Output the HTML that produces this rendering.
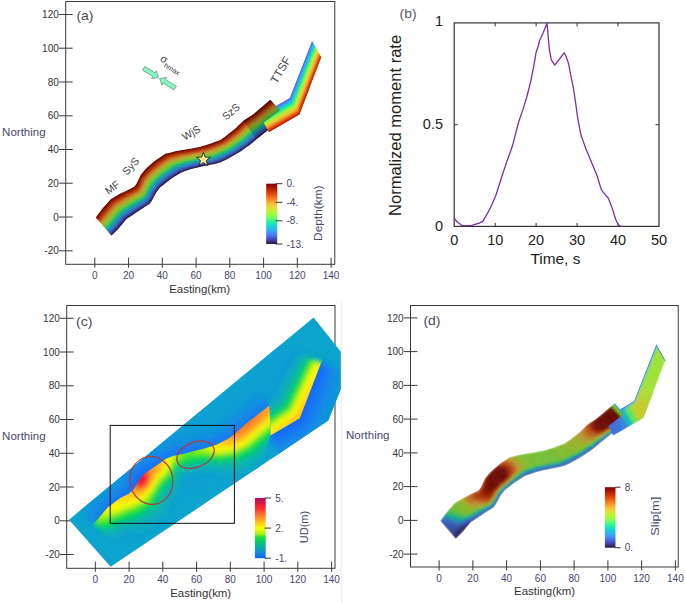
<!DOCTYPE html>
<html><head><meta charset="utf-8"><style>
html,body{margin:0;padding:0;background:#fff;width:685px;height:603px;overflow:hidden;}
svg{display:block;}
text{font-family:"Liberation Sans",sans-serif;}
</style></head><body>
<svg width="685" height="603" viewBox="0 0 685 603">
<defs><linearGradient id="gturbo" x1="0" y1="0" x2="0" y2="1"><stop offset="0.000" stop-color="#7a0403"/><stop offset="0.050" stop-color="#a11201"/><stop offset="0.100" stop-color="#c32503"/><stop offset="0.150" stop-color="#dd3d08"/><stop offset="0.200" stop-color="#f05b12"/><stop offset="0.250" stop-color="#fb7e21"/><stop offset="0.300" stop-color="#fea431"/><stop offset="0.350" stop-color="#f6c33a"/><stop offset="0.400" stop-color="#e1dd37"/><stop offset="0.450" stop-color="#c3f134"/><stop offset="0.500" stop-color="#a4fc3c"/><stop offset="0.550" stop-color="#79fe59"/><stop offset="0.600" stop-color="#46f884"/><stop offset="0.650" stop-color="#20eaac"/><stop offset="0.700" stop-color="#19d5cd"/><stop offset="0.750" stop-color="#28bceb"/><stop offset="0.800" stop-color="#3e9bfe"/><stop offset="0.850" stop-color="#477bf2"/><stop offset="0.900" stop-color="#4559cb"/><stop offset="0.950" stop-color="#3d358b"/><stop offset="1.000" stop-color="#30123b"/></linearGradient>
<linearGradient id="gcc" x1="0" y1="0" x2="0" y2="1"><stop offset="0.000" stop-color="#b0105a"/><stop offset="0.050" stop-color="#cc144d"/><stop offset="0.100" stop-color="#e81840"/><stop offset="0.150" stop-color="#f82530"/><stop offset="0.200" stop-color="#ff3e2b"/><stop offset="0.250" stop-color="#ff5f2e"/><stop offset="0.300" stop-color="#ff8030"/><stop offset="0.350" stop-color="#ffa028"/><stop offset="0.400" stop-color="#ffc020"/><stop offset="0.450" stop-color="#ffdf10"/><stop offset="0.500" stop-color="#ffff00"/><stop offset="0.550" stop-color="#cff810"/><stop offset="0.600" stop-color="#a0f020"/><stop offset="0.650" stop-color="#20e040"/><stop offset="0.700" stop-color="#09d557"/><stop offset="0.750" stop-color="#06c478"/><stop offset="0.800" stop-color="#10b0a0"/><stop offset="0.850" stop-color="#10a0b8"/><stop offset="0.900" stop-color="#1090d0"/><stop offset="0.950" stop-color="#1078e7"/><stop offset="1.000" stop-color="#1060ff"/></linearGradient>
<filter id="b1" x="-50%" y="-50%" width="200%" height="200%"><feGaussianBlur stdDeviation="1"/></filter>
<filter id="b2" x="-50%" y="-50%" width="200%" height="200%"><feGaussianBlur stdDeviation="2"/></filter>
<filter id="b3" x="-50%" y="-50%" width="200%" height="200%"><feGaussianBlur stdDeviation="3"/></filter>
<filter id="b4" x="-50%" y="-50%" width="200%" height="200%"><feGaussianBlur stdDeviation="4"/></filter>
<filter id="b5" x="-50%" y="-50%" width="200%" height="200%"><feGaussianBlur stdDeviation="5"/></filter>
<filter id="b6" x="-50%" y="-50%" width="200%" height="200%"><feGaussianBlur stdDeviation="6"/></filter>
<filter id="b8" x="-50%" y="-50%" width="200%" height="200%"><feGaussianBlur stdDeviation="8"/></filter>
<filter id="b10" x="-50%" y="-50%" width="200%" height="200%"><feGaussianBlur stdDeviation="10"/></filter>
<clipPath id="cse"><polygon points="182.6,183.8 360.8,49.6 400.0,200.0 200.0,300.0"/></clipPath>
<clipPath id="cdom"><polygon points="69.0,519.7 313.6,317.4 340.7,351.6 341.2,352.2 341.2,388.0 328.3,420.5 110.6,566.8"/></clipPath>
<clipPath id="chw"><polygon points="96.0,521.3 107.9,507.2 119.9,498.2 128.8,493.7 134.0,489.3 137.8,481.8 142.2,475.8 149.7,469.9 158.7,463.9 166.1,458.7 173.6,455.7 185.5,453.4 190.0,452.0 204.6,448.4 216.3,444.7 228.0,438.9 236.7,432.3 245.5,424.3 255.7,416.3 269.6,405.3 270.5,435.5 262.0,460.0 200.0,600.0 60.0,600.0 60.0,540.0 85.0,533.0"/></clipPath>
<clipPath id="cthw"><polygon points="270.5,435.5 299.8,418.3 321.7,361.2 332.7,332.7 300.0,300.0 250.0,370.0 269.6,405.3"/></clipPath>
<clipPath id="cribd"><polygon points="440.1,520.8 442.4,517.7 444.8,514.6 446.2,512.7 447.1,511.5 447.2,511.4 449.7,508.6 452.3,505.8 454.4,503.3 454.8,502.9 455.0,502.7 458.1,500.8 459.2,500.2 461.4,498.9 462.9,498.0 464.8,497.0 468.3,495.3 469.3,494.8 470.8,494.1 471.8,493.6 475.2,491.9 478.5,490.2 478.7,490.1 478.7,490.1 481.0,487.0 483.0,482.6 485.0,478.3 487.6,475.2 489.1,473.5 489.7,472.8 490.3,472.2 493.2,469.4 494.3,468.4 496.3,466.7 498.7,464.7 499.4,464.1 500.4,463.3 502.7,461.8 506.0,459.6 508.8,457.7 509.4,457.3 509.6,457.2 513.3,456.3 517.2,455.3 519.3,454.7 519.8,454.6 521.2,454.4 525.2,453.7 529.2,453.1 529.7,453.0 533.1,452.4 535.2,452.1 537.1,451.7 540.0,451.1 541.1,450.9 545.0,450.1 545.4,450.0 548.7,449.0 548.9,448.9 552.8,447.7 555.4,446.9 555.6,446.8 556.6,446.4 560.4,445.0 564.2,443.6 564.3,443.6 567.5,441.3 569.0,440.3 570.6,439.2 570.8,439.0 574.0,436.5 577.2,433.9 579.1,432.3 579.8,431.8 580.3,431.4 583.2,428.5 585.5,426.3 586.1,425.7 587.7,424.2 589.2,423.2 592.3,421.2 592.6,421.0 596.0,418.8 596.9,418.2 599.2,416.3 599.4,416.1 602.3,413.7 604.3,412.0 605.4,411.1 608.4,408.5 611.5,405.8 614.6,403.2 630.3,420.4 627.1,422.8 623.8,425.1 620.6,427.5 619.4,428.3 617.3,429.8 614.3,432.0 614.1,432.2 611.7,434.0 610.9,434.6 607.7,437.1 607.4,437.3 604.6,439.6 603.2,440.7 601.4,442.1 600.8,442.6 598.4,444.7 595.3,447.3 594.9,447.7 594.2,448.3 592.1,449.7 588.8,452.0 585.6,454.3 585.3,454.5 583.7,455.6 582.2,456.5 578.8,458.4 578.7,458.4 575.2,460.4 571.7,462.4 570.7,462.9 570.6,463.0 568.1,464.2 564.5,465.9 564.3,466.0 560.9,466.8 560.6,466.9 556.7,467.8 555.6,468.0 552.7,468.6 550.8,468.9 548.8,469.3 545.4,470.0 544.9,470.1 541.0,471.1 537.1,472.0 535.7,472.4 535.2,472.5 533.2,473.2 529.5,474.5 525.9,475.8 525.7,475.9 525.0,476.1 522.2,477.9 518.8,480.0 516.6,481.5 515.5,482.2 514.7,482.7 512.3,484.6 510.2,486.2 509.1,487.1 505.9,489.6 505.3,490.1 504.5,490.7 503.2,492.4 500.7,495.6 498.4,499.9 496.0,504.3 493.7,507.4 493.7,507.4 493.6,507.5 490.5,509.5 487.3,511.5 486.4,512.1 485.0,513.0 484.1,513.6 480.9,515.7 479.1,516.9 477.7,517.9 475.5,519.3 474.5,520.0 471.5,521.9 471.3,522.1 470.8,522.4 468.7,524.9 466.3,527.8 463.9,530.7 463.8,530.8 462.9,531.9 461.2,533.6 458.5,536.3 455.8,539.0"/></clipPath>
<clipPath id="cttd"><polygon points="603.8,418.8 634.1,401.3 656.4,344.4 665.5,360.8 643.6,417.9 613.3,435.4"/></clipPath>
<clipPath id="csed"><polygon points="526.9,487.2 705.1,353.0 744.3,503.4 544.3,603.4"/></clipPath></defs>
<rect x="65.7" y="1.5" width="269.1" height="262.8" fill="none" stroke="#3a3a3a" stroke-width="1"/>
<line x1="59.0" y1="250.8" x2="72.7" y2="250.8" stroke="#3a3a3a" stroke-width="1"/>
<text x="58.8" y="254.3" font-size="10" fill="#333" text-anchor="end">-20</text>
<line x1="59.0" y1="217.0" x2="72.7" y2="217.0" stroke="#3a3a3a" stroke-width="1"/>
<text x="58.8" y="220.6" font-size="10" fill="#333" text-anchor="end">0</text>
<line x1="59.0" y1="183.2" x2="72.7" y2="183.2" stroke="#3a3a3a" stroke-width="1"/>
<text x="58.8" y="186.8" font-size="10" fill="#333" text-anchor="end">20</text>
<line x1="59.0" y1="149.5" x2="72.7" y2="149.5" stroke="#3a3a3a" stroke-width="1"/>
<text x="58.8" y="153.1" font-size="10" fill="#333" text-anchor="end">40</text>
<line x1="59.0" y1="115.8" x2="72.7" y2="115.8" stroke="#3a3a3a" stroke-width="1"/>
<text x="58.8" y="119.3" font-size="10" fill="#333" text-anchor="end">60</text>
<line x1="59.0" y1="82.0" x2="72.7" y2="82.0" stroke="#3a3a3a" stroke-width="1"/>
<text x="58.8" y="85.6" font-size="10" fill="#333" text-anchor="end">80</text>
<line x1="59.0" y1="48.2" x2="72.7" y2="48.2" stroke="#3a3a3a" stroke-width="1"/>
<text x="58.8" y="51.9" font-size="10" fill="#333" text-anchor="end">100</text>
<line x1="59.0" y1="14.5" x2="72.7" y2="14.5" stroke="#3a3a3a" stroke-width="1"/>
<text x="58.8" y="18.1" font-size="10" fill="#333" text-anchor="end">120</text>
<line x1="94.8" y1="257.6" x2="94.8" y2="267.8" stroke="#3a3a3a" stroke-width="1"/>
<text x="94.8" y="279.3" font-size="10" fill="#464672" text-anchor="middle">0</text>
<line x1="128.6" y1="257.6" x2="128.6" y2="267.8" stroke="#3a3a3a" stroke-width="1"/>
<text x="128.6" y="279.3" font-size="10" fill="#464672" text-anchor="middle">20</text>
<line x1="162.3" y1="257.6" x2="162.3" y2="267.8" stroke="#3a3a3a" stroke-width="1"/>
<text x="162.3" y="279.3" font-size="10" fill="#464672" text-anchor="middle">40</text>
<line x1="196.1" y1="257.6" x2="196.1" y2="267.8" stroke="#3a3a3a" stroke-width="1"/>
<text x="196.1" y="279.3" font-size="10" fill="#464672" text-anchor="middle">60</text>
<line x1="229.8" y1="257.6" x2="229.8" y2="267.8" stroke="#3a3a3a" stroke-width="1"/>
<text x="229.8" y="279.3" font-size="10" fill="#464672" text-anchor="middle">80</text>
<line x1="263.6" y1="257.6" x2="263.6" y2="267.8" stroke="#3a3a3a" stroke-width="1"/>
<text x="263.6" y="279.3" font-size="10" fill="#464672" text-anchor="middle">100</text>
<line x1="297.3" y1="257.6" x2="297.3" y2="267.8" stroke="#3a3a3a" stroke-width="1"/>
<text x="297.3" y="279.3" font-size="10" fill="#464672" text-anchor="middle">120</text>
<line x1="331.1" y1="257.6" x2="331.1" y2="267.8" stroke="#3a3a3a" stroke-width="1"/>
<text x="331.1" y="279.3" font-size="10" fill="#464672" text-anchor="middle">140</text>
<text x="169.2" y="292.6" font-size="10.5" fill="#333" textLength="61" lengthAdjust="spacingAndGlyphs">Easting(km)</text>
<text x="2.1" y="136.0" font-size="10" fill="#464672" textLength="43.5" lengthAdjust="spacingAndGlyphs">Northing</text>
<text x="76.4" y="20.2" font-size="13" fill="#4a4a5a" textLength="17" lengthAdjust="spacingAndGlyphs">(a)</text>
<polygon points="259.5,115.4 289.8,97.9 312.1,41.0 312.9,42.5 290.6,99.4 260.3,116.9" fill="#4466da"/>
<polygon points="260.0,116.3 290.3,98.8 312.6,41.9 313.4,43.4 291.2,100.3 260.9,117.8" fill="#4383f4"/>
<polygon points="260.6,117.2 290.9,99.7 313.1,42.8 313.9,44.3 291.7,101.2 261.4,118.7" fill="#389ef5"/>
<polygon points="261.1,118.2 291.4,100.7 313.6,43.7 314.4,45.2 292.2,102.1 261.9,119.6" fill="#24bae0"/>
<polygon points="261.6,119.1 291.9,101.6 314.1,44.6 314.9,46.1 292.8,103.1 262.5,120.6" fill="#17d3c2"/>
<polygon points="262.1,120.0 292.4,102.5 314.6,45.6 315.4,47.0 293.3,104.0 263.0,121.5" fill="#1fe3a7"/>
<polygon points="262.7,120.9 293.0,103.4 315.1,46.5 315.9,47.9 293.8,104.9 263.5,122.4" fill="#41ef83"/>
<polygon points="263.2,121.9 293.5,104.4 315.6,47.4 316.4,48.8 294.3,105.8 264.0,123.3" fill="#6ef65c"/>
<polygon points="263.7,122.8 294.0,105.3 316.1,48.3 317.0,49.7 294.9,106.8 264.6,124.3" fill="#94f640"/>
<polygon points="264.2,123.7 294.6,106.2 316.6,49.2 317.5,50.7 295.4,107.7 265.1,125.2" fill="#b4ef33"/>
<polygon points="264.8,124.6 295.1,107.1 317.2,50.1 318.0,51.6 295.9,108.6 265.6,126.1" fill="#d0df34"/>
<polygon points="265.3,125.5 295.6,108.0 317.7,51.0 318.5,52.5 296.4,109.5 266.1,127.0" fill="#e5cb38"/>
<polygon points="265.8,126.5 296.1,109.0 318.2,51.9 319.0,53.4 297.0,110.4 266.7,127.9" fill="#f3b236"/>
<polygon points="266.4,127.4 296.7,109.9 318.7,52.8 319.5,54.3 297.5,111.4 267.2,128.9" fill="#f6942b"/>
<polygon points="266.9,128.3 297.2,110.8 319.2,53.8 320.0,55.2 298.0,112.3 267.7,129.8" fill="#f2741d"/>
<polygon points="267.4,129.2 297.7,111.7 319.7,54.7 320.5,56.1 298.6,113.2 268.3,130.7" fill="#e6530f"/>
<polygon points="267.9,130.2 298.2,112.7 320.2,55.6 321.0,57.0 299.1,114.1 268.8,131.6" fill="#d53907"/>
<polygon points="268.5,131.1 298.8,113.6 320.7,56.5 321.2,57.4 299.3,114.5 269.0,132.0" fill="#bf2503"/>
<polygon points="95.8,217.4 98.1,214.3 100.5,211.2 101.9,209.3 102.8,208.1 102.9,208.0 105.4,205.2 108.0,202.4 110.1,199.9 110.5,199.5 110.7,199.3 113.8,197.4 114.9,196.8 117.1,195.5 118.6,194.6 120.5,193.6 124.0,191.9 125.0,191.4 126.5,190.7 127.5,190.2 130.9,188.5 134.2,186.8 134.4,186.7 134.4,186.7 136.7,183.6 138.7,179.2 140.7,174.9 143.3,171.8 144.8,170.1 145.4,169.4 146.0,168.8 148.9,166.0 150.0,165.0 152.0,163.3 154.4,161.3 155.1,160.7 156.1,159.9 158.4,158.4 161.7,156.2 164.5,154.3 165.1,153.9 165.3,153.8 169.0,152.9 172.9,151.9 175.0,151.3 175.5,151.2 176.9,151.0 180.9,150.3 184.9,149.7 185.4,149.6 188.8,149.0 190.9,148.7 192.8,148.3 195.7,147.7 196.8,147.5 200.7,146.7 201.1,146.6 204.4,145.6 204.6,145.5 208.5,144.3 211.1,143.5 211.3,143.4 212.3,143.0 216.1,141.6 219.9,140.2 220.0,140.2 223.2,137.9 224.7,136.9 226.3,135.8 226.5,135.6 229.7,133.1 232.9,130.5 234.8,128.9 235.5,128.4 236.0,128.0 238.9,125.1 241.2,122.9 241.8,122.3 243.4,120.8 244.9,119.8 248.0,117.8 248.3,117.6 251.7,115.4 252.6,114.8 254.9,112.9 255.1,112.7 258.0,110.3 260.0,108.6 261.1,107.7 264.1,105.1 267.2,102.4 270.3,99.8 271.3,100.9 268.2,103.5 265.1,106.1 262.0,108.7 260.9,109.6 258.9,111.3 256.0,113.7 255.8,113.9 253.5,115.8 252.6,116.4 249.2,118.6 248.9,118.8 245.9,120.8 244.4,121.8 242.7,123.3 242.1,123.9 239.8,126.1 236.9,128.9 236.4,129.4 235.7,129.9 233.8,131.5 230.6,134.0 227.5,136.5 227.2,136.7 225.6,137.9 224.1,138.9 220.9,141.1 220.8,141.1 217.0,142.6 213.2,144.0 212.2,144.4 212.1,144.4 209.4,145.3 205.6,146.5 205.4,146.6 202.1,147.6 201.7,147.7 197.7,148.5 196.7,148.8 193.8,149.3 191.9,149.7 189.8,150.1 186.4,150.6 185.8,150.7 181.8,151.4 177.8,152.1 176.5,152.3 175.9,152.4 173.9,153.0 170.0,154.0 166.3,154.9 166.1,155.1 165.5,155.5 162.7,157.3 159.4,159.5 157.1,161.0 156.1,161.9 155.4,162.4 153.0,164.4 151.0,166.1 149.9,167.1 147.0,169.9 146.4,170.5 145.7,171.2 144.3,172.9 141.7,176.0 139.6,180.3 137.6,184.7 135.3,187.8 135.3,187.8 135.2,187.8 131.9,189.5 128.4,191.3 127.5,191.8 126.0,192.5 125.0,193.0 121.5,194.8 119.6,195.8 118.1,196.6 115.9,198.0 114.8,198.6 111.7,200.5 111.5,200.7 111.1,201.1 109.0,203.5 106.4,206.4 103.9,209.2 103.8,209.3 102.9,210.5 101.5,212.4 99.1,215.5 96.8,218.5" fill="#690601"/>
<polygon points="96.4,218.1 98.8,215.0 101.1,212.0 102.6,210.0 103.4,208.9 103.5,208.7 106.0,206.0 108.6,203.1 110.8,200.7 111.2,200.2 111.3,200.0 114.4,198.2 115.5,197.6 117.8,196.2 119.2,195.3 121.2,194.4 124.6,192.6 125.6,192.1 127.1,191.4 128.1,190.9 131.5,189.1 134.8,187.4 135.0,187.4 135.0,187.4 137.3,184.3 139.3,179.9 141.3,175.6 143.9,172.5 145.4,170.8 146.0,170.1 146.6,169.5 149.6,166.7 150.6,165.7 152.6,164.0 155.0,162.0 155.7,161.4 156.7,160.6 159.0,159.1 162.4,156.9 165.1,155.0 165.7,154.6 165.9,154.5 169.6,153.6 173.5,152.5 175.6,152.0 176.1,151.9 177.5,151.7 181.5,151.0 185.5,150.3 186.0,150.2 189.4,149.7 191.5,149.3 193.4,149.0 196.3,148.4 197.4,148.1 201.3,147.3 201.7,147.2 205.0,146.2 205.2,146.2 209.1,144.9 211.7,144.1 211.9,144.0 212.9,143.6 216.7,142.2 220.5,140.8 220.6,140.8 223.8,138.5 225.3,137.5 226.9,136.4 227.1,136.2 230.3,133.7 233.4,131.1 235.4,129.6 236.1,129.0 236.5,128.6 239.5,125.8 241.8,123.5 242.4,123.0 244.0,121.4 245.5,120.4 248.6,118.4 248.9,118.2 252.3,116.0 253.2,115.4 255.5,113.5 255.7,113.3 258.6,110.9 260.6,109.2 261.7,108.3 264.7,105.7 267.8,103.1 270.9,100.5 271.9,101.5 268.8,104.1 265.7,106.7 262.6,109.3 261.5,110.2 259.5,111.9 256.6,114.3 256.4,114.5 254.1,116.4 253.2,117.0 249.8,119.2 249.5,119.4 246.5,121.4 244.9,122.5 243.3,124.0 242.7,124.5 240.4,126.8 237.5,129.5 237.0,130.0 236.3,130.5 234.4,132.1 231.2,134.6 228.0,137.1 227.8,137.3 226.2,138.4 224.7,139.4 221.4,141.7 221.4,141.7 217.6,143.2 213.8,144.6 212.8,145.0 212.7,145.1 210.0,145.9 206.2,147.2 206.0,147.3 202.7,148.3 202.3,148.4 198.3,149.2 197.3,149.4 194.4,150.0 192.5,150.4 190.4,150.7 187.0,151.3 186.4,151.4 182.4,152.1 178.5,152.7 177.1,153.0 176.6,153.1 174.5,153.7 170.6,154.7 166.9,155.7 166.7,155.8 166.1,156.2 163.4,158.0 160.0,160.2 157.7,161.7 156.7,162.6 156.0,163.1 153.6,165.1 151.6,166.8 150.5,167.8 147.6,170.5 147.0,171.1 146.3,171.9 144.9,173.5 142.3,176.6 140.2,181.0 138.2,185.3 135.9,188.4 135.9,188.4 135.7,188.5 132.5,190.2 129.0,192.0 128.1,192.5 126.6,193.2 125.6,193.8 122.2,195.5 120.2,196.5 118.8,197.4 116.5,198.7 115.5,199.4 112.3,201.2 112.2,201.4 111.8,201.8 109.6,204.3 107.0,207.2 104.6,209.9 104.5,210.1 103.6,211.2 102.1,213.1 99.7,216.2 97.4,219.2" fill="#801001"/>
<polygon points="97.0,218.8 99.4,215.7 101.7,212.7 103.2,210.8 104.1,209.6 104.2,209.5 106.6,206.7 109.2,203.8 111.4,201.4 111.8,201.0 112.0,200.8 115.1,198.9 116.1,198.3 118.4,196.9 119.8,196.1 121.8,195.1 125.2,193.3 126.2,192.8 127.7,192.1 128.7,191.6 132.1,189.8 135.4,188.1 135.5,188.0 135.6,188.0 137.9,184.9 139.9,180.6 141.9,176.2 144.5,173.1 145.9,171.5 146.6,170.7 147.2,170.1 150.2,167.4 151.2,166.4 153.2,164.7 155.6,162.7 156.3,162.1 157.3,161.3 159.6,159.8 163.0,157.6 165.8,155.7 166.4,155.4 166.6,155.2 170.2,154.3 174.2,153.2 176.2,152.7 176.7,152.6 178.1,152.3 182.1,151.7 186.1,151.0 186.6,150.9 190.1,150.3 192.1,150.0 194.0,149.6 196.9,149.0 198.0,148.8 201.9,148.0 202.3,147.9 205.6,146.9 205.8,146.8 209.7,145.6 212.3,144.7 212.5,144.6 213.5,144.3 217.3,142.8 221.0,141.4 221.1,141.3 224.4,139.1 225.8,138.1 227.4,137.0 227.7,136.8 230.8,134.3 234.0,131.7 236.0,130.2 236.7,129.6 237.1,129.2 240.1,126.4 242.4,124.2 243.0,123.6 244.6,122.1 246.1,121.1 249.2,119.0 249.5,118.8 252.8,116.6 253.7,116.0 256.0,114.1 256.3,113.9 259.1,111.5 261.2,109.9 262.2,108.9 265.3,106.3 268.4,103.7 271.5,101.1 272.5,102.2 269.4,104.8 266.3,107.4 263.2,110.0 262.1,110.9 260.1,112.5 257.2,114.9 256.9,115.1 254.7,117.0 253.8,117.6 250.4,119.8 250.1,120.0 247.0,122.1 245.5,123.1 243.9,124.6 243.3,125.2 241.0,127.4 238.1,130.2 237.6,130.6 236.9,131.2 234.9,132.7 231.8,135.2 228.6,137.7 228.3,137.9 226.7,139.0 225.3,140.0 222.0,142.2 221.9,142.3 218.2,143.8 214.4,145.2 213.4,145.6 213.2,145.7 210.6,146.6 206.8,147.9 206.6,147.9 203.3,148.9 202.9,149.0 198.9,149.8 197.9,150.0 195.0,150.6 193.1,151.0 191.0,151.4 187.6,151.9 187.0,152.0 183.0,152.7 179.1,153.4 177.7,153.7 177.2,153.8 175.1,154.3 171.2,155.4 167.6,156.4 167.4,156.5 166.8,156.9 164.0,158.7 160.6,160.9 158.3,162.4 157.3,163.3 156.6,163.8 154.2,165.8 152.2,167.5 151.1,168.5 148.2,171.2 147.6,171.8 146.9,172.5 145.5,174.2 142.9,177.3 140.8,181.6 138.8,186.0 136.5,189.1 136.5,189.1 136.3,189.2 133.1,190.9 129.6,192.7 128.7,193.2 127.2,193.9 126.2,194.5 122.8,196.2 120.8,197.2 119.4,198.1 117.1,199.5 116.1,200.1 113.0,202.0 112.8,202.1 112.4,202.6 110.2,205.0 107.7,207.9 105.2,210.7 105.1,210.8 104.2,212.0 102.7,213.8 100.4,216.9 98.0,219.9" fill="#941b02"/>
<polygon points="97.6,219.5 100.0,216.5 102.4,213.4 103.8,211.5 104.7,210.4 104.8,210.2 107.3,207.5 109.9,204.6 112.0,202.1 112.4,201.7 112.6,201.5 115.7,199.7 116.8,199.0 119.0,197.7 120.5,196.8 122.4,195.8 125.8,194.0 126.8,193.5 128.3,192.8 129.3,192.3 132.7,190.5 136.0,188.8 136.1,188.7 136.1,188.7 138.4,185.6 140.5,181.2 142.5,176.9 145.1,173.8 146.5,172.1 147.2,171.4 147.8,170.8 150.8,168.1 151.8,167.1 153.8,165.4 156.2,163.4 156.9,162.8 158.0,162.0 160.2,160.5 163.6,158.3 166.4,156.4 167.0,156.1 167.2,155.9 170.9,155.0 174.8,153.9 176.8,153.4 177.3,153.3 178.7,153.0 182.7,152.3 186.7,151.6 187.2,151.6 190.7,151.0 192.7,150.6 194.6,150.2 197.5,149.7 198.6,149.4 202.5,148.6 202.9,148.5 206.2,147.5 206.4,147.5 210.2,146.2 212.9,145.3 213.0,145.3 214.1,144.9 217.8,143.4 221.6,141.9 221.7,141.9 224.9,139.7 226.4,138.7 228.0,137.6 228.2,137.4 231.4,134.9 234.6,132.4 236.6,130.8 237.2,130.2 237.7,129.8 240.6,127.0 243.0,124.8 243.6,124.2 245.2,122.7 246.7,121.7 249.7,119.7 250.1,119.5 253.4,117.2 254.3,116.6 256.6,114.7 256.8,114.5 259.7,112.2 261.7,110.5 262.8,109.6 265.9,107.0 269.0,104.4 272.1,101.8 273.1,102.8 270.0,105.4 266.9,108.0 263.8,110.6 262.7,111.5 260.6,113.1 257.7,115.5 257.5,115.7 255.2,117.6 254.3,118.2 251.0,120.4 250.7,120.6 247.6,122.7 246.1,123.7 244.5,125.2 243.9,125.8 241.6,128.0 238.6,130.8 238.2,131.2 237.5,131.8 235.5,133.3 232.3,135.8 229.1,138.3 228.9,138.5 227.3,139.6 225.8,140.6 222.6,142.8 222.5,142.9 218.7,144.3 215.0,145.8 214.0,146.3 213.8,146.3 211.2,147.2 207.4,148.5 207.2,148.6 203.8,149.6 203.5,149.6 199.5,150.5 198.5,150.7 195.6,151.3 193.7,151.7 191.6,152.0 188.2,152.6 187.6,152.7 183.7,153.4 179.7,154.1 178.3,154.3 177.8,154.5 175.8,155.0 171.9,156.1 168.2,157.1 168.0,157.2 167.4,157.6 164.6,159.4 161.2,161.6 159.0,163.1 157.9,163.9 157.2,164.5 154.8,166.5 152.8,168.1 151.7,169.1 148.8,171.9 148.2,172.5 147.5,173.2 146.1,174.9 143.5,178.0 141.4,182.3 139.4,186.7 137.1,189.8 137.0,189.8 136.9,189.8 133.6,191.6 130.2,193.4 129.3,193.9 127.8,194.6 126.8,195.2 123.4,196.9 121.5,197.9 120.0,198.8 117.8,200.2 116.7,200.8 113.6,202.7 113.4,202.9 113.0,203.3 110.9,205.7 108.3,208.6 105.9,211.4 105.8,211.5 104.9,212.7 103.4,214.6 101.0,217.6 98.6,220.6" fill="#a52905"/>
<polygon points="98.2,220.2 100.6,217.2 103.0,214.1 104.5,212.3 105.4,211.1 105.5,211.0 107.9,208.2 110.5,205.3 112.7,202.9 113.1,202.4 113.2,202.3 116.3,200.4 117.4,199.8 119.6,198.4 121.1,197.5 123.0,196.5 126.4,194.7 127.4,194.2 128.9,193.5 129.9,193.0 133.3,191.2 136.6,189.4 136.7,189.4 136.7,189.4 139.0,186.3 141.1,181.9 143.1,177.6 145.7,174.5 147.1,172.8 147.8,172.1 148.4,171.5 151.4,168.7 152.5,167.7 154.4,166.1 156.9,164.1 157.6,163.5 158.6,162.7 160.9,161.2 164.2,159.0 167.0,157.1 167.6,156.8 167.8,156.7 171.5,155.7 175.4,154.6 177.4,154.1 178.0,153.9 179.3,153.7 183.3,153.0 187.3,152.3 187.8,152.2 191.3,151.6 193.3,151.3 195.2,150.9 198.1,150.3 199.2,150.1 203.1,149.3 203.5,149.2 206.8,148.2 207.0,148.1 210.8,146.8 213.5,145.9 213.6,145.9 214.6,145.5 218.4,144.0 222.1,142.5 222.2,142.5 225.5,140.3 227.0,139.3 228.6,138.2 228.8,138.0 232.0,135.5 235.2,133.0 237.1,131.4 237.8,130.9 238.3,130.4 241.2,127.6 243.6,125.4 244.2,124.9 245.8,123.3 247.3,122.3 250.3,120.3 250.6,120.1 254.0,117.8 254.9,117.2 257.2,115.3 257.4,115.1 260.3,112.8 262.3,111.1 263.4,110.2 266.5,107.6 269.6,105.0 272.7,102.4 273.7,103.5 270.6,106.1 267.5,108.6 264.3,111.2 263.3,112.1 261.2,113.8 258.3,116.1 258.1,116.3 255.8,118.2 254.9,118.8 251.6,121.1 251.3,121.3 248.2,123.3 246.7,124.4 245.1,125.9 244.5,126.4 242.2,128.6 239.2,131.4 238.7,131.8 238.1,132.4 236.1,133.9 232.9,136.4 229.7,138.9 229.5,139.1 227.9,140.2 226.4,141.2 223.1,143.4 223.0,143.4 219.3,144.9 215.6,146.5 214.6,146.9 214.4,146.9 211.8,147.8 208.0,149.2 207.8,149.2 204.4,150.2 204.1,150.3 200.1,151.1 199.1,151.3 196.2,151.9 194.3,152.3 192.2,152.7 188.8,153.3 188.2,153.4 184.3,154.1 180.3,154.8 178.9,155.0 178.4,155.2 176.4,155.7 172.5,156.8 168.8,157.8 168.6,157.9 168.0,158.3 165.2,160.1 161.9,162.3 159.6,163.8 158.5,164.6 157.8,165.2 155.4,167.2 153.4,168.8 152.4,169.8 149.4,172.5 148.8,173.1 148.1,173.8 146.7,175.5 144.1,178.6 142.0,183.0 139.9,187.3 137.6,190.4 137.6,190.4 137.5,190.5 134.2,192.2 130.8,194.1 129.9,194.6 128.4,195.3 127.4,195.9 124.0,197.7 122.1,198.7 120.6,199.6 118.4,200.9 117.3,201.6 114.3,203.4 114.1,203.6 113.7,204.0 111.5,206.5 108.9,209.4 106.5,212.1 106.4,212.3 105.5,213.4 104.0,215.3 101.6,218.3 99.2,221.3" fill="#b23809"/>
<polygon points="98.8,220.9 101.2,217.9 103.6,214.9 105.1,213.0 106.0,211.8 106.1,211.7 108.6,208.9 111.1,206.0 113.3,203.6 113.7,203.2 113.9,203.0 117.0,201.1 118.0,200.5 120.3,199.1 121.7,198.2 123.6,197.2 127.0,195.4 128.0,194.9 129.5,194.2 130.5,193.7 133.9,191.8 137.1,190.1 137.3,190.0 137.3,190.0 139.6,186.9 141.7,182.6 143.7,178.2 146.3,175.1 147.7,173.4 148.4,172.7 149.0,172.1 152.0,169.4 153.1,168.4 155.1,166.8 157.5,164.8 158.2,164.2 159.2,163.4 161.5,161.9 164.9,159.7 167.6,157.9 168.2,157.5 168.4,157.4 172.1,156.4 176.0,155.3 178.0,154.8 178.6,154.6 179.9,154.4 183.9,153.7 187.9,153.0 188.4,152.9 191.9,152.3 193.9,151.9 195.8,151.5 198.7,151.0 199.8,150.7 203.7,149.9 204.1,149.8 207.4,148.8 207.6,148.8 211.4,147.5 214.1,146.6 214.2,146.5 215.2,146.1 219.0,144.6 222.7,143.1 222.8,143.0 226.1,140.8 227.5,139.9 229.1,138.7 229.4,138.5 232.6,136.1 235.7,133.6 237.7,132.0 238.4,131.5 238.9,131.0 241.8,128.3 244.1,126.0 244.7,125.5 246.4,124.0 247.9,123.0 250.9,120.9 251.2,120.7 254.6,118.4 255.5,117.8 257.7,115.9 258.0,115.8 260.9,113.4 262.9,111.7 264.0,110.8 267.1,108.3 270.2,105.7 273.3,103.1 274.3,104.2 271.2,106.7 268.0,109.3 264.9,111.8 263.8,112.7 261.8,114.4 258.9,116.7 258.7,116.9 256.4,118.8 255.5,119.4 252.1,121.7 251.8,121.9 248.8,124.0 247.3,125.0 245.7,126.5 245.1,127.0 242.7,129.2 239.8,132.0 239.3,132.4 238.6,133.0 236.7,134.5 233.5,137.0 230.3,139.5 230.0,139.7 228.4,140.8 227.0,141.8 223.7,144.0 223.6,144.0 219.9,145.5 216.1,147.1 215.1,147.5 215.0,147.5 212.4,148.5 208.6,149.8 208.4,149.9 205.0,150.9 204.7,150.9 200.7,151.8 199.7,152.0 196.8,152.6 194.9,153.0 192.8,153.3 189.4,153.9 188.8,154.0 184.9,154.7 180.9,155.5 179.5,155.7 179.0,155.8 177.0,156.4 173.1,157.5 169.4,158.5 169.2,158.6 168.6,159.0 165.8,160.8 162.5,163.0 160.2,164.5 159.2,165.3 158.5,165.9 156.0,167.9 154.0,169.5 153.0,170.5 150.0,173.2 149.4,173.8 148.7,174.5 147.3,176.2 144.7,179.3 142.6,183.6 140.5,188.0 138.2,191.1 138.2,191.1 138.1,191.2 134.8,192.9 131.4,194.8 130.5,195.3 129.0,196.0 128.0,196.6 124.6,198.4 122.7,199.4 121.3,200.3 119.0,201.7 118.0,202.3 114.9,204.2 114.7,204.4 114.3,204.8 112.1,207.2 109.6,210.1 107.1,212.9 107.0,213.0 106.1,214.2 104.6,216.0 102.2,219.0 99.8,222.0" fill="#bb4c10"/>
<polygon points="99.4,221.6 101.8,218.6 104.3,215.6 105.8,213.7 106.7,212.6 106.8,212.4 109.2,209.7 111.8,206.8 113.9,204.3 114.3,203.9 114.5,203.7 117.6,201.9 118.6,201.2 120.9,199.8 122.3,199.0 124.2,198.0 127.7,196.1 128.6,195.6 130.1,194.9 131.1,194.3 134.5,192.5 137.7,190.8 137.9,190.7 137.9,190.7 140.2,187.6 142.2,183.2 144.3,178.9 146.9,175.8 148.3,174.1 149.0,173.4 149.6,172.8 152.6,170.1 153.7,169.1 155.7,167.5 158.1,165.5 158.8,164.9 159.8,164.1 162.1,162.6 165.5,160.4 168.3,158.6 168.9,158.2 169.1,158.1 172.7,157.1 176.6,156.0 178.6,155.4 179.2,155.3 180.5,155.1 184.5,154.3 188.5,153.6 189.0,153.5 192.5,152.9 194.5,152.6 196.4,152.2 199.3,151.6 200.4,151.4 204.3,150.5 204.7,150.5 208.0,149.5 208.2,149.4 212.0,148.1 214.6,147.2 214.8,147.1 215.8,146.7 219.5,145.2 223.3,143.6 223.3,143.6 226.6,141.4 228.1,140.4 229.7,139.3 229.9,139.1 233.1,136.7 236.3,134.2 238.3,132.6 239.0,132.1 239.4,131.6 242.4,128.9 244.7,126.7 245.3,126.1 247.0,124.6 248.5,123.6 251.5,121.5 251.8,121.3 255.1,119.0 256.0,118.4 258.3,116.6 258.5,116.4 261.4,114.0 263.5,112.4 264.6,111.5 267.7,108.9 270.8,106.3 273.9,103.8 274.9,104.8 271.8,107.4 268.6,109.9 265.5,112.5 264.4,113.4 262.4,115.0 259.5,117.3 259.2,117.5 256.9,119.4 256.1,120.0 252.7,122.3 252.4,122.5 249.4,124.6 247.9,125.6 246.3,127.1 245.7,127.7 243.3,129.9 240.4,132.6 239.9,133.1 239.2,133.6 237.2,135.1 234.0,137.6 230.8,140.1 230.6,140.3 229.0,141.4 227.5,142.4 224.2,144.5 224.1,144.6 220.4,146.1 216.7,147.7 215.7,148.1 215.6,148.2 213.0,149.1 209.2,150.5 209.0,150.5 205.6,151.5 205.3,151.6 201.3,152.4 200.3,152.6 197.4,153.2 195.5,153.6 193.4,154.0 190.0,154.6 189.4,154.7 185.5,155.4 181.5,156.1 180.2,156.4 179.6,156.5 177.6,157.1 173.7,158.2 170.1,159.2 169.9,159.3 169.2,159.7 166.5,161.5 163.1,163.7 160.8,165.2 159.8,166.0 159.1,166.6 156.6,168.6 154.7,170.2 153.6,171.2 150.6,173.9 150.0,174.5 149.3,175.2 147.9,176.9 145.3,180.0 143.2,184.3 141.1,188.7 138.8,191.7 138.8,191.7 138.6,191.8 135.4,193.6 132.0,195.4 131.1,196.0 129.6,196.7 128.6,197.3 125.2,199.1 123.3,200.1 121.9,201.0 119.6,202.4 118.6,203.0 115.5,204.9 115.3,205.1 114.9,205.5 112.8,208.0 110.2,210.9 107.8,213.6 107.7,213.8 106.8,214.9 105.3,216.8 102.8,219.7 100.4,222.7" fill="#c16119"/>
<polygon points="100.0,222.3 102.5,219.3 104.9,216.3 106.4,214.5 107.3,213.3 107.4,213.2 109.8,210.4 112.4,207.5 114.5,205.1 115.0,204.6 115.1,204.5 118.2,202.6 119.3,202.0 121.5,200.6 123.0,199.7 124.9,198.7 128.3,196.8 129.2,196.3 130.7,195.6 131.7,195.0 135.1,193.2 138.3,191.4 138.4,191.4 138.4,191.3 140.7,188.3 142.8,183.9 144.9,179.6 147.5,176.5 148.9,174.8 149.6,174.1 150.2,173.5 153.2,170.8 154.3,169.8 156.3,168.2 158.7,166.2 159.4,165.6 160.5,164.8 162.7,163.3 166.1,161.1 168.9,159.3 169.5,158.9 169.7,158.8 173.3,157.8 177.2,156.7 179.2,156.1 179.8,156.0 181.1,155.7 185.1,155.0 189.1,154.3 189.6,154.2 193.1,153.6 195.1,153.2 197.0,152.8 199.9,152.3 201.0,152.0 204.9,151.2 205.3,151.1 208.6,150.1 208.8,150.1 212.6,148.7 215.2,147.8 215.4,147.7 216.4,147.3 220.1,145.8 223.8,144.2 223.9,144.2 227.2,142.0 228.7,141.0 230.3,139.9 230.5,139.7 233.7,137.3 236.9,134.8 238.9,133.2 239.6,132.7 240.0,132.3 243.0,129.5 245.3,127.3 245.9,126.7 247.6,125.2 249.1,124.2 252.1,122.1 252.4,121.9 255.7,119.7 256.6,119.0 258.9,117.2 259.1,117.0 262.0,114.6 264.1,113.0 265.2,112.1 268.3,109.5 271.4,107.0 274.5,104.4 275.5,105.5 272.4,108.0 269.2,110.6 266.1,113.1 265.0,114.0 262.9,115.6 260.0,118.0 259.8,118.1 257.5,120.0 256.6,120.6 253.3,122.9 253.0,123.1 250.0,125.2 248.5,126.3 246.9,127.8 246.3,128.3 243.9,130.5 241.0,133.2 240.5,133.7 239.8,134.2 237.8,135.8 234.6,138.2 231.4,140.7 231.2,140.9 229.6,142.0 228.1,142.9 224.8,145.1 224.7,145.1 221.0,146.7 217.3,148.3 216.3,148.7 216.2,148.8 213.5,149.7 209.8,151.1 209.6,151.2 206.2,152.1 205.9,152.2 201.9,153.1 200.9,153.3 198.0,153.9 196.1,154.3 194.0,154.6 190.6,155.2 190.1,155.3 186.1,156.1 182.1,156.8 180.8,157.1 180.2,157.2 178.2,157.8 174.3,158.9 170.7,159.9 170.5,160.1 169.9,160.4 167.1,162.2 163.7,164.4 161.4,165.9 160.4,166.7 159.7,167.3 157.3,169.3 155.3,170.9 154.2,171.9 151.2,174.6 150.5,175.1 149.9,175.8 148.5,177.5 145.9,180.6 143.8,185.0 141.7,189.3 139.4,192.4 139.4,192.4 139.2,192.5 136.0,194.3 132.6,196.1 131.6,196.7 130.2,197.4 129.2,198.0 125.9,199.8 124.0,200.9 122.5,201.7 120.3,203.1 119.2,203.8 116.2,205.7 116.0,205.8 115.6,206.2 113.4,208.7 110.9,211.6 108.4,214.4 108.3,214.5 107.4,215.7 105.9,217.5 103.5,220.5 101.0,223.4" fill="#c47823"/>
<polygon points="100.6,223.0 103.1,220.0 105.5,217.1 107.0,215.2 107.9,214.1 108.0,213.9 110.5,211.2 113.0,208.2 115.2,205.8 115.6,205.4 115.8,205.2 118.9,203.3 119.9,202.7 122.1,201.3 123.6,200.4 125.5,199.4 128.9,197.6 129.9,197.0 131.3,196.2 132.3,195.7 135.6,193.9 138.9,192.1 139.0,192.0 139.0,192.0 141.3,188.9 143.4,184.6 145.5,180.2 148.1,177.1 149.5,175.4 150.2,174.7 150.8,174.2 153.8,171.5 154.9,170.5 156.9,168.8 159.3,166.9 160.0,166.3 161.1,165.5 163.3,164.0 166.7,161.8 169.5,160.0 170.1,159.6 170.3,159.5 174.0,158.5 177.8,157.4 179.9,156.8 180.4,156.7 181.8,156.4 185.7,155.7 189.7,154.9 190.2,154.8 193.7,154.2 195.7,153.9 197.6,153.5 200.5,152.9 201.6,152.7 205.5,151.8 205.9,151.8 209.2,150.8 209.4,150.7 213.2,149.4 215.8,148.4 216.0,148.4 217.0,147.9 220.7,146.4 224.4,144.8 224.4,144.8 227.7,142.6 229.2,141.6 230.8,140.5 231.1,140.3 234.3,137.9 237.5,135.4 239.5,133.9 240.1,133.3 240.6,132.9 243.6,130.1 245.9,127.9 246.5,127.4 248.2,125.9 249.6,124.8 252.6,122.8 253.0,122.5 256.3,120.3 257.2,119.7 259.5,117.8 259.7,117.6 262.6,115.3 264.7,113.6 265.7,112.7 268.9,110.2 272.0,107.6 275.1,105.1 276.1,106.2 273.0,108.7 269.8,111.2 266.7,113.7 265.6,114.6 263.5,116.2 260.6,118.6 260.4,118.8 258.1,120.6 257.2,121.2 253.9,123.5 253.6,123.7 250.6,125.9 249.1,126.9 247.5,128.4 246.9,128.9 244.5,131.1 241.5,133.8 241.1,134.3 240.4,134.8 238.4,136.4 235.2,138.8 232.0,141.3 231.7,141.4 230.1,142.6 228.6,143.5 225.3,145.7 225.3,145.7 221.6,147.3 217.9,148.9 216.9,149.4 216.7,149.4 214.1,150.4 210.4,151.8 210.2,151.8 206.8,152.8 206.5,152.9 202.5,153.7 201.5,153.9 198.6,154.5 196.7,154.9 194.6,155.3 191.2,155.9 190.7,156.0 186.7,156.7 182.7,157.5 181.4,157.8 180.8,157.9 178.8,158.5 175.0,159.6 171.3,160.7 171.1,160.8 170.5,161.1 167.7,162.9 164.3,165.1 162.1,166.6 161.0,167.4 160.3,168.0 157.9,169.9 155.9,171.6 154.8,172.5 151.8,175.2 151.1,175.8 150.5,176.5 149.1,178.2 146.5,181.3 144.4,185.6 142.2,190.0 139.9,193.1 139.9,193.1 139.8,193.2 136.6,195.0 133.2,196.8 132.2,197.4 130.8,198.1 129.8,198.7 126.5,200.5 124.6,201.6 123.1,202.5 120.9,203.9 119.9,204.5 116.8,206.4 116.6,206.6 116.2,207.0 114.0,209.4 111.5,212.3 109.1,215.1 109.0,215.2 108.1,216.4 106.5,218.2 104.1,221.2 101.6,224.1" fill="#c28c2b"/>
<polygon points="101.2,223.7 103.7,220.7 106.2,217.8 107.7,216.0 108.6,214.8 108.7,214.7 111.1,211.9 113.7,209.0 115.8,206.5 116.2,206.1 116.4,206.0 119.5,204.1 120.5,203.4 122.8,202.0 124.2,201.2 126.1,200.1 129.5,198.3 130.5,197.7 131.9,196.9 132.9,196.4 136.2,194.6 139.5,192.8 139.6,192.7 139.6,192.7 141.9,189.6 144.0,185.2 146.1,180.9 148.7,177.8 150.1,176.1 150.8,175.4 151.4,174.8 154.4,172.1 155.5,171.2 157.5,169.5 159.9,167.6 160.6,167.0 161.7,166.2 164.0,164.7 167.3,162.5 170.1,160.7 170.7,160.3 170.9,160.2 174.6,159.2 178.5,158.1 180.5,157.5 181.0,157.4 182.4,157.1 186.3,156.3 190.3,155.6 190.8,155.5 194.3,154.9 196.3,154.5 198.2,154.1 201.1,153.6 202.2,153.3 206.1,152.5 206.5,152.4 209.8,151.5 210.0,151.4 213.8,150.0 216.4,149.0 216.5,149.0 217.5,148.5 221.2,147.0 224.9,145.4 225.0,145.3 228.3,143.2 229.8,142.2 231.4,141.1 231.6,140.9 234.8,138.5 238.0,136.0 240.0,134.5 240.7,133.9 241.2,133.5 244.1,130.7 246.5,128.5 247.1,128.0 248.7,126.5 250.2,125.5 253.2,123.4 253.5,123.2 256.9,120.9 257.7,120.3 260.0,118.4 260.3,118.2 263.2,115.9 265.2,114.2 266.3,113.4 269.5,110.8 272.6,108.3 275.7,105.8 276.7,106.8 273.6,109.3 270.4,111.8 267.3,114.4 266.2,115.2 264.1,116.9 261.2,119.2 260.9,119.4 258.6,121.2 257.8,121.8 254.5,124.2 254.2,124.4 251.2,126.5 249.7,127.5 248.0,129.0 247.4,129.6 245.1,131.7 242.1,134.5 241.6,134.9 241.0,135.5 239.0,137.0 235.8,139.4 232.5,141.8 232.3,142.0 230.7,143.1 229.2,144.1 225.9,146.2 225.8,146.3 222.1,147.9 218.5,149.5 217.5,150.0 217.3,150.0 214.7,151.0 211.0,152.4 210.8,152.5 207.4,153.4 207.1,153.5 203.1,154.4 202.1,154.6 199.2,155.2 197.3,155.6 195.2,155.9 191.8,156.5 191.3,156.6 187.3,157.4 183.4,158.2 182.0,158.4 181.5,158.6 179.5,159.2 175.6,160.3 171.9,161.4 171.7,161.5 171.1,161.8 168.3,163.6 165.0,165.8 162.7,167.3 161.6,168.1 160.9,168.7 158.5,170.6 156.5,172.3 155.4,173.2 152.4,175.9 151.7,176.5 151.1,177.1 149.7,178.8 147.1,182.0 145.0,186.3 142.8,190.7 140.5,193.7 140.5,193.7 140.4,193.8 137.2,195.6 133.8,197.5 132.8,198.0 131.4,198.8 130.4,199.4 127.1,201.3 125.2,202.3 123.8,203.2 121.5,204.6 120.5,205.2 117.4,207.1 117.2,207.3 116.8,207.7 114.7,210.2 112.1,213.1 109.7,215.8 109.6,216.0 108.7,217.1 107.2,219.0 104.7,221.9 102.2,224.8" fill="#ba9c2d"/>
<polygon points="101.8,224.4 104.3,221.5 106.8,218.5 108.3,216.7 109.2,215.5 109.3,215.4 111.8,212.6 114.3,209.7 116.4,207.3 116.9,206.9 117.0,206.7 120.1,204.8 121.1,204.2 123.4,202.8 124.8,201.9 126.7,200.8 130.1,199.0 131.1,198.4 132.5,197.6 133.4,197.1 136.8,195.2 140.0,193.4 140.2,193.3 140.2,193.3 142.5,190.3 144.6,185.9 146.7,181.6 149.3,178.4 150.7,176.7 151.4,176.1 152.0,175.5 155.0,172.8 156.1,171.8 158.1,170.2 160.5,168.2 161.3,167.7 162.3,166.9 164.6,165.4 168.0,163.2 170.7,161.4 171.4,161.1 171.6,160.9 175.2,159.9 179.1,158.8 181.1,158.2 181.6,158.0 183.0,157.8 186.9,157.0 190.9,156.2 191.4,156.1 194.9,155.5 196.9,155.2 198.8,154.8 201.7,154.2 202.8,154.0 206.7,153.1 207.1,153.1 210.4,152.1 210.6,152.0 214.4,150.6 217.0,149.7 217.1,149.6 218.1,149.2 221.8,147.5 225.5,145.9 225.6,145.9 228.9,143.8 230.4,142.8 232.0,141.7 232.2,141.5 235.4,139.0 238.6,136.6 240.6,135.1 241.3,134.5 241.8,134.1 244.7,131.4 247.1,129.2 247.7,128.6 249.3,127.2 250.8,126.1 253.8,124.0 254.1,123.8 257.4,121.5 258.3,120.9 260.6,119.0 260.8,118.8 263.8,116.5 265.8,114.9 266.9,114.0 270.1,111.5 273.2,108.9 276.3,106.4 277.3,107.5 274.2,110.0 271.0,112.5 267.8,115.0 266.7,115.9 264.7,117.5 261.8,119.8 261.5,120.0 259.2,121.8 258.3,122.5 255.0,124.8 254.7,125.0 251.8,127.1 250.3,128.2 248.6,129.6 248.0,130.2 245.7,132.4 242.7,135.1 242.2,135.5 241.5,136.1 239.5,137.6 236.3,140.0 233.1,142.4 232.9,142.6 231.3,143.7 229.8,144.7 226.4,146.8 226.4,146.8 222.7,148.5 219.0,150.1 218.1,150.6 217.9,150.7 215.3,151.6 211.6,153.1 211.4,153.2 208.0,154.1 207.7,154.2 203.7,155.0 202.7,155.2 199.8,155.8 197.9,156.2 195.8,156.6 192.4,157.2 191.9,157.3 187.9,158.1 184.0,158.9 182.6,159.1 182.1,159.3 180.1,159.9 176.2,161.0 172.6,162.1 172.4,162.2 171.7,162.5 169.0,164.3 165.6,166.5 163.3,168.0 162.3,168.8 161.5,169.3 159.1,171.3 157.1,172.9 156.0,173.9 153.0,176.6 152.3,177.1 151.6,177.8 150.3,179.5 147.7,182.6 145.5,187.0 143.4,191.3 141.1,194.4 141.1,194.4 141.0,194.5 137.8,196.3 134.4,198.2 133.4,198.7 132.0,199.5 131.0,200.1 127.7,202.0 125.8,203.0 124.4,203.9 122.2,205.3 121.1,206.0 118.1,207.9 117.9,208.0 117.4,208.4 115.3,210.9 112.8,213.8 110.4,216.6 110.3,216.7 109.4,217.9 107.8,219.7 105.3,222.6 102.8,225.5" fill="#acab2a"/>
<polygon points="102.4,225.1 104.9,222.2 107.4,219.2 109.0,217.4 109.9,216.3 110.0,216.1 112.4,213.4 114.9,210.5 117.1,208.0 117.5,207.6 117.7,207.4 120.7,205.5 121.8,204.9 124.0,203.5 125.4,202.6 127.3,201.5 130.7,199.7 131.7,199.1 133.1,198.3 134.0,197.8 137.4,195.9 140.6,194.1 140.7,194.0 140.7,194.0 143.0,190.9 145.2,186.6 147.3,182.2 149.9,179.1 151.3,177.4 152.0,176.7 152.6,176.2 155.6,173.5 156.7,172.5 158.7,170.9 161.2,168.9 161.9,168.4 162.9,167.6 165.2,166.1 168.6,163.9 171.4,162.1 172.0,161.8 172.2,161.7 175.8,160.6 179.7,159.4 181.7,158.9 182.2,158.7 183.6,158.5 187.5,157.7 191.5,156.9 192.0,156.8 195.5,156.2 197.5,155.8 199.4,155.4 202.3,154.9 203.4,154.6 207.3,153.8 207.7,153.7 211.0,152.8 211.2,152.7 215.0,151.3 217.6,150.3 217.7,150.2 218.7,149.8 222.4,148.1 226.0,146.5 226.1,146.5 229.4,144.3 230.9,143.4 232.5,142.3 232.8,142.1 236.0,139.6 239.2,137.2 241.2,135.7 241.9,135.1 242.3,134.7 245.3,132.0 247.7,129.8 248.3,129.3 249.9,127.8 251.4,126.7 254.4,124.6 254.7,124.4 258.0,122.1 258.9,121.5 261.2,119.6 261.4,119.4 264.3,117.1 266.4,115.5 267.5,114.6 270.6,112.1 273.8,109.6 276.9,107.1 277.9,108.1 274.7,110.6 271.6,113.1 268.4,115.6 267.3,116.5 265.3,118.1 262.3,120.4 262.1,120.6 259.8,122.4 258.9,123.1 255.6,125.4 255.3,125.6 252.4,127.7 250.9,128.8 249.2,130.3 248.6,130.8 246.2,133.0 243.3,135.7 242.8,136.1 242.1,136.7 240.1,138.2 236.9,140.6 233.7,143.0 233.4,143.2 231.8,144.3 230.3,145.3 227.0,147.4 226.9,147.4 223.3,149.1 219.6,150.8 218.6,151.2 218.5,151.3 215.9,152.3 212.2,153.7 212.0,153.8 208.6,154.7 208.3,154.8 204.3,155.7 203.3,155.9 200.4,156.5 198.5,156.9 196.4,157.2 193.0,157.8 192.5,157.9 188.5,158.7 184.6,159.5 183.2,159.8 182.7,159.9 180.7,160.5 176.8,161.7 173.2,162.8 173.0,162.9 172.4,163.2 169.6,165.0 166.2,167.2 163.9,168.7 162.9,169.5 162.1,170.0 159.7,172.0 157.7,173.6 156.6,174.6 153.6,177.2 152.9,177.8 152.2,178.5 150.9,180.2 148.3,183.3 146.1,187.6 144.0,192.0 141.7,195.1 141.7,195.1 141.5,195.2 138.3,197.0 135.0,198.9 134.0,199.4 132.6,200.2 131.7,200.8 128.3,202.7 126.4,203.8 125.0,204.7 122.8,206.1 121.8,206.7 118.7,208.6 118.5,208.8 118.1,209.2 115.9,211.6 113.4,214.5 111.0,217.3 110.9,217.5 110.0,218.6 108.4,220.4 105.9,223.3 103.4,226.2" fill="#9ab828"/>
<polygon points="103.0,225.8 105.6,222.9 108.1,220.0 109.6,218.2 110.5,217.0 110.6,216.9 113.0,214.1 115.6,211.2 117.7,208.7 118.1,208.3 118.3,208.2 121.4,206.3 122.4,205.6 124.6,204.2 126.1,203.3 127.9,202.3 131.3,200.4 132.3,199.8 133.7,199.0 134.6,198.5 138.0,196.6 141.2,194.8 141.3,194.7 141.3,194.7 143.6,191.6 145.8,187.2 147.9,182.9 150.5,179.8 151.9,178.1 152.6,177.4 153.2,176.8 156.3,174.2 157.4,173.2 159.4,171.6 161.8,169.6 162.5,169.1 163.6,168.3 165.8,166.8 169.2,164.6 172.0,162.8 172.6,162.5 172.8,162.4 176.5,161.3 180.3,160.1 182.3,159.5 182.9,159.4 184.2,159.1 188.2,158.3 192.1,157.6 192.6,157.4 196.1,156.8 198.1,156.5 200.0,156.1 202.9,155.5 204.0,155.3 207.9,154.4 208.3,154.3 211.6,153.4 211.8,153.4 215.6,151.9 218.1,150.9 218.3,150.8 219.3,150.4 222.9,148.7 226.6,147.1 226.7,147.0 230.0,144.9 231.5,144.0 233.1,142.9 233.3,142.7 236.6,140.2 239.8,137.8 241.8,136.3 242.4,135.8 242.9,135.3 245.9,132.6 248.3,130.4 248.9,129.9 250.5,128.4 252.0,127.4 255.0,125.2 255.3,125.0 258.6,122.7 259.4,122.1 261.7,120.2 262.0,120.0 264.9,117.7 267.0,116.1 268.1,115.2 271.2,112.7 274.4,110.2 277.5,107.7 278.5,108.8 275.3,111.3 272.2,113.8 269.0,116.3 267.9,117.1 265.8,118.7 262.9,121.0 262.7,121.2 260.4,123.1 259.5,123.7 256.2,126.0 255.9,126.2 252.9,128.4 251.5,129.4 249.8,130.9 249.2,131.4 246.8,133.6 243.9,136.3 243.4,136.7 242.7,137.3 240.7,138.8 237.5,141.2 234.2,143.6 234.0,143.8 232.4,144.9 230.9,145.8 227.6,147.9 227.5,148.0 223.8,149.7 220.2,151.4 219.2,151.8 219.1,151.9 216.5,152.9 212.8,154.4 212.6,154.5 209.2,155.4 208.9,155.5 204.9,156.3 203.9,156.5 201.0,157.1 199.1,157.5 197.0,157.9 193.6,158.5 193.1,158.6 189.1,159.4 185.2,160.2 183.8,160.5 183.3,160.6 181.3,161.2 177.4,162.4 173.8,163.5 173.6,163.6 173.0,163.9 170.2,165.7 166.8,167.9 164.6,169.4 163.5,170.2 162.8,170.7 160.3,172.7 158.3,174.3 157.2,175.3 154.2,177.9 153.5,178.4 152.8,179.1 151.5,180.8 148.9,183.9 146.7,188.3 144.5,192.6 142.3,195.7 142.2,195.7 142.1,195.8 138.9,197.7 135.6,199.6 134.6,200.1 133.2,200.9 132.3,201.5 128.9,203.4 127.1,204.5 125.6,205.4 123.4,206.8 122.4,207.4 119.3,209.4 119.1,209.5 118.7,209.9 116.6,212.4 114.1,215.3 111.7,218.1 111.5,218.2 110.6,219.3 109.1,221.1 106.5,224.0 104.0,226.9" fill="#86c02a"/>
<polygon points="103.7,226.5 106.2,223.6 108.7,220.7 110.3,218.9 111.2,217.8 111.3,217.6 113.7,214.8 116.2,211.9 118.3,209.5 118.8,209.1 118.9,208.9 122.0,207.0 123.0,206.4 125.3,205.0 126.7,204.1 128.6,203.0 131.9,201.1 132.9,200.5 134.3,199.7 135.2,199.2 138.6,197.3 141.8,195.4 141.9,195.3 141.9,195.3 144.2,192.2 146.4,187.9 148.6,183.6 151.1,180.4 152.5,178.7 153.2,178.0 153.8,177.5 156.9,174.9 158.0,173.9 160.0,172.3 162.4,170.3 163.1,169.8 164.2,169.0 166.5,167.5 169.8,165.3 172.6,163.5 173.2,163.2 173.4,163.1 177.1,162.0 180.9,160.8 182.9,160.2 183.5,160.1 184.8,159.8 188.8,159.0 192.7,158.2 193.2,158.1 196.7,157.5 198.7,157.1 200.6,156.7 203.5,156.2 204.6,155.9 208.5,155.1 208.9,155.0 212.2,154.1 212.4,154.0 216.1,152.5 218.7,151.5 218.9,151.5 219.9,151.0 223.5,149.3 227.1,147.6 227.2,147.6 230.6,145.5 232.0,144.6 233.6,143.4 233.9,143.3 237.1,140.8 240.3,138.4 242.4,136.9 243.0,136.4 243.5,135.9 246.5,133.2 248.9,131.1 249.5,130.5 251.1,129.1 252.6,128.0 255.5,125.9 255.9,125.6 259.1,123.3 260.0,122.7 262.3,120.8 262.6,120.6 265.5,118.4 267.6,116.7 268.7,115.9 271.8,113.4 275.0,110.9 278.1,108.4 279.1,109.5 275.9,111.9 272.8,114.4 269.6,116.9 268.5,117.7 266.4,119.3 263.5,121.6 263.2,121.8 260.9,123.7 260.1,124.3 256.8,126.6 256.5,126.8 253.5,129.0 252.1,130.1 250.4,131.5 249.8,132.1 247.4,134.2 244.4,136.9 244.0,137.3 243.3,137.9 241.3,139.4 238.0,141.8 234.8,144.2 234.6,144.4 233.0,145.5 231.5,146.4 228.1,148.5 228.0,148.5 224.4,150.3 220.8,152.0 219.8,152.5 219.7,152.5 217.1,153.6 213.4,155.1 213.2,155.1 209.8,156.0 209.5,156.1 205.5,157.0 204.5,157.2 201.6,157.8 199.7,158.2 197.6,158.5 194.2,159.1 193.7,159.3 189.7,160.1 185.8,160.9 184.5,161.2 183.9,161.3 181.9,161.9 178.1,163.1 174.4,164.2 174.2,164.3 173.6,164.6 170.8,166.4 167.4,168.6 165.2,170.1 164.1,170.9 163.4,171.4 160.9,173.4 158.9,175.0 157.8,175.9 154.8,178.6 154.1,179.1 153.4,179.8 152.0,181.5 149.5,184.6 147.3,189.0 145.1,193.3 142.8,196.4 142.8,196.4 142.7,196.5 139.5,198.3 136.2,200.3 135.2,200.8 133.8,201.6 132.9,202.2 129.5,204.1 127.7,205.2 126.3,206.1 124.0,207.5 123.0,208.2 120.0,210.1 119.8,210.3 119.3,210.6 117.2,213.1 114.7,216.0 112.3,218.8 112.2,218.9 111.3,220.1 109.7,221.9 107.2,224.7 104.6,227.6" fill="#73c435"/>
<polygon points="104.3,227.2 106.8,224.3 109.3,221.4 110.9,219.6 111.8,218.5 111.9,218.4 114.3,215.6 116.8,212.7 118.9,210.2 119.4,209.8 119.6,209.7 122.6,207.7 123.7,207.1 125.9,205.7 127.3,204.8 129.2,203.7 132.5,201.8 133.5,201.2 134.9,200.4 135.8,199.9 139.2,197.9 142.3,196.1 142.5,196.0 142.5,196.0 144.8,192.9 147.0,188.6 149.2,184.2 151.7,181.1 153.1,179.4 153.8,178.7 154.4,178.2 157.5,175.5 158.6,174.6 160.6,173.0 163.0,171.0 163.7,170.5 164.8,169.7 167.1,168.2 170.5,166.0 173.2,164.2 173.9,163.9 174.1,163.8 177.7,162.7 181.5,161.5 183.5,160.9 184.1,160.8 185.4,160.5 189.4,159.7 193.3,158.9 193.9,158.8 197.3,158.1 199.3,157.8 201.2,157.4 204.1,156.8 205.2,156.6 209.1,155.7 209.5,155.6 212.8,154.7 213.0,154.7 216.7,153.2 219.3,152.1 219.5,152.1 220.4,151.6 224.1,149.9 227.7,148.2 227.8,148.2 231.1,146.1 232.6,145.1 234.2,144.0 234.5,143.8 237.7,141.4 240.9,139.0 242.9,137.5 243.6,137.0 244.1,136.5 247.1,133.8 249.4,131.7 250.1,131.1 251.7,129.7 253.2,128.6 256.1,126.5 256.4,126.3 259.7,123.9 260.6,123.3 262.9,121.4 263.1,121.3 266.1,119.0 268.1,117.4 269.2,116.5 272.4,114.0 275.6,111.5 278.8,109.1 279.7,110.1 276.5,112.6 273.4,115.0 270.2,117.5 269.1,118.4 267.0,120.0 264.0,122.2 263.8,122.4 261.5,124.3 260.6,124.9 257.4,127.2 257.1,127.5 254.1,129.6 252.7,130.7 251.0,132.2 250.4,132.7 248.0,134.8 245.0,137.5 244.5,138.0 243.9,138.5 241.8,140.0 238.6,142.4 235.4,144.8 235.1,145.0 233.5,146.1 232.0,147.0 228.7,149.1 228.6,149.1 225.0,150.9 221.4,152.6 220.4,153.1 220.2,153.1 217.7,154.2 214.0,155.7 213.8,155.8 210.4,156.7 210.1,156.7 206.1,157.6 205.1,157.8 202.2,158.4 200.3,158.8 198.2,159.2 194.8,159.8 194.3,159.9 190.3,160.7 186.4,161.6 185.1,161.9 184.5,162.0 182.5,162.6 178.7,163.8 175.1,165.0 174.9,165.0 174.2,165.3 171.4,167.2 168.1,169.3 165.8,170.8 164.7,171.6 164.0,172.1 161.6,174.1 159.6,175.7 158.5,176.6 155.4,179.2 154.7,179.8 154.0,180.4 152.6,182.1 150.1,185.3 147.9,189.6 145.7,194.0 143.4,197.1 143.4,197.1 143.3,197.2 140.1,199.0 136.8,201.0 135.8,201.5 134.4,202.3 133.5,202.9 130.2,204.9 128.3,206.0 126.9,206.9 124.7,208.3 123.6,208.9 120.6,210.8 120.4,211.0 120.0,211.4 117.8,213.8 115.3,216.8 112.9,219.6 112.8,219.7 111.9,220.8 110.3,222.6 107.8,225.5 105.2,228.3" fill="#57c349"/>
<polygon points="104.9,227.9 107.4,225.0 110.0,222.2 111.5,220.4 112.5,219.2 112.6,219.1 115.0,216.3 117.5,213.4 119.6,210.9 120.0,210.6 120.2,210.4 123.3,208.5 124.3,207.8 126.5,206.4 127.9,205.5 129.8,204.4 133.1,202.5 134.1,201.9 135.5,201.1 136.4,200.5 139.8,198.6 142.9,196.8 143.1,196.7 143.1,196.7 145.4,193.6 147.6,189.2 149.8,184.9 152.3,181.8 153.7,180.0 154.4,179.4 155.0,178.8 158.1,176.2 159.2,175.3 161.2,173.7 163.6,171.7 164.4,171.2 165.4,170.4 167.7,168.9 171.1,166.7 173.9,164.9 174.5,164.6 174.7,164.5 178.3,163.4 182.2,162.2 184.2,161.6 184.7,161.5 186.0,161.2 190.0,160.3 193.9,159.5 194.5,159.4 197.9,158.8 199.9,158.4 201.8,158.0 204.7,157.5 205.8,157.2 209.7,156.4 210.1,156.3 213.4,155.4 213.6,155.3 217.3,153.8 219.9,152.8 220.0,152.7 221.0,152.2 224.6,150.5 228.3,148.8 228.3,148.7 231.7,146.7 233.2,145.7 234.8,144.6 235.0,144.4 238.3,142.0 241.5,139.6 243.5,138.2 244.2,137.6 244.7,137.2 247.6,134.5 250.0,132.3 250.6,131.8 252.3,130.3 253.8,129.3 256.7,127.1 257.0,126.9 260.3,124.5 261.2,123.9 263.5,122.1 263.7,121.9 266.6,119.6 268.7,118.0 269.8,117.1 273.0,114.7 276.2,112.2 279.4,109.7 280.3,110.8 277.1,113.2 274.0,115.7 270.8,118.1 269.7,119.0 267.6,120.6 264.6,122.8 264.4,123.0 262.1,124.9 261.2,125.5 257.9,127.9 257.6,128.1 254.7,130.3 253.3,131.3 251.6,132.8 251.0,133.3 248.6,135.5 245.6,138.1 245.1,138.6 244.4,139.1 242.4,140.6 239.2,143.0 235.9,145.4 235.7,145.6 234.1,146.7 232.6,147.6 229.2,149.6 229.1,149.7 225.5,151.5 221.9,153.2 221.0,153.7 220.8,153.8 218.3,154.8 214.6,156.4 214.4,156.4 211.0,157.3 210.7,157.4 206.7,158.3 205.7,158.5 202.8,159.1 200.9,159.4 198.8,159.8 195.4,160.5 194.9,160.6 191.0,161.4 187.0,162.3 185.7,162.5 185.1,162.7 183.1,163.3 179.3,164.5 175.7,165.7 175.5,165.8 174.8,166.1 172.1,167.9 168.7,170.0 166.4,171.5 165.3,172.3 164.6,172.8 162.2,174.8 160.2,176.4 159.1,177.3 156.0,179.9 155.3,180.4 154.6,181.1 153.2,182.8 150.7,185.9 148.5,190.3 146.3,194.6 144.0,197.7 144.0,197.7 143.9,197.8 140.7,199.7 137.4,201.7 136.4,202.2 135.0,203.0 134.1,203.6 130.8,205.6 128.9,206.7 127.5,207.6 125.3,209.0 124.3,209.7 121.2,211.6 121.0,211.7 120.6,212.1 118.5,214.6 116.0,217.5 113.6,220.3 113.5,220.4 112.6,221.6 111.0,223.3 108.4,226.2 105.8,229.0" fill="#39bf63"/>
<polygon points="105.5,228.6 108.0,225.7 110.6,222.9 112.2,221.1 113.1,220.0 113.2,219.8 115.6,217.1 118.1,214.1 120.2,211.7 120.7,211.3 120.8,211.1 123.9,209.2 124.9,208.6 127.1,207.1 128.6,206.2 130.4,205.1 133.7,203.2 134.7,202.6 136.1,201.8 137.0,201.2 140.3,199.3 143.5,197.4 143.6,197.3 143.6,197.3 145.9,194.2 148.1,189.9 150.4,185.5 152.9,182.4 154.3,180.7 155.0,180.0 155.6,179.5 158.7,176.9 159.8,176.0 161.8,174.3 164.2,172.4 165.0,171.9 166.0,171.1 168.3,169.6 171.7,167.4 174.5,165.6 175.1,165.3 175.3,165.2 178.9,164.1 182.8,162.9 184.8,162.3 185.3,162.1 186.7,161.8 190.6,161.0 194.5,160.2 195.1,160.1 198.5,159.4 200.5,159.1 202.4,158.7 205.3,158.1 206.4,157.9 210.3,157.0 210.7,156.9 214.0,156.0 214.2,156.0 217.9,154.4 220.5,153.4 220.6,153.3 221.6,152.8 225.2,151.1 228.8,149.3 228.9,149.3 232.2,147.2 233.7,146.3 235.3,145.2 235.6,145.0 238.8,142.6 242.1,140.3 244.1,138.8 244.8,138.2 245.2,137.8 248.2,135.1 250.6,132.9 251.2,132.4 252.9,131.0 254.4,129.9 257.3,127.7 257.6,127.5 260.9,125.1 261.7,124.5 264.0,122.7 264.3,122.5 267.2,120.2 269.3,118.6 270.4,117.8 273.6,115.3 276.8,112.8 280.0,110.4 280.9,111.4 277.7,113.9 274.5,116.3 271.3,118.8 270.2,119.6 268.2,121.2 265.2,123.5 265.0,123.6 262.6,125.5 261.8,126.1 258.5,128.5 258.2,128.7 255.3,130.9 253.9,132.0 252.2,133.4 251.6,133.9 249.2,136.1 246.2,138.8 245.7,139.2 245.0,139.7 243.0,141.2 239.7,143.6 236.5,146.0 236.2,146.2 234.6,147.3 233.1,148.2 229.8,150.2 229.7,150.3 226.1,152.0 222.5,153.8 221.6,154.3 221.4,154.4 218.9,155.5 215.2,157.0 215.0,157.1 211.6,158.0 211.3,158.0 207.3,158.9 206.3,159.1 203.4,159.7 201.5,160.1 199.4,160.5 196.0,161.1 195.5,161.2 191.6,162.1 187.6,162.9 186.3,163.2 185.7,163.4 183.8,164.0 179.9,165.2 176.3,166.4 176.1,166.5 175.5,166.8 172.7,168.6 169.3,170.8 167.0,172.2 166.0,173.0 165.2,173.5 162.8,175.4 160.8,177.0 159.7,178.0 156.6,180.6 155.9,181.1 155.2,181.8 153.8,183.5 151.3,186.6 149.1,191.0 146.9,195.3 144.6,198.4 144.6,198.4 144.4,198.5 141.3,200.4 138.0,202.3 137.0,202.9 135.6,203.7 134.7,204.3 131.4,206.3 129.6,207.4 128.1,208.3 125.9,209.7 124.9,210.4 121.9,212.3 121.7,212.5 121.2,212.8 119.1,215.3 116.6,218.2 114.2,221.0 114.1,221.2 113.2,222.3 111.6,224.1 109.0,226.9 106.4,229.7" fill="#20b87c"/>
<polygon points="106.1,229.3 108.6,226.5 111.2,223.6 112.8,221.9 113.7,220.7 113.8,220.6 116.2,217.8 118.7,214.9 120.8,212.4 121.3,212.0 121.5,211.9 124.5,209.9 125.5,209.3 127.8,207.9 129.2,207.0 131.0,205.9 134.3,203.9 135.3,203.3 136.7,202.5 137.6,201.9 140.9,200.0 144.1,198.1 144.2,198.0 144.2,198.0 146.5,194.9 148.7,190.6 151.0,186.2 153.5,183.1 154.9,181.4 155.6,180.7 156.2,180.2 159.3,177.6 160.4,176.6 162.4,175.0 164.9,173.1 165.6,172.6 166.7,171.8 168.9,170.3 172.3,168.1 175.1,166.3 175.7,166.0 175.9,166.0 179.6,164.8 183.4,163.6 185.4,163.0 185.9,162.8 187.3,162.5 191.2,161.7 195.1,160.8 195.7,160.7 199.1,160.1 201.1,159.7 203.0,159.3 205.9,158.8 207.0,158.5 210.9,157.6 211.3,157.6 214.6,156.7 214.8,156.6 218.5,155.1 221.1,154.0 221.2,153.9 222.2,153.5 225.8,151.7 229.4,149.9 229.4,149.9 232.8,147.8 234.3,146.9 235.9,145.8 236.2,145.6 239.4,143.2 242.7,140.9 244.7,139.4 245.3,138.8 245.8,138.4 248.8,135.7 251.2,133.6 251.8,133.0 253.5,131.6 255.0,130.5 257.9,128.3 258.2,128.1 261.4,125.7 262.3,125.1 264.6,123.3 264.8,123.1 267.8,120.8 269.9,119.2 271.0,118.4 274.2,115.9 277.4,113.5 280.6,111.0 281.5,112.1 278.3,114.5 275.1,117.0 271.9,119.4 270.8,120.3 268.7,121.8 265.8,124.1 265.5,124.3 263.2,126.1 262.3,126.7 259.1,129.1 258.8,129.3 255.9,131.5 254.5,132.6 252.8,134.0 252.1,134.6 249.8,136.7 246.7,139.4 246.3,139.8 245.6,140.4 243.6,141.8 240.3,144.2 237.1,146.6 236.8,146.7 235.2,147.9 233.7,148.8 230.3,150.8 230.3,150.8 226.7,152.6 223.1,154.4 222.1,154.9 222.0,155.0 219.4,156.1 215.8,157.7 215.6,157.7 212.2,158.6 211.9,158.7 207.9,159.6 206.9,159.8 204.0,160.4 202.1,160.7 200.0,161.1 196.6,161.8 196.1,161.9 192.2,162.7 188.2,163.6 186.9,163.9 186.4,164.0 184.4,164.7 180.6,165.9 176.9,167.1 176.7,167.2 176.1,167.5 173.3,169.3 169.9,171.5 167.7,172.9 166.6,173.7 165.8,174.2 163.4,176.1 161.4,177.7 160.3,178.7 157.2,181.2 156.5,181.8 155.8,182.4 154.4,184.1 151.9,187.3 149.7,191.6 147.4,196.0 145.1,199.0 145.1,199.1 145.0,199.2 141.9,201.1 138.6,203.0 137.6,203.6 136.2,204.4 135.3,205.0 132.0,207.0 130.2,208.1 128.8,209.0 126.6,210.5 125.5,211.1 122.5,213.1 122.3,213.2 121.8,213.6 119.7,216.0 117.3,219.0 114.9,221.8 114.8,221.9 113.9,223.0 112.2,224.8 109.6,227.6 107.0,230.4" fill="#13ae90"/>
<polygon points="106.7,230.0 109.3,227.2 111.9,224.3 113.5,222.6 114.4,221.5 114.5,221.3 116.9,218.5 119.4,215.6 121.5,213.1 121.9,212.8 122.1,212.6 125.2,210.7 126.2,210.0 128.4,208.6 129.8,207.7 131.6,206.6 134.9,204.6 135.9,204.0 137.3,203.2 138.2,202.6 141.5,200.7 144.7,198.8 144.8,198.7 144.8,198.6 147.1,195.6 149.3,191.2 151.6,186.9 154.1,183.7 155.4,182.0 156.2,181.4 156.8,180.8 159.9,178.3 161.0,177.3 163.0,175.7 165.5,173.8 166.2,173.3 167.3,172.5 169.6,171.0 172.9,168.8 175.7,167.0 176.4,166.8 176.6,166.7 180.2,165.5 184.0,164.3 186.0,163.6 186.5,163.5 187.9,163.2 191.8,162.3 195.7,161.5 196.3,161.4 199.7,160.7 201.7,160.4 203.6,160.0 206.5,159.4 207.6,159.2 211.5,158.3 211.9,158.2 215.2,157.4 215.4,157.3 219.1,155.7 221.6,154.6 221.8,154.6 222.8,154.1 226.3,152.3 229.9,150.5 230.0,150.4 233.4,148.4 234.9,147.5 236.5,146.4 236.7,146.2 240.0,143.8 243.2,141.5 245.3,140.0 245.9,139.4 246.4,139.0 249.4,136.3 251.8,134.2 252.4,133.7 254.1,132.2 255.5,131.1 258.5,128.9 258.8,128.7 262.0,126.4 262.9,125.7 265.2,123.9 265.4,123.7 268.4,121.5 270.5,119.9 271.6,119.0 274.8,116.6 278.0,114.1 281.2,111.7 282.1,112.8 278.9,115.2 275.7,117.6 272.5,120.0 271.4,120.9 269.3,122.5 266.3,124.7 266.1,124.9 263.8,126.7 262.9,127.3 259.7,129.7 259.4,129.9 256.5,132.1 255.0,133.2 253.4,134.7 252.7,135.2 250.3,137.3 247.3,140.0 246.8,140.4 246.2,141.0 244.2,142.4 240.9,144.8 237.6,147.1 237.4,147.3 235.8,148.4 234.3,149.3 230.9,151.4 230.8,151.4 227.2,153.2 223.7,155.1 222.7,155.6 222.6,155.6 220.0,156.7 216.3,158.3 216.2,158.4 212.8,159.2 212.5,159.3 208.5,160.2 207.5,160.4 204.6,161.0 202.7,161.4 200.6,161.8 197.2,162.4 196.7,162.5 192.8,163.4 188.9,164.3 187.5,164.6 187.0,164.7 185.0,165.4 181.2,166.6 177.6,167.8 177.4,167.9 176.7,168.2 173.9,170.0 170.6,172.2 168.3,173.6 167.2,174.4 166.5,174.9 164.0,176.8 162.0,178.4 160.9,179.3 157.8,181.9 157.1,182.4 156.4,183.1 155.0,184.8 152.5,187.9 150.3,192.3 148.0,196.6 145.7,199.7 145.7,199.7 145.6,199.8 142.5,201.7 139.2,203.7 138.2,204.3 136.8,205.1 135.9,205.7 132.6,207.7 130.8,208.9 129.4,209.8 127.2,211.2 126.2,211.9 123.1,213.8 122.9,214.0 122.5,214.3 120.4,216.8 117.9,219.7 115.5,222.5 115.4,222.6 114.5,223.8 112.9,225.5 110.3,228.3 107.6,231.1" fill="#15a0a4"/>
<polygon points="107.3,230.7 109.9,227.9 112.5,225.1 114.1,223.3 115.0,222.2 115.1,222.1 117.5,219.3 120.0,216.3 122.1,213.9 122.6,213.5 122.8,213.4 125.8,211.4 126.8,210.8 129.0,209.3 130.4,208.4 132.3,207.3 135.5,205.3 136.5,204.7 137.9,203.9 138.8,203.3 142.1,201.3 145.2,199.4 145.4,199.3 145.4,199.3 147.7,196.2 149.9,191.9 152.2,187.5 154.7,184.4 156.0,182.7 156.8,182.0 157.4,181.5 160.5,178.9 161.6,178.0 163.7,176.4 166.1,174.5 166.8,174.0 167.9,173.2 170.2,171.7 173.6,169.6 176.3,167.8 177.0,167.5 177.2,167.4 180.8,166.2 184.6,165.0 186.6,164.3 187.1,164.2 188.5,163.9 192.4,163.0 196.3,162.1 196.9,162.0 200.3,161.4 202.3,161.0 204.2,160.6 207.1,160.1 208.2,159.8 212.1,158.9 212.4,158.9 215.8,158.0 216.0,157.9 219.7,156.3 222.2,155.3 222.4,155.2 223.3,154.7 226.9,152.9 230.5,151.1 230.6,151.0 233.9,149.0 235.4,148.1 237.0,147.0 237.3,146.8 240.5,144.4 243.8,142.1 245.8,140.6 246.5,140.0 247.0,139.6 250.0,136.9 252.4,134.8 253.0,134.3 254.7,132.9 256.1,131.8 259.0,129.6 259.3,129.3 262.6,127.0 263.4,126.3 265.8,124.5 266.0,124.3 269.0,122.1 271.0,120.5 272.2,119.7 275.4,117.2 278.6,114.8 281.8,112.4 282.7,113.4 279.5,115.8 276.3,118.3 273.1,120.7 272.0,121.5 269.9,123.1 266.9,125.3 266.7,125.5 264.3,127.3 263.5,127.9 260.3,130.3 260.0,130.6 257.1,132.8 255.6,133.9 253.9,135.3 253.3,135.8 250.9,137.9 247.9,140.6 247.4,141.0 246.8,141.6 244.7,143.1 241.5,145.4 238.2,147.7 237.9,147.9 236.3,149.0 234.8,149.9 231.5,151.9 231.4,152.0 227.8,153.8 224.3,155.7 223.3,156.2 223.2,156.2 220.6,157.4 216.9,159.0 216.8,159.1 213.4,159.9 213.1,160.0 209.1,160.9 208.1,161.1 205.2,161.7 203.3,162.0 201.3,162.4 197.8,163.1 197.3,163.2 193.4,164.1 189.5,165.0 188.1,165.3 187.6,165.4 185.6,166.1 181.8,167.3 178.2,168.5 178.0,168.6 177.3,168.9 174.6,170.7 171.2,172.9 168.9,174.3 167.8,175.1 167.1,175.6 164.6,177.5 162.6,179.1 161.5,180.0 158.4,182.6 157.7,183.1 157.0,183.7 155.6,185.5 153.1,188.6 150.9,193.0 148.6,197.3 146.3,200.4 146.3,200.4 146.2,200.5 143.0,202.4 139.8,204.4 138.8,205.0 137.4,205.8 136.5,206.4 133.2,208.5 131.4,209.6 130.0,210.5 127.8,211.9 126.8,212.6 123.8,214.5 123.6,214.7 123.1,215.0 121.0,217.5 118.5,220.5 116.2,223.3 116.1,223.4 115.1,224.5 113.5,226.2 110.9,229.0 108.2,231.8" fill="#1f90b5"/>
<polygon points="107.9,231.4 110.5,228.6 113.1,225.8 114.7,224.1 115.7,222.9 115.8,222.8 118.1,220.0 120.6,217.1 122.7,214.6 123.2,214.2 123.4,214.1 126.4,212.2 127.4,211.5 129.6,210.1 131.0,209.2 132.9,208.0 136.1,206.0 137.1,205.4 138.5,204.6 139.4,204.0 142.7,202.0 145.8,200.1 145.9,200.0 145.9,200.0 148.2,196.9 150.5,192.6 152.8,188.2 155.3,185.1 156.6,183.3 157.4,182.7 158.0,182.2 161.1,179.6 162.3,178.7 164.3,177.1 166.7,175.2 167.4,174.6 168.5,173.9 170.8,172.4 174.2,170.3 177.0,168.5 177.6,168.2 177.8,168.1 181.4,166.9 185.2,165.7 187.2,165.0 187.8,164.9 189.1,164.6 193.0,163.7 196.9,162.8 197.5,162.7 200.9,162.0 202.9,161.7 204.8,161.3 207.7,160.7 208.8,160.5 212.7,159.6 213.0,159.5 216.4,158.7 216.6,158.6 220.3,157.0 222.8,155.9 223.0,155.8 223.9,155.3 227.5,153.5 231.0,151.6 231.1,151.6 234.5,149.6 236.0,148.7 237.6,147.6 237.9,147.4 241.1,145.0 244.4,142.7 246.4,141.2 247.1,140.7 247.6,140.2 250.6,137.6 253.0,135.4 253.6,134.9 255.3,133.5 256.7,132.4 259.6,130.2 259.9,130.0 263.1,127.6 264.0,126.9 266.3,125.1 266.6,124.9 269.5,122.7 271.6,121.1 272.7,120.3 276.0,117.9 279.2,115.4 282.4,113.0 283.3,114.1 280.1,116.5 276.9,118.9 273.7,121.3 272.6,122.1 270.5,123.7 267.5,125.9 267.2,126.1 264.9,127.9 264.1,128.5 260.8,131.0 260.5,131.2 257.7,133.4 256.2,134.5 254.5,135.9 253.9,136.4 251.5,138.6 248.5,141.2 248.0,141.6 247.3,142.2 245.3,143.7 242.0,146.0 238.8,148.3 238.5,148.5 236.9,149.6 235.4,150.5 232.0,152.5 231.9,152.5 228.4,154.4 224.8,156.3 223.9,156.8 223.7,156.9 221.2,158.0 217.5,159.6 217.4,159.7 214.0,160.5 213.7,160.6 209.7,161.5 208.7,161.7 205.8,162.3 203.9,162.7 201.9,163.1 198.4,163.7 197.9,163.8 194.0,164.7 190.1,165.7 188.7,166.0 188.2,166.1 186.2,166.8 182.4,168.0 178.8,169.2 178.6,169.3 178.0,169.6 175.2,171.4 171.8,173.6 169.5,175.0 168.4,175.8 167.7,176.3 165.2,178.2 163.2,179.8 162.1,180.7 159.0,183.2 158.3,183.8 157.6,184.4 156.2,186.1 153.7,189.3 151.5,193.6 149.2,198.0 146.9,201.0 146.9,201.0 146.8,201.2 143.6,203.1 140.4,205.1 139.4,205.7 138.0,206.5 137.1,207.1 133.9,209.2 132.0,210.3 130.6,211.2 128.4,212.7 127.4,213.3 124.4,215.3 124.2,215.4 123.7,215.8 121.6,218.3 119.2,221.2 116.8,224.0 116.7,224.1 115.8,225.3 114.1,227.0 111.5,229.7 108.8,232.5" fill="#2d7dc2"/>
<polygon points="108.5,232.1 111.1,229.3 113.8,226.5 115.4,224.8 116.3,223.7 116.4,223.6 118.8,220.7 121.3,217.8 123.4,215.3 123.8,215.0 124.0,214.8 127.0,212.9 128.1,212.2 130.3,210.8 131.7,209.9 133.5,208.7 136.7,206.7 137.7,206.1 139.1,205.3 140.0,204.7 143.3,202.7 146.4,200.8 146.5,200.6 146.5,200.6 148.8,197.6 151.1,193.2 153.4,188.9 155.9,185.7 157.2,184.0 158.0,183.4 158.6,182.8 161.7,180.3 162.9,179.4 164.9,177.8 167.3,175.8 168.1,175.3 169.2,174.6 171.4,173.1 174.8,171.0 177.6,169.2 178.2,168.9 178.4,168.8 182.0,167.6 185.9,166.3 187.8,165.7 188.4,165.6 189.7,165.2 193.6,164.3 197.5,163.5 198.1,163.3 201.5,162.7 203.5,162.3 205.4,161.9 208.3,161.4 209.4,161.1 213.3,160.2 213.6,160.1 217.0,159.3 217.2,159.2 220.9,157.6 223.4,156.5 223.5,156.4 224.5,155.9 228.0,154.1 231.6,152.2 231.7,152.1 235.1,150.2 236.6,149.3 238.2,148.2 238.4,148.0 241.7,145.6 245.0,143.3 247.0,141.8 247.7,141.3 248.1,140.8 251.2,138.2 253.6,136.1 254.2,135.5 255.9,134.1 257.3,133.0 260.2,130.8 260.5,130.6 263.7,128.2 264.6,127.5 266.9,125.7 267.1,125.5 270.1,123.3 272.2,121.8 273.3,120.9 276.5,118.5 279.8,116.1 283.0,113.7 283.9,114.8 280.7,117.1 277.5,119.5 274.3,121.9 273.1,122.8 271.0,124.3 268.1,126.5 267.8,126.7 265.5,128.5 264.6,129.2 261.4,131.6 261.1,131.8 258.3,134.0 256.8,135.2 255.1,136.6 254.5,137.1 252.1,139.2 249.1,141.8 248.6,142.3 247.9,142.8 245.9,144.3 242.6,146.6 239.3,148.9 239.1,149.1 237.5,150.2 236.0,151.1 232.6,153.1 232.5,153.1 228.9,155.0 225.4,156.9 224.5,157.4 224.3,157.5 221.8,158.6 218.1,160.3 218.0,160.4 214.6,161.2 214.3,161.3 210.3,162.1 209.3,162.4 206.4,163.0 204.5,163.3 202.5,163.7 199.0,164.4 198.5,164.5 194.6,165.4 190.7,166.3 189.4,166.6 188.8,166.8 186.8,167.4 183.0,168.7 179.4,170.0 179.2,170.0 178.6,170.3 175.8,172.1 172.4,174.3 170.2,175.7 169.1,176.5 168.3,177.0 165.9,178.9 163.9,180.5 162.7,181.4 159.6,183.9 158.9,184.4 158.2,185.1 156.8,186.8 154.3,189.9 152.0,194.3 149.7,198.6 147.4,201.7 147.4,201.7 147.3,201.8 144.2,203.8 141.0,205.8 140.0,206.4 138.7,207.2 137.7,207.8 134.5,209.9 132.7,211.0 131.3,212.0 129.1,213.4 128.0,214.1 125.0,216.0 124.8,216.2 124.4,216.5 122.3,219.0 119.8,221.9 117.4,224.7 117.3,224.9 116.4,226.0 114.8,227.7 112.1,230.5 109.4,233.2" fill="#356ac2"/>
<polygon points="109.1,232.8 111.7,230.0 114.4,227.3 116.0,225.5 117.0,224.4 117.1,224.3 119.4,221.5 121.9,218.5 124.0,216.1 124.5,215.7 124.7,215.6 127.7,213.6 128.7,213.0 130.9,211.5 132.3,210.6 134.1,209.5 137.3,207.4 138.3,206.8 139.7,206.0 140.6,205.4 143.9,203.4 147.0,201.4 147.1,201.3 147.1,201.3 149.4,198.2 151.7,193.9 154.0,189.5 156.5,186.4 157.8,184.7 158.6,184.0 159.2,183.5 162.4,181.0 163.5,180.1 165.5,178.5 167.9,176.5 168.7,176.0 169.8,175.3 172.1,173.8 175.4,171.7 178.2,169.9 178.9,169.6 179.1,169.5 182.7,168.3 186.5,167.0 188.4,166.4 189.0,166.2 190.3,165.9 194.2,165.0 198.2,164.1 198.7,164.0 202.1,163.3 204.1,162.9 206.0,162.6 208.9,162.0 210.0,161.8 213.9,160.9 214.2,160.8 217.6,160.0 217.8,159.9 221.4,158.3 224.0,157.1 224.1,157.0 225.1,156.5 228.6,154.6 232.1,152.8 232.2,152.7 235.6,150.7 237.1,149.8 238.7,148.7 239.0,148.6 242.3,146.2 245.5,143.9 247.6,142.4 248.2,141.9 248.7,141.5 251.7,138.8 254.1,136.7 254.8,136.2 256.5,134.8 257.9,133.7 260.8,131.4 261.1,131.2 264.3,128.8 265.1,128.2 267.5,126.3 267.7,126.2 270.7,123.9 272.8,122.4 273.9,121.5 277.1,119.1 280.4,116.8 283.6,114.4 284.6,115.4 281.3,117.8 278.1,120.2 274.9,122.6 273.7,123.4 271.6,124.9 268.6,127.1 268.4,127.3 266.1,129.1 265.2,129.8 262.0,132.2 261.7,132.4 258.8,134.7 257.4,135.8 255.7,137.2 255.1,137.7 252.7,139.8 249.6,142.4 249.2,142.9 248.5,143.4 246.5,144.9 243.2,147.2 239.9,149.5 239.6,149.7 238.0,150.8 236.5,151.7 233.1,153.6 233.0,153.7 229.5,155.6 226.0,157.5 225.0,158.0 224.9,158.1 222.4,159.3 218.7,160.9 218.6,161.0 215.2,161.8 214.8,161.9 210.9,162.8 209.9,163.0 207.0,163.6 205.1,164.0 203.1,164.4 199.7,165.0 199.1,165.2 195.2,166.1 191.3,167.0 190.0,167.3 189.4,167.5 187.5,168.1 183.7,169.4 180.1,170.7 179.9,170.8 179.2,171.0 176.4,172.8 173.0,175.0 170.8,176.4 169.7,177.1 168.9,177.6 166.5,179.6 164.5,181.2 163.3,182.1 160.2,184.6 159.5,185.1 158.8,185.7 157.4,187.4 155.0,190.6 152.6,195.0 150.3,199.3 148.0,202.4 148.0,202.4 147.9,202.5 144.8,204.4 141.6,206.5 140.6,207.1 139.3,207.9 138.3,208.5 135.1,210.6 133.3,211.8 131.9,212.7 129.7,214.1 128.7,214.8 125.7,216.8 125.5,216.9 125.0,217.2 122.9,219.7 120.4,222.7 118.1,225.5 118.0,225.6 117.1,226.7 115.4,228.4 112.7,231.2 110.1,233.9" fill="#3657b3"/>
<polygon points="109.7,233.5 112.4,230.7 115.0,228.0 116.7,226.3 117.6,225.2 117.7,225.0 120.1,222.2 122.5,219.3 124.6,216.8 125.1,216.5 125.3,216.3 128.3,214.4 129.3,213.7 131.5,212.3 132.9,211.3 134.7,210.2 138.0,208.1 138.9,207.5 140.3,206.6 141.2,206.1 144.5,204.0 147.6,202.1 147.7,202.0 147.7,202.0 150.0,198.9 152.3,194.6 154.6,190.2 157.1,187.0 158.4,185.3 159.2,184.7 159.8,184.2 163.0,181.7 164.1,180.7 166.1,179.2 168.6,177.2 169.3,176.7 170.4,176.0 172.7,174.5 176.1,172.4 178.8,170.6 179.5,170.3 179.7,170.2 183.3,169.0 187.1,167.7 189.1,167.1 189.6,166.9 190.9,166.6 194.8,165.7 198.8,164.8 199.3,164.6 202.7,164.0 204.7,163.6 206.6,163.2 209.5,162.7 210.6,162.4 214.5,161.5 214.8,161.4 218.2,160.6 218.4,160.6 222.0,158.9 224.6,157.7 224.7,157.7 225.6,157.1 229.2,155.2 232.7,153.3 232.8,153.3 236.2,151.3 237.7,150.4 239.3,149.3 239.6,149.1 242.8,146.8 246.1,144.5 248.2,143.1 248.8,142.5 249.3,142.1 252.3,139.4 254.7,137.3 255.4,136.8 257.1,135.4 258.5,134.3 261.4,132.0 261.7,131.8 264.9,129.4 265.7,128.8 268.0,127.0 268.3,126.8 271.3,124.6 273.4,123.0 274.5,122.2 277.7,119.8 281.0,117.4 284.2,115.0 285.2,116.1 281.9,118.4 278.7,120.8 275.4,123.2 274.3,124.0 272.2,125.6 269.2,127.7 269.0,127.9 266.6,129.7 265.8,130.4 262.6,132.8 262.3,133.0 259.4,135.3 258.0,136.4 256.3,137.8 255.7,138.3 253.3,140.4 250.2,143.1 249.7,143.5 249.1,144.0 247.0,145.5 243.7,147.8 240.5,150.1 240.2,150.3 238.6,151.4 237.1,152.3 233.7,154.2 233.6,154.2 230.1,156.2 226.6,158.1 225.6,158.6 225.5,158.7 223.0,159.9 219.3,161.6 219.2,161.7 215.8,162.5 215.4,162.6 211.5,163.4 210.5,163.7 207.6,164.3 205.7,164.6 203.7,165.0 200.3,165.7 199.7,165.8 195.8,166.8 191.9,167.7 190.6,168.0 190.0,168.1 188.1,168.8 184.3,170.1 180.7,171.4 180.5,171.5 179.8,171.7 177.0,173.5 173.7,175.7 171.4,177.1 170.3,177.8 169.5,178.3 167.1,180.3 165.1,181.8 163.9,182.7 160.8,185.2 160.1,185.8 159.4,186.4 158.0,188.1 155.6,191.3 153.2,195.6 150.9,200.0 148.6,203.0 148.6,203.0 148.5,203.2 145.4,205.1 142.2,207.2 141.2,207.8 139.9,208.6 138.9,209.2 135.7,211.3 133.9,212.5 132.5,213.4 130.3,214.9 129.3,215.5 126.3,217.5 126.1,217.6 125.6,218.0 123.5,220.5 121.1,223.4 118.7,226.2 118.6,226.3 117.7,227.5 116.0,229.2 113.3,231.9 110.7,234.6" fill="#354299"/>
<polygon points="110.3,234.2 113.0,231.5 115.7,228.7 117.3,227.0 118.2,225.9 118.3,225.8 120.7,223.0 123.2,220.0 125.2,217.5 125.7,217.2 125.9,217.1 128.9,215.1 129.9,214.4 132.1,213.0 133.5,212.1 135.3,210.9 138.6,208.8 139.5,208.2 140.9,207.3 141.8,206.8 145.0,204.7 148.1,202.8 148.2,202.6 148.3,202.6 150.5,199.6 152.9,195.2 155.2,190.9 157.7,187.7 159.0,186.0 159.8,185.4 160.4,184.8 163.6,182.3 164.7,181.4 166.7,179.8 169.2,177.9 169.9,177.4 171.0,176.7 173.3,175.2 176.7,173.1 179.5,171.3 180.1,171.0 180.3,171.0 183.9,169.7 187.7,168.4 189.7,167.7 190.2,167.6 191.6,167.3 195.5,166.4 199.4,165.4 199.9,165.3 203.3,164.6 205.3,164.2 207.2,163.9 210.1,163.3 211.2,163.1 215.1,162.2 215.4,162.1 218.8,161.3 219.0,161.2 222.6,159.5 225.1,158.4 225.3,158.3 226.2,157.8 229.7,155.8 233.3,153.9 233.3,153.9 236.7,151.9 238.3,151.0 239.9,149.9 240.1,149.7 243.4,147.4 246.7,145.1 248.7,143.7 249.4,143.1 249.9,142.7 252.9,140.1 255.3,137.9 256.0,137.4 257.7,136.0 259.1,134.9 261.9,132.7 262.2,132.4 265.4,130.0 266.3,129.4 268.6,127.6 268.9,127.4 271.8,125.2 274.0,123.6 275.1,122.8 278.3,120.4 281.6,118.1 284.8,115.7 285.8,116.7 282.5,119.1 279.3,121.5 276.0,123.8 274.9,124.6 272.8,126.2 269.8,128.4 269.5,128.5 267.2,130.3 266.3,131.0 263.2,133.4 262.9,133.7 260.0,135.9 258.6,137.1 256.9,138.4 256.3,138.9 253.8,141.0 250.8,143.7 250.3,144.1 249.7,144.7 247.6,146.1 244.3,148.4 241.0,150.7 240.8,150.9 239.2,152.0 237.6,152.8 234.2,154.8 234.2,154.8 230.7,156.8 227.2,158.7 226.2,159.3 226.1,159.4 223.6,160.5 219.9,162.3 219.8,162.3 216.4,163.1 216.0,163.2 212.1,164.1 211.1,164.3 208.2,164.9 206.3,165.3 204.3,165.7 200.9,166.3 200.3,166.5 196.4,167.4 192.5,168.4 191.2,168.7 190.7,168.8 188.7,169.5 184.9,170.8 181.3,172.1 181.1,172.2 180.5,172.4 177.7,174.2 174.3,176.4 172.0,177.8 170.9,178.5 170.2,179.0 167.7,180.9 165.7,182.5 164.6,183.4 161.4,185.9 160.7,186.4 160.0,187.0 158.6,188.8 156.2,191.9 153.8,196.3 151.5,200.6 149.2,203.7 149.2,203.7 149.1,203.8 146.0,205.8 142.7,207.9 141.8,208.4 140.5,209.3 139.5,209.9 136.3,212.0 134.5,213.2 133.1,214.2 130.9,215.6 129.9,216.3 126.9,218.2 126.7,218.4 126.2,218.7 124.2,221.2 121.7,224.1 119.4,227.0 119.3,227.1 118.3,228.2 116.7,229.9 114.0,232.6 111.3,235.3" fill="#302d74"/>
<polygon points="110.9,234.9 113.6,232.2 116.3,229.5 118.0,227.8 118.9,226.6 119.0,226.5 121.3,223.7 123.8,220.8 125.9,218.3 126.4,217.9 126.6,217.8 129.6,215.8 130.6,215.2 132.8,213.7 134.2,212.8 136.0,211.6 139.2,209.5 140.1,208.9 141.5,208.0 142.4,207.4 145.6,205.4 148.7,203.4 148.8,203.3 148.8,203.3 151.1,200.2 153.5,195.9 155.8,191.5 158.3,188.4 159.6,186.6 160.4,186.0 161.0,185.5 164.2,183.0 165.3,182.1 167.3,180.5 169.8,178.6 170.5,178.1 171.6,177.4 173.9,175.9 177.3,173.8 180.1,172.0 180.7,171.8 181.0,171.7 184.5,170.4 188.3,169.1 190.3,168.4 190.8,168.3 192.2,168.0 196.1,167.0 200.0,166.1 200.5,165.9 203.9,165.3 205.9,164.9 207.8,164.5 210.7,164.0 211.8,163.7 215.7,162.8 216.0,162.7 219.4,161.9 219.6,161.9 223.2,160.2 225.7,159.0 225.9,158.9 226.8,158.4 230.3,156.4 233.8,154.5 233.9,154.4 237.3,152.5 238.8,151.6 240.4,150.5 240.7,150.3 244.0,148.0 247.3,145.7 249.3,144.3 250.0,143.7 250.5,143.3 253.5,140.7 255.9,138.6 256.5,138.1 258.3,136.7 259.7,135.6 262.5,133.3 262.8,133.1 266.0,130.6 266.9,130.0 269.2,128.2 269.4,128.0 272.4,125.8 274.5,124.3 275.7,123.4 278.9,121.1 282.2,118.7 285.4,116.3 286.0,117.0 282.8,119.4 279.5,121.7 276.3,124.1 275.1,124.9 273.0,126.4 270.0,128.6 269.8,128.8 267.4,130.6 266.6,131.2 263.4,133.7 263.1,133.9 260.3,136.2 258.9,137.3 257.1,138.7 256.5,139.2 254.1,141.3 251.0,143.9 250.6,144.3 249.9,144.9 247.8,146.3 244.5,148.6 241.3,150.9 241.0,151.1 239.4,152.2 237.9,153.1 234.5,155.0 234.4,155.0 230.9,157.0 227.4,159.0 226.4,159.5 226.3,159.6 223.8,160.8 220.2,162.5 220.0,162.6 216.6,163.4 216.3,163.5 212.4,164.4 211.3,164.6 208.4,165.2 206.5,165.5 204.5,165.9 201.1,166.6 200.6,166.7 196.7,167.7 192.8,168.6 191.4,169.0 190.9,169.1 188.9,169.8 185.2,171.1 181.6,172.4 181.4,172.5 180.7,172.7 177.9,174.5 174.5,176.6 172.3,178.1 171.2,178.8 170.4,179.3 168.0,181.2 165.9,182.8 164.8,183.7 161.6,186.2 161.0,186.7 160.2,187.3 158.9,189.0 156.4,192.2 154.0,196.6 151.7,200.9 149.4,204.0 149.4,204.0 149.3,204.1 146.2,206.1 143.0,208.1 142.1,208.7 140.7,209.6 139.8,210.2 136.6,212.3 134.8,213.5 133.4,214.5 131.2,215.9 130.2,216.6 127.2,218.5 127.0,218.7 126.5,219.0 124.4,221.5 122.0,224.4 119.6,227.3 119.5,227.4 118.6,228.5 116.9,230.2 114.2,232.9 111.5,235.6" fill="#291744"/>
<polygon points="243.4,120.8 252.6,114.8 260.0,108.6 270.3,99.8 286.0,117.0 270.0,128.6 263.1,133.9 256.5,139.2" fill="#000" opacity="0.2"/>
<g clip-path="url(#cse)"><polygon points="259.5,115.4 289.8,97.9 312.1,41.0 312.9,42.5 290.6,99.4 260.3,116.9" fill="#4466da"/>
<polygon points="260.0,116.3 290.3,98.8 312.6,41.9 313.4,43.4 291.2,100.3 260.9,117.8" fill="#4383f4"/>
<polygon points="260.6,117.2 290.9,99.7 313.1,42.8 313.9,44.3 291.7,101.2 261.4,118.7" fill="#389ef5"/>
<polygon points="261.1,118.2 291.4,100.7 313.6,43.7 314.4,45.2 292.2,102.1 261.9,119.6" fill="#24bae0"/>
<polygon points="261.6,119.1 291.9,101.6 314.1,44.6 314.9,46.1 292.8,103.1 262.5,120.6" fill="#17d3c2"/>
<polygon points="262.1,120.0 292.4,102.5 314.6,45.6 315.4,47.0 293.3,104.0 263.0,121.5" fill="#1fe3a7"/>
<polygon points="262.7,120.9 293.0,103.4 315.1,46.5 315.9,47.9 293.8,104.9 263.5,122.4" fill="#41ef83"/>
<polygon points="263.2,121.9 293.5,104.4 315.6,47.4 316.4,48.8 294.3,105.8 264.0,123.3" fill="#6ef65c"/>
<polygon points="263.7,122.8 294.0,105.3 316.1,48.3 317.0,49.7 294.9,106.8 264.6,124.3" fill="#94f640"/>
<polygon points="264.2,123.7 294.6,106.2 316.6,49.2 317.5,50.7 295.4,107.7 265.1,125.2" fill="#b4ef33"/>
<polygon points="264.8,124.6 295.1,107.1 317.2,50.1 318.0,51.6 295.9,108.6 265.6,126.1" fill="#d0df34"/>
<polygon points="265.3,125.5 295.6,108.0 317.7,51.0 318.5,52.5 296.4,109.5 266.1,127.0" fill="#e5cb38"/>
<polygon points="265.8,126.5 296.1,109.0 318.2,51.9 319.0,53.4 297.0,110.4 266.7,127.9" fill="#f3b236"/>
<polygon points="266.4,127.4 296.7,109.9 318.7,52.8 319.5,54.3 297.5,111.4 267.2,128.9" fill="#f6942b"/>
<polygon points="266.9,128.3 297.2,110.8 319.2,53.8 320.0,55.2 298.0,112.3 267.7,129.8" fill="#f2741d"/>
<polygon points="267.4,129.2 297.7,111.7 319.7,54.7 320.5,56.1 298.6,113.2 268.3,130.7" fill="#e6530f"/>
<polygon points="267.9,130.2 298.2,112.7 320.2,55.6 321.0,57.0 299.1,114.1 268.8,131.6" fill="#d53907"/>
<polygon points="268.5,131.1 298.8,113.6 320.7,56.5 321.2,57.4 299.3,114.5 269.0,132.0" fill="#bf2503"/></g>
<polygon points="203.4,152.2 205.2,157.1 210.4,157.3 206.3,160.6 207.7,165.6 203.4,162.7 199.1,165.6 200.5,160.6 196.4,157.3 201.6,157.1" fill="#fce592" stroke="#222" stroke-width="0.9"/>
<text x="0" y="0" font-size="10.5" fill="#444" text-anchor="middle" transform="translate(114.5,190.5) rotate(-37.0)">MF</text>
<text x="0" y="0" font-size="10.5" fill="#444" text-anchor="middle" transform="translate(133.5,168.5) rotate(-48.0)">SyS</text>
<text x="0" y="0" font-size="10.5" fill="#444" text-anchor="middle" transform="translate(193.0,136.0) rotate(-30.0)">WjS</text>
<text x="0" y="0" font-size="10.5" fill="#444" text-anchor="middle" transform="translate(233.3,114.5) rotate(-40.0)">SzS</text>
<text x="0" y="0" font-size="11.5" fill="#444" text-anchor="middle" transform="translate(284.0,72.0) rotate(-60.0)">TTSF</text>
<polygon points="142.4,70.2 152.8,76.6 151.5,78.6 158.6,77.6 156.3,70.8 155.1,72.8 144.8,66.4" fill="#82f7c3" stroke="#555" stroke-width="0.5"/>
<polygon points="176.4,86.1 165.4,79.4 166.7,77.4 159.6,78.4 161.9,85.2 163.1,83.2 174.0,89.9" fill="#82f7c3" stroke="#555" stroke-width="0.5"/>
<text x="0" y="0" font-size="10.5" fill="#333" transform="translate(159.6,60.6) rotate(31)">&#963;<tspan font-size="7" dy="3.3">hmax</tspan></text>
<rect x="266.2" y="183.7" width="11" height="60.3" fill="url(#gturbo)"/>
<line x1="275.5" y1="183.7" x2="282.5" y2="183.7" stroke="#333" stroke-width="1"/>
<text x="286.5" y="187.3" font-size="10" fill="#464672">0.</text>
<line x1="275.5" y1="202.3" x2="282.5" y2="202.3" stroke="#333" stroke-width="1"/>
<text x="286.5" y="205.9" font-size="10" fill="#464672">-4.</text>
<line x1="275.5" y1="220.8" x2="282.5" y2="220.8" stroke="#333" stroke-width="1"/>
<text x="286.5" y="224.4" font-size="10" fill="#464672">-8.</text>
<line x1="275.5" y1="244.0" x2="282.5" y2="244.0" stroke="#333" stroke-width="1"/>
<text x="286.5" y="247.6" font-size="10" fill="#464672">-13.</text>
<text x="0" y="0" font-size="10.5" fill="#464672" text-anchor="middle" textLength="55.5" lengthAdjust="spacingAndGlyphs" transform="translate(322.3,213.2) rotate(-90)">Depth(km)</text>
<rect x="454.2" y="22.9" width="204.8" height="203.5" fill="none" stroke="#333" stroke-width="1.2"/>
<line x1="495.2" y1="226.4" x2="495.2" y2="222.9" stroke="#333" stroke-width="1"/>
<line x1="495.2" y1="22.9" x2="495.2" y2="26.4" stroke="#333" stroke-width="1"/>
<line x1="536.1" y1="226.4" x2="536.1" y2="222.9" stroke="#333" stroke-width="1"/>
<line x1="536.1" y1="22.9" x2="536.1" y2="26.4" stroke="#333" stroke-width="1"/>
<line x1="577.1" y1="226.4" x2="577.1" y2="222.9" stroke="#333" stroke-width="1"/>
<line x1="577.1" y1="22.9" x2="577.1" y2="26.4" stroke="#333" stroke-width="1"/>
<line x1="618.0" y1="226.4" x2="618.0" y2="222.9" stroke="#333" stroke-width="1"/>
<line x1="618.0" y1="22.9" x2="618.0" y2="26.4" stroke="#333" stroke-width="1"/>
<line x1="454.2" y1="124.7" x2="457.7" y2="124.7" stroke="#333" stroke-width="1"/>
<line x1="659.0" y1="124.7" x2="655.5" y2="124.7" stroke="#333" stroke-width="1"/>
<text x="454.2" y="245" font-size="14.5" fill="#222" text-anchor="middle">0</text>
<text x="495.2" y="245" font-size="14.5" fill="#222" text-anchor="middle">10</text>
<text x="536.1" y="245" font-size="14.5" fill="#222" text-anchor="middle">20</text>
<text x="577.1" y="245" font-size="14.5" fill="#222" text-anchor="middle">30</text>
<text x="618.0" y="245" font-size="14.5" fill="#222" text-anchor="middle">40</text>
<text x="659.0" y="245" font-size="14.5" fill="#222" text-anchor="middle">50</text>
<text x="443" y="230.5" font-size="14.5" fill="#222" text-anchor="end">0</text>
<text x="443" y="129.2" font-size="14.5" fill="#222" text-anchor="end">0.5</text>
<text x="443" y="26.3" font-size="14.5" fill="#222" text-anchor="end">1</text>
<text x="530.4" y="264.3" font-size="15.5" fill="#222" textLength="50" lengthAdjust="spacingAndGlyphs">Time, s</text>
<text x="0" y="0" font-size="16" fill="#222" text-anchor="middle" textLength="181" lengthAdjust="spacingAndGlyphs" transform="translate(400.5,125.4) rotate(-90)">Normalized moment rate</text>
<text x="399.6" y="17.6" font-size="12.5" fill="#5a5a6a" textLength="17" lengthAdjust="spacingAndGlyphs">(b)</text>
<polyline points="454.0,218.0 457.3,222.0 461.7,225.3 471.9,225.7 474.1,224.6 479.2,223.1 482.8,221.3 485.0,217.6 488.7,211.1 492.3,203.8 496.0,195.0 501.5,177.5 506.9,161.4 512.3,146.3 518.8,121.5 522.9,109.6 526.8,97.0 530.8,81.2 533.9,65.4 536.0,52.8 538.6,45.0 539.4,41.0 543.4,32.3 547.0,23.2 548.1,35.5 549.4,49.7 551.3,59.9 554.7,65.1 557.6,61.5 560.7,57.3 564.2,52.8 566.2,56.8 568.6,63.9 571.0,76.5 573.3,87.5 575.7,103.3 577.6,117.3 580.8,134.5 586.2,149.6 591.6,162.6 597.0,175.5 601.3,189.6 604.5,193.9 608.4,198.2 612.1,207.9 615.8,219.8 618.6,225.2 620.7,226.3" fill="none" stroke="#7a2db4" stroke-width="1.3" stroke-linejoin="round"/>
<rect x="66.7" y="305.5" width="268.3" height="262.8" fill="none" stroke="#3a3a3a" stroke-width="1"/>
<line x1="60.0" y1="554.5" x2="73.7" y2="554.5" stroke="#3a3a3a" stroke-width="1"/>
<text x="59.8" y="558.1" font-size="10" fill="#333" text-anchor="end">-20</text>
<line x1="60.0" y1="520.8" x2="73.7" y2="520.8" stroke="#3a3a3a" stroke-width="1"/>
<text x="59.8" y="524.4" font-size="10" fill="#333" text-anchor="end">0</text>
<line x1="60.0" y1="487.0" x2="73.7" y2="487.0" stroke="#3a3a3a" stroke-width="1"/>
<text x="59.8" y="490.6" font-size="10" fill="#333" text-anchor="end">20</text>
<line x1="60.0" y1="453.3" x2="73.7" y2="453.3" stroke="#3a3a3a" stroke-width="1"/>
<text x="59.8" y="456.9" font-size="10" fill="#333" text-anchor="end">40</text>
<line x1="60.0" y1="419.5" x2="73.7" y2="419.5" stroke="#3a3a3a" stroke-width="1"/>
<text x="59.8" y="423.1" font-size="10" fill="#333" text-anchor="end">60</text>
<line x1="60.0" y1="385.8" x2="73.7" y2="385.8" stroke="#3a3a3a" stroke-width="1"/>
<text x="59.8" y="389.4" font-size="10" fill="#333" text-anchor="end">80</text>
<line x1="60.0" y1="352.0" x2="73.7" y2="352.0" stroke="#3a3a3a" stroke-width="1"/>
<text x="59.8" y="355.6" font-size="10" fill="#333" text-anchor="end">100</text>
<line x1="60.0" y1="318.3" x2="73.7" y2="318.3" stroke="#3a3a3a" stroke-width="1"/>
<text x="59.8" y="321.9" font-size="10" fill="#333" text-anchor="end">120</text>
<line x1="95.3" y1="561.6" x2="95.3" y2="571.8" stroke="#3a3a3a" stroke-width="1"/>
<text x="95.3" y="583.3" font-size="10" fill="#464672" text-anchor="middle">0</text>
<line x1="129.1" y1="561.6" x2="129.1" y2="571.8" stroke="#3a3a3a" stroke-width="1"/>
<text x="129.1" y="583.3" font-size="10" fill="#464672" text-anchor="middle">20</text>
<line x1="162.8" y1="561.6" x2="162.8" y2="571.8" stroke="#3a3a3a" stroke-width="1"/>
<text x="162.8" y="583.3" font-size="10" fill="#464672" text-anchor="middle">40</text>
<line x1="196.6" y1="561.6" x2="196.6" y2="571.8" stroke="#3a3a3a" stroke-width="1"/>
<text x="196.6" y="583.3" font-size="10" fill="#464672" text-anchor="middle">60</text>
<line x1="230.3" y1="561.6" x2="230.3" y2="571.8" stroke="#3a3a3a" stroke-width="1"/>
<text x="230.3" y="583.3" font-size="10" fill="#464672" text-anchor="middle">80</text>
<line x1="264.1" y1="561.6" x2="264.1" y2="571.8" stroke="#3a3a3a" stroke-width="1"/>
<text x="264.1" y="583.3" font-size="10" fill="#464672" text-anchor="middle">100</text>
<line x1="297.8" y1="561.6" x2="297.8" y2="571.8" stroke="#3a3a3a" stroke-width="1"/>
<text x="297.8" y="583.3" font-size="10" fill="#464672" text-anchor="middle">120</text>
<line x1="331.6" y1="561.6" x2="331.6" y2="571.8" stroke="#3a3a3a" stroke-width="1"/>
<text x="331.6" y="583.3" font-size="10" fill="#464672" text-anchor="middle">140</text>
<text x="170.2" y="596.6" font-size="10.5" fill="#333" textLength="61" lengthAdjust="spacingAndGlyphs">Easting(km)</text>
<text x="2.1" y="439.8" font-size="10" fill="#464672" textLength="43.5" lengthAdjust="spacingAndGlyphs">Northing</text>
<text x="76" y="325.5" font-size="13" fill="#4a4a5a" textLength="16.5" lengthAdjust="spacingAndGlyphs">(c)</text>
<g clip-path="url(#cdom)">
<rect x="60" y="300" width="290" height="280" fill="#0ca4cc"/>
<g filter="url(#b3)"><rect x="261" y="344" width="25.3" height="5.3" fill="#0da0d0"/><rect x="261" y="349" width="40.3" height="5.3" fill="#0da0d0"/><rect x="261" y="354" width="20.3" height="5.3" fill="#0da0d0"/><rect x="281" y="354" width="10.3" height="5.3" fill="#0e9cd4"/><rect x="291" y="354" width="20.3" height="5.3" fill="#0f97d8"/><rect x="311" y="354" width="5.3" height="5.3" fill="#0da0d0"/><rect x="256" y="359" width="25.3" height="5.3" fill="#0da0d0"/><rect x="281" y="359" width="10.3" height="5.3" fill="#0e9cd4"/><rect x="291" y="359" width="5.3" height="5.3" fill="#0f97d8"/><rect x="296" y="359" width="5.3" height="5.3" fill="#1193dc"/><rect x="301" y="359" width="5.3" height="5.3" fill="#138be4"/><rect x="306" y="359" width="15.3" height="5.3" fill="#1582ec"/><rect x="321" y="359" width="5.3" height="5.3" fill="#1193dc"/><rect x="256" y="364" width="25.3" height="5.3" fill="#0da0d0"/><rect x="281" y="364" width="5.3" height="5.3" fill="#0e9cd4"/><rect x="286" y="364" width="5.3" height="5.3" fill="#0f97d8"/><rect x="291" y="364" width="5.3" height="5.3" fill="#1193dc"/><rect x="296" y="364" width="5.3" height="5.3" fill="#128fe0"/><rect x="301" y="364" width="5.3" height="5.3" fill="#1486e8"/><rect x="306" y="364" width="5.3" height="5.3" fill="#167eef"/><rect x="311" y="364" width="5.3" height="5.3" fill="#1372f5"/><rect x="316" y="364" width="5.3" height="5.3" fill="#1163fd"/><rect x="321" y="364" width="5.3" height="5.3" fill="#1372f5"/><rect x="326" y="364" width="5.3" height="5.3" fill="#1486e8"/><rect x="331" y="364" width="5.3" height="5.3" fill="#0f97d8"/><rect x="336" y="364" width="5.3" height="5.3" fill="#0da0d0"/><rect x="251" y="369" width="25.3" height="5.3" fill="#0da0d0"/><rect x="276" y="369" width="10.3" height="5.3" fill="#0e9cd4"/><rect x="286" y="369" width="5.3" height="5.3" fill="#0f97d8"/><rect x="291" y="369" width="5.3" height="5.3" fill="#1193dc"/><rect x="296" y="369" width="5.3" height="5.3" fill="#128fe0"/><rect x="301" y="369" width="5.3" height="5.3" fill="#1486e8"/><rect x="306" y="369" width="5.3" height="5.3" fill="#157bf0"/><rect x="311" y="369" width="5.3" height="5.3" fill="#136ff7"/><rect x="316" y="369" width="5.3" height="5.3" fill="#1163fd"/><rect x="321" y="369" width="5.3" height="5.3" fill="#1372f5"/><rect x="326" y="369" width="5.3" height="5.3" fill="#167eef"/><rect x="331" y="369" width="5.3" height="5.3" fill="#1486e8"/><rect x="336" y="369" width="5.3" height="5.3" fill="#1193dc"/><rect x="341" y="369" width="5.3" height="5.3" fill="#0e9cd4"/><rect x="241" y="374" width="5.3" height="5.3" fill="#0da0d0"/><rect x="251" y="374" width="25.3" height="5.3" fill="#0da0d0"/><rect x="276" y="374" width="10.3" height="5.3" fill="#0e9cd4"/><rect x="286" y="374" width="5.3" height="5.3" fill="#0f97d8"/><rect x="291" y="374" width="5.3" height="5.3" fill="#1193dc"/><rect x="296" y="374" width="5.3" height="5.3" fill="#138be4"/><rect x="301" y="374" width="5.3" height="5.3" fill="#1582ec"/><rect x="306" y="374" width="5.3" height="5.3" fill="#1475f4"/><rect x="311" y="374" width="10.3" height="5.3" fill="#1269fa"/><rect x="321" y="374" width="5.3" height="5.3" fill="#1578f2"/><rect x="326" y="374" width="5.3" height="5.3" fill="#1582ec"/><rect x="331" y="374" width="5.3" height="5.3" fill="#138be4"/><rect x="336" y="374" width="5.3" height="5.3" fill="#1193dc"/><rect x="341" y="374" width="5.3" height="5.3" fill="#0f97d8"/><rect x="236" y="379" width="35.3" height="5.3" fill="#0da0d0"/><rect x="271" y="379" width="10.3" height="5.3" fill="#0e9cd4"/><rect x="281" y="379" width="5.3" height="5.3" fill="#0f97d8"/><rect x="286" y="379" width="5.3" height="5.3" fill="#1193dc"/><rect x="291" y="379" width="5.3" height="5.3" fill="#128fe0"/><rect x="296" y="379" width="5.3" height="5.3" fill="#1486e8"/><rect x="301" y="379" width="5.3" height="5.3" fill="#157bf0"/><rect x="306" y="379" width="5.3" height="5.3" fill="#1372f5"/><rect x="311" y="379" width="5.3" height="5.3" fill="#1163fd"/><rect x="316" y="379" width="5.3" height="5.3" fill="#136ff7"/><rect x="321" y="379" width="5.3" height="5.3" fill="#157bf0"/><rect x="326" y="379" width="5.3" height="5.3" fill="#1486e8"/><rect x="331" y="379" width="5.3" height="5.3" fill="#128fe0"/><rect x="336" y="379" width="5.3" height="5.3" fill="#1193dc"/><rect x="341" y="379" width="5.3" height="5.3" fill="#0f97d8"/><rect x="231" y="384" width="40.3" height="5.3" fill="#0da0d0"/><rect x="271" y="384" width="10.3" height="5.3" fill="#0e9cd4"/><rect x="281" y="384" width="5.3" height="5.3" fill="#0f97d8"/><rect x="286" y="384" width="5.3" height="5.3" fill="#1193dc"/><rect x="291" y="384" width="5.3" height="5.3" fill="#138be4"/><rect x="296" y="384" width="5.3" height="5.3" fill="#1582ec"/><rect x="301" y="384" width="5.3" height="5.3" fill="#1578f2"/><rect x="306" y="384" width="5.3" height="5.3" fill="#126cf9"/><rect x="311" y="384" width="5.3" height="5.3" fill="#1166fc"/><rect x="316" y="384" width="5.3" height="5.3" fill="#1475f4"/><rect x="321" y="384" width="5.3" height="5.3" fill="#167eef"/><rect x="326" y="384" width="5.3" height="5.3" fill="#138be4"/><rect x="331" y="384" width="5.3" height="5.3" fill="#128fe0"/><rect x="336" y="384" width="10.3" height="5.3" fill="#0f97d8"/><rect x="226" y="389" width="25.3" height="5.3" fill="#0da0d0"/><rect x="251" y="389" width="10.3" height="5.3" fill="#0e9cd4"/><rect x="261" y="389" width="10.3" height="5.3" fill="#0da0d0"/><rect x="271" y="389" width="5.3" height="5.3" fill="#0e9cd4"/><rect x="276" y="389" width="10.3" height="5.3" fill="#0f97d8"/><rect x="286" y="389" width="5.3" height="5.3" fill="#128fe0"/><rect x="291" y="389" width="5.3" height="5.3" fill="#138be4"/><rect x="296" y="389" width="5.3" height="5.3" fill="#167eef"/><rect x="301" y="389" width="5.3" height="5.3" fill="#1475f4"/><rect x="306" y="389" width="5.3" height="5.3" fill="#1166fc"/><rect x="311" y="389" width="5.3" height="5.3" fill="#126cf9"/><rect x="316" y="389" width="5.3" height="5.3" fill="#1578f2"/><rect x="321" y="389" width="5.3" height="5.3" fill="#1582ec"/><rect x="326" y="389" width="5.3" height="5.3" fill="#138be4"/><rect x="331" y="389" width="5.3" height="5.3" fill="#1193dc"/><rect x="336" y="389" width="5.3" height="5.3" fill="#0f97d8"/><rect x="341" y="389" width="5.3" height="5.3" fill="#0e9cd4"/><rect x="216" y="394" width="30.3" height="5.3" fill="#0da0d0"/><rect x="246" y="394" width="5.3" height="5.3" fill="#0e9cd4"/><rect x="251" y="394" width="10.3" height="5.3" fill="#0f97d8"/><rect x="261" y="394" width="5.3" height="5.3" fill="#1193dc"/><rect x="266" y="394" width="10.3" height="5.3" fill="#0e9cd4"/><rect x="276" y="394" width="5.3" height="5.3" fill="#0f97d8"/><rect x="281" y="394" width="5.3" height="5.3" fill="#1193dc"/><rect x="286" y="394" width="5.3" height="5.3" fill="#128fe0"/><rect x="291" y="394" width="5.3" height="5.3" fill="#1486e8"/><rect x="296" y="394" width="5.3" height="5.3" fill="#157bf0"/><rect x="301" y="394" width="5.3" height="5.3" fill="#136ff7"/><rect x="306" y="394" width="5.3" height="5.3" fill="#1060ff"/><rect x="311" y="394" width="5.3" height="5.3" fill="#1372f5"/><rect x="316" y="394" width="5.3" height="5.3" fill="#157bf0"/><rect x="321" y="394" width="5.3" height="5.3" fill="#1486e8"/><rect x="326" y="394" width="5.3" height="5.3" fill="#128fe0"/><rect x="331" y="394" width="5.3" height="5.3" fill="#1193dc"/><rect x="336" y="394" width="5.3" height="5.3" fill="#0f97d8"/><rect x="341" y="394" width="5.3" height="5.3" fill="#0e9cd4"/><rect x="211" y="399" width="25.3" height="5.3" fill="#0da0d0"/><rect x="236" y="399" width="10.3" height="5.3" fill="#0e9cd4"/><rect x="246" y="399" width="5.3" height="5.3" fill="#0f97d8"/><rect x="251" y="399" width="5.3" height="5.3" fill="#1193dc"/><rect x="256" y="399" width="5.3" height="5.3" fill="#128fe0"/><rect x="261" y="399" width="5.3" height="5.3" fill="#1486e8"/><rect x="266" y="399" width="5.3" height="5.3" fill="#1193dc"/><rect x="271" y="399" width="10.3" height="5.3" fill="#0f97d8"/><rect x="281" y="399" width="5.3" height="5.3" fill="#1193dc"/><rect x="286" y="399" width="5.3" height="5.3" fill="#138be4"/><rect x="291" y="399" width="5.3" height="5.3" fill="#1582ec"/><rect x="296" y="399" width="5.3" height="5.3" fill="#1578f2"/><rect x="301" y="399" width="10.3" height="5.3" fill="#1269fa"/><rect x="311" y="399" width="5.3" height="5.3" fill="#1475f4"/><rect x="316" y="399" width="5.3" height="5.3" fill="#167eef"/><rect x="321" y="399" width="5.3" height="5.3" fill="#138be4"/><rect x="326" y="399" width="5.3" height="5.3" fill="#1193dc"/><rect x="331" y="399" width="5.3" height="5.3" fill="#0f97d8"/><rect x="336" y="399" width="10.3" height="5.3" fill="#0e9cd4"/><rect x="206" y="404" width="25.3" height="5.3" fill="#0da0d0"/><rect x="231" y="404" width="10.3" height="5.3" fill="#0e9cd4"/><rect x="241" y="404" width="5.3" height="5.3" fill="#0f97d8"/><rect x="246" y="404" width="5.3" height="5.3" fill="#1193dc"/><rect x="251" y="404" width="5.3" height="5.3" fill="#128fe0"/><rect x="256" y="404" width="5.3" height="5.3" fill="#1486e8"/><rect x="261" y="404" width="5.3" height="5.3" fill="#157bf0"/><rect x="266" y="404" width="5.3" height="5.3" fill="#1475f4"/><rect x="271" y="404" width="10.3" height="5.3" fill="#1193dc"/><rect x="281" y="404" width="5.3" height="5.3" fill="#128fe0"/><rect x="286" y="404" width="5.3" height="5.3" fill="#1486e8"/><rect x="291" y="404" width="5.3" height="5.3" fill="#167eef"/><rect x="296" y="404" width="5.3" height="5.3" fill="#1372f5"/><rect x="301" y="404" width="5.3" height="5.3" fill="#1163fd"/><rect x="306" y="404" width="5.3" height="5.3" fill="#136ff7"/><rect x="311" y="404" width="5.3" height="5.3" fill="#157bf0"/><rect x="316" y="404" width="5.3" height="5.3" fill="#1582ec"/><rect x="321" y="404" width="5.3" height="5.3" fill="#128fe0"/><rect x="326" y="404" width="5.3" height="5.3" fill="#1193dc"/><rect x="331" y="404" width="5.3" height="5.3" fill="#0f97d8"/><rect x="336" y="404" width="10.3" height="5.3" fill="#0e9cd4"/><rect x="186" y="409" width="40.3" height="5.3" fill="#0da0d0"/><rect x="226" y="409" width="10.3" height="5.3" fill="#0e9cd4"/><rect x="236" y="409" width="5.3" height="5.3" fill="#0f97d8"/><rect x="241" y="409" width="5.3" height="5.3" fill="#1193dc"/><rect x="246" y="409" width="5.3" height="5.3" fill="#138be4"/><rect x="251" y="409" width="5.3" height="5.3" fill="#1582ec"/><rect x="256" y="409" width="5.3" height="5.3" fill="#157bf0"/><rect x="261" y="409" width="5.3" height="5.3" fill="#1578f2"/><rect x="266" y="409" width="5.3" height="5.3" fill="#1582ec"/><rect x="271" y="409" width="10.3" height="5.3" fill="#138be4"/><rect x="281" y="409" width="5.3" height="5.3" fill="#1486e8"/><rect x="286" y="409" width="5.3" height="5.3" fill="#1582ec"/><rect x="291" y="409" width="5.3" height="5.3" fill="#1578f2"/><rect x="296" y="409" width="5.3" height="5.3" fill="#126cf9"/><rect x="301" y="409" width="5.3" height="5.3" fill="#1163fd"/><rect x="306" y="409" width="5.3" height="5.3" fill="#1372f5"/><rect x="311" y="409" width="5.3" height="5.3" fill="#167eef"/><rect x="316" y="409" width="5.3" height="5.3" fill="#1486e8"/><rect x="321" y="409" width="5.3" height="5.3" fill="#128fe0"/><rect x="326" y="409" width="5.3" height="5.3" fill="#1193dc"/><rect x="331" y="409" width="5.3" height="5.3" fill="#0f97d8"/><rect x="336" y="409" width="5.3" height="5.3" fill="#0e9cd4"/><rect x="341" y="409" width="5.3" height="5.3" fill="#0da0d0"/><rect x="166" y="414" width="55.3" height="5.3" fill="#0da0d0"/><rect x="221" y="414" width="10.3" height="5.3" fill="#0e9cd4"/><rect x="231" y="414" width="5.3" height="5.3" fill="#0f97d8"/><rect x="236" y="414" width="5.3" height="5.3" fill="#128fe0"/><rect x="241" y="414" width="5.3" height="5.3" fill="#138be4"/><rect x="246" y="414" width="5.3" height="5.3" fill="#1582ec"/><rect x="251" y="414" width="10.3" height="5.3" fill="#1578f2"/><rect x="261" y="414" width="5.3" height="5.3" fill="#1582ec"/><rect x="266" y="414" width="5.3" height="5.3" fill="#138be4"/><rect x="271" y="414" width="5.3" height="5.3" fill="#1486e8"/><rect x="276" y="414" width="5.3" height="5.3" fill="#1582ec"/><rect x="281" y="414" width="5.3" height="5.3" fill="#157bf0"/><rect x="286" y="414" width="5.3" height="5.3" fill="#1578f2"/><rect x="291" y="414" width="5.3" height="5.3" fill="#136ff7"/><rect x="296" y="414" width="5.3" height="5.3" fill="#1166fc"/><rect x="301" y="414" width="5.3" height="5.3" fill="#1269fa"/><rect x="306" y="414" width="5.3" height="5.3" fill="#1578f2"/><rect x="311" y="414" width="5.3" height="5.3" fill="#1582ec"/><rect x="316" y="414" width="5.3" height="5.3" fill="#138be4"/><rect x="321" y="414" width="5.3" height="5.3" fill="#1193dc"/><rect x="326" y="414" width="5.3" height="5.3" fill="#0f97d8"/><rect x="331" y="414" width="10.3" height="5.3" fill="#0e9cd4"/><rect x="341" y="414" width="5.3" height="5.3" fill="#0da0d0"/><rect x="151" y="419" width="60.3" height="5.3" fill="#0da0d0"/><rect x="211" y="419" width="10.3" height="5.3" fill="#0e9cd4"/><rect x="221" y="419" width="10.3" height="5.3" fill="#0f97d8"/><rect x="231" y="419" width="5.3" height="5.3" fill="#128fe0"/><rect x="236" y="419" width="5.3" height="5.3" fill="#1486e8"/><rect x="241" y="419" width="5.3" height="5.3" fill="#167eef"/><rect x="246" y="419" width="5.3" height="5.3" fill="#1475f4"/><rect x="251" y="419" width="5.3" height="5.3" fill="#157bf0"/><rect x="256" y="419" width="5.3" height="5.3" fill="#1486e8"/><rect x="261" y="419" width="5.3" height="5.3" fill="#138be4"/><rect x="266" y="419" width="5.3" height="5.3" fill="#1582ec"/><rect x="271" y="419" width="5.3" height="5.3" fill="#167eef"/><rect x="276" y="419" width="5.3" height="5.3" fill="#1578f2"/><rect x="281" y="419" width="5.3" height="5.3" fill="#1372f5"/><rect x="286" y="419" width="5.3" height="5.3" fill="#126cf9"/><rect x="291" y="419" width="5.3" height="5.3" fill="#1163fd"/><rect x="296" y="419" width="5.3" height="5.3" fill="#1269fa"/><rect x="301" y="419" width="5.3" height="5.3" fill="#1372f5"/><rect x="306" y="419" width="5.3" height="5.3" fill="#157bf0"/><rect x="311" y="419" width="5.3" height="5.3" fill="#1486e8"/><rect x="316" y="419" width="5.3" height="5.3" fill="#128fe0"/><rect x="321" y="419" width="5.3" height="5.3" fill="#1193dc"/><rect x="326" y="419" width="5.3" height="5.3" fill="#0f97d8"/><rect x="331" y="419" width="10.3" height="5.3" fill="#0e9cd4"/><rect x="341" y="419" width="5.3" height="5.3" fill="#0da0d0"/><rect x="141" y="424" width="50.3" height="5.3" fill="#0da0d0"/><rect x="191" y="424" width="25.3" height="5.3" fill="#0e9cd4"/><rect x="216" y="424" width="5.3" height="5.3" fill="#0f97d8"/><rect x="221" y="424" width="5.3" height="5.3" fill="#1193dc"/><rect x="226" y="424" width="5.3" height="5.3" fill="#128fe0"/><rect x="231" y="424" width="5.3" height="5.3" fill="#1486e8"/><rect x="236" y="424" width="5.3" height="5.3" fill="#167eef"/><rect x="241" y="424" width="5.3" height="5.3" fill="#1475f4"/><rect x="246" y="424" width="5.3" height="5.3" fill="#167eef"/><rect x="251" y="424" width="5.3" height="5.3" fill="#1486e8"/><rect x="256" y="424" width="10.3" height="5.3" fill="#128fe0"/><rect x="266" y="424" width="5.3" height="5.3" fill="#157bf0"/><rect x="271" y="424" width="5.3" height="5.3" fill="#1475f4"/><rect x="276" y="424" width="5.3" height="5.3" fill="#126cf9"/><rect x="281" y="424" width="10.3" height="5.3" fill="#1166fc"/><rect x="291" y="424" width="5.3" height="5.3" fill="#136ff7"/><rect x="296" y="424" width="5.3" height="5.3" fill="#1475f4"/><rect x="301" y="424" width="5.3" height="5.3" fill="#157bf0"/><rect x="306" y="424" width="5.3" height="5.3" fill="#1582ec"/><rect x="311" y="424" width="5.3" height="5.3" fill="#138be4"/><rect x="316" y="424" width="5.3" height="5.3" fill="#128fe0"/><rect x="321" y="424" width="5.3" height="5.3" fill="#0f97d8"/><rect x="326" y="424" width="10.3" height="5.3" fill="#0e9cd4"/><rect x="336" y="424" width="10.3" height="5.3" fill="#0da0d0"/><rect x="131" y="429" width="40.3" height="5.3" fill="#0da0d0"/><rect x="171" y="429" width="25.3" height="5.3" fill="#0e9cd4"/><rect x="196" y="429" width="15.3" height="5.3" fill="#0f97d8"/><rect x="211" y="429" width="10.3" height="5.3" fill="#1193dc"/><rect x="221" y="429" width="5.3" height="5.3" fill="#138be4"/><rect x="226" y="429" width="5.3" height="5.3" fill="#1486e8"/><rect x="231" y="429" width="5.3" height="5.3" fill="#157bf0"/><rect x="236" y="429" width="5.3" height="5.3" fill="#1475f4"/><rect x="241" y="429" width="5.3" height="5.3" fill="#167eef"/><rect x="246" y="429" width="5.3" height="5.3" fill="#138be4"/><rect x="251" y="429" width="5.3" height="5.3" fill="#128fe0"/><rect x="256" y="429" width="10.3" height="5.3" fill="#0f97d8"/><rect x="266" y="429" width="5.3" height="5.3" fill="#136ff7"/><rect x="271" y="429" width="5.3" height="5.3" fill="#1166fc"/><rect x="276" y="429" width="5.3" height="5.3" fill="#1163fd"/><rect x="281" y="429" width="5.3" height="5.3" fill="#126cf9"/><rect x="286" y="429" width="5.3" height="5.3" fill="#1372f5"/><rect x="291" y="429" width="5.3" height="5.3" fill="#1578f2"/><rect x="296" y="429" width="5.3" height="5.3" fill="#167eef"/><rect x="301" y="429" width="5.3" height="5.3" fill="#1582ec"/><rect x="306" y="429" width="5.3" height="5.3" fill="#138be4"/><rect x="311" y="429" width="5.3" height="5.3" fill="#128fe0"/><rect x="316" y="429" width="5.3" height="5.3" fill="#1193dc"/><rect x="321" y="429" width="5.3" height="5.3" fill="#0f97d8"/><rect x="326" y="429" width="10.3" height="5.3" fill="#0e9cd4"/><rect x="336" y="429" width="10.3" height="5.3" fill="#0da0d0"/><rect x="121" y="434" width="35.3" height="5.3" fill="#0da0d0"/><rect x="156" y="434" width="20.3" height="5.3" fill="#0e9cd4"/><rect x="176" y="434" width="15.3" height="5.3" fill="#0f97d8"/><rect x="191" y="434" width="15.3" height="5.3" fill="#1193dc"/><rect x="206" y="434" width="5.3" height="5.3" fill="#128fe0"/><rect x="211" y="434" width="5.3" height="5.3" fill="#138be4"/><rect x="216" y="434" width="5.3" height="5.3" fill="#1486e8"/><rect x="221" y="434" width="5.3" height="5.3" fill="#167eef"/><rect x="226" y="434" width="10.3" height="5.3" fill="#1578f2"/><rect x="236" y="434" width="5.3" height="5.3" fill="#1582ec"/><rect x="241" y="434" width="5.3" height="5.3" fill="#138be4"/><rect x="246" y="434" width="5.3" height="5.3" fill="#1193dc"/><rect x="251" y="434" width="5.3" height="5.3" fill="#0f97d8"/><rect x="256" y="434" width="10.3" height="5.3" fill="#0e9cd4"/><rect x="266" y="434" width="5.3" height="5.3" fill="#1486e8"/><rect x="271" y="434" width="5.3" height="5.3" fill="#1269fa"/><rect x="276" y="434" width="5.3" height="5.3" fill="#1372f5"/><rect x="281" y="434" width="5.3" height="5.3" fill="#1578f2"/><rect x="286" y="434" width="5.3" height="5.3" fill="#167eef"/><rect x="291" y="434" width="5.3" height="5.3" fill="#1582ec"/><rect x="296" y="434" width="5.3" height="5.3" fill="#1486e8"/><rect x="301" y="434" width="5.3" height="5.3" fill="#138be4"/><rect x="306" y="434" width="5.3" height="5.3" fill="#128fe0"/><rect x="311" y="434" width="5.3" height="5.3" fill="#1193dc"/><rect x="316" y="434" width="5.3" height="5.3" fill="#0f97d8"/><rect x="321" y="434" width="10.3" height="5.3" fill="#0e9cd4"/><rect x="331" y="434" width="15.3" height="5.3" fill="#0da0d0"/><rect x="116" y="439" width="30.3" height="5.3" fill="#0da0d0"/><rect x="146" y="439" width="15.3" height="5.3" fill="#0e9cd4"/><rect x="161" y="439" width="10.3" height="5.3" fill="#0f97d8"/><rect x="171" y="439" width="10.3" height="5.3" fill="#1193dc"/><rect x="181" y="439" width="10.3" height="5.3" fill="#128fe0"/><rect x="191" y="439" width="10.3" height="5.3" fill="#138be4"/><rect x="201" y="439" width="5.3" height="5.3" fill="#1486e8"/><rect x="206" y="439" width="5.3" height="5.3" fill="#1582ec"/><rect x="211" y="439" width="5.3" height="5.3" fill="#167eef"/><rect x="216" y="439" width="5.3" height="5.3" fill="#1578f2"/><rect x="221" y="439" width="5.3" height="5.3" fill="#1475f4"/><rect x="226" y="439" width="5.3" height="5.3" fill="#157bf0"/><rect x="231" y="439" width="5.3" height="5.3" fill="#1582ec"/><rect x="236" y="439" width="5.3" height="5.3" fill="#138be4"/><rect x="241" y="439" width="5.3" height="5.3" fill="#1193dc"/><rect x="246" y="439" width="5.3" height="5.3" fill="#0f97d8"/><rect x="251" y="439" width="10.3" height="5.3" fill="#0e9cd4"/><rect x="261" y="439" width="10.3" height="5.3" fill="#0da0d0"/><rect x="271" y="439" width="5.3" height="5.3" fill="#1578f2"/><rect x="276" y="439" width="5.3" height="5.3" fill="#157bf0"/><rect x="281" y="439" width="5.3" height="5.3" fill="#1582ec"/><rect x="286" y="439" width="5.3" height="5.3" fill="#1486e8"/><rect x="291" y="439" width="5.3" height="5.3" fill="#138be4"/><rect x="296" y="439" width="5.3" height="5.3" fill="#128fe0"/><rect x="301" y="439" width="10.3" height="5.3" fill="#1193dc"/><rect x="311" y="439" width="5.3" height="5.3" fill="#0f97d8"/><rect x="316" y="439" width="15.3" height="5.3" fill="#0e9cd4"/><rect x="331" y="439" width="15.3" height="5.3" fill="#0da0d0"/><rect x="111" y="444" width="25.3" height="5.3" fill="#0da0d0"/><rect x="136" y="444" width="15.3" height="5.3" fill="#0e9cd4"/><rect x="151" y="444" width="5.3" height="5.3" fill="#0f97d8"/><rect x="156" y="444" width="10.3" height="5.3" fill="#1193dc"/><rect x="166" y="444" width="5.3" height="5.3" fill="#128fe0"/><rect x="171" y="444" width="5.3" height="5.3" fill="#138be4"/><rect x="176" y="444" width="5.3" height="5.3" fill="#1486e8"/><rect x="181" y="444" width="5.3" height="5.3" fill="#1582ec"/><rect x="186" y="444" width="5.3" height="5.3" fill="#167eef"/><rect x="191" y="444" width="10.3" height="5.3" fill="#157bf0"/><rect x="201" y="444" width="5.3" height="5.3" fill="#1578f2"/><rect x="206" y="444" width="5.3" height="5.3" fill="#1372f5"/><rect x="211" y="444" width="5.3" height="5.3" fill="#1475f4"/><rect x="216" y="444" width="5.3" height="5.3" fill="#157bf0"/><rect x="221" y="444" width="5.3" height="5.3" fill="#1582ec"/><rect x="226" y="444" width="5.3" height="5.3" fill="#138be4"/><rect x="231" y="444" width="5.3" height="5.3" fill="#128fe0"/><rect x="236" y="444" width="5.3" height="5.3" fill="#1193dc"/><rect x="241" y="444" width="5.3" height="5.3" fill="#0f97d8"/><rect x="246" y="444" width="10.3" height="5.3" fill="#0e9cd4"/><rect x="256" y="444" width="15.3" height="5.3" fill="#0da0d0"/><rect x="271" y="444" width="5.3" height="5.3" fill="#0e9cd4"/><rect x="276" y="444" width="5.3" height="5.3" fill="#1486e8"/><rect x="281" y="444" width="5.3" height="5.3" fill="#138be4"/><rect x="286" y="444" width="5.3" height="5.3" fill="#128fe0"/><rect x="291" y="444" width="10.3" height="5.3" fill="#1193dc"/><rect x="301" y="444" width="10.3" height="5.3" fill="#0f97d8"/><rect x="311" y="444" width="15.3" height="5.3" fill="#0e9cd4"/><rect x="326" y="444" width="20.3" height="5.3" fill="#0da0d0"/><rect x="106" y="449" width="25.3" height="5.3" fill="#0da0d0"/><rect x="131" y="449" width="10.3" height="5.3" fill="#0e9cd4"/><rect x="141" y="449" width="10.3" height="5.3" fill="#0f97d8"/><rect x="151" y="449" width="5.3" height="5.3" fill="#1193dc"/><rect x="156" y="449" width="5.3" height="5.3" fill="#128fe0"/><rect x="161" y="449" width="5.3" height="5.3" fill="#1486e8"/><rect x="166" y="449" width="5.3" height="5.3" fill="#1582ec"/><rect x="171" y="449" width="5.3" height="5.3" fill="#167eef"/><rect x="176" y="449" width="5.3" height="5.3" fill="#1578f2"/><rect x="181" y="449" width="5.3" height="5.3" fill="#1475f4"/><rect x="186" y="449" width="10.3" height="5.3" fill="#136ff7"/><rect x="196" y="449" width="5.3" height="5.3" fill="#1372f5"/><rect x="201" y="449" width="5.3" height="5.3" fill="#1578f2"/><rect x="206" y="449" width="5.3" height="5.3" fill="#167eef"/><rect x="211" y="449" width="5.3" height="5.3" fill="#1582ec"/><rect x="216" y="449" width="5.3" height="5.3" fill="#138be4"/><rect x="221" y="449" width="5.3" height="5.3" fill="#128fe0"/><rect x="226" y="449" width="5.3" height="5.3" fill="#1193dc"/><rect x="231" y="449" width="10.3" height="5.3" fill="#0f97d8"/><rect x="241" y="449" width="10.3" height="5.3" fill="#0e9cd4"/><rect x="251" y="449" width="25.3" height="5.3" fill="#0da0d0"/><rect x="276" y="449" width="5.3" height="5.3" fill="#1193dc"/><rect x="281" y="449" width="5.3" height="5.3" fill="#128fe0"/><rect x="286" y="449" width="5.3" height="5.3" fill="#1193dc"/><rect x="291" y="449" width="10.3" height="5.3" fill="#0f97d8"/><rect x="301" y="449" width="15.3" height="5.3" fill="#0e9cd4"/><rect x="316" y="449" width="30.3" height="5.3" fill="#0da0d0"/><rect x="101" y="454" width="25.3" height="5.3" fill="#0da0d0"/><rect x="126" y="454" width="5.3" height="5.3" fill="#0e9cd4"/><rect x="131" y="454" width="10.3" height="5.3" fill="#0f97d8"/><rect x="141" y="454" width="5.3" height="5.3" fill="#1193dc"/><rect x="146" y="454" width="5.3" height="5.3" fill="#128fe0"/><rect x="151" y="454" width="5.3" height="5.3" fill="#138be4"/><rect x="156" y="454" width="5.3" height="5.3" fill="#1582ec"/><rect x="161" y="454" width="5.3" height="5.3" fill="#157bf0"/><rect x="166" y="454" width="10.3" height="5.3" fill="#1372f5"/><rect x="176" y="454" width="10.3" height="5.3" fill="#1475f4"/><rect x="186" y="454" width="5.3" height="5.3" fill="#157bf0"/><rect x="191" y="454" width="5.3" height="5.3" fill="#167eef"/><rect x="196" y="454" width="5.3" height="5.3" fill="#1582ec"/><rect x="201" y="454" width="5.3" height="5.3" fill="#1486e8"/><rect x="206" y="454" width="5.3" height="5.3" fill="#138be4"/><rect x="211" y="454" width="5.3" height="5.3" fill="#128fe0"/><rect x="216" y="454" width="5.3" height="5.3" fill="#1193dc"/><rect x="221" y="454" width="10.3" height="5.3" fill="#0f97d8"/><rect x="231" y="454" width="10.3" height="5.3" fill="#0e9cd4"/><rect x="241" y="454" width="25.3" height="5.3" fill="#0da0d0"/><rect x="276" y="454" width="5.3" height="5.3" fill="#0da0d0"/><rect x="281" y="454" width="10.3" height="5.3" fill="#0f97d8"/><rect x="291" y="454" width="20.3" height="5.3" fill="#0e9cd4"/><rect x="311" y="454" width="35.3" height="5.3" fill="#0da0d0"/><rect x="101" y="459" width="20.3" height="5.3" fill="#0da0d0"/><rect x="121" y="459" width="5.3" height="5.3" fill="#0e9cd4"/><rect x="126" y="459" width="5.3" height="5.3" fill="#0f97d8"/><rect x="131" y="459" width="5.3" height="5.3" fill="#1193dc"/><rect x="136" y="459" width="5.3" height="5.3" fill="#128fe0"/><rect x="141" y="459" width="5.3" height="5.3" fill="#138be4"/><rect x="146" y="459" width="5.3" height="5.3" fill="#1582ec"/><rect x="151" y="459" width="5.3" height="5.3" fill="#157bf0"/><rect x="156" y="459" width="5.3" height="5.3" fill="#1475f4"/><rect x="161" y="459" width="5.3" height="5.3" fill="#1372f5"/><rect x="166" y="459" width="5.3" height="5.3" fill="#157bf0"/><rect x="171" y="459" width="10.3" height="5.3" fill="#1582ec"/><rect x="181" y="459" width="10.3" height="5.3" fill="#1486e8"/><rect x="191" y="459" width="5.3" height="5.3" fill="#138be4"/><rect x="196" y="459" width="5.3" height="5.3" fill="#128fe0"/><rect x="201" y="459" width="10.3" height="5.3" fill="#1193dc"/><rect x="211" y="459" width="10.3" height="5.3" fill="#0f97d8"/><rect x="221" y="459" width="15.3" height="5.3" fill="#0e9cd4"/><rect x="236" y="459" width="25.3" height="5.3" fill="#0da0d0"/><rect x="281" y="459" width="5.3" height="5.3" fill="#0da0d0"/><rect x="286" y="459" width="15.3" height="5.3" fill="#0e9cd4"/><rect x="301" y="459" width="40.3" height="5.3" fill="#0da0d0"/><rect x="96" y="464" width="20.3" height="5.3" fill="#0da0d0"/><rect x="116" y="464" width="5.3" height="5.3" fill="#0e9cd4"/><rect x="121" y="464" width="5.3" height="5.3" fill="#0f97d8"/><rect x="126" y="464" width="5.3" height="5.3" fill="#1193dc"/><rect x="131" y="464" width="5.3" height="5.3" fill="#128fe0"/><rect x="136" y="464" width="5.3" height="5.3" fill="#1486e8"/><rect x="141" y="464" width="5.3" height="5.3" fill="#157bf0"/><rect x="146" y="464" width="5.3" height="5.3" fill="#1475f4"/><rect x="151" y="464" width="5.3" height="5.3" fill="#126cf9"/><rect x="156" y="464" width="5.3" height="5.3" fill="#1372f5"/><rect x="161" y="464" width="5.3" height="5.3" fill="#167eef"/><rect x="166" y="464" width="5.3" height="5.3" fill="#1486e8"/><rect x="171" y="464" width="10.3" height="5.3" fill="#128fe0"/><rect x="181" y="464" width="15.3" height="5.3" fill="#1193dc"/><rect x="196" y="464" width="10.3" height="5.3" fill="#0f97d8"/><rect x="206" y="464" width="20.3" height="5.3" fill="#0e9cd4"/><rect x="226" y="464" width="30.3" height="5.3" fill="#0da0d0"/><rect x="286" y="464" width="5.3" height="5.3" fill="#0e9cd4"/><rect x="291" y="464" width="45.3" height="5.3" fill="#0da0d0"/><rect x="91" y="469" width="20.3" height="5.3" fill="#0da0d0"/><rect x="111" y="469" width="10.3" height="5.3" fill="#0e9cd4"/><rect x="121" y="469" width="5.3" height="5.3" fill="#0f97d8"/><rect x="126" y="469" width="5.3" height="5.3" fill="#128fe0"/><rect x="131" y="469" width="5.3" height="5.3" fill="#1486e8"/><rect x="136" y="469" width="5.3" height="5.3" fill="#1578f2"/><rect x="141" y="469" width="5.3" height="5.3" fill="#136ff7"/><rect x="146" y="469" width="5.3" height="5.3" fill="#1166fc"/><rect x="151" y="469" width="5.3" height="5.3" fill="#1475f4"/><rect x="156" y="469" width="5.3" height="5.3" fill="#167eef"/><rect x="161" y="469" width="5.3" height="5.3" fill="#138be4"/><rect x="166" y="469" width="5.3" height="5.3" fill="#128fe0"/><rect x="171" y="469" width="20.3" height="5.3" fill="#0f97d8"/><rect x="191" y="469" width="20.3" height="5.3" fill="#0e9cd4"/><rect x="211" y="469" width="40.3" height="5.3" fill="#0da0d0"/><rect x="286" y="469" width="45.3" height="5.3" fill="#0da0d0"/><rect x="81" y="474" width="30.3" height="5.3" fill="#0da0d0"/><rect x="111" y="474" width="5.3" height="5.3" fill="#0e9cd4"/><rect x="116" y="474" width="5.3" height="5.3" fill="#0f97d8"/><rect x="121" y="474" width="5.3" height="5.3" fill="#1193dc"/><rect x="126" y="474" width="5.3" height="5.3" fill="#1486e8"/><rect x="131" y="474" width="5.3" height="5.3" fill="#157bf0"/><rect x="136" y="474" width="5.3" height="5.3" fill="#126cf9"/><rect x="141" y="474" width="5.3" height="5.3" fill="#1166fc"/><rect x="146" y="474" width="5.3" height="5.3" fill="#1475f4"/><rect x="151" y="474" width="5.3" height="5.3" fill="#167eef"/><rect x="156" y="474" width="5.3" height="5.3" fill="#138be4"/><rect x="161" y="474" width="5.3" height="5.3" fill="#1193dc"/><rect x="166" y="474" width="5.3" height="5.3" fill="#0f97d8"/><rect x="171" y="474" width="25.3" height="5.3" fill="#0e9cd4"/><rect x="196" y="474" width="45.3" height="5.3" fill="#0da0d0"/><rect x="291" y="474" width="30.3" height="5.3" fill="#0da0d0"/><rect x="76" y="479" width="25.3" height="5.3" fill="#0da0d0"/><rect x="101" y="479" width="10.3" height="5.3" fill="#0e9cd4"/><rect x="111" y="479" width="10.3" height="5.3" fill="#0f97d8"/><rect x="121" y="479" width="5.3" height="5.3" fill="#128fe0"/><rect x="126" y="479" width="5.3" height="5.3" fill="#1582ec"/><rect x="131" y="479" width="5.3" height="5.3" fill="#1372f5"/><rect x="136" y="479" width="5.3" height="5.3" fill="#1163fd"/><rect x="141" y="479" width="5.3" height="5.3" fill="#1475f4"/><rect x="146" y="479" width="5.3" height="5.3" fill="#1582ec"/><rect x="151" y="479" width="5.3" height="5.3" fill="#138be4"/><rect x="156" y="479" width="5.3" height="5.3" fill="#1193dc"/><rect x="161" y="479" width="5.3" height="5.3" fill="#0f97d8"/><rect x="166" y="479" width="10.3" height="5.3" fill="#0e9cd4"/><rect x="176" y="479" width="55.3" height="5.3" fill="#0da0d0"/><rect x="296" y="479" width="15.3" height="5.3" fill="#0da0d0"/><rect x="76" y="484" width="20.3" height="5.3" fill="#0da0d0"/><rect x="96" y="484" width="10.3" height="5.3" fill="#0e9cd4"/><rect x="106" y="484" width="5.3" height="5.3" fill="#0f97d8"/><rect x="111" y="484" width="5.3" height="5.3" fill="#1193dc"/><rect x="116" y="484" width="5.3" height="5.3" fill="#128fe0"/><rect x="121" y="484" width="5.3" height="5.3" fill="#138be4"/><rect x="126" y="484" width="5.3" height="5.3" fill="#157bf0"/><rect x="131" y="484" width="5.3" height="5.3" fill="#126cf9"/><rect x="136" y="484" width="5.3" height="5.3" fill="#136ff7"/><rect x="141" y="484" width="5.3" height="5.3" fill="#167eef"/><rect x="146" y="484" width="5.3" height="5.3" fill="#138be4"/><rect x="151" y="484" width="5.3" height="5.3" fill="#1193dc"/><rect x="156" y="484" width="5.3" height="5.3" fill="#0f97d8"/><rect x="161" y="484" width="10.3" height="5.3" fill="#0e9cd4"/><rect x="171" y="484" width="45.3" height="5.3" fill="#0da0d0"/><rect x="71" y="489" width="20.3" height="5.3" fill="#0da0d0"/><rect x="91" y="489" width="10.3" height="5.3" fill="#0e9cd4"/><rect x="101" y="489" width="5.3" height="5.3" fill="#0f97d8"/><rect x="106" y="489" width="5.3" height="5.3" fill="#1193dc"/><rect x="111" y="489" width="5.3" height="5.3" fill="#138be4"/><rect x="116" y="489" width="5.3" height="5.3" fill="#1486e8"/><rect x="121" y="489" width="5.3" height="5.3" fill="#157bf0"/><rect x="126" y="489" width="5.3" height="5.3" fill="#1372f5"/><rect x="131" y="489" width="5.3" height="5.3" fill="#126cf9"/><rect x="136" y="489" width="5.3" height="5.3" fill="#1578f2"/><rect x="141" y="489" width="5.3" height="5.3" fill="#1486e8"/><rect x="146" y="489" width="5.3" height="5.3" fill="#128fe0"/><rect x="151" y="489" width="5.3" height="5.3" fill="#0f97d8"/><rect x="156" y="489" width="10.3" height="5.3" fill="#0e9cd4"/><rect x="166" y="489" width="35.3" height="5.3" fill="#0da0d0"/><rect x="66" y="494" width="20.3" height="5.3" fill="#0da0d0"/><rect x="86" y="494" width="10.3" height="5.3" fill="#0e9cd4"/><rect x="96" y="494" width="5.3" height="5.3" fill="#0f97d8"/><rect x="101" y="494" width="5.3" height="5.3" fill="#1193dc"/><rect x="106" y="494" width="5.3" height="5.3" fill="#138be4"/><rect x="111" y="494" width="5.3" height="5.3" fill="#1582ec"/><rect x="116" y="494" width="5.3" height="5.3" fill="#1578f2"/><rect x="121" y="494" width="5.3" height="5.3" fill="#136ff7"/><rect x="126" y="494" width="5.3" height="5.3" fill="#1475f4"/><rect x="131" y="494" width="5.3" height="5.3" fill="#157bf0"/><rect x="136" y="494" width="5.3" height="5.3" fill="#1582ec"/><rect x="141" y="494" width="5.3" height="5.3" fill="#138be4"/><rect x="146" y="494" width="5.3" height="5.3" fill="#1193dc"/><rect x="151" y="494" width="5.3" height="5.3" fill="#0f97d8"/><rect x="156" y="494" width="5.3" height="5.3" fill="#0e9cd4"/><rect x="161" y="494" width="20.3" height="5.3" fill="#0da0d0"/><rect x="71" y="499" width="15.3" height="5.3" fill="#0da0d0"/><rect x="86" y="499" width="5.3" height="5.3" fill="#0e9cd4"/><rect x="91" y="499" width="5.3" height="5.3" fill="#0f97d8"/><rect x="96" y="499" width="5.3" height="5.3" fill="#1193dc"/><rect x="101" y="499" width="5.3" height="5.3" fill="#138be4"/><rect x="106" y="499" width="5.3" height="5.3" fill="#167eef"/><rect x="111" y="499" width="10.3" height="5.3" fill="#1475f4"/><rect x="121" y="499" width="5.3" height="5.3" fill="#167eef"/><rect x="126" y="499" width="5.3" height="5.3" fill="#1582ec"/><rect x="131" y="499" width="5.3" height="5.3" fill="#138be4"/><rect x="136" y="499" width="5.3" height="5.3" fill="#128fe0"/><rect x="141" y="499" width="5.3" height="5.3" fill="#1193dc"/><rect x="146" y="499" width="5.3" height="5.3" fill="#0f97d8"/><rect x="151" y="499" width="5.3" height="5.3" fill="#0e9cd4"/><rect x="156" y="499" width="20.3" height="5.3" fill="#0da0d0"/><rect x="71" y="504" width="10.3" height="5.3" fill="#0da0d0"/><rect x="81" y="504" width="5.3" height="5.3" fill="#0e9cd4"/><rect x="86" y="504" width="5.3" height="5.3" fill="#0f97d8"/><rect x="91" y="504" width="5.3" height="5.3" fill="#1193dc"/><rect x="96" y="504" width="5.3" height="5.3" fill="#138be4"/><rect x="101" y="504" width="5.3" height="5.3" fill="#167eef"/><rect x="106" y="504" width="5.3" height="5.3" fill="#1372f5"/><rect x="111" y="504" width="5.3" height="5.3" fill="#157bf0"/><rect x="116" y="504" width="5.3" height="5.3" fill="#1582ec"/><rect x="121" y="504" width="5.3" height="5.3" fill="#138be4"/><rect x="126" y="504" width="5.3" height="5.3" fill="#128fe0"/><rect x="131" y="504" width="5.3" height="5.3" fill="#1193dc"/><rect x="136" y="504" width="10.3" height="5.3" fill="#0f97d8"/><rect x="146" y="504" width="10.3" height="5.3" fill="#0e9cd4"/><rect x="156" y="504" width="15.3" height="5.3" fill="#0da0d0"/><rect x="76" y="509" width="5.3" height="5.3" fill="#0da0d0"/><rect x="81" y="509" width="5.3" height="5.3" fill="#0e9cd4"/><rect x="86" y="509" width="5.3" height="5.3" fill="#0f97d8"/><rect x="91" y="509" width="5.3" height="5.3" fill="#128fe0"/><rect x="96" y="509" width="5.3" height="5.3" fill="#1486e8"/><rect x="101" y="509" width="5.3" height="5.3" fill="#1578f2"/><rect x="106" y="509" width="5.3" height="5.3" fill="#167eef"/><rect x="111" y="509" width="5.3" height="5.3" fill="#1486e8"/><rect x="116" y="509" width="5.3" height="5.3" fill="#128fe0"/><rect x="121" y="509" width="5.3" height="5.3" fill="#1193dc"/><rect x="126" y="509" width="10.3" height="5.3" fill="#0f97d8"/><rect x="136" y="509" width="10.3" height="5.3" fill="#0e9cd4"/><rect x="146" y="509" width="25.3" height="5.3" fill="#0da0d0"/><rect x="81" y="514" width="5.3" height="5.3" fill="#0da0d0"/><rect x="86" y="514" width="5.3" height="5.3" fill="#1193dc"/><rect x="91" y="514" width="5.3" height="5.3" fill="#138be4"/><rect x="96" y="514" width="5.3" height="5.3" fill="#157bf0"/><rect x="101" y="514" width="5.3" height="5.3" fill="#167eef"/><rect x="106" y="514" width="5.3" height="5.3" fill="#138be4"/><rect x="111" y="514" width="5.3" height="5.3" fill="#128fe0"/><rect x="116" y="514" width="10.3" height="5.3" fill="#0f97d8"/><rect x="126" y="514" width="10.3" height="5.3" fill="#0e9cd4"/><rect x="136" y="514" width="30.3" height="5.3" fill="#0da0d0"/><rect x="86" y="519" width="5.3" height="5.3" fill="#0da0d0"/><rect x="91" y="519" width="5.3" height="5.3" fill="#138be4"/><rect x="96" y="519" width="5.3" height="5.3" fill="#167eef"/><rect x="101" y="519" width="5.3" height="5.3" fill="#138be4"/><rect x="106" y="519" width="5.3" height="5.3" fill="#1193dc"/><rect x="111" y="519" width="5.3" height="5.3" fill="#0f97d8"/><rect x="116" y="519" width="10.3" height="5.3" fill="#0e9cd4"/><rect x="126" y="519" width="35.3" height="5.3" fill="#0da0d0"/><rect x="91" y="524" width="5.3" height="5.3" fill="#0da0d0"/><rect x="96" y="524" width="10.3" height="5.3" fill="#1193dc"/><rect x="106" y="524" width="5.3" height="5.3" fill="#0f97d8"/><rect x="111" y="524" width="10.3" height="5.3" fill="#0e9cd4"/><rect x="121" y="524" width="35.3" height="5.3" fill="#0da0d0"/><rect x="101" y="529" width="15.3" height="5.3" fill="#0e9cd4"/><rect x="116" y="529" width="30.3" height="5.3" fill="#0da0d0"/><rect x="106" y="534" width="30.3" height="5.3" fill="#0da0d0"/><rect x="116" y="539" width="10.3" height="5.3" fill="#0da0d0"/></g>
<g clip-path="url(#chw)"><g filter="url(#b2)"><rect x="264" y="398" width="3.3" height="3.3" fill="#ffe90c"/><rect x="267" y="398" width="3.3" height="3.3" fill="#0ab0b4"/><rect x="261" y="401" width="3.3" height="3.3" fill="#ffbc20"/><rect x="264" y="401" width="3.3" height="3.3" fill="#ffb022"/><rect x="267" y="401" width="3.3" height="3.3" fill="#ffff00"/><rect x="255" y="404" width="3.3" height="3.3" fill="#ffc01f"/><rect x="258" y="404" width="3.3" height="3.3" fill="#ffb022"/><rect x="261" y="404" width="3.3" height="3.3" fill="#ffa424"/><rect x="264" y="404" width="6.3" height="3.3" fill="#ffa025"/><rect x="270" y="404" width="3.3" height="3.3" fill="#aaf014"/><rect x="252" y="407" width="3.3" height="3.3" fill="#ffb421"/><rect x="255" y="407" width="3.3" height="3.3" fill="#ffa424"/><rect x="258" y="407" width="3.3" height="3.3" fill="#ff9c25"/><rect x="261" y="407" width="6.3" height="3.3" fill="#ff9826"/><rect x="267" y="407" width="3.3" height="3.3" fill="#ff9c25"/><rect x="270" y="407" width="3.3" height="3.3" fill="#ffac23"/><rect x="273" y="407" width="3.3" height="3.3" fill="#13dc47"/><rect x="249" y="410" width="3.3" height="3.3" fill="#ffac23"/><rect x="252" y="410" width="3.3" height="3.3" fill="#ff9c25"/><rect x="255" y="410" width="3.3" height="3.3" fill="#ff9027"/><rect x="258" y="410" width="3.3" height="3.3" fill="#ff8c28"/><rect x="261" y="410" width="3.3" height="3.3" fill="#ff9027"/><rect x="264" y="410" width="3.3" height="3.3" fill="#ff9826"/><rect x="267" y="410" width="3.3" height="3.3" fill="#ffa823"/><rect x="270" y="410" width="3.3" height="3.3" fill="#ffb821"/><rect x="273" y="410" width="3.3" height="3.3" fill="#ffcf1a"/><rect x="276" y="410" width="3.3" height="3.3" fill="#07be94"/><rect x="246" y="413" width="3.3" height="3.3" fill="#ffa025"/><rect x="249" y="413" width="3.3" height="3.3" fill="#ff9427"/><rect x="252" y="413" width="3.3" height="3.3" fill="#ff8728"/><rect x="255" y="413" width="3.3" height="3.3" fill="#ff8228"/><rect x="258" y="413" width="3.3" height="3.3" fill="#ff8728"/><rect x="261" y="413" width="3.3" height="3.3" fill="#ff9427"/><rect x="264" y="413" width="3.3" height="3.3" fill="#ffa424"/><rect x="267" y="413" width="3.3" height="3.3" fill="#ffb821"/><rect x="270" y="413" width="3.3" height="3.3" fill="#ffcf1a"/><rect x="273" y="413" width="3.3" height="3.3" fill="#ffe50e"/><rect x="276" y="413" width="3.3" height="3.3" fill="#bff40f"/><rect x="279" y="413" width="3.3" height="3.3" fill="#0ba8c4"/><rect x="240" y="416" width="3.3" height="3.3" fill="#ffac23"/><rect x="243" y="416" width="3.3" height="3.3" fill="#ff9826"/><rect x="246" y="416" width="3.3" height="3.3" fill="#ff8c28"/><rect x="249" y="416" width="3.3" height="3.3" fill="#ff8228"/><rect x="252" y="416" width="3.3" height="3.3" fill="#ff7d28"/><rect x="255" y="416" width="3.3" height="3.3" fill="#ff8228"/><rect x="258" y="416" width="3.3" height="3.3" fill="#ff9027"/><rect x="261" y="416" width="3.3" height="3.3" fill="#ffa025"/><rect x="264" y="416" width="3.3" height="3.3" fill="#ffb421"/><rect x="267" y="416" width="3.3" height="3.3" fill="#ffcf1a"/><rect x="270" y="416" width="3.3" height="3.3" fill="#ffe50e"/><rect x="273" y="416" width="3.3" height="3.3" fill="#f8fe02"/><rect x="276" y="416" width="3.3" height="3.3" fill="#c6f50d"/><rect x="279" y="416" width="3.3" height="3.3" fill="#13dc47"/><rect x="237" y="419" width="3.3" height="3.3" fill="#ffac23"/><rect x="240" y="419" width="3.3" height="3.3" fill="#ff9427"/><rect x="243" y="419" width="3.3" height="3.3" fill="#ff8228"/><rect x="246" y="419" width="6.3" height="3.3" fill="#ff7728"/><rect x="252" y="419" width="3.3" height="3.3" fill="#ff8228"/><rect x="255" y="419" width="3.3" height="3.3" fill="#ff8c28"/><rect x="258" y="419" width="3.3" height="3.3" fill="#ff9c25"/><rect x="261" y="419" width="3.3" height="3.3" fill="#ffb421"/><rect x="264" y="419" width="3.3" height="3.3" fill="#ffcf1a"/><rect x="267" y="419" width="3.3" height="3.3" fill="#ffe90c"/><rect x="270" y="419" width="3.3" height="3.3" fill="#f8fe02"/><rect x="273" y="419" width="3.3" height="3.3" fill="#c6f50d"/><rect x="276" y="419" width="3.3" height="3.3" fill="#78eb1f"/><rect x="279" y="419" width="3.3" height="3.3" fill="#2ee531"/><rect x="282" y="419" width="3.3" height="3.3" fill="#06c08e"/><rect x="234" y="422" width="3.3" height="3.3" fill="#ffac23"/><rect x="237" y="422" width="3.3" height="3.3" fill="#ff9427"/><rect x="240" y="422" width="3.3" height="3.3" fill="#ff8228"/><rect x="243" y="422" width="6.3" height="3.3" fill="#ff7228"/><rect x="249" y="422" width="3.3" height="3.3" fill="#ff7d28"/><rect x="252" y="422" width="3.3" height="3.3" fill="#ff8c28"/><rect x="255" y="422" width="3.3" height="3.3" fill="#ffa025"/><rect x="258" y="422" width="3.3" height="3.3" fill="#ffb421"/><rect x="261" y="422" width="3.3" height="3.3" fill="#ffcf1a"/><rect x="264" y="422" width="3.3" height="3.3" fill="#ffe90c"/><rect x="267" y="422" width="3.3" height="3.3" fill="#f1fc03"/><rect x="270" y="422" width="3.3" height="3.3" fill="#bff40f"/><rect x="273" y="422" width="3.3" height="3.3" fill="#78eb1f"/><rect x="276" y="422" width="3.3" height="3.3" fill="#26e334"/><rect x="279" y="422" width="3.3" height="3.3" fill="#0fda4b"/><rect x="282" y="422" width="3.3" height="3.3" fill="#01d260"/><rect x="285" y="422" width="3.3" height="3.3" fill="#0ab0b4"/><rect x="231" y="425" width="3.3" height="3.3" fill="#ffac23"/><rect x="234" y="425" width="3.3" height="3.3" fill="#ff9427"/><rect x="237" y="425" width="3.3" height="3.3" fill="#ff8728"/><rect x="240" y="425" width="6.3" height="3.3" fill="#ff7728"/><rect x="246" y="425" width="3.3" height="3.3" fill="#ff7d28"/><rect x="249" y="425" width="3.3" height="3.3" fill="#ff9027"/><rect x="252" y="425" width="3.3" height="3.3" fill="#ffa025"/><rect x="255" y="425" width="3.3" height="3.3" fill="#ffb821"/><rect x="258" y="425" width="3.3" height="3.3" fill="#ffd318"/><rect x="261" y="425" width="3.3" height="3.3" fill="#ffed0a"/><rect x="264" y="425" width="3.3" height="3.3" fill="#eafb05"/><rect x="267" y="425" width="3.3" height="3.3" fill="#b8f211"/><rect x="270" y="425" width="3.3" height="3.3" fill="#6cea22"/><rect x="273" y="425" width="3.3" height="3.3" fill="#22e238"/><rect x="276" y="425" width="3.3" height="3.3" fill="#0bd94f"/><rect x="279" y="425" width="3.3" height="3.3" fill="#01d066"/><rect x="282" y="425" width="3.3" height="3.3" fill="#05c583"/><rect x="285" y="425" width="3.3" height="3.3" fill="#07bc9a"/><rect x="288" y="425" width="3.3" height="3.3" fill="#0ba8c4"/><rect x="228" y="428" width="3.3" height="3.3" fill="#ffb421"/><rect x="231" y="428" width="3.3" height="3.3" fill="#ff9c25"/><rect x="234" y="428" width="3.3" height="3.3" fill="#ff8728"/><rect x="237" y="428" width="6.3" height="3.3" fill="#ff7d28"/><rect x="243" y="428" width="3.3" height="3.3" fill="#ff8228"/><rect x="246" y="428" width="3.3" height="3.3" fill="#ff9027"/><rect x="249" y="428" width="3.3" height="3.3" fill="#ffa424"/><rect x="252" y="428" width="3.3" height="3.3" fill="#ffbc20"/><rect x="255" y="428" width="3.3" height="3.3" fill="#ffd716"/><rect x="258" y="428" width="3.3" height="3.3" fill="#fff008"/><rect x="261" y="428" width="3.3" height="3.3" fill="#e3fa07"/><rect x="264" y="428" width="3.3" height="3.3" fill="#b1f112"/><rect x="267" y="428" width="3.3" height="3.3" fill="#60e925"/><rect x="270" y="428" width="3.3" height="3.3" fill="#1ee03c"/><rect x="273" y="428" width="3.3" height="3.3" fill="#08d752"/><rect x="276" y="428" width="3.3" height="3.3" fill="#02ce6c"/><rect x="279" y="428" width="3.3" height="3.3" fill="#05c583"/><rect x="282" y="428" width="3.3" height="3.3" fill="#07bc9a"/><rect x="285" y="428" width="3.3" height="3.3" fill="#09b6a8"/><rect x="288" y="428" width="3.3" height="3.3" fill="#0aaeb8"/><rect x="222" y="431" width="3.3" height="3.3" fill="#ffde12"/><rect x="225" y="431" width="3.3" height="3.3" fill="#ffc01f"/><rect x="228" y="431" width="3.3" height="3.3" fill="#ffa823"/><rect x="231" y="431" width="3.3" height="3.3" fill="#ff9427"/><rect x="234" y="431" width="3.3" height="3.3" fill="#ff8728"/><rect x="237" y="431" width="3.3" height="3.3" fill="#ff8228"/><rect x="240" y="431" width="3.3" height="3.3" fill="#ff8728"/><rect x="243" y="431" width="3.3" height="3.3" fill="#ff9826"/><rect x="246" y="431" width="3.3" height="3.3" fill="#ffa823"/><rect x="249" y="431" width="3.3" height="3.3" fill="#ffc01f"/><rect x="252" y="431" width="3.3" height="3.3" fill="#ffda14"/><rect x="255" y="431" width="3.3" height="3.3" fill="#fff804"/><rect x="258" y="431" width="3.3" height="3.3" fill="#dcf908"/><rect x="261" y="431" width="3.3" height="3.3" fill="#9eef17"/><rect x="264" y="431" width="3.3" height="3.3" fill="#53e828"/><rect x="267" y="431" width="3.3" height="3.3" fill="#1bdf3f"/><rect x="270" y="431" width="3.3" height="3.3" fill="#04d656"/><rect x="273" y="431" width="3.3" height="3.3" fill="#03cb71"/><rect x="276" y="431" width="3.3" height="3.3" fill="#05c389"/><rect x="279" y="431" width="3.3" height="3.3" fill="#07bc9a"/><rect x="282" y="431" width="3.3" height="3.3" fill="#09b6a8"/><rect x="285" y="431" width="3.3" height="3.3" fill="#0ab0b4"/><rect x="288" y="431" width="3.3" height="3.3" fill="#0aaeb8"/><rect x="291" y="431" width="3.3" height="3.3" fill="#0ba8c4"/><rect x="216" y="434" width="3.3" height="3.3" fill="#fffb02"/><rect x="219" y="434" width="3.3" height="3.3" fill="#ffe210"/><rect x="222" y="434" width="3.3" height="3.3" fill="#ffcc1c"/><rect x="225" y="434" width="3.3" height="3.3" fill="#ffb421"/><rect x="228" y="434" width="3.3" height="3.3" fill="#ffa025"/><rect x="231" y="434" width="3.3" height="3.3" fill="#ff9427"/><rect x="234" y="434" width="6.3" height="3.3" fill="#ff9027"/><rect x="240" y="434" width="3.3" height="3.3" fill="#ff9c25"/><rect x="243" y="434" width="3.3" height="3.3" fill="#ffb022"/><rect x="246" y="434" width="3.3" height="3.3" fill="#ffc81e"/><rect x="249" y="434" width="3.3" height="3.3" fill="#ffe210"/><rect x="252" y="434" width="3.3" height="3.3" fill="#fffb02"/><rect x="255" y="434" width="3.3" height="3.3" fill="#cdf60c"/><rect x="258" y="434" width="3.3" height="3.3" fill="#91ee1a"/><rect x="261" y="434" width="3.3" height="3.3" fill="#3be62e"/><rect x="264" y="434" width="3.3" height="3.3" fill="#17dd43"/><rect x="267" y="434" width="3.3" height="3.3" fill="#00d45a"/><rect x="270" y="434" width="3.3" height="3.3" fill="#03cb71"/><rect x="273" y="434" width="3.3" height="3.3" fill="#06c08e"/><rect x="276" y="434" width="3.3" height="3.3" fill="#08baa0"/><rect x="279" y="434" width="3.3" height="3.3" fill="#09b4ac"/><rect x="282" y="434" width="3.3" height="3.3" fill="#0ab0b4"/><rect x="285" y="434" width="3.3" height="3.3" fill="#0aacbc"/><rect x="288" y="434" width="3.3" height="3.3" fill="#0baac0"/><rect x="291" y="434" width="3.3" height="3.3" fill="#0ba8c4"/><rect x="210" y="437" width="3.3" height="3.3" fill="#bff40f"/><rect x="213" y="437" width="3.3" height="3.3" fill="#ffff00"/><rect x="216" y="437" width="3.3" height="3.3" fill="#ffe90c"/><rect x="219" y="437" width="3.3" height="3.3" fill="#ffd318"/><rect x="222" y="437" width="3.3" height="3.3" fill="#ffc01f"/><rect x="225" y="437" width="3.3" height="3.3" fill="#ffb022"/><rect x="228" y="437" width="3.3" height="3.3" fill="#ffa424"/><rect x="231" y="437" width="3.3" height="3.3" fill="#ffa025"/><rect x="234" y="437" width="3.3" height="3.3" fill="#ffa424"/><rect x="237" y="437" width="3.3" height="3.3" fill="#ffa823"/><rect x="240" y="437" width="3.3" height="3.3" fill="#ffb421"/><rect x="243" y="437" width="3.3" height="3.3" fill="#ffcc1c"/><rect x="246" y="437" width="3.3" height="3.3" fill="#ffe50e"/><rect x="249" y="437" width="3.3" height="3.3" fill="#f8fe02"/><rect x="252" y="437" width="3.3" height="3.3" fill="#c6f50d"/><rect x="255" y="437" width="3.3" height="3.3" fill="#85ed1d"/><rect x="258" y="437" width="3.3" height="3.3" fill="#2ee531"/><rect x="261" y="437" width="3.3" height="3.3" fill="#13dc47"/><rect x="264" y="437" width="3.3" height="3.3" fill="#01d260"/><rect x="267" y="437" width="3.3" height="3.3" fill="#03c977"/><rect x="270" y="437" width="3.3" height="3.3" fill="#06c08e"/><rect x="273" y="437" width="3.3" height="3.3" fill="#08b8a4"/><rect x="276" y="437" width="3.3" height="3.3" fill="#09b4ac"/><rect x="279" y="437" width="3.3" height="3.3" fill="#0ab0b4"/><rect x="282" y="437" width="3.3" height="3.3" fill="#0aacbc"/><rect x="285" y="437" width="3.3" height="3.3" fill="#0baac0"/><rect x="288" y="437" width="3.3" height="3.3" fill="#0ba8c4"/><rect x="291" y="437" width="3.3" height="3.3" fill="#0ca6c8"/><rect x="198" y="440" width="3.3" height="3.3" fill="#1bdf3f"/><rect x="201" y="440" width="3.3" height="3.3" fill="#2ee531"/><rect x="204" y="440" width="3.3" height="3.3" fill="#85ed1d"/><rect x="207" y="440" width="3.3" height="3.3" fill="#bff40f"/><rect x="210" y="440" width="3.3" height="3.3" fill="#eafb05"/><rect x="213" y="440" width="3.3" height="3.3" fill="#fff406"/><rect x="216" y="440" width="3.3" height="3.3" fill="#ffde12"/><rect x="219" y="440" width="3.3" height="3.3" fill="#ffcf1a"/><rect x="222" y="440" width="3.3" height="3.3" fill="#ffc01f"/><rect x="225" y="440" width="3.3" height="3.3" fill="#ffb821"/><rect x="228" y="440" width="3.3" height="3.3" fill="#ffb022"/><rect x="231" y="440" width="3.3" height="3.3" fill="#ffb821"/><rect x="234" y="440" width="3.3" height="3.3" fill="#ffc01f"/><rect x="237" y="440" width="3.3" height="3.3" fill="#ffcc1c"/><rect x="240" y="440" width="3.3" height="3.3" fill="#ffd716"/><rect x="243" y="440" width="3.3" height="3.3" fill="#ffe90c"/><rect x="246" y="440" width="3.3" height="3.3" fill="#f1fc03"/><rect x="249" y="440" width="3.3" height="3.3" fill="#bff40f"/><rect x="252" y="440" width="3.3" height="3.3" fill="#6cea22"/><rect x="255" y="440" width="3.3" height="3.3" fill="#26e334"/><rect x="258" y="440" width="3.3" height="3.3" fill="#0bd94f"/><rect x="261" y="440" width="3.3" height="3.3" fill="#01d066"/><rect x="264" y="440" width="3.3" height="3.3" fill="#04c77d"/><rect x="267" y="440" width="3.3" height="3.3" fill="#07be94"/><rect x="270" y="440" width="3.3" height="3.3" fill="#08b8a4"/><rect x="273" y="440" width="3.3" height="3.3" fill="#09b2b0"/><rect x="276" y="440" width="3.3" height="3.3" fill="#0aaeb8"/><rect x="279" y="440" width="3.3" height="3.3" fill="#0aacbc"/><rect x="282" y="440" width="3.3" height="3.3" fill="#0baac0"/><rect x="285" y="440" width="3.3" height="3.3" fill="#0ba8c4"/><rect x="288" y="440" width="3.3" height="3.3" fill="#0ca6c8"/><rect x="186" y="443" width="3.3" height="3.3" fill="#08d752"/><rect x="189" y="443" width="3.3" height="3.3" fill="#13dc47"/><rect x="192" y="443" width="3.3" height="3.3" fill="#1ee03c"/><rect x="195" y="443" width="3.3" height="3.3" fill="#2ee531"/><rect x="198" y="443" width="3.3" height="3.3" fill="#60e925"/><rect x="201" y="443" width="3.3" height="3.3" fill="#85ed1d"/><rect x="204" y="443" width="3.3" height="3.3" fill="#b8f211"/><rect x="207" y="443" width="3.3" height="3.3" fill="#dcf908"/><rect x="210" y="443" width="3.3" height="3.3" fill="#ffff00"/><rect x="213" y="443" width="3.3" height="3.3" fill="#ffed0a"/><rect x="216" y="443" width="3.3" height="3.3" fill="#ffde12"/><rect x="219" y="443" width="3.3" height="3.3" fill="#ffd716"/><rect x="222" y="443" width="3.3" height="3.3" fill="#ffcf1a"/><rect x="225" y="443" width="6.3" height="3.3" fill="#ffcc1c"/><rect x="231" y="443" width="3.3" height="3.3" fill="#ffd318"/><rect x="234" y="443" width="3.3" height="3.3" fill="#ffde12"/><rect x="237" y="443" width="3.3" height="3.3" fill="#ffed0a"/><rect x="240" y="443" width="3.3" height="3.3" fill="#ffff00"/><rect x="243" y="443" width="3.3" height="3.3" fill="#e3fa07"/><rect x="246" y="443" width="3.3" height="3.3" fill="#b8f211"/><rect x="249" y="443" width="3.3" height="3.3" fill="#60e925"/><rect x="252" y="443" width="3.3" height="3.3" fill="#22e238"/><rect x="255" y="443" width="3.3" height="3.3" fill="#0bd94f"/><rect x="258" y="443" width="3.3" height="3.3" fill="#02ce6c"/><rect x="261" y="443" width="3.3" height="3.3" fill="#05c583"/><rect x="264" y="443" width="3.3" height="3.3" fill="#07bc9a"/><rect x="267" y="443" width="3.3" height="3.3" fill="#09b6a8"/><rect x="270" y="443" width="3.3" height="3.3" fill="#09b2b0"/><rect x="273" y="443" width="3.3" height="3.3" fill="#0aaeb8"/><rect x="276" y="443" width="3.3" height="3.3" fill="#0baac0"/><rect x="279" y="443" width="6.3" height="3.3" fill="#0ba8c4"/><rect x="285" y="443" width="3.3" height="3.3" fill="#0ca6c8"/><rect x="174" y="446" width="12.3" height="3.3" fill="#1bdf3f"/><rect x="186" y="446" width="3.3" height="3.3" fill="#22e238"/><rect x="189" y="446" width="3.3" height="3.3" fill="#3be62e"/><rect x="192" y="446" width="3.3" height="3.3" fill="#53e828"/><rect x="195" y="446" width="3.3" height="3.3" fill="#78eb1f"/><rect x="198" y="446" width="3.3" height="3.3" fill="#91ee1a"/><rect x="201" y="446" width="3.3" height="3.3" fill="#b1f112"/><rect x="204" y="446" width="3.3" height="3.3" fill="#c6f50d"/><rect x="207" y="446" width="3.3" height="3.3" fill="#e3fa07"/><rect x="210" y="446" width="3.3" height="3.3" fill="#f8fe02"/><rect x="213" y="446" width="3.3" height="3.3" fill="#fff406"/><rect x="216" y="446" width="15.3" height="3.3" fill="#ffe90c"/><rect x="231" y="446" width="3.3" height="3.3" fill="#ffed0a"/><rect x="234" y="446" width="3.3" height="3.3" fill="#f8fe02"/><rect x="237" y="446" width="3.3" height="3.3" fill="#dcf908"/><rect x="240" y="446" width="3.3" height="3.3" fill="#b8f211"/><rect x="243" y="446" width="3.3" height="3.3" fill="#85ed1d"/><rect x="246" y="446" width="3.3" height="3.3" fill="#53e828"/><rect x="249" y="446" width="3.3" height="3.3" fill="#1ee03c"/><rect x="252" y="446" width="3.3" height="3.3" fill="#08d752"/><rect x="255" y="446" width="3.3" height="3.3" fill="#02ce6c"/><rect x="258" y="446" width="3.3" height="3.3" fill="#05c389"/><rect x="261" y="446" width="3.3" height="3.3" fill="#08baa0"/><rect x="264" y="446" width="3.3" height="3.3" fill="#09b6a8"/><rect x="267" y="446" width="3.3" height="3.3" fill="#0ab0b4"/><rect x="270" y="446" width="3.3" height="3.3" fill="#0aaeb8"/><rect x="273" y="446" width="3.3" height="3.3" fill="#0baac0"/><rect x="276" y="446" width="3.3" height="3.3" fill="#0ba8c4"/><rect x="279" y="446" width="6.3" height="3.3" fill="#0ca6c8"/><rect x="165" y="449" width="3.3" height="3.3" fill="#91ee1a"/><rect x="168" y="449" width="3.3" height="3.3" fill="#78eb1f"/><rect x="171" y="449" width="9.3" height="3.3" fill="#60e925"/><rect x="180" y="449" width="3.3" height="3.3" fill="#53e828"/><rect x="183" y="449" width="3.3" height="3.3" fill="#47e72b"/><rect x="186" y="449" width="3.3" height="3.3" fill="#53e828"/><rect x="189" y="449" width="3.3" height="3.3" fill="#60e925"/><rect x="192" y="449" width="3.3" height="3.3" fill="#78eb1f"/><rect x="195" y="449" width="3.3" height="3.3" fill="#91ee1a"/><rect x="198" y="449" width="3.3" height="3.3" fill="#9eef17"/><rect x="201" y="449" width="3.3" height="3.3" fill="#aaf014"/><rect x="204" y="449" width="3.3" height="3.3" fill="#b1f112"/><rect x="207" y="449" width="3.3" height="3.3" fill="#c6f50d"/><rect x="210" y="449" width="3.3" height="3.3" fill="#d4f80a"/><rect x="213" y="449" width="3.3" height="3.3" fill="#eafb05"/><rect x="216" y="449" width="3.3" height="3.3" fill="#f8fe02"/><rect x="219" y="449" width="3.3" height="3.3" fill="#f1fc03"/><rect x="222" y="449" width="3.3" height="3.3" fill="#eafb05"/><rect x="225" y="449" width="3.3" height="3.3" fill="#e3fa07"/><rect x="228" y="449" width="3.3" height="3.3" fill="#dcf908"/><rect x="231" y="449" width="3.3" height="3.3" fill="#d4f80a"/><rect x="234" y="449" width="3.3" height="3.3" fill="#bff40f"/><rect x="237" y="449" width="3.3" height="3.3" fill="#85ed1d"/><rect x="240" y="449" width="3.3" height="3.3" fill="#47e72b"/><rect x="243" y="449" width="3.3" height="3.3" fill="#22e238"/><rect x="246" y="449" width="3.3" height="3.3" fill="#13dc47"/><rect x="249" y="449" width="3.3" height="3.3" fill="#04d656"/><rect x="252" y="449" width="3.3" height="3.3" fill="#03cb71"/><rect x="255" y="449" width="3.3" height="3.3" fill="#05c389"/><rect x="258" y="449" width="3.3" height="3.3" fill="#08baa0"/><rect x="261" y="449" width="3.3" height="3.3" fill="#09b4ac"/><rect x="264" y="449" width="3.3" height="3.3" fill="#0ab0b4"/><rect x="267" y="449" width="3.3" height="3.3" fill="#0aacbc"/><rect x="270" y="449" width="3.3" height="3.3" fill="#0baac0"/><rect x="273" y="449" width="3.3" height="3.3" fill="#0ba8c4"/><rect x="276" y="449" width="6.3" height="3.3" fill="#0ca6c8"/><rect x="159" y="452" width="3.3" height="3.3" fill="#e3fa07"/><rect x="162" y="452" width="6.3" height="3.3" fill="#eafb05"/><rect x="168" y="452" width="3.3" height="3.3" fill="#cdf60c"/><rect x="171" y="452" width="3.3" height="3.3" fill="#b1f112"/><rect x="174" y="452" width="3.3" height="3.3" fill="#aaf014"/><rect x="177" y="452" width="3.3" height="3.3" fill="#91ee1a"/><rect x="180" y="452" width="3.3" height="3.3" fill="#85ed1d"/><rect x="183" y="452" width="3.3" height="3.3" fill="#6cea22"/><rect x="186" y="452" width="6.3" height="3.3" fill="#60e925"/><rect x="192" y="452" width="15.3" height="3.3" fill="#6cea22"/><rect x="207" y="452" width="3.3" height="3.3" fill="#78eb1f"/><rect x="210" y="452" width="3.3" height="3.3" fill="#91ee1a"/><rect x="213" y="452" width="3.3" height="3.3" fill="#9eef17"/><rect x="216" y="452" width="6.3" height="3.3" fill="#b1f112"/><rect x="222" y="452" width="3.3" height="3.3" fill="#91ee1a"/><rect x="225" y="452" width="3.3" height="3.3" fill="#85ed1d"/><rect x="228" y="452" width="3.3" height="3.3" fill="#78eb1f"/><rect x="231" y="452" width="3.3" height="3.3" fill="#6cea22"/><rect x="234" y="452" width="3.3" height="3.3" fill="#53e828"/><rect x="237" y="452" width="3.3" height="3.3" fill="#2ee531"/><rect x="240" y="452" width="3.3" height="3.3" fill="#13dc47"/><rect x="243" y="452" width="3.3" height="3.3" fill="#04d656"/><rect x="246" y="452" width="3.3" height="3.3" fill="#02ce6c"/><rect x="249" y="452" width="3.3" height="3.3" fill="#04c77d"/><rect x="252" y="452" width="3.3" height="3.3" fill="#06c08e"/><rect x="255" y="452" width="3.3" height="3.3" fill="#08baa0"/><rect x="258" y="452" width="3.3" height="3.3" fill="#09b4ac"/><rect x="261" y="452" width="3.3" height="3.3" fill="#0ab0b4"/><rect x="264" y="452" width="3.3" height="3.3" fill="#0aacbc"/><rect x="267" y="452" width="3.3" height="3.3" fill="#0baac0"/><rect x="270" y="452" width="3.3" height="3.3" fill="#0ba8c4"/><rect x="273" y="452" width="3.3" height="3.3" fill="#0ca6c8"/><rect x="156" y="455" width="3.3" height="3.3" fill="#fff008"/><rect x="159" y="455" width="3.3" height="3.3" fill="#ffed0a"/><rect x="162" y="455" width="3.3" height="3.3" fill="#ffe90c"/><rect x="165" y="455" width="3.3" height="3.3" fill="#fff008"/><rect x="168" y="455" width="3.3" height="3.3" fill="#f8fe02"/><rect x="171" y="455" width="3.3" height="3.3" fill="#cdf60c"/><rect x="174" y="455" width="3.3" height="3.3" fill="#b1f112"/><rect x="177" y="455" width="3.3" height="3.3" fill="#91ee1a"/><rect x="180" y="455" width="3.3" height="3.3" fill="#78eb1f"/><rect x="183" y="455" width="3.3" height="3.3" fill="#53e828"/><rect x="186" y="455" width="3.3" height="3.3" fill="#3be62e"/><rect x="189" y="455" width="3.3" height="3.3" fill="#2ee531"/><rect x="192" y="455" width="6.3" height="3.3" fill="#26e334"/><rect x="198" y="455" width="3.3" height="3.3" fill="#22e238"/><rect x="201" y="455" width="6.3" height="3.3" fill="#1ee03c"/><rect x="207" y="455" width="3.3" height="3.3" fill="#1bdf3f"/><rect x="210" y="455" width="3.3" height="3.3" fill="#22e238"/><rect x="213" y="455" width="3.3" height="3.3" fill="#26e334"/><rect x="216" y="455" width="3.3" height="3.3" fill="#2ee531"/><rect x="219" y="455" width="3.3" height="3.3" fill="#3be62e"/><rect x="222" y="455" width="3.3" height="3.3" fill="#22e238"/><rect x="225" y="455" width="3.3" height="3.3" fill="#1bdf3f"/><rect x="228" y="455" width="3.3" height="3.3" fill="#17dd43"/><rect x="231" y="455" width="3.3" height="3.3" fill="#13dc47"/><rect x="234" y="455" width="3.3" height="3.3" fill="#0fda4b"/><rect x="237" y="455" width="3.3" height="3.3" fill="#08d752"/><rect x="240" y="455" width="3.3" height="3.3" fill="#02ce6c"/><rect x="243" y="455" width="3.3" height="3.3" fill="#04c77d"/><rect x="246" y="455" width="3.3" height="3.3" fill="#06c08e"/><rect x="249" y="455" width="3.3" height="3.3" fill="#07bc9a"/><rect x="252" y="455" width="3.3" height="3.3" fill="#08b8a4"/><rect x="255" y="455" width="3.3" height="3.3" fill="#09b2b0"/><rect x="258" y="455" width="3.3" height="3.3" fill="#0aaeb8"/><rect x="261" y="455" width="3.3" height="3.3" fill="#0aacbc"/><rect x="264" y="455" width="3.3" height="3.3" fill="#0baac0"/><rect x="267" y="455" width="3.3" height="3.3" fill="#0ba8c4"/><rect x="270" y="455" width="3.3" height="3.3" fill="#0ca6c8"/><rect x="150" y="458" width="3.3" height="3.3" fill="#ffde12"/><rect x="153" y="458" width="3.3" height="3.3" fill="#ffd318"/><rect x="156" y="458" width="6.3" height="3.3" fill="#ffcf1a"/><rect x="162" y="458" width="3.3" height="3.3" fill="#ffd716"/><rect x="165" y="458" width="3.3" height="3.3" fill="#ffe50e"/><rect x="168" y="458" width="3.3" height="3.3" fill="#ffff00"/><rect x="171" y="458" width="3.3" height="3.3" fill="#cdf60c"/><rect x="174" y="458" width="3.3" height="3.3" fill="#85ed1d"/><rect x="177" y="458" width="3.3" height="3.3" fill="#60e925"/><rect x="180" y="458" width="3.3" height="3.3" fill="#3be62e"/><rect x="183" y="458" width="3.3" height="3.3" fill="#22e238"/><rect x="186" y="458" width="3.3" height="3.3" fill="#17dd43"/><rect x="189" y="458" width="3.3" height="3.3" fill="#0bd94f"/><rect x="192" y="458" width="3.3" height="3.3" fill="#08d752"/><rect x="195" y="458" width="3.3" height="3.3" fill="#04d656"/><rect x="198" y="458" width="6.3" height="3.3" fill="#00d45a"/><rect x="204" y="458" width="3.3" height="3.3" fill="#01d260"/><rect x="207" y="458" width="3.3" height="3.3" fill="#01d066"/><rect x="210" y="458" width="3.3" height="3.3" fill="#01d260"/><rect x="213" y="458" width="3.3" height="3.3" fill="#00d45a"/><rect x="216" y="458" width="9.3" height="3.3" fill="#04d656"/><rect x="225" y="458" width="3.3" height="3.3" fill="#01d066"/><rect x="228" y="458" width="3.3" height="3.3" fill="#02ce6c"/><rect x="231" y="458" width="6.3" height="3.3" fill="#03cb71"/><rect x="237" y="458" width="3.3" height="3.3" fill="#03c977"/><rect x="240" y="458" width="3.3" height="3.3" fill="#05c583"/><rect x="243" y="458" width="3.3" height="3.3" fill="#08baa0"/><rect x="246" y="458" width="3.3" height="3.3" fill="#09b6a8"/><rect x="249" y="458" width="3.3" height="3.3" fill="#09b4ac"/><rect x="252" y="458" width="3.3" height="3.3" fill="#0ab0b4"/><rect x="255" y="458" width="3.3" height="3.3" fill="#0aaeb8"/><rect x="258" y="458" width="3.3" height="3.3" fill="#0aacbc"/><rect x="261" y="458" width="6.3" height="3.3" fill="#0ba8c4"/><rect x="267" y="458" width="3.3" height="3.3" fill="#0ca6c8"/><rect x="147" y="461" width="3.3" height="3.3" fill="#ffc41f"/><rect x="150" y="461" width="3.3" height="3.3" fill="#ffbc20"/><rect x="153" y="461" width="6.3" height="3.3" fill="#ffb821"/><rect x="159" y="461" width="3.3" height="3.3" fill="#ffc01f"/><rect x="162" y="461" width="3.3" height="3.3" fill="#ffcf1a"/><rect x="165" y="461" width="3.3" height="3.3" fill="#ffe50e"/><rect x="168" y="461" width="3.3" height="3.3" fill="#f1fc03"/><rect x="171" y="461" width="3.3" height="3.3" fill="#b1f112"/><rect x="174" y="461" width="3.3" height="3.3" fill="#47e72b"/><rect x="177" y="461" width="3.3" height="3.3" fill="#1ee03c"/><rect x="180" y="461" width="3.3" height="3.3" fill="#0fda4b"/><rect x="183" y="461" width="3.3" height="3.3" fill="#04d656"/><rect x="186" y="461" width="3.3" height="3.3" fill="#01d066"/><rect x="189" y="461" width="3.3" height="3.3" fill="#03cb71"/><rect x="192" y="461" width="3.3" height="3.3" fill="#04c77d"/><rect x="195" y="461" width="3.3" height="3.3" fill="#05c583"/><rect x="198" y="461" width="3.3" height="3.3" fill="#05c389"/><rect x="201" y="461" width="6.3" height="3.3" fill="#06c08e"/><rect x="207" y="461" width="6.3" height="3.3" fill="#07be94"/><rect x="213" y="461" width="3.3" height="3.3" fill="#06c08e"/><rect x="216" y="461" width="3.3" height="3.3" fill="#05c389"/><rect x="219" y="461" width="6.3" height="3.3" fill="#05c583"/><rect x="225" y="461" width="6.3" height="3.3" fill="#07be94"/><rect x="231" y="461" width="6.3" height="3.3" fill="#07bc9a"/><rect x="237" y="461" width="3.3" height="3.3" fill="#08baa0"/><rect x="240" y="461" width="3.3" height="3.3" fill="#08b8a4"/><rect x="243" y="461" width="3.3" height="3.3" fill="#09b6a8"/><rect x="246" y="461" width="3.3" height="3.3" fill="#0ab0b4"/><rect x="249" y="461" width="3.3" height="3.3" fill="#0aaeb8"/><rect x="252" y="461" width="3.3" height="3.3" fill="#0aacbc"/><rect x="255" y="461" width="3.3" height="3.3" fill="#0baac0"/><rect x="258" y="461" width="3.3" height="3.3" fill="#0ba8c4"/><rect x="261" y="461" width="6.3" height="3.3" fill="#0ca6c8"/><rect x="141" y="464" width="3.3" height="3.3" fill="#ffb821"/><rect x="144" y="464" width="3.3" height="3.3" fill="#ffac23"/><rect x="147" y="464" width="3.3" height="3.3" fill="#ffa424"/><rect x="150" y="464" width="3.3" height="3.3" fill="#ffa025"/><rect x="153" y="464" width="3.3" height="3.3" fill="#ffa424"/><rect x="156" y="464" width="3.3" height="3.3" fill="#ffac23"/><rect x="159" y="464" width="3.3" height="3.3" fill="#ffbc20"/><rect x="162" y="464" width="3.3" height="3.3" fill="#ffd318"/><rect x="165" y="464" width="3.3" height="3.3" fill="#fff008"/><rect x="168" y="464" width="3.3" height="3.3" fill="#dcf908"/><rect x="171" y="464" width="3.3" height="3.3" fill="#60e925"/><rect x="174" y="464" width="3.3" height="3.3" fill="#17dd43"/><rect x="177" y="464" width="3.3" height="3.3" fill="#01d260"/><rect x="180" y="464" width="3.3" height="3.3" fill="#03cb71"/><rect x="183" y="464" width="3.3" height="3.3" fill="#05c583"/><rect x="186" y="464" width="3.3" height="3.3" fill="#06c08e"/><rect x="189" y="464" width="3.3" height="3.3" fill="#07bc9a"/><rect x="192" y="464" width="3.3" height="3.3" fill="#08b8a4"/><rect x="195" y="464" width="6.3" height="3.3" fill="#09b6a8"/><rect x="201" y="464" width="6.3" height="3.3" fill="#09b4ac"/><rect x="207" y="464" width="6.3" height="3.3" fill="#09b2b0"/><rect x="213" y="464" width="6.3" height="3.3" fill="#09b4ac"/><rect x="219" y="464" width="3.3" height="3.3" fill="#09b6a8"/><rect x="222" y="464" width="6.3" height="3.3" fill="#08b8a4"/><rect x="228" y="464" width="15.3" height="3.3" fill="#09b2b0"/><rect x="243" y="464" width="3.3" height="3.3" fill="#0ab0b4"/><rect x="246" y="464" width="3.3" height="3.3" fill="#0aaeb8"/><rect x="249" y="464" width="3.3" height="3.3" fill="#0baac0"/><rect x="252" y="464" width="6.3" height="3.3" fill="#0ba8c4"/><rect x="258" y="464" width="6.3" height="3.3" fill="#0ca6c8"/><rect x="138" y="467" width="3.3" height="3.3" fill="#ff9826"/><rect x="141" y="467" width="3.3" height="3.3" fill="#ff8728"/><rect x="144" y="467" width="3.3" height="3.3" fill="#ff8228"/><rect x="147" y="467" width="3.3" height="3.3" fill="#ff8728"/><rect x="150" y="467" width="3.3" height="3.3" fill="#ff9027"/><rect x="153" y="467" width="3.3" height="3.3" fill="#ffa025"/><rect x="156" y="467" width="3.3" height="3.3" fill="#ffb022"/><rect x="159" y="467" width="3.3" height="3.3" fill="#ffc81e"/><rect x="162" y="467" width="3.3" height="3.3" fill="#ffe210"/><rect x="165" y="467" width="3.3" height="3.3" fill="#f8fe02"/><rect x="168" y="467" width="3.3" height="3.3" fill="#b1f112"/><rect x="171" y="467" width="3.3" height="3.3" fill="#1ee03c"/><rect x="174" y="467" width="3.3" height="3.3" fill="#00d45a"/><rect x="177" y="467" width="3.3" height="3.3" fill="#06c08e"/><rect x="180" y="467" width="3.3" height="3.3" fill="#07bc9a"/><rect x="183" y="467" width="3.3" height="3.3" fill="#08b8a4"/><rect x="186" y="467" width="3.3" height="3.3" fill="#09b4ac"/><rect x="189" y="467" width="3.3" height="3.3" fill="#0ab0b4"/><rect x="192" y="467" width="6.3" height="3.3" fill="#0aaeb8"/><rect x="198" y="467" width="12.3" height="3.3" fill="#0aacbc"/><rect x="210" y="467" width="3.3" height="3.3" fill="#0baac0"/><rect x="213" y="467" width="6.3" height="3.3" fill="#0aacbc"/><rect x="219" y="467" width="6.3" height="3.3" fill="#0aaeb8"/><rect x="225" y="467" width="3.3" height="3.3" fill="#0ab0b4"/><rect x="228" y="467" width="15.3" height="3.3" fill="#0aacbc"/><rect x="243" y="467" width="6.3" height="3.3" fill="#0baac0"/><rect x="249" y="467" width="9.3" height="3.3" fill="#0ca6c8"/><rect x="135" y="470" width="3.3" height="3.3" fill="#ff8228"/><rect x="138" y="470" width="3.3" height="3.3" fill="#ff5928"/><rect x="141" y="470" width="3.3" height="3.3" fill="#ff4e28"/><rect x="144" y="470" width="3.3" height="3.3" fill="#ff5428"/><rect x="147" y="470" width="3.3" height="3.3" fill="#ff6d28"/><rect x="150" y="470" width="3.3" height="3.3" fill="#ff8c28"/><rect x="153" y="470" width="3.3" height="3.3" fill="#ffa424"/><rect x="156" y="470" width="3.3" height="3.3" fill="#ffc01f"/><rect x="159" y="470" width="3.3" height="3.3" fill="#ffda14"/><rect x="162" y="470" width="3.3" height="3.3" fill="#fff804"/><rect x="165" y="470" width="3.3" height="3.3" fill="#c6f50d"/><rect x="168" y="470" width="3.3" height="3.3" fill="#60e925"/><rect x="171" y="470" width="3.3" height="3.3" fill="#17dd43"/><rect x="174" y="470" width="3.3" height="3.3" fill="#05c583"/><rect x="177" y="470" width="3.3" height="3.3" fill="#09b6a8"/><rect x="180" y="470" width="3.3" height="3.3" fill="#09b2b0"/><rect x="183" y="470" width="3.3" height="3.3" fill="#0aaeb8"/><rect x="186" y="470" width="3.3" height="3.3" fill="#0aacbc"/><rect x="189" y="470" width="3.3" height="3.3" fill="#0baac0"/><rect x="192" y="470" width="15.3" height="3.3" fill="#0ba8c4"/><rect x="207" y="470" width="3.3" height="3.3" fill="#0ca6c8"/><rect x="210" y="470" width="3.3" height="3.3" fill="#0ba8c4"/><rect x="213" y="470" width="3.3" height="3.3" fill="#0ca6c8"/><rect x="216" y="470" width="9.3" height="3.3" fill="#0ba8c4"/><rect x="225" y="470" width="6.3" height="3.3" fill="#0baac0"/><rect x="231" y="470" width="15.3" height="3.3" fill="#0ba8c4"/><rect x="246" y="470" width="6.3" height="3.3" fill="#0ca6c8"/><rect x="132" y="473" width="3.3" height="3.3" fill="#ff8728"/><rect x="135" y="473" width="3.3" height="3.3" fill="#ff4e28"/><rect x="138" y="473" width="3.3" height="3.3" fill="#fb262b"/><rect x="141" y="473" width="3.3" height="3.3" fill="#f42132"/><rect x="144" y="473" width="3.3" height="3.3" fill="#ff3028"/><rect x="147" y="473" width="3.3" height="3.3" fill="#ff5e28"/><rect x="150" y="473" width="3.3" height="3.3" fill="#ff9027"/><rect x="153" y="473" width="3.3" height="3.3" fill="#ffb821"/><rect x="156" y="473" width="3.3" height="3.3" fill="#ffd716"/><rect x="159" y="473" width="3.3" height="3.3" fill="#fff804"/><rect x="162" y="473" width="3.3" height="3.3" fill="#d4f80a"/><rect x="165" y="473" width="3.3" height="3.3" fill="#85ed1d"/><rect x="168" y="473" width="3.3" height="3.3" fill="#22e238"/><rect x="171" y="473" width="3.3" height="3.3" fill="#00d45a"/><rect x="174" y="473" width="3.3" height="3.3" fill="#08baa0"/><rect x="177" y="473" width="3.3" height="3.3" fill="#09b2b0"/><rect x="180" y="473" width="3.3" height="3.3" fill="#0baac0"/><rect x="183" y="473" width="6.3" height="3.3" fill="#0ba8c4"/><rect x="189" y="473" width="6.3" height="3.3" fill="#0ca6c8"/><rect x="219" y="473" width="12.3" height="3.3" fill="#0ca6c8"/><rect x="132" y="476" width="3.3" height="3.3" fill="#ff5e28"/><rect x="135" y="476" width="3.3" height="3.3" fill="#fe2729"/><rect x="138" y="476" width="3.3" height="3.3" fill="#e81a3e"/><rect x="141" y="476" width="3.3" height="3.3" fill="#e21742"/><rect x="144" y="476" width="3.3" height="3.3" fill="#f72330"/><rect x="147" y="476" width="3.3" height="3.3" fill="#ff5928"/><rect x="150" y="476" width="3.3" height="3.3" fill="#ff9c25"/><rect x="153" y="476" width="3.3" height="3.3" fill="#ffcc1c"/><rect x="156" y="476" width="3.3" height="3.3" fill="#fff406"/><rect x="159" y="476" width="3.3" height="3.3" fill="#d4f80a"/><rect x="162" y="476" width="3.3" height="3.3" fill="#85ed1d"/><rect x="165" y="476" width="3.3" height="3.3" fill="#26e334"/><rect x="168" y="476" width="3.3" height="3.3" fill="#08d752"/><rect x="171" y="476" width="3.3" height="3.3" fill="#03c977"/><rect x="174" y="476" width="3.3" height="3.3" fill="#07bc9a"/><rect x="177" y="476" width="3.3" height="3.3" fill="#0aacbc"/><rect x="180" y="476" width="6.3" height="3.3" fill="#0ca6c8"/><rect x="129" y="479" width="3.3" height="3.3" fill="#ff9427"/><rect x="132" y="479" width="3.3" height="3.3" fill="#ff4e28"/><rect x="135" y="479" width="3.3" height="3.3" fill="#f22035"/><rect x="138" y="479" width="6.3" height="3.3" fill="#db1645"/><rect x="144" y="479" width="3.3" height="3.3" fill="#f72330"/><rect x="147" y="479" width="3.3" height="3.3" fill="#ff6828"/><rect x="150" y="479" width="3.3" height="3.3" fill="#ffb022"/><rect x="153" y="479" width="3.3" height="3.3" fill="#ffe50e"/><rect x="156" y="479" width="3.3" height="3.3" fill="#d4f80a"/><rect x="159" y="479" width="3.3" height="3.3" fill="#85ed1d"/><rect x="162" y="479" width="3.3" height="3.3" fill="#26e334"/><rect x="165" y="479" width="3.3" height="3.3" fill="#0bd94f"/><rect x="168" y="479" width="3.3" height="3.3" fill="#03cb71"/><rect x="171" y="479" width="3.3" height="3.3" fill="#06c08e"/><rect x="174" y="479" width="3.3" height="3.3" fill="#09b4ac"/><rect x="177" y="479" width="3.3" height="3.3" fill="#0ba8c4"/><rect x="129" y="482" width="3.3" height="3.3" fill="#ff9c25"/><rect x="132" y="482" width="3.3" height="3.3" fill="#ff6328"/><rect x="135" y="482" width="3.3" height="3.3" fill="#fe2729"/><rect x="138" y="482" width="6.3" height="3.3" fill="#eb1b3b"/><rect x="144" y="482" width="3.3" height="3.3" fill="#ff3528"/><rect x="147" y="482" width="3.3" height="3.3" fill="#ff8728"/><rect x="150" y="482" width="3.3" height="3.3" fill="#ffd318"/><rect x="153" y="482" width="3.3" height="3.3" fill="#f8fe02"/><rect x="156" y="482" width="3.3" height="3.3" fill="#9eef17"/><rect x="159" y="482" width="3.3" height="3.3" fill="#26e334"/><rect x="162" y="482" width="3.3" height="3.3" fill="#0bd94f"/><rect x="165" y="482" width="3.3" height="3.3" fill="#03cb71"/><rect x="168" y="482" width="3.3" height="3.3" fill="#06c08e"/><rect x="171" y="482" width="3.3" height="3.3" fill="#08b8a4"/><rect x="174" y="482" width="3.3" height="3.3" fill="#0ab0b4"/><rect x="177" y="482" width="3.3" height="3.3" fill="#0baac0"/><rect x="126" y="485" width="3.3" height="3.3" fill="#ffd318"/><rect x="129" y="485" width="3.3" height="3.3" fill="#ffa823"/><rect x="132" y="485" width="3.3" height="3.3" fill="#ff8228"/><rect x="135" y="485" width="3.3" height="3.3" fill="#ff5428"/><rect x="138" y="485" width="3.3" height="3.3" fill="#ff3a28"/><rect x="141" y="485" width="3.3" height="3.3" fill="#ff4428"/><rect x="144" y="485" width="3.3" height="3.3" fill="#ff6d28"/><rect x="147" y="485" width="3.3" height="3.3" fill="#ffb022"/><rect x="150" y="485" width="3.3" height="3.3" fill="#ffe90c"/><rect x="153" y="485" width="3.3" height="3.3" fill="#b8f211"/><rect x="156" y="485" width="3.3" height="3.3" fill="#47e72b"/><rect x="159" y="485" width="3.3" height="3.3" fill="#0fda4b"/><rect x="162" y="485" width="3.3" height="3.3" fill="#03cb71"/><rect x="165" y="485" width="3.3" height="3.3" fill="#06c08e"/><rect x="168" y="485" width="3.3" height="3.3" fill="#08b8a4"/><rect x="171" y="485" width="3.3" height="3.3" fill="#09b2b0"/><rect x="174" y="485" width="3.3" height="3.3" fill="#0aacbc"/><rect x="177" y="485" width="3.3" height="3.3" fill="#0ba8c4"/><rect x="120" y="488" width="3.3" height="3.3" fill="#ffed0a"/><rect x="123" y="488" width="3.3" height="3.3" fill="#ffde12"/><rect x="126" y="488" width="3.3" height="3.3" fill="#ffcc1c"/><rect x="129" y="488" width="3.3" height="3.3" fill="#ffb421"/><rect x="132" y="488" width="3.3" height="3.3" fill="#ffa025"/><rect x="135" y="488" width="3.3" height="3.3" fill="#ff8c28"/><rect x="138" y="488" width="3.3" height="3.3" fill="#ff8228"/><rect x="141" y="488" width="3.3" height="3.3" fill="#ff9027"/><rect x="144" y="488" width="3.3" height="3.3" fill="#ffb421"/><rect x="147" y="488" width="3.3" height="3.3" fill="#ffde12"/><rect x="150" y="488" width="3.3" height="3.3" fill="#f1fc03"/><rect x="153" y="488" width="3.3" height="3.3" fill="#91ee1a"/><rect x="156" y="488" width="3.3" height="3.3" fill="#13dc47"/><rect x="159" y="488" width="3.3" height="3.3" fill="#01d066"/><rect x="162" y="488" width="3.3" height="3.3" fill="#05c389"/><rect x="165" y="488" width="3.3" height="3.3" fill="#08b8a4"/><rect x="168" y="488" width="3.3" height="3.3" fill="#09b2b0"/><rect x="171" y="488" width="3.3" height="3.3" fill="#0aacbc"/><rect x="174" y="488" width="3.3" height="3.3" fill="#0baac0"/><rect x="177" y="488" width="3.3" height="3.3" fill="#0ca6c8"/><rect x="114" y="491" width="3.3" height="3.3" fill="#fff804"/><rect x="117" y="491" width="3.3" height="3.3" fill="#ffed0a"/><rect x="120" y="491" width="3.3" height="3.3" fill="#ffde12"/><rect x="123" y="491" width="3.3" height="3.3" fill="#ffd318"/><rect x="126" y="491" width="3.3" height="3.3" fill="#ffcc1c"/><rect x="129" y="491" width="3.3" height="3.3" fill="#ffbc20"/><rect x="132" y="491" width="3.3" height="3.3" fill="#ffb022"/><rect x="135" y="491" width="3.3" height="3.3" fill="#ffac23"/><rect x="138" y="491" width="3.3" height="3.3" fill="#ffa823"/><rect x="141" y="491" width="3.3" height="3.3" fill="#ffc81e"/><rect x="144" y="491" width="3.3" height="3.3" fill="#ffe50e"/><rect x="147" y="491" width="3.3" height="3.3" fill="#f1fc03"/><rect x="150" y="491" width="3.3" height="3.3" fill="#aaf014"/><rect x="153" y="491" width="3.3" height="3.3" fill="#3be62e"/><rect x="156" y="491" width="3.3" height="3.3" fill="#0bd94f"/><rect x="159" y="491" width="3.3" height="3.3" fill="#05c583"/><rect x="162" y="491" width="3.3" height="3.3" fill="#08baa0"/><rect x="165" y="491" width="3.3" height="3.3" fill="#09b2b0"/><rect x="168" y="491" width="3.3" height="3.3" fill="#0aaeb8"/><rect x="171" y="491" width="3.3" height="3.3" fill="#0baac0"/><rect x="174" y="491" width="3.3" height="3.3" fill="#0ba8c4"/><rect x="177" y="491" width="3.3" height="3.3" fill="#0ca6c8"/><rect x="111" y="494" width="3.3" height="3.3" fill="#fffb02"/><rect x="114" y="494" width="3.3" height="3.3" fill="#ffed0a"/><rect x="117" y="494" width="3.3" height="3.3" fill="#ffde12"/><rect x="120" y="494" width="3.3" height="3.3" fill="#ffd716"/><rect x="123" y="494" width="3.3" height="3.3" fill="#ffcf1a"/><rect x="126" y="494" width="6.3" height="3.3" fill="#ffcc1c"/><rect x="132" y="494" width="3.3" height="3.3" fill="#ffc81e"/><rect x="135" y="494" width="3.3" height="3.3" fill="#ffcc1c"/><rect x="138" y="494" width="3.3" height="3.3" fill="#ffd318"/><rect x="141" y="494" width="3.3" height="3.3" fill="#ffde12"/><rect x="144" y="494" width="3.3" height="3.3" fill="#fff406"/><rect x="147" y="494" width="3.3" height="3.3" fill="#aaf014"/><rect x="150" y="494" width="3.3" height="3.3" fill="#47e72b"/><rect x="153" y="494" width="3.3" height="3.3" fill="#13dc47"/><rect x="156" y="494" width="3.3" height="3.3" fill="#01d260"/><rect x="159" y="494" width="3.3" height="3.3" fill="#05c583"/><rect x="162" y="494" width="3.3" height="3.3" fill="#09b4ac"/><rect x="165" y="494" width="3.3" height="3.3" fill="#0aaeb8"/><rect x="168" y="494" width="3.3" height="3.3" fill="#0baac0"/><rect x="171" y="494" width="3.3" height="3.3" fill="#0ba8c4"/><rect x="174" y="494" width="3.3" height="3.3" fill="#0ca6c8"/><rect x="105" y="497" width="3.3" height="3.3" fill="#dcf908"/><rect x="108" y="497" width="3.3" height="3.3" fill="#ffff00"/><rect x="111" y="497" width="3.3" height="3.3" fill="#fff008"/><rect x="114" y="497" width="3.3" height="3.3" fill="#ffe50e"/><rect x="117" y="497" width="3.3" height="3.3" fill="#ffde12"/><rect x="120" y="497" width="3.3" height="3.3" fill="#ffda14"/><rect x="123" y="497" width="6.3" height="3.3" fill="#ffd716"/><rect x="129" y="497" width="3.3" height="3.3" fill="#ffda14"/><rect x="132" y="497" width="3.3" height="3.3" fill="#ffe210"/><rect x="135" y="497" width="3.3" height="3.3" fill="#ffe90c"/><rect x="138" y="497" width="3.3" height="3.3" fill="#fff804"/><rect x="141" y="497" width="3.3" height="3.3" fill="#f1fc03"/><rect x="144" y="497" width="3.3" height="3.3" fill="#cdf60c"/><rect x="147" y="497" width="3.3" height="3.3" fill="#9eef17"/><rect x="150" y="497" width="3.3" height="3.3" fill="#3be62e"/><rect x="153" y="497" width="3.3" height="3.3" fill="#00d45a"/><rect x="156" y="497" width="3.3" height="3.3" fill="#04c77d"/><rect x="159" y="497" width="3.3" height="3.3" fill="#07bc9a"/><rect x="162" y="497" width="3.3" height="3.3" fill="#09b6a8"/><rect x="165" y="497" width="3.3" height="3.3" fill="#0aacbc"/><rect x="168" y="497" width="3.3" height="3.3" fill="#0ba8c4"/><rect x="171" y="497" width="3.3" height="3.3" fill="#0ca6c8"/><rect x="102" y="500" width="3.3" height="3.3" fill="#dcf908"/><rect x="105" y="500" width="3.3" height="3.3" fill="#f8fe02"/><rect x="108" y="500" width="3.3" height="3.3" fill="#fff406"/><rect x="111" y="500" width="3.3" height="3.3" fill="#ffed0a"/><rect x="114" y="500" width="3.3" height="3.3" fill="#ffe50e"/><rect x="117" y="500" width="6.3" height="3.3" fill="#ffe210"/><rect x="123" y="500" width="3.3" height="3.3" fill="#ffe50e"/><rect x="126" y="500" width="3.3" height="3.3" fill="#ffe90c"/><rect x="129" y="500" width="3.3" height="3.3" fill="#fff008"/><rect x="132" y="500" width="3.3" height="3.3" fill="#fff804"/><rect x="135" y="500" width="3.3" height="3.3" fill="#eafb05"/><rect x="138" y="500" width="3.3" height="3.3" fill="#cdf60c"/><rect x="141" y="500" width="3.3" height="3.3" fill="#b1f112"/><rect x="144" y="500" width="3.3" height="3.3" fill="#78eb1f"/><rect x="147" y="500" width="3.3" height="3.3" fill="#3be62e"/><rect x="150" y="500" width="3.3" height="3.3" fill="#17dd43"/><rect x="153" y="500" width="3.3" height="3.3" fill="#00d45a"/><rect x="156" y="500" width="3.3" height="3.3" fill="#05c583"/><rect x="159" y="500" width="3.3" height="3.3" fill="#09b6a8"/><rect x="162" y="500" width="3.3" height="3.3" fill="#0ab0b4"/><rect x="165" y="500" width="3.3" height="3.3" fill="#0aacbc"/><rect x="168" y="500" width="3.3" height="3.3" fill="#0ca6c8"/><rect x="99" y="503" width="3.3" height="3.3" fill="#b8f211"/><rect x="102" y="503" width="3.3" height="3.3" fill="#eafb05"/><rect x="105" y="503" width="3.3" height="3.3" fill="#fffb02"/><rect x="108" y="503" width="3.3" height="3.3" fill="#fff008"/><rect x="111" y="503" width="9.3" height="3.3" fill="#ffed0a"/><rect x="120" y="503" width="3.3" height="3.3" fill="#fff406"/><rect x="123" y="503" width="3.3" height="3.3" fill="#fffb02"/><rect x="126" y="503" width="3.3" height="3.3" fill="#f8fe02"/><rect x="129" y="503" width="3.3" height="3.3" fill="#eafb05"/><rect x="132" y="503" width="3.3" height="3.3" fill="#d4f80a"/><rect x="135" y="503" width="3.3" height="3.3" fill="#bff40f"/><rect x="138" y="503" width="3.3" height="3.3" fill="#85ed1d"/><rect x="141" y="503" width="3.3" height="3.3" fill="#47e72b"/><rect x="144" y="503" width="3.3" height="3.3" fill="#1ee03c"/><rect x="147" y="503" width="3.3" height="3.3" fill="#0fda4b"/><rect x="150" y="503" width="3.3" height="3.3" fill="#01d260"/><rect x="153" y="503" width="3.3" height="3.3" fill="#03c977"/><rect x="156" y="503" width="3.3" height="3.3" fill="#07be94"/><rect x="159" y="503" width="3.3" height="3.3" fill="#09b6a8"/><rect x="162" y="503" width="3.3" height="3.3" fill="#0aaeb8"/><rect x="165" y="503" width="3.3" height="3.3" fill="#0baac0"/><rect x="168" y="503" width="3.3" height="3.3" fill="#0ba8c4"/><rect x="171" y="503" width="3.3" height="3.3" fill="#0ca6c8"/><rect x="96" y="506" width="3.3" height="3.3" fill="#78eb1f"/><rect x="99" y="506" width="3.3" height="3.3" fill="#bff40f"/><rect x="102" y="506" width="3.3" height="3.3" fill="#eafb05"/><rect x="105" y="506" width="3.3" height="3.3" fill="#fffb02"/><rect x="108" y="506" width="6.3" height="3.3" fill="#fff406"/><rect x="114" y="506" width="3.3" height="3.3" fill="#fff804"/><rect x="117" y="506" width="3.3" height="3.3" fill="#ffff00"/><rect x="120" y="506" width="3.3" height="3.3" fill="#eafb05"/><rect x="123" y="506" width="3.3" height="3.3" fill="#d4f80a"/><rect x="126" y="506" width="3.3" height="3.3" fill="#c6f50d"/><rect x="129" y="506" width="3.3" height="3.3" fill="#b1f112"/><rect x="132" y="506" width="3.3" height="3.3" fill="#85ed1d"/><rect x="135" y="506" width="3.3" height="3.3" fill="#60e925"/><rect x="138" y="506" width="3.3" height="3.3" fill="#3be62e"/><rect x="141" y="506" width="3.3" height="3.3" fill="#13dc47"/><rect x="144" y="506" width="3.3" height="3.3" fill="#04d656"/><rect x="147" y="506" width="3.3" height="3.3" fill="#02ce6c"/><rect x="150" y="506" width="3.3" height="3.3" fill="#05c583"/><rect x="153" y="506" width="3.3" height="3.3" fill="#07be94"/><rect x="156" y="506" width="3.3" height="3.3" fill="#08b8a4"/><rect x="159" y="506" width="3.3" height="3.3" fill="#09b2b0"/><rect x="162" y="506" width="3.3" height="3.3" fill="#0aacbc"/><rect x="165" y="506" width="3.3" height="3.3" fill="#0ba8c4"/><rect x="168" y="506" width="3.3" height="3.3" fill="#0ca6c8"/><rect x="96" y="509" width="3.3" height="3.3" fill="#85ed1d"/><rect x="99" y="509" width="3.3" height="3.3" fill="#bff40f"/><rect x="102" y="509" width="3.3" height="3.3" fill="#e3fa07"/><rect x="105" y="509" width="3.3" height="3.3" fill="#f1fc03"/><rect x="108" y="509" width="3.3" height="3.3" fill="#f8fe02"/><rect x="111" y="509" width="3.3" height="3.3" fill="#f1fc03"/><rect x="114" y="509" width="3.3" height="3.3" fill="#e3fa07"/><rect x="117" y="509" width="3.3" height="3.3" fill="#cdf60c"/><rect x="120" y="509" width="3.3" height="3.3" fill="#b8f211"/><rect x="123" y="509" width="3.3" height="3.3" fill="#91ee1a"/><rect x="126" y="509" width="3.3" height="3.3" fill="#60e925"/><rect x="129" y="509" width="3.3" height="3.3" fill="#47e72b"/><rect x="132" y="509" width="3.3" height="3.3" fill="#26e334"/><rect x="135" y="509" width="3.3" height="3.3" fill="#1bdf3f"/><rect x="138" y="509" width="3.3" height="3.3" fill="#0fda4b"/><rect x="141" y="509" width="3.3" height="3.3" fill="#00d45a"/><rect x="144" y="509" width="3.3" height="3.3" fill="#03c977"/><rect x="147" y="509" width="3.3" height="3.3" fill="#05c389"/><rect x="150" y="509" width="3.3" height="3.3" fill="#07bc9a"/><rect x="153" y="509" width="3.3" height="3.3" fill="#09b6a8"/><rect x="156" y="509" width="3.3" height="3.3" fill="#09b2b0"/><rect x="159" y="509" width="3.3" height="3.3" fill="#0aaeb8"/><rect x="162" y="509" width="3.3" height="3.3" fill="#0baac0"/><rect x="165" y="509" width="3.3" height="3.3" fill="#0ba8c4"/><rect x="93" y="512" width="3.3" height="3.3" fill="#47e72b"/><rect x="96" y="512" width="3.3" height="3.3" fill="#91ee1a"/><rect x="99" y="512" width="3.3" height="3.3" fill="#b8f211"/><rect x="102" y="512" width="3.3" height="3.3" fill="#cdf60c"/><rect x="105" y="512" width="3.3" height="3.3" fill="#d4f80a"/><rect x="108" y="512" width="3.3" height="3.3" fill="#cdf60c"/><rect x="111" y="512" width="3.3" height="3.3" fill="#bff40f"/><rect x="114" y="512" width="3.3" height="3.3" fill="#b1f112"/><rect x="117" y="512" width="3.3" height="3.3" fill="#91ee1a"/><rect x="120" y="512" width="3.3" height="3.3" fill="#60e925"/><rect x="123" y="512" width="3.3" height="3.3" fill="#2ee531"/><rect x="126" y="512" width="3.3" height="3.3" fill="#1ee03c"/><rect x="129" y="512" width="3.3" height="3.3" fill="#17dd43"/><rect x="132" y="512" width="3.3" height="3.3" fill="#0bd94f"/><rect x="135" y="512" width="3.3" height="3.3" fill="#00d45a"/><rect x="138" y="512" width="3.3" height="3.3" fill="#02ce6c"/><rect x="141" y="512" width="3.3" height="3.3" fill="#04c77d"/><rect x="144" y="512" width="3.3" height="3.3" fill="#06c08e"/><rect x="147" y="512" width="3.3" height="3.3" fill="#08b8a4"/><rect x="150" y="512" width="3.3" height="3.3" fill="#09b4ac"/><rect x="153" y="512" width="3.3" height="3.3" fill="#0ab0b4"/><rect x="156" y="512" width="3.3" height="3.3" fill="#0aaeb8"/><rect x="159" y="512" width="3.3" height="3.3" fill="#0baac0"/><rect x="162" y="512" width="3.3" height="3.3" fill="#0ba8c4"/><rect x="165" y="512" width="3.3" height="3.3" fill="#0ca6c8"/><rect x="90" y="515" width="3.3" height="3.3" fill="#1bdf3f"/><rect x="93" y="515" width="3.3" height="3.3" fill="#47e72b"/><rect x="96" y="515" width="3.3" height="3.3" fill="#85ed1d"/><rect x="99" y="515" width="3.3" height="3.3" fill="#aaf014"/><rect x="102" y="515" width="3.3" height="3.3" fill="#b1f112"/><rect x="105" y="515" width="3.3" height="3.3" fill="#aaf014"/><rect x="108" y="515" width="3.3" height="3.3" fill="#91ee1a"/><rect x="111" y="515" width="3.3" height="3.3" fill="#6cea22"/><rect x="114" y="515" width="3.3" height="3.3" fill="#3be62e"/><rect x="117" y="515" width="3.3" height="3.3" fill="#2ee531"/><rect x="120" y="515" width="3.3" height="3.3" fill="#1bdf3f"/><rect x="123" y="515" width="3.3" height="3.3" fill="#0fda4b"/><rect x="126" y="515" width="3.3" height="3.3" fill="#04d656"/><rect x="129" y="515" width="3.3" height="3.3" fill="#01d066"/><rect x="132" y="515" width="3.3" height="3.3" fill="#03cb71"/><rect x="135" y="515" width="3.3" height="3.3" fill="#04c77d"/><rect x="138" y="515" width="3.3" height="3.3" fill="#06c08e"/><rect x="141" y="515" width="3.3" height="3.3" fill="#07bc9a"/><rect x="144" y="515" width="3.3" height="3.3" fill="#08b8a4"/><rect x="147" y="515" width="3.3" height="3.3" fill="#09b2b0"/><rect x="150" y="515" width="3.3" height="3.3" fill="#0aaeb8"/><rect x="153" y="515" width="3.3" height="3.3" fill="#0aacbc"/><rect x="156" y="515" width="3.3" height="3.3" fill="#0baac0"/><rect x="159" y="515" width="3.3" height="3.3" fill="#0ba8c4"/><rect x="162" y="515" width="6.3" height="3.3" fill="#0ca6c8"/><rect x="87" y="518" width="3.3" height="3.3" fill="#08baa0"/><rect x="90" y="518" width="3.3" height="3.3" fill="#04d656"/><rect x="93" y="518" width="3.3" height="3.3" fill="#47e72b"/><rect x="96" y="518" width="3.3" height="3.3" fill="#6cea22"/><rect x="99" y="518" width="6.3" height="3.3" fill="#78eb1f"/><rect x="105" y="518" width="3.3" height="3.3" fill="#60e925"/><rect x="108" y="518" width="3.3" height="3.3" fill="#3be62e"/><rect x="111" y="518" width="3.3" height="3.3" fill="#1ee03c"/><rect x="114" y="518" width="3.3" height="3.3" fill="#13dc47"/><rect x="117" y="518" width="3.3" height="3.3" fill="#04d656"/><rect x="120" y="518" width="3.3" height="3.3" fill="#00d45a"/><rect x="123" y="518" width="3.3" height="3.3" fill="#02ce6c"/><rect x="126" y="518" width="3.3" height="3.3" fill="#04c77d"/><rect x="129" y="518" width="3.3" height="3.3" fill="#05c389"/><rect x="132" y="518" width="3.3" height="3.3" fill="#06c08e"/><rect x="135" y="518" width="3.3" height="3.3" fill="#07bc9a"/><rect x="138" y="518" width="3.3" height="3.3" fill="#08b8a4"/><rect x="141" y="518" width="3.3" height="3.3" fill="#09b4ac"/><rect x="144" y="518" width="3.3" height="3.3" fill="#09b2b0"/><rect x="147" y="518" width="3.3" height="3.3" fill="#0aaeb8"/><rect x="150" y="518" width="3.3" height="3.3" fill="#0aacbc"/><rect x="153" y="518" width="3.3" height="3.3" fill="#0baac0"/><rect x="156" y="518" width="3.3" height="3.3" fill="#0ba8c4"/><rect x="159" y="518" width="3.3" height="3.3" fill="#0ca6c8"/><rect x="87" y="521" width="3.3" height="3.3" fill="#0ca6c8"/><rect x="90" y="521" width="3.3" height="3.3" fill="#07bc9a"/><rect x="93" y="521" width="3.3" height="3.3" fill="#04d656"/><rect x="96" y="521" width="6.3" height="3.3" fill="#3be62e"/><rect x="102" y="521" width="3.3" height="3.3" fill="#2ee531"/><rect x="105" y="521" width="3.3" height="3.3" fill="#1ee03c"/><rect x="108" y="521" width="3.3" height="3.3" fill="#13dc47"/><rect x="111" y="521" width="3.3" height="3.3" fill="#04d656"/><rect x="114" y="521" width="3.3" height="3.3" fill="#02ce6c"/><rect x="117" y="521" width="3.3" height="3.3" fill="#04c77d"/><rect x="120" y="521" width="6.3" height="3.3" fill="#06c08e"/><rect x="126" y="521" width="3.3" height="3.3" fill="#07bc9a"/><rect x="129" y="521" width="3.3" height="3.3" fill="#08b8a4"/><rect x="132" y="521" width="6.3" height="3.3" fill="#09b4ac"/><rect x="138" y="521" width="3.3" height="3.3" fill="#09b2b0"/><rect x="141" y="521" width="3.3" height="3.3" fill="#0aaeb8"/><rect x="144" y="521" width="3.3" height="3.3" fill="#0aacbc"/><rect x="147" y="521" width="6.3" height="3.3" fill="#0baac0"/><rect x="153" y="521" width="6.3" height="3.3" fill="#0ca6c8"/><rect x="93" y="524" width="3.3" height="3.3" fill="#08b8a4"/><rect x="96" y="524" width="3.3" height="3.3" fill="#02ce6c"/><rect x="99" y="524" width="3.3" height="3.3" fill="#13dc47"/><rect x="102" y="524" width="3.3" height="3.3" fill="#0fda4b"/><rect x="105" y="524" width="3.3" height="3.3" fill="#04d656"/><rect x="108" y="524" width="3.3" height="3.3" fill="#02ce6c"/><rect x="111" y="524" width="3.3" height="3.3" fill="#04c77d"/><rect x="114" y="524" width="3.3" height="3.3" fill="#06c08e"/><rect x="117" y="524" width="3.3" height="3.3" fill="#08baa0"/><rect x="120" y="524" width="3.3" height="3.3" fill="#09b6a8"/><rect x="123" y="524" width="3.3" height="3.3" fill="#09b2b0"/><rect x="126" y="524" width="3.3" height="3.3" fill="#09b4ac"/><rect x="129" y="524" width="3.3" height="3.3" fill="#09b2b0"/><rect x="132" y="524" width="3.3" height="3.3" fill="#0aaeb8"/><rect x="135" y="524" width="6.3" height="3.3" fill="#0aacbc"/><rect x="141" y="524" width="6.3" height="3.3" fill="#0baac0"/><rect x="147" y="524" width="3.3" height="3.3" fill="#0ba8c4"/><rect x="150" y="524" width="6.3" height="3.3" fill="#0ca6c8"/><rect x="96" y="527" width="3.3" height="3.3" fill="#0ab0b4"/><rect x="99" y="527" width="3.3" height="3.3" fill="#06c08e"/><rect x="102" y="527" width="3.3" height="3.3" fill="#03c977"/><rect x="105" y="527" width="3.3" height="3.3" fill="#04c77d"/><rect x="108" y="527" width="3.3" height="3.3" fill="#06c08e"/><rect x="111" y="527" width="3.3" height="3.3" fill="#08baa0"/><rect x="114" y="527" width="3.3" height="3.3" fill="#09b6a8"/><rect x="117" y="527" width="3.3" height="3.3" fill="#09b2b0"/><rect x="120" y="527" width="3.3" height="3.3" fill="#0aaeb8"/><rect x="123" y="527" width="3.3" height="3.3" fill="#0aacbc"/><rect x="126" y="527" width="3.3" height="3.3" fill="#0baac0"/><rect x="129" y="527" width="3.3" height="3.3" fill="#0aacbc"/><rect x="132" y="527" width="6.3" height="3.3" fill="#0baac0"/><rect x="138" y="527" width="6.3" height="3.3" fill="#0ba8c4"/><rect x="144" y="527" width="9.3" height="3.3" fill="#0ca6c8"/><rect x="99" y="530" width="3.3" height="3.3" fill="#0baac0"/><rect x="102" y="530" width="3.3" height="3.3" fill="#09b4ac"/><rect x="105" y="530" width="3.3" height="3.3" fill="#08b8a4"/><rect x="108" y="530" width="3.3" height="3.3" fill="#09b6a8"/><rect x="111" y="530" width="3.3" height="3.3" fill="#09b2b0"/><rect x="114" y="530" width="3.3" height="3.3" fill="#0aaeb8"/><rect x="117" y="530" width="3.3" height="3.3" fill="#0aacbc"/><rect x="120" y="530" width="3.3" height="3.3" fill="#0baac0"/><rect x="123" y="530" width="6.3" height="3.3" fill="#0ba8c4"/><rect x="129" y="530" width="3.3" height="3.3" fill="#0ca6c8"/><rect x="132" y="530" width="3.3" height="3.3" fill="#0ba8c4"/><rect x="135" y="530" width="9.3" height="3.3" fill="#0ca6c8"/><rect x="102" y="533" width="3.3" height="3.3" fill="#0ca6c8"/><rect x="105" y="533" width="9.3" height="3.3" fill="#0aacbc"/><rect x="114" y="533" width="3.3" height="3.3" fill="#0baac0"/><rect x="117" y="533" width="3.3" height="3.3" fill="#0ba8c4"/><rect x="120" y="533" width="6.3" height="3.3" fill="#0ca6c8"/><rect x="108" y="536" width="12.3" height="3.3" fill="#0ca6c8"/></g></g>
<g clip-path="url(#cthw)"><g filter="url(#b2)"><rect x="297" y="353" width="3.3" height="3.3" fill="#0ca6c8"/><rect x="300" y="353" width="6.3" height="3.3" fill="#0ba8c4"/><rect x="306" y="353" width="3.3" height="3.3" fill="#0ca6c8"/><rect x="294" y="356" width="3.3" height="3.3" fill="#0ca6c8"/><rect x="297" y="356" width="3.3" height="3.3" fill="#0baac0"/><rect x="300" y="356" width="3.3" height="3.3" fill="#0aacbc"/><rect x="303" y="356" width="3.3" height="3.3" fill="#09b2b0"/><rect x="306" y="356" width="6.3" height="3.3" fill="#09b6a8"/><rect x="312" y="356" width="3.3" height="3.3" fill="#09b2b0"/><rect x="315" y="356" width="3.3" height="3.3" fill="#0ba8c4"/><rect x="294" y="359" width="3.3" height="3.3" fill="#0ba8c4"/><rect x="297" y="359" width="3.3" height="3.3" fill="#0aacbc"/><rect x="300" y="359" width="3.3" height="3.3" fill="#09b2b0"/><rect x="303" y="359" width="3.3" height="3.3" fill="#07be94"/><rect x="306" y="359" width="3.3" height="3.3" fill="#03cb71"/><rect x="309" y="359" width="3.3" height="3.3" fill="#00d45a"/><rect x="312" y="359" width="3.3" height="3.3" fill="#08d752"/><rect x="315" y="359" width="3.3" height="3.3" fill="#00d45a"/><rect x="318" y="359" width="3.3" height="3.3" fill="#04c77d"/><rect x="321" y="359" width="3.3" height="3.3" fill="#09b6a8"/><rect x="291" y="362" width="3.3" height="3.3" fill="#0ca6c8"/><rect x="294" y="362" width="3.3" height="3.3" fill="#0baac0"/><rect x="297" y="362" width="3.3" height="3.3" fill="#0aaeb8"/><rect x="300" y="362" width="3.3" height="3.3" fill="#08b8a4"/><rect x="303" y="362" width="3.3" height="3.3" fill="#05c583"/><rect x="306" y="362" width="3.3" height="3.3" fill="#08d752"/><rect x="309" y="362" width="3.3" height="3.3" fill="#3be62e"/><rect x="312" y="362" width="6.3" height="3.3" fill="#b8f211"/><rect x="318" y="362" width="3.3" height="3.3" fill="#85ed1d"/><rect x="321" y="362" width="3.3" height="3.3" fill="#22e238"/><rect x="324" y="362" width="3.3" height="3.3" fill="#01d066"/><rect x="327" y="362" width="3.3" height="3.3" fill="#08b8a4"/><rect x="291" y="365" width="3.3" height="3.3" fill="#0ba8c4"/><rect x="294" y="365" width="3.3" height="3.3" fill="#0aacbc"/><rect x="297" y="365" width="3.3" height="3.3" fill="#09b2b0"/><rect x="300" y="365" width="3.3" height="3.3" fill="#07be94"/><rect x="303" y="365" width="3.3" height="3.3" fill="#02ce6c"/><rect x="306" y="365" width="3.3" height="3.3" fill="#1bdf3f"/><rect x="309" y="365" width="3.3" height="3.3" fill="#78eb1f"/><rect x="312" y="365" width="3.3" height="3.3" fill="#d4f80a"/><rect x="315" y="365" width="3.3" height="3.3" fill="#fffb02"/><rect x="318" y="365" width="3.3" height="3.3" fill="#fff008"/><rect x="321" y="365" width="3.3" height="3.3" fill="#f8fe02"/><rect x="324" y="365" width="3.3" height="3.3" fill="#78eb1f"/><rect x="288" y="368" width="3.3" height="3.3" fill="#0ca6c8"/><rect x="291" y="368" width="3.3" height="3.3" fill="#0baac0"/><rect x="294" y="368" width="3.3" height="3.3" fill="#0aaeb8"/><rect x="297" y="368" width="3.3" height="3.3" fill="#08b8a4"/><rect x="300" y="368" width="3.3" height="3.3" fill="#05c583"/><rect x="303" y="368" width="3.3" height="3.3" fill="#08d752"/><rect x="306" y="368" width="3.3" height="3.3" fill="#3be62e"/><rect x="309" y="368" width="3.3" height="3.3" fill="#b1f112"/><rect x="312" y="368" width="3.3" height="3.3" fill="#f1fc03"/><rect x="315" y="368" width="6.3" height="3.3" fill="#fff008"/><rect x="321" y="368" width="3.3" height="3.3" fill="#ffff00"/><rect x="324" y="368" width="3.3" height="3.3" fill="#bff40f"/><rect x="285" y="371" width="3.3" height="3.3" fill="#0ca6c8"/><rect x="288" y="371" width="3.3" height="3.3" fill="#0ba8c4"/><rect x="291" y="371" width="3.3" height="3.3" fill="#0aacbc"/><rect x="294" y="371" width="3.3" height="3.3" fill="#09b2b0"/><rect x="297" y="371" width="3.3" height="3.3" fill="#07be94"/><rect x="300" y="371" width="3.3" height="3.3" fill="#02ce6c"/><rect x="303" y="371" width="3.3" height="3.3" fill="#17dd43"/><rect x="306" y="371" width="3.3" height="3.3" fill="#78eb1f"/><rect x="309" y="371" width="3.3" height="3.3" fill="#d4f80a"/><rect x="312" y="371" width="3.3" height="3.3" fill="#fff804"/><rect x="315" y="371" width="3.3" height="3.3" fill="#ffed0a"/><rect x="318" y="371" width="3.3" height="3.3" fill="#fff008"/><rect x="321" y="371" width="3.3" height="3.3" fill="#f1fc03"/><rect x="324" y="371" width="3.3" height="3.3" fill="#aaf014"/><rect x="285" y="374" width="3.3" height="3.3" fill="#0ca6c8"/><rect x="288" y="374" width="3.3" height="3.3" fill="#0baac0"/><rect x="291" y="374" width="3.3" height="3.3" fill="#0aaeb8"/><rect x="294" y="374" width="3.3" height="3.3" fill="#08b8a4"/><rect x="297" y="374" width="3.3" height="3.3" fill="#05c583"/><rect x="300" y="374" width="3.3" height="3.3" fill="#04d656"/><rect x="303" y="374" width="3.3" height="3.3" fill="#2ee531"/><rect x="306" y="374" width="3.3" height="3.3" fill="#b1f112"/><rect x="309" y="374" width="3.3" height="3.3" fill="#f1fc03"/><rect x="312" y="374" width="3.3" height="3.3" fill="#fff008"/><rect x="315" y="374" width="3.3" height="3.3" fill="#ffe90c"/><rect x="318" y="374" width="3.3" height="3.3" fill="#fff406"/><rect x="321" y="374" width="3.3" height="3.3" fill="#dcf908"/><rect x="282" y="377" width="3.3" height="3.3" fill="#0ca6c8"/><rect x="285" y="377" width="3.3" height="3.3" fill="#0ba8c4"/><rect x="288" y="377" width="3.3" height="3.3" fill="#0aacbc"/><rect x="291" y="377" width="3.3" height="3.3" fill="#09b2b0"/><rect x="294" y="377" width="3.3" height="3.3" fill="#07bc9a"/><rect x="297" y="377" width="3.3" height="3.3" fill="#02ce6c"/><rect x="300" y="377" width="3.3" height="3.3" fill="#17dd43"/><rect x="303" y="377" width="3.3" height="3.3" fill="#6cea22"/><rect x="306" y="377" width="3.3" height="3.3" fill="#cdf60c"/><rect x="309" y="377" width="3.3" height="3.3" fill="#fff804"/><rect x="312" y="377" width="6.3" height="3.3" fill="#ffe90c"/><rect x="318" y="377" width="3.3" height="3.3" fill="#fffb02"/><rect x="321" y="377" width="3.3" height="3.3" fill="#c6f50d"/><rect x="282" y="380" width="3.3" height="3.3" fill="#0ca6c8"/><rect x="285" y="380" width="3.3" height="3.3" fill="#0baac0"/><rect x="288" y="380" width="3.3" height="3.3" fill="#0aaeb8"/><rect x="291" y="380" width="3.3" height="3.3" fill="#09b6a8"/><rect x="294" y="380" width="3.3" height="3.3" fill="#05c583"/><rect x="297" y="380" width="3.3" height="3.3" fill="#04d656"/><rect x="300" y="380" width="3.3" height="3.3" fill="#26e334"/><rect x="303" y="380" width="3.3" height="3.3" fill="#aaf014"/><rect x="306" y="380" width="3.3" height="3.3" fill="#f1fc03"/><rect x="309" y="380" width="3.3" height="3.3" fill="#ffed0a"/><rect x="312" y="380" width="3.3" height="3.3" fill="#ffe210"/><rect x="315" y="380" width="3.3" height="3.3" fill="#ffe90c"/><rect x="318" y="380" width="3.3" height="3.3" fill="#f8fe02"/><rect x="279" y="383" width="3.3" height="3.3" fill="#0ca6c8"/><rect x="282" y="383" width="3.3" height="3.3" fill="#0ba8c4"/><rect x="285" y="383" width="3.3" height="3.3" fill="#0aacbc"/><rect x="288" y="383" width="3.3" height="3.3" fill="#09b2b0"/><rect x="291" y="383" width="3.3" height="3.3" fill="#07bc9a"/><rect x="294" y="383" width="3.3" height="3.3" fill="#03cb71"/><rect x="297" y="383" width="3.3" height="3.3" fill="#13dc47"/><rect x="300" y="383" width="3.3" height="3.3" fill="#60e925"/><rect x="303" y="383" width="3.3" height="3.3" fill="#cdf60c"/><rect x="306" y="383" width="3.3" height="3.3" fill="#fff804"/><rect x="309" y="383" width="3.3" height="3.3" fill="#ffe50e"/><rect x="312" y="383" width="3.3" height="3.3" fill="#ffe210"/><rect x="315" y="383" width="3.3" height="3.3" fill="#fff008"/><rect x="318" y="383" width="3.3" height="3.3" fill="#e3fa07"/><rect x="279" y="386" width="3.3" height="3.3" fill="#0ca6c8"/><rect x="282" y="386" width="3.3" height="3.3" fill="#0baac0"/><rect x="285" y="386" width="3.3" height="3.3" fill="#0aaeb8"/><rect x="288" y="386" width="3.3" height="3.3" fill="#09b6a8"/><rect x="291" y="386" width="3.3" height="3.3" fill="#05c389"/><rect x="294" y="386" width="3.3" height="3.3" fill="#00d45a"/><rect x="297" y="386" width="3.3" height="3.3" fill="#26e334"/><rect x="300" y="386" width="3.3" height="3.3" fill="#9eef17"/><rect x="303" y="386" width="3.3" height="3.3" fill="#f1fc03"/><rect x="306" y="386" width="3.3" height="3.3" fill="#ffed0a"/><rect x="309" y="386" width="3.3" height="3.3" fill="#ffde12"/><rect x="312" y="386" width="3.3" height="3.3" fill="#ffe210"/><rect x="315" y="386" width="3.3" height="3.3" fill="#fff406"/><rect x="318" y="386" width="3.3" height="3.3" fill="#cdf60c"/><rect x="276" y="389" width="3.3" height="3.3" fill="#0ca6c8"/><rect x="279" y="389" width="3.3" height="3.3" fill="#0ba8c4"/><rect x="282" y="389" width="3.3" height="3.3" fill="#0aacbc"/><rect x="285" y="389" width="3.3" height="3.3" fill="#09b2b0"/><rect x="288" y="389" width="3.3" height="3.3" fill="#07bc9a"/><rect x="291" y="389" width="3.3" height="3.3" fill="#03cb71"/><rect x="294" y="389" width="3.3" height="3.3" fill="#13dc47"/><rect x="297" y="389" width="3.3" height="3.3" fill="#60e925"/><rect x="300" y="389" width="3.3" height="3.3" fill="#c6f50d"/><rect x="303" y="389" width="3.3" height="3.3" fill="#fff804"/><rect x="306" y="389" width="3.3" height="3.3" fill="#ffe210"/><rect x="309" y="389" width="3.3" height="3.3" fill="#ffda14"/><rect x="312" y="389" width="3.3" height="3.3" fill="#ffe50e"/><rect x="315" y="389" width="3.3" height="3.3" fill="#ffff00"/><rect x="276" y="392" width="3.3" height="3.3" fill="#0ca6c8"/><rect x="279" y="392" width="3.3" height="3.3" fill="#0baac0"/><rect x="282" y="392" width="3.3" height="3.3" fill="#0aaeb8"/><rect x="285" y="392" width="3.3" height="3.3" fill="#09b6a8"/><rect x="288" y="392" width="3.3" height="3.3" fill="#05c389"/><rect x="291" y="392" width="3.3" height="3.3" fill="#00d45a"/><rect x="294" y="392" width="3.3" height="3.3" fill="#22e238"/><rect x="297" y="392" width="3.3" height="3.3" fill="#9eef17"/><rect x="300" y="392" width="3.3" height="3.3" fill="#eafb05"/><rect x="303" y="392" width="3.3" height="3.3" fill="#ffed0a"/><rect x="306" y="392" width="6.3" height="3.3" fill="#ffda14"/><rect x="312" y="392" width="3.3" height="3.3" fill="#ffe90c"/><rect x="315" y="392" width="3.3" height="3.3" fill="#f1fc03"/><rect x="273" y="395" width="3.3" height="3.3" fill="#0ca6c8"/><rect x="276" y="395" width="3.3" height="3.3" fill="#0ba8c4"/><rect x="279" y="395" width="3.3" height="3.3" fill="#0aacbc"/><rect x="282" y="395" width="3.3" height="3.3" fill="#09b2b0"/><rect x="285" y="395" width="3.3" height="3.3" fill="#07bc9a"/><rect x="288" y="395" width="3.3" height="3.3" fill="#03c977"/><rect x="291" y="395" width="3.3" height="3.3" fill="#0fda4b"/><rect x="294" y="395" width="3.3" height="3.3" fill="#53e828"/><rect x="297" y="395" width="3.3" height="3.3" fill="#c6f50d"/><rect x="300" y="395" width="3.3" height="3.3" fill="#fffb02"/><rect x="303" y="395" width="3.3" height="3.3" fill="#ffde12"/><rect x="306" y="395" width="3.3" height="3.3" fill="#ffd318"/><rect x="309" y="395" width="3.3" height="3.3" fill="#ffda14"/><rect x="312" y="395" width="3.3" height="3.3" fill="#fff008"/><rect x="315" y="395" width="3.3" height="3.3" fill="#dcf908"/><rect x="270" y="398" width="3.3" height="3.3" fill="#0ca6c8"/><rect x="273" y="398" width="3.3" height="3.3" fill="#0ba8c4"/><rect x="276" y="398" width="3.3" height="3.3" fill="#0baac0"/><rect x="279" y="398" width="3.3" height="3.3" fill="#0aaeb8"/><rect x="282" y="398" width="3.3" height="3.3" fill="#09b6a8"/><rect x="285" y="398" width="3.3" height="3.3" fill="#05c389"/><rect x="288" y="398" width="3.3" height="3.3" fill="#01d260"/><rect x="291" y="398" width="3.3" height="3.3" fill="#22e238"/><rect x="294" y="398" width="3.3" height="3.3" fill="#91ee1a"/><rect x="297" y="398" width="3.3" height="3.3" fill="#eafb05"/><rect x="300" y="398" width="3.3" height="3.3" fill="#ffed0a"/><rect x="303" y="398" width="3.3" height="3.3" fill="#ffd716"/><rect x="306" y="398" width="3.3" height="3.3" fill="#ffd318"/><rect x="309" y="398" width="3.3" height="3.3" fill="#ffde12"/><rect x="312" y="398" width="3.3" height="3.3" fill="#fff804"/><rect x="264" y="401" width="3.3" height="3.3" fill="#0ca6c8"/><rect x="267" y="401" width="6.3" height="3.3" fill="#0ba8c4"/><rect x="273" y="401" width="3.3" height="3.3" fill="#0aacbc"/><rect x="276" y="401" width="3.3" height="3.3" fill="#0aaeb8"/><rect x="279" y="401" width="3.3" height="3.3" fill="#09b4ac"/><rect x="282" y="401" width="3.3" height="3.3" fill="#07bc9a"/><rect x="285" y="401" width="3.3" height="3.3" fill="#03c977"/><rect x="288" y="401" width="3.3" height="3.3" fill="#0fda4b"/><rect x="291" y="401" width="3.3" height="3.3" fill="#47e72b"/><rect x="294" y="401" width="3.3" height="3.3" fill="#bff40f"/><rect x="297" y="401" width="3.3" height="3.3" fill="#fffb02"/><rect x="300" y="401" width="3.3" height="3.3" fill="#ffde12"/><rect x="303" y="401" width="3.3" height="3.3" fill="#ffcf1a"/><rect x="306" y="401" width="3.3" height="3.3" fill="#ffd318"/><rect x="309" y="401" width="3.3" height="3.3" fill="#ffe50e"/><rect x="312" y="401" width="3.3" height="3.3" fill="#f8fe02"/><rect x="261" y="404" width="3.3" height="3.3" fill="#0ca6c8"/><rect x="264" y="404" width="3.3" height="3.3" fill="#0ba8c4"/><rect x="267" y="404" width="3.3" height="3.3" fill="#0baac0"/><rect x="270" y="404" width="3.3" height="3.3" fill="#0aacbc"/><rect x="273" y="404" width="3.3" height="3.3" fill="#0ab0b4"/><rect x="276" y="404" width="3.3" height="3.3" fill="#09b6a8"/><rect x="279" y="404" width="3.3" height="3.3" fill="#07bc9a"/><rect x="282" y="404" width="3.3" height="3.3" fill="#05c583"/><rect x="285" y="404" width="3.3" height="3.3" fill="#01d260"/><rect x="288" y="404" width="3.3" height="3.3" fill="#1ee03c"/><rect x="291" y="404" width="3.3" height="3.3" fill="#85ed1d"/><rect x="294" y="404" width="3.3" height="3.3" fill="#e3fa07"/><rect x="297" y="404" width="3.3" height="3.3" fill="#ffed0a"/><rect x="300" y="404" width="3.3" height="3.3" fill="#ffd318"/><rect x="303" y="404" width="3.3" height="3.3" fill="#ffcc1c"/><rect x="306" y="404" width="3.3" height="3.3" fill="#ffd318"/><rect x="309" y="404" width="3.3" height="3.3" fill="#ffed0a"/><rect x="255" y="407" width="6.3" height="3.3" fill="#0ca6c8"/><rect x="261" y="407" width="3.3" height="3.3" fill="#0ba8c4"/><rect x="264" y="407" width="3.3" height="3.3" fill="#0aacbc"/><rect x="267" y="407" width="3.3" height="3.3" fill="#0aaeb8"/><rect x="270" y="407" width="3.3" height="3.3" fill="#09b2b0"/><rect x="273" y="407" width="3.3" height="3.3" fill="#08b8a4"/><rect x="276" y="407" width="3.3" height="3.3" fill="#06c08e"/><rect x="279" y="407" width="3.3" height="3.3" fill="#03c977"/><rect x="282" y="407" width="3.3" height="3.3" fill="#00d45a"/><rect x="285" y="407" width="3.3" height="3.3" fill="#13dc47"/><rect x="288" y="407" width="3.3" height="3.3" fill="#47e72b"/><rect x="291" y="407" width="3.3" height="3.3" fill="#bff40f"/><rect x="294" y="407" width="3.3" height="3.3" fill="#fffb02"/><rect x="297" y="407" width="3.3" height="3.3" fill="#ffde12"/><rect x="300" y="407" width="3.3" height="3.3" fill="#ffcc1c"/><rect x="303" y="407" width="3.3" height="3.3" fill="#ffc81e"/><rect x="306" y="407" width="3.3" height="3.3" fill="#ffd716"/><rect x="309" y="407" width="3.3" height="3.3" fill="#fff406"/><rect x="255" y="410" width="3.3" height="3.3" fill="#0ba8c4"/><rect x="258" y="410" width="3.3" height="3.3" fill="#0baac0"/><rect x="261" y="410" width="3.3" height="3.3" fill="#0aacbc"/><rect x="264" y="410" width="3.3" height="3.3" fill="#0ab0b4"/><rect x="267" y="410" width="3.3" height="3.3" fill="#09b6a8"/><rect x="270" y="410" width="3.3" height="3.3" fill="#07bc9a"/><rect x="273" y="410" width="3.3" height="3.3" fill="#05c583"/><rect x="276" y="410" width="3.3" height="3.3" fill="#02ce6c"/><rect x="279" y="410" width="3.3" height="3.3" fill="#08d752"/><rect x="282" y="410" width="3.3" height="3.3" fill="#1ee03c"/><rect x="285" y="410" width="3.3" height="3.3" fill="#53e828"/><rect x="288" y="410" width="3.3" height="3.3" fill="#aaf014"/><rect x="291" y="410" width="3.3" height="3.3" fill="#dcf908"/><rect x="294" y="410" width="3.3" height="3.3" fill="#ffed0a"/><rect x="297" y="410" width="3.3" height="3.3" fill="#ffd318"/><rect x="300" y="410" width="3.3" height="3.3" fill="#ffc41f"/><rect x="303" y="410" width="3.3" height="3.3" fill="#ffcc1c"/><rect x="306" y="410" width="3.3" height="3.3" fill="#ffde12"/><rect x="309" y="410" width="3.3" height="3.3" fill="#ffff00"/><rect x="255" y="413" width="3.3" height="3.3" fill="#0ba8c4"/><rect x="258" y="413" width="3.3" height="3.3" fill="#0aaeb8"/><rect x="261" y="413" width="3.3" height="3.3" fill="#09b2b0"/><rect x="264" y="413" width="3.3" height="3.3" fill="#08b8a4"/><rect x="267" y="413" width="3.3" height="3.3" fill="#06c08e"/><rect x="270" y="413" width="3.3" height="3.3" fill="#03c977"/><rect x="273" y="413" width="3.3" height="3.3" fill="#00d45a"/><rect x="276" y="413" width="3.3" height="3.3" fill="#13dc47"/><rect x="279" y="413" width="3.3" height="3.3" fill="#2ee531"/><rect x="282" y="413" width="3.3" height="3.3" fill="#85ed1d"/><rect x="285" y="413" width="3.3" height="3.3" fill="#bff40f"/><rect x="288" y="413" width="3.3" height="3.3" fill="#eafb05"/><rect x="291" y="413" width="3.3" height="3.3" fill="#fff406"/><rect x="294" y="413" width="3.3" height="3.3" fill="#ffde12"/><rect x="297" y="413" width="3.3" height="3.3" fill="#ffc81e"/><rect x="300" y="413" width="3.3" height="3.3" fill="#ffc41f"/><rect x="303" y="413" width="3.3" height="3.3" fill="#ffcc1c"/><rect x="306" y="413" width="3.3" height="3.3" fill="#ffe50e"/><rect x="255" y="416" width="3.3" height="3.3" fill="#0ca6c8"/><rect x="258" y="416" width="3.3" height="3.3" fill="#09b4ac"/><rect x="261" y="416" width="3.3" height="3.3" fill="#07bc9a"/><rect x="264" y="416" width="3.3" height="3.3" fill="#05c389"/><rect x="267" y="416" width="3.3" height="3.3" fill="#02ce6c"/><rect x="270" y="416" width="3.3" height="3.3" fill="#08d752"/><rect x="273" y="416" width="3.3" height="3.3" fill="#1ee03c"/><rect x="276" y="416" width="3.3" height="3.3" fill="#53e828"/><rect x="279" y="416" width="3.3" height="3.3" fill="#aaf014"/><rect x="282" y="416" width="3.3" height="3.3" fill="#d4f80a"/><rect x="285" y="416" width="3.3" height="3.3" fill="#ffff00"/><rect x="288" y="416" width="3.3" height="3.3" fill="#ffe90c"/><rect x="291" y="416" width="3.3" height="3.3" fill="#ffda14"/><rect x="294" y="416" width="3.3" height="3.3" fill="#ffcc1c"/><rect x="297" y="416" width="6.3" height="3.3" fill="#ffc01f"/><rect x="303" y="416" width="3.3" height="3.3" fill="#ffd318"/><rect x="306" y="416" width="3.3" height="3.3" fill="#fff008"/><rect x="258" y="419" width="3.3" height="3.3" fill="#09b2b0"/><rect x="261" y="419" width="3.3" height="3.3" fill="#03c977"/><rect x="264" y="419" width="3.3" height="3.3" fill="#01d260"/><rect x="267" y="419" width="3.3" height="3.3" fill="#13dc47"/><rect x="270" y="419" width="3.3" height="3.3" fill="#2ee531"/><rect x="273" y="419" width="3.3" height="3.3" fill="#78eb1f"/><rect x="276" y="419" width="3.3" height="3.3" fill="#b8f211"/><rect x="279" y="419" width="3.3" height="3.3" fill="#eafb05"/><rect x="282" y="419" width="3.3" height="3.3" fill="#fff804"/><rect x="285" y="419" width="3.3" height="3.3" fill="#ffe50e"/><rect x="288" y="419" width="3.3" height="3.3" fill="#ffd716"/><rect x="291" y="419" width="3.3" height="3.3" fill="#ffcc1c"/><rect x="294" y="419" width="6.3" height="3.3" fill="#ffc41f"/><rect x="300" y="419" width="3.3" height="3.3" fill="#ffc81e"/><rect x="303" y="419" width="3.3" height="3.3" fill="#ffde12"/><rect x="306" y="419" width="3.3" height="3.3" fill="#fffb02"/><rect x="258" y="422" width="3.3" height="3.3" fill="#0baac0"/><rect x="261" y="422" width="3.3" height="3.3" fill="#02ce6c"/><rect x="264" y="422" width="3.3" height="3.3" fill="#1ee03c"/><rect x="267" y="422" width="3.3" height="3.3" fill="#53e828"/><rect x="270" y="422" width="3.3" height="3.3" fill="#9eef17"/><rect x="273" y="422" width="3.3" height="3.3" fill="#cdf60c"/><rect x="276" y="422" width="3.3" height="3.3" fill="#f8fe02"/><rect x="279" y="422" width="3.3" height="3.3" fill="#fff008"/><rect x="282" y="422" width="3.3" height="3.3" fill="#ffde12"/><rect x="285" y="422" width="3.3" height="3.3" fill="#ffd318"/><rect x="288" y="422" width="3.3" height="3.3" fill="#ffcc1c"/><rect x="291" y="422" width="3.3" height="3.3" fill="#ffc81e"/><rect x="294" y="422" width="3.3" height="3.3" fill="#ffcc1c"/><rect x="297" y="422" width="3.3" height="3.3" fill="#ffd318"/><rect x="300" y="422" width="3.3" height="3.3" fill="#ffde12"/><rect x="303" y="422" width="3.3" height="3.3" fill="#fff008"/><rect x="261" y="425" width="3.3" height="3.3" fill="#06c08e"/><rect x="264" y="425" width="3.3" height="3.3" fill="#78eb1f"/><rect x="267" y="425" width="3.3" height="3.3" fill="#b8f211"/><rect x="270" y="425" width="3.3" height="3.3" fill="#e3fa07"/><rect x="273" y="425" width="3.3" height="3.3" fill="#fffb02"/><rect x="276" y="425" width="3.3" height="3.3" fill="#ffe90c"/><rect x="279" y="425" width="3.3" height="3.3" fill="#ffde12"/><rect x="282" y="425" width="3.3" height="3.3" fill="#ffd318"/><rect x="285" y="425" width="6.3" height="3.3" fill="#ffcf1a"/><rect x="291" y="425" width="3.3" height="3.3" fill="#ffd716"/><rect x="294" y="425" width="3.3" height="3.3" fill="#ffde12"/><rect x="297" y="425" width="3.3" height="3.3" fill="#ffed0a"/><rect x="300" y="425" width="3.3" height="3.3" fill="#fffb02"/><rect x="261" y="428" width="3.3" height="3.3" fill="#0ca6c8"/><rect x="264" y="428" width="3.3" height="3.3" fill="#26e334"/><rect x="267" y="428" width="3.3" height="3.3" fill="#f1fc03"/><rect x="270" y="428" width="3.3" height="3.3" fill="#fff406"/><rect x="273" y="428" width="3.3" height="3.3" fill="#ffe50e"/><rect x="276" y="428" width="3.3" height="3.3" fill="#ffde12"/><rect x="279" y="428" width="6.3" height="3.3" fill="#ffd716"/><rect x="285" y="428" width="3.3" height="3.3" fill="#ffda14"/><rect x="288" y="428" width="3.3" height="3.3" fill="#ffe210"/><rect x="291" y="428" width="3.3" height="3.3" fill="#fff008"/><rect x="294" y="428" width="3.3" height="3.3" fill="#ffff00"/><rect x="264" y="431" width="3.3" height="3.3" fill="#05c583"/><rect x="267" y="431" width="3.3" height="3.3" fill="#fffb02"/><rect x="270" y="431" width="3.3" height="3.3" fill="#ffe50e"/><rect x="273" y="431" width="9.3" height="3.3" fill="#ffde12"/><rect x="282" y="431" width="3.3" height="3.3" fill="#ffe50e"/><rect x="285" y="431" width="3.3" height="3.3" fill="#fff008"/><rect x="288" y="431" width="3.3" height="3.3" fill="#ffff00"/><rect x="267" y="434" width="3.3" height="3.3" fill="#3be62e"/><rect x="270" y="434" width="3.3" height="3.3" fill="#ffe210"/><rect x="273" y="434" width="3.3" height="3.3" fill="#ffe50e"/><rect x="276" y="434" width="3.3" height="3.3" fill="#ffe90c"/><rect x="279" y="434" width="3.3" height="3.3" fill="#fff406"/><rect x="282" y="434" width="3.3" height="3.3" fill="#ffff00"/><rect x="267" y="437" width="3.3" height="3.3" fill="#08baa0"/><rect x="270" y="437" width="3.3" height="3.3" fill="#dcf908"/><rect x="273" y="437" width="3.3" height="3.3" fill="#fff804"/><rect x="276" y="437" width="3.3" height="3.3" fill="#f8fe02"/><rect x="279" y="437" width="3.3" height="3.3" fill="#dcf908"/><rect x="270" y="440" width="3.3" height="3.3" fill="#04d656"/><rect x="273" y="440" width="3.3" height="3.3" fill="#d4f80a"/></g></g>
</g>
<rect x="110.2" y="425.4" width="124.2" height="97.9" fill="none" stroke="#111" stroke-width="1"/>
<ellipse cx="151.4" cy="480.4" rx="21.4" ry="24" fill="none" stroke="#b03a3a" stroke-width="1.2" transform="rotate(-10 151.4 480.4)"/>
<ellipse cx="195.5" cy="454.7" rx="19.5" ry="12.5" fill="none" stroke="#b03a3a" stroke-width="1.2" transform="rotate(-22 195.5 454.7)"/>
<rect x="254.9" y="498" width="10.8" height="60.2" fill="url(#gcc)"/>
<line x1="264.5" y1="498.0" x2="271" y2="498.0" stroke="#333" stroke-width="1"/>
<text x="275.3" y="501.6" font-size="10" fill="#464672">5.</text>
<line x1="264.5" y1="528.1" x2="271" y2="528.1" stroke="#333" stroke-width="1"/>
<text x="275.3" y="531.7" font-size="10" fill="#464672">2.</text>
<line x1="264.5" y1="558.2" x2="271" y2="558.2" stroke="#333" stroke-width="1"/>
<text x="275.3" y="561.8" font-size="10" fill="#464672">-1.</text>
<text x="0" y="0" font-size="10.5" fill="#464672" text-anchor="middle" textLength="32.5" lengthAdjust="spacingAndGlyphs" transform="translate(307.8,527) rotate(-90)">UD(m)</text>
<line x1="341.3" y1="301.6" x2="341.3" y2="603" stroke="#efebea" stroke-width="1"/>
<rect x="410.5" y="305.5" width="267.7" height="261.5" fill="none" stroke="#3a3a3a" stroke-width="1"/>
<line x1="403.8" y1="554.1" x2="417.5" y2="554.1" stroke="#3a3a3a" stroke-width="1"/>
<text x="403.6" y="557.8" font-size="10" fill="#333" text-anchor="end">-20</text>
<line x1="403.8" y1="520.4" x2="417.5" y2="520.4" stroke="#3a3a3a" stroke-width="1"/>
<text x="403.6" y="524.0" font-size="10" fill="#333" text-anchor="end">0</text>
<line x1="403.8" y1="486.6" x2="417.5" y2="486.6" stroke="#3a3a3a" stroke-width="1"/>
<text x="403.6" y="490.2" font-size="10" fill="#333" text-anchor="end">20</text>
<line x1="403.8" y1="452.9" x2="417.5" y2="452.9" stroke="#3a3a3a" stroke-width="1"/>
<text x="403.6" y="456.5" font-size="10" fill="#333" text-anchor="end">40</text>
<line x1="403.8" y1="419.1" x2="417.5" y2="419.1" stroke="#3a3a3a" stroke-width="1"/>
<text x="403.6" y="422.8" font-size="10" fill="#333" text-anchor="end">60</text>
<line x1="403.8" y1="385.4" x2="417.5" y2="385.4" stroke="#3a3a3a" stroke-width="1"/>
<text x="403.6" y="389.0" font-size="10" fill="#333" text-anchor="end">80</text>
<line x1="403.8" y1="351.6" x2="417.5" y2="351.6" stroke="#3a3a3a" stroke-width="1"/>
<text x="403.6" y="355.2" font-size="10" fill="#333" text-anchor="end">100</text>
<line x1="403.8" y1="317.9" x2="417.5" y2="317.9" stroke="#3a3a3a" stroke-width="1"/>
<text x="403.6" y="321.5" font-size="10" fill="#333" text-anchor="end">120</text>
<line x1="439.1" y1="560.3" x2="439.1" y2="570.5" stroke="#3a3a3a" stroke-width="1"/>
<text x="439.1" y="582.0" font-size="10" fill="#464672" text-anchor="middle">0</text>
<line x1="472.9" y1="560.3" x2="472.9" y2="570.5" stroke="#3a3a3a" stroke-width="1"/>
<text x="472.9" y="582.0" font-size="10" fill="#464672" text-anchor="middle">20</text>
<line x1="506.6" y1="560.3" x2="506.6" y2="570.5" stroke="#3a3a3a" stroke-width="1"/>
<text x="506.6" y="582.0" font-size="10" fill="#464672" text-anchor="middle">40</text>
<line x1="540.4" y1="560.3" x2="540.4" y2="570.5" stroke="#3a3a3a" stroke-width="1"/>
<text x="540.4" y="582.0" font-size="10" fill="#464672" text-anchor="middle">60</text>
<line x1="574.1" y1="560.3" x2="574.1" y2="570.5" stroke="#3a3a3a" stroke-width="1"/>
<text x="574.1" y="582.0" font-size="10" fill="#464672" text-anchor="middle">80</text>
<line x1="607.9" y1="560.3" x2="607.9" y2="570.5" stroke="#3a3a3a" stroke-width="1"/>
<text x="607.9" y="582.0" font-size="10" fill="#464672" text-anchor="middle">100</text>
<line x1="641.6" y1="560.3" x2="641.6" y2="570.5" stroke="#3a3a3a" stroke-width="1"/>
<text x="641.6" y="582.0" font-size="10" fill="#464672" text-anchor="middle">120</text>
<line x1="675.4" y1="560.3" x2="675.4" y2="570.5" stroke="#3a3a3a" stroke-width="1"/>
<text x="675.4" y="582.0" font-size="10" fill="#464672" text-anchor="middle">140</text>
<text x="514.0" y="595.3" font-size="10.5" fill="#333" textLength="61" lengthAdjust="spacingAndGlyphs">Easting(km)</text>
<text x="346.0" y="439.4" font-size="10" fill="#464672" textLength="43.5" lengthAdjust="spacingAndGlyphs">Northing</text>
<text x="423.4" y="324.5" font-size="13" fill="#4a4a5a" textLength="17" lengthAdjust="spacingAndGlyphs">(d)</text>
<g id="ttsfd" clip-path="url(#cttd)"><g filter="url(#b1)"><polygon points="603.4,418.9 609.2,415.5 610.2,417.4 604.4,420.8" fill="#3c46a7"/><polygon points="604.3,420.6 610.1,417.2 611.2,419.1 605.4,422.5" fill="#406cd8"/><polygon points="605.2,422.2 611.1,418.9 612.2,420.8 606.3,424.1" fill="#3f71dc"/><polygon points="606.2,423.9 612.0,420.5 613.1,422.4 607.3,425.8" fill="#3f71dc"/><polygon points="607.2,425.5 613.0,422.2 614.0,424.1 608.2,427.4" fill="#3f71dc"/><polygon points="608.1,427.2 613.9,423.8 615.0,425.7 609.2,429.1" fill="#3f71dc"/><polygon points="609.0,428.9 614.9,425.5 616.0,427.4 610.1,430.8" fill="#3f71dc"/><polygon points="610.0,430.5 615.8,427.2 616.9,429.1 611.1,432.4" fill="#3f71dc"/><polygon points="611.0,432.2 616.8,428.8 617.9,430.7 612.0,434.1" fill="#3f71dc"/><polygon points="611.9,433.8 617.7,430.5 618.8,432.4 613.0,435.7" fill="#3f71dc"/><polygon points="608.4,416.0 614.2,412.6 615.3,414.5 609.5,417.9" fill="#3c46a7"/><polygon points="609.4,417.6 615.2,414.3 616.2,416.2 610.4,419.5" fill="#406cd8"/><polygon points="610.3,419.3 616.1,415.9 617.2,417.9 611.4,421.2" fill="#3f71dc"/><polygon points="611.2,421.0 617.1,417.6 618.2,419.5 612.3,422.9" fill="#3f71dc"/><polygon points="612.2,422.6 618.0,419.3 619.1,421.2 613.3,424.5" fill="#3f71dc"/><polygon points="613.2,424.3 619.0,420.9 620.0,422.8 614.2,426.2" fill="#3f71dc"/><polygon points="614.1,425.9 619.9,422.6 621.0,424.5 615.2,427.8" fill="#3f71dc"/><polygon points="615.0,427.6 620.9,424.2 622.0,426.2 616.1,429.5" fill="#3f71dc"/><polygon points="616.0,429.3 621.8,425.9 622.9,427.8 617.1,431.2" fill="#3f71dc"/><polygon points="617.0,430.9 622.8,427.6 623.9,429.5 618.0,432.8" fill="#3f71dc"/><polygon points="613.5,413.1 619.3,409.7 620.3,411.6 614.5,415.0" fill="#3e50b7"/><polygon points="614.4,414.7 620.2,411.4 621.3,413.3 615.5,416.6" fill="#3e7ce3"/><polygon points="615.4,416.4 621.2,413.0 622.2,414.9 616.4,418.3" fill="#3d80e5"/><polygon points="616.3,418.0 622.1,414.7 623.2,416.6 617.4,419.9" fill="#3d80e5"/><polygon points="617.2,419.7 623.1,416.3 624.1,418.3 618.3,421.6" fill="#3d80e5"/><polygon points="618.2,421.4 624.0,418.0 625.1,419.9 619.3,423.3" fill="#3d80e5"/><polygon points="619.2,423.0 625.0,419.7 626.0,421.6 620.2,424.9" fill="#3d80e5"/><polygon points="620.1,424.7 625.9,421.3 627.0,423.2 621.2,426.6" fill="#3d80e5"/><polygon points="621.1,426.3 626.9,423.0 628.0,424.9 622.1,428.2" fill="#3d80e5"/><polygon points="622.0,428.0 627.8,424.6 628.9,426.6 623.1,429.9" fill="#3d80e5"/><polygon points="618.5,410.1 624.3,406.8 625.4,408.7 619.6,412.1" fill="#3f75df"/><polygon points="619.5,411.8 625.3,408.5 626.3,410.4 620.5,413.7" fill="#1bb7c4"/><polygon points="620.4,413.5 626.2,410.1 627.3,412.0 621.5,415.4" fill="#18bdbd"/><polygon points="621.4,415.1 627.2,411.8 628.2,413.7 622.4,417.0" fill="#18bdbd"/><polygon points="622.3,416.8 628.1,413.4 629.2,415.3 623.4,418.7" fill="#18bdbd"/><polygon points="623.2,418.4 629.1,415.1 630.1,417.0 624.3,420.4" fill="#18bdbd"/><polygon points="624.2,420.1 630.0,416.8 631.1,418.7 625.3,422.0" fill="#18bdbd"/><polygon points="625.1,421.8 631.0,418.4 632.0,420.3 626.2,423.7" fill="#18bdbd"/><polygon points="626.1,423.4 631.9,420.1 633.0,422.0 627.2,425.3" fill="#18bdbd"/><polygon points="627.0,425.1 632.9,421.7 634.0,423.6 628.1,427.0" fill="#18bdbd"/><polygon points="623.5,407.2 629.4,403.9 630.5,405.8 624.6,409.1" fill="#28a5d8"/><polygon points="624.5,408.9 630.3,405.5 631.4,407.4 625.6,410.8" fill="#54e364"/><polygon points="625.5,410.5 631.3,407.2 632.4,409.1 626.5,412.5" fill="#66e456"/><polygon points="626.4,412.2 632.2,408.9 633.3,410.8 627.5,414.1" fill="#66e456"/><polygon points="627.4,413.9 633.2,410.5 634.2,412.4 628.4,415.8" fill="#66e456"/><polygon points="628.3,415.5 634.1,412.2 635.2,414.1 629.4,417.4" fill="#66e456"/><polygon points="629.2,417.2 635.1,413.8 636.1,415.7 630.3,419.1" fill="#66e456"/><polygon points="630.2,418.8 636.0,415.5 637.1,417.4 631.3,420.8" fill="#66e456"/><polygon points="631.2,420.5 637.0,417.2 638.0,419.1 632.2,422.4" fill="#66e456"/><polygon points="632.1,422.2 637.9,418.8 639.0,420.7 633.2,424.1" fill="#66e456"/><polygon points="628.6,404.3 634.4,401.0 635.5,402.9 629.7,406.2" fill="#15c8ad"/><polygon points="629.5,406.0 635.4,402.6 636.5,404.5 630.6,407.9" fill="#b2d82f"/><polygon points="630.5,407.6 636.3,404.3 637.4,406.2 631.6,409.5" fill="#bfd030"/><polygon points="631.5,409.3 637.3,405.9 638.4,407.8 632.5,411.2" fill="#bfd030"/><polygon points="632.4,411.0 638.2,407.6 639.3,409.5 633.5,412.9" fill="#bfd030"/><polygon points="633.4,412.6 639.2,409.3 640.2,411.2 634.4,414.5" fill="#bfd030"/><polygon points="634.3,414.3 640.1,410.9 641.2,412.8 635.4,416.2" fill="#bfd030"/><polygon points="635.2,415.9 641.1,412.6 642.2,414.5 636.3,417.8" fill="#bfd030"/><polygon points="636.2,417.6 642.0,414.2 643.1,416.1 637.3,419.5" fill="#bfd030"/><polygon points="637.2,419.3 643.0,415.9 644.0,417.8 638.2,421.2" fill="#bfd030"/><polygon points="633.8,401.9 638.0,391.0 639.1,392.9 634.8,403.8" fill="#17cca6"/><polygon points="634.7,403.5 639.0,392.6 640.1,394.5 635.8,405.5" fill="#bbd32f"/><polygon points="635.7,405.2 639.9,394.3 641.0,396.2 636.7,407.1" fill="#c7ca31"/><polygon points="636.6,406.9 640.9,396.0 641.9,397.9 637.7,408.8" fill="#c7ca31"/><polygon points="637.6,408.5 641.8,397.6 642.9,399.5 638.6,410.4" fill="#c7ca31"/><polygon points="638.5,410.2 642.7,399.3 643.8,401.2 639.6,412.1" fill="#c7ca31"/><polygon points="639.5,411.8 643.7,400.9 644.8,402.8 640.5,413.8" fill="#c7ca31"/><polygon points="640.4,413.5 644.6,402.6 645.7,404.5 641.5,415.4" fill="#c7ca31"/><polygon points="641.4,415.2 645.6,404.2 646.7,406.1 642.4,417.1" fill="#c7ca31"/><polygon points="642.3,416.8 646.5,405.9 647.6,407.8 643.4,418.7" fill="#c7ca31"/><polygon points="637.5,392.4 641.7,381.5 642.8,383.4 638.6,394.3" fill="#16c3b4"/><polygon points="638.4,394.1 642.7,383.2 643.8,385.1 639.5,396.0" fill="#a7dd2f"/><polygon points="639.4,395.7 643.6,384.8 644.7,386.7 640.4,397.6" fill="#b4d72f"/><polygon points="640.3,397.4 644.6,386.5 645.6,388.4 641.4,399.3" fill="#b4d72f"/><polygon points="641.2,399.0 645.5,388.1 646.6,390.0 642.3,400.9" fill="#b4d72f"/><polygon points="642.2,400.7 646.4,389.8 647.5,391.7 643.3,402.6" fill="#b4d72f"/><polygon points="643.1,402.3 647.4,391.4 648.4,393.3 644.2,404.3" fill="#b4d72f"/><polygon points="644.1,404.0 648.3,393.1 649.4,395.0 645.2,405.9" fill="#b4d72f"/><polygon points="645.0,405.7 649.2,394.7 650.3,396.6 646.1,407.6" fill="#b4d72f"/><polygon points="646.0,407.3 650.2,396.4 651.2,398.3 647.0,409.2" fill="#b4d72f"/><polygon points="641.2,382.9 645.5,372.0 646.5,373.9 642.3,384.8" fill="#18bdbd"/><polygon points="642.1,384.6 646.4,373.7 647.5,375.6 643.2,386.5" fill="#94e336"/><polygon points="643.1,386.2 647.3,375.3 648.4,377.2 644.1,388.1" fill="#a2df30"/><polygon points="644.0,387.9 648.2,377.0 649.3,378.9 645.1,389.8" fill="#a2df30"/><polygon points="644.9,389.5 649.2,378.6 650.2,380.5 646.0,391.4" fill="#a2df30"/><polygon points="645.9,391.2 650.1,380.3 651.2,382.2 646.9,393.1" fill="#a2df30"/><polygon points="646.8,392.8 651.0,381.9 652.1,383.8 647.9,394.7" fill="#a2df30"/><polygon points="647.7,394.5 652.0,383.6 653.0,385.5 648.8,396.4" fill="#a2df30"/><polygon points="648.7,396.1 652.9,385.2 654.0,387.1 649.8,398.1" fill="#a2df30"/><polygon points="649.6,397.8 653.8,386.9 654.9,388.8 650.7,399.7" fill="#a2df30"/><polygon points="644.9,373.4 649.2,362.5 650.2,364.4 646.0,375.3" fill="#1ab9c2"/><polygon points="645.8,375.1 650.1,364.2 651.2,366.1 646.9,377.0" fill="#8fe438"/><polygon points="646.8,376.7 651.0,365.8 652.1,367.7 647.8,378.6" fill="#9be132"/><polygon points="647.7,378.4 651.9,367.5 653.0,369.4 648.8,380.3" fill="#9be132"/><polygon points="648.6,380.0 652.9,369.1 653.9,371.0 649.7,381.9" fill="#9be132"/><polygon points="649.6,381.7 653.8,370.8 654.9,372.7 650.6,383.6" fill="#9be132"/><polygon points="650.5,383.3 654.7,372.4 655.8,374.3 651.6,385.2" fill="#9be132"/><polygon points="651.4,385.0 655.6,374.1 656.7,376.0 652.5,386.9" fill="#9be132"/><polygon points="652.3,386.6 656.6,375.7 657.6,377.6 653.4,388.5" fill="#9be132"/><polygon points="653.3,388.3 657.5,377.3 658.5,379.2 654.3,390.2" fill="#9be132"/><polygon points="648.6,364.0 652.9,353.0 653.9,354.9 649.7,365.8" fill="#1ab9c2"/><polygon points="649.5,365.6 653.8,354.7 654.9,356.6 650.6,367.5" fill="#8ce43a"/><polygon points="650.5,367.2 654.7,356.3 655.8,358.2 651.5,369.1" fill="#9be132"/><polygon points="651.4,368.9 655.6,358.0 656.7,359.9 652.5,370.8" fill="#9be132"/><polygon points="652.3,370.5 656.6,359.6 657.6,361.5 653.4,372.4" fill="#9be132"/><polygon points="653.2,372.2 657.5,361.3 658.5,363.2 654.3,374.1" fill="#9be132"/><polygon points="654.2,373.8 658.4,362.9 659.4,364.8 655.2,375.7" fill="#9be132"/><polygon points="655.1,375.5 659.3,364.6 660.4,366.4 656.1,377.4" fill="#9be132"/><polygon points="656.0,377.1 660.2,366.2 661.3,368.1 657.1,379.0" fill="#9be132"/><polygon points="656.9,378.8 661.1,367.8 662.2,369.7 658.0,380.7" fill="#9be132"/><polygon points="652.3,354.5 656.6,343.6 657.7,345.5 653.4,356.4" fill="#1ab9c2"/><polygon points="653.3,356.1 657.5,345.2 658.6,347.1 654.3,358.0" fill="#8ce43a"/><polygon points="654.2,357.8 658.4,346.8 659.5,348.7 655.2,359.6" fill="#9be132"/><polygon points="655.1,359.4 659.3,348.5 660.4,350.4 656.1,361.3" fill="#9be132"/><polygon points="656.0,361.0 660.2,350.1 661.3,352.0 657.1,362.9" fill="#9be132"/><polygon points="656.9,362.7 661.2,351.8 662.2,353.7 658.0,364.6" fill="#9be132"/><polygon points="657.8,364.3 662.1,353.4 663.1,355.3 658.9,366.2" fill="#9be132"/><polygon points="658.8,366.0 663.0,355.0 664.0,356.9 659.8,367.9" fill="#9be132"/><polygon points="659.7,367.6 663.9,356.7 664.9,358.6 660.7,369.5" fill="#9be132"/><polygon points="660.6,369.3 664.8,358.3 665.8,360.2 661.6,371.2" fill="#9be132"/></g><polyline points="603.8,418.8 634.1,401.3 656.4,344.4" fill="none" stroke="#3a6ae8" stroke-width="1.6" opacity="0.85"/><polyline points="656.4,344.4 665.5,360.8" fill="none" stroke="#3a6ae8" stroke-width="1.6" opacity="0.85"/></g>
<g clip-path="url(#cribd)"><g filter="url(#b1)"><polygon points="439.8,520.9 442.5,517.4 444.0,519.1 441.3,522.7" fill="#326abc"/><polygon points="441.1,522.4 443.9,518.9 445.4,520.7 442.6,524.2" fill="#345fb6"/><polygon points="442.4,523.9 445.2,520.5 446.7,522.2 443.9,525.7" fill="#3455ae"/><polygon points="443.7,525.5 446.5,522.0 448.1,523.8 445.2,527.2" fill="#344fa8"/><polygon points="445.0,527.0 447.9,523.6 449.4,525.3 446.6,528.7" fill="#344ea6"/><polygon points="446.4,528.5 449.2,525.1 450.8,526.9 447.9,530.2" fill="#344ea6"/><polygon points="447.7,530.0 450.6,526.7 452.1,528.4 449.2,531.7" fill="#344ea6"/><polygon points="449.0,531.5 451.9,528.2 453.4,530.0 450.5,533.3" fill="#344ea6"/><polygon points="450.3,533.0 453.2,529.8 454.8,531.6 451.8,534.8" fill="#34489f"/><polygon points="451.6,534.5 454.6,531.3 456.1,533.1 453.1,536.3" fill="#323a8a"/><polygon points="452.9,536.1 455.9,532.9 457.5,534.7 454.4,537.8" fill="#2e296b"/><polygon points="454.2,537.6 457.3,534.4 458.8,536.2 455.7,539.3" fill="#2a1f55"/><polygon points="442.2,517.8 444.8,514.3 446.4,516.1 443.7,519.6" fill="#1a90a9"/><polygon points="443.5,519.4 446.2,515.9 447.8,517.7 445.0,521.2" fill="#2482b6"/><polygon points="444.8,520.9 447.6,517.4 449.2,519.3 446.4,522.7" fill="#2e73bc"/><polygon points="446.2,522.5 449.0,519.0 450.5,520.8 447.7,524.2" fill="#3366bb"/><polygon points="447.5,524.0 450.3,520.6 451.9,522.4 449.0,525.8" fill="#345bb3"/><polygon points="448.8,525.6 451.7,522.2 453.3,524.0 450.4,527.3" fill="#3453ac"/><polygon points="450.2,527.1 453.1,523.8 454.7,525.6 451.7,528.9" fill="#344ea6"/><polygon points="451.5,528.6 454.5,525.4 456.0,527.2 453.1,530.4" fill="#344ea6"/><polygon points="452.9,530.2 455.8,526.9 457.4,528.7 454.4,532.0" fill="#34489f"/><polygon points="454.2,531.7 457.2,528.5 458.8,530.3 455.7,533.5" fill="#323a8a"/><polygon points="455.5,533.3 458.6,530.1 460.1,531.9 457.1,535.1" fill="#2e296b"/><polygon points="456.9,534.8 459.9,531.7 461.5,533.5 458.4,536.6" fill="#2a1f55"/><polygon points="444.6,514.6 446.2,512.4 447.8,514.3 446.1,516.5" fill="#15ab83"/><polygon points="445.9,516.2 447.6,514.0 449.2,515.9 447.5,518.0" fill="#12a194"/><polygon points="447.3,517.8 449.0,515.6 450.6,517.5 448.9,519.6" fill="#1893a5"/><polygon points="448.7,519.4 450.4,517.2 452.0,519.1 450.2,521.2" fill="#2285b3"/><polygon points="450.0,521.0 451.8,518.8 453.4,520.7 451.6,522.8" fill="#2c77bb"/><polygon points="451.4,522.5 453.2,520.4 454.8,522.3 453.0,524.4" fill="#326abc"/><polygon points="452.8,524.1 454.6,522.0 456.2,523.9 454.3,525.9" fill="#345fb6"/><polygon points="454.1,525.7 456.0,523.6 457.6,525.5 455.7,527.5" fill="#3455ae"/><polygon points="455.5,527.3 457.4,525.3 459.0,527.1 457.1,529.1" fill="#344aa1"/><polygon points="456.9,528.9 458.7,526.9 460.3,528.7 458.5,530.7" fill="#323a8a"/><polygon points="458.2,530.4 460.1,528.5 461.7,530.3 459.8,532.2" fill="#2e296b"/><polygon points="459.6,532.0 461.5,530.1 463.1,531.9 461.2,533.8" fill="#2a1f55"/><polygon points="446.0,512.7 447.1,511.3 448.7,513.2 447.6,514.5" fill="#2ab56b"/><polygon points="447.4,514.3 448.5,512.9 450.1,514.8 449.0,516.1" fill="#1aae7e"/><polygon points="448.8,515.9 449.8,514.5 451.5,516.4 450.4,517.7" fill="#12a68c"/><polygon points="450.2,517.5 451.2,516.1 452.8,518.0 451.8,519.3" fill="#149a9e"/><polygon points="451.6,519.1 452.6,517.7 454.2,519.6 453.2,520.9" fill="#1e8bae"/><polygon points="453.0,520.7 454.0,519.3 455.6,521.2 454.6,522.5" fill="#287cb9"/><polygon points="454.4,522.3 455.4,521.0 457.0,522.8 456.0,524.1" fill="#316dbc"/><polygon points="455.8,523.9 456.8,522.6 458.4,524.4 457.4,525.7" fill="#3462b9"/><polygon points="457.2,525.5 458.2,524.2 459.8,526.0 458.8,527.3" fill="#3451aa"/><polygon points="458.6,527.1 459.6,525.8 461.2,527.6 460.2,528.9" fill="#323c8d"/><polygon points="459.9,528.7 461.0,527.4 462.6,529.2 461.5,530.5" fill="#2e296b"/><polygon points="461.3,530.3 462.4,529.0 464.0,530.8 462.9,532.1" fill="#2a1f55"/><polygon points="447.0,511.4 447.1,511.3 448.7,513.1 448.6,513.3" fill="#37b85f"/><polygon points="448.4,513.0 448.5,512.9 450.1,514.7 450.0,514.9" fill="#23b273"/><polygon points="449.8,514.6 449.9,514.5 451.5,516.3 451.4,516.5" fill="#15ab83"/><polygon points="451.2,516.2 451.3,516.1 452.9,517.9 452.8,518.1" fill="#12a194"/><polygon points="452.6,517.8 452.7,517.7 454.3,519.5 454.2,519.7" fill="#1893a5"/><polygon points="454.0,519.4 454.1,519.3 455.7,521.1 455.6,521.3" fill="#2285b3"/><polygon points="455.4,521.0 455.5,520.9 457.1,522.7 457.0,522.9" fill="#2c77bb"/><polygon points="456.7,522.7 456.9,522.5 458.5,524.3 458.3,524.5" fill="#326abc"/><polygon points="458.1,524.3 458.3,524.1 459.9,526.0 459.7,526.1" fill="#3455ae"/><polygon points="459.5,525.9 459.7,525.7 461.3,527.6 461.1,527.7" fill="#334093"/><polygon points="460.9,527.5 461.0,527.3 462.7,529.2 462.5,529.3" fill="#2e2b70"/><polygon points="462.3,529.1 462.4,528.9 464.0,530.8 463.9,530.9" fill="#2a1f55"/><polygon points="446.9,511.5 449.8,508.3 451.3,510.2 448.5,513.3" fill="#54bc46"/><polygon points="448.3,513.1 451.1,509.9 452.7,511.8 449.9,514.9" fill="#42ba55"/><polygon points="449.7,514.7 452.5,511.5 454.1,513.4 451.3,516.5" fill="#2cb569"/><polygon points="451.1,516.3 453.9,513.1 455.5,515.0 452.7,518.1" fill="#1baf7c"/><polygon points="452.5,517.9 455.3,514.7 456.9,516.6 454.1,519.8" fill="#12a78a"/><polygon points="453.9,519.5 456.7,516.3 458.3,518.2 455.5,521.4" fill="#149b9c"/><polygon points="455.3,521.1 458.1,517.9 459.6,519.8 456.9,523.0" fill="#1d8dad"/><polygon points="456.7,522.7 459.4,519.5 461.0,521.4 458.3,524.6" fill="#277eb8"/><polygon points="458.1,524.3 460.8,521.1 462.4,522.9 459.7,526.2" fill="#3366bb"/><polygon points="459.5,525.9 462.2,522.7 463.8,524.5 461.1,527.8" fill="#344aa1"/><polygon points="460.9,527.5 463.6,524.3 465.2,526.1 462.5,529.4" fill="#2f3078"/><polygon points="462.3,529.1 465.0,525.9 466.6,527.7 463.9,531.0" fill="#2b215a"/><polygon points="449.4,508.7 452.3,505.4 453.9,507.3 451.0,510.6" fill="#73bc30"/><polygon points="450.8,510.3 453.7,507.0 455.3,508.9 452.3,512.2" fill="#6fbc33"/><polygon points="452.1,511.9 455.1,508.6 456.7,510.4 453.7,513.8" fill="#64bd3a"/><polygon points="453.5,513.5 456.5,510.2 458.0,512.0 455.1,515.4" fill="#57bc44"/><polygon points="454.9,515.1 457.8,511.8 459.4,513.6 456.5,517.0" fill="#42ba55"/><polygon points="456.3,516.7 459.2,513.4 460.8,515.2 457.9,518.6" fill="#2fb666"/><polygon points="457.7,518.3 460.6,515.0 462.2,516.8 459.3,520.2" fill="#1baf7c"/><polygon points="459.1,519.9 461.9,516.6 463.5,518.4 460.7,521.8" fill="#12a78a"/><polygon points="460.5,521.5 463.3,518.2 464.9,520.0 462.0,523.4" fill="#1b8eab"/><polygon points="461.8,523.1 464.7,519.8 466.3,521.6 463.4,525.0" fill="#3366bb"/><polygon points="463.2,524.7 466.1,521.4 467.6,523.2 464.8,526.6" fill="#334296"/><polygon points="464.6,526.3 467.4,523.0 469.0,524.8 466.2,528.2" fill="#2e296b"/><polygon points="452.0,505.8 454.5,503.0 456.1,504.9 453.6,507.7" fill="#75bc2e"/><polygon points="453.4,507.4 455.9,504.6 457.4,506.4 454.9,509.3" fill="#75bc2e"/><polygon points="454.7,509.0 457.2,506.2 458.8,508.0 456.3,510.8" fill="#75bc2e"/><polygon points="456.1,510.6 458.6,507.8 460.2,509.6 457.7,512.4" fill="#75bc2e"/><polygon points="457.5,512.2 460.0,509.4 461.5,511.2 459.1,514.0" fill="#6fbc33"/><polygon points="458.9,513.8 461.3,511.0 462.9,512.8 460.4,515.6" fill="#64bd3a"/><polygon points="460.2,515.4 462.7,512.6 464.2,514.4 461.8,517.2" fill="#54bc46"/><polygon points="461.6,517.0 464.0,514.1 465.6,516.0 463.2,518.8" fill="#3fb957"/><polygon points="463.0,518.6 465.4,515.7 467.0,517.6 464.6,520.4" fill="#17ac82"/><polygon points="464.3,520.2 466.8,517.3 468.3,519.2 465.9,522.0" fill="#2285b3"/><polygon points="465.7,521.8 468.1,518.9 469.7,520.7 467.3,523.6" fill="#3455ae"/><polygon points="467.1,523.4 469.5,520.5 471.1,522.3 468.7,525.2" fill="#313886"/><polygon points="454.3,503.2 454.8,502.7 456.3,504.6 455.9,505.1" fill="#77bb2d"/><polygon points="455.7,504.8 456.1,504.3 457.7,506.2 457.2,506.7" fill="#77bb2d"/><polygon points="457.0,506.4 457.5,505.9 459.1,507.8 458.6,508.2" fill="#77bb2d"/><polygon points="458.4,508.0 458.9,507.5 460.5,509.4 460.0,509.8" fill="#77bb2d"/><polygon points="459.8,509.6 460.3,509.1 461.8,511.0 461.3,511.4" fill="#77bb2d"/><polygon points="461.1,511.2 461.6,510.7 463.2,512.6 462.7,513.0" fill="#73bc30"/><polygon points="462.5,512.8 463.0,512.3 464.6,514.2 464.1,514.6" fill="#6cbc34"/><polygon points="463.8,514.4 464.4,513.9 465.9,515.8 465.4,516.2" fill="#5cbc40"/><polygon points="465.2,515.9 465.7,515.5 467.3,517.4 466.8,517.8" fill="#2cb569"/><polygon points="466.6,517.5 467.1,517.1 468.7,519.0 468.1,519.4" fill="#1795a3"/><polygon points="467.9,519.1 468.5,518.7 470.1,520.6 469.5,521.0" fill="#3460b8"/><polygon points="469.3,520.7 469.9,520.3 471.4,522.2 470.9,522.5" fill="#323e90"/><polygon points="454.7,502.8 454.9,502.6 456.5,504.4 456.3,504.6" fill="#77bb2d"/><polygon points="456.1,504.4 456.3,504.2 457.9,506.0 457.7,506.2" fill="#79bb2c"/><polygon points="457.5,506.0 457.7,505.8 459.2,507.6 459.0,507.8" fill="#79bb2c"/><polygon points="458.8,507.6 459.0,507.4 460.6,509.2 460.4,509.4" fill="#77bb2d"/><polygon points="460.2,509.2 460.4,509.0 462.0,510.8 461.8,511.0" fill="#77bb2d"/><polygon points="461.6,510.8 461.8,510.6 463.4,512.4 463.2,512.6" fill="#75bc2e"/><polygon points="462.9,512.4 463.2,512.2 464.7,514.0 464.5,514.2" fill="#6fbc33"/><polygon points="464.3,514.0 464.5,513.8 466.1,515.6 465.9,515.8" fill="#62bd3c"/><polygon points="465.7,515.6 465.9,515.4 467.5,517.2 467.3,517.4" fill="#31b764"/><polygon points="467.1,517.2 467.3,517.0 468.9,518.8 468.6,519.0" fill="#1696a1"/><polygon points="468.4,518.8 468.7,518.6 470.2,520.4 470.0,520.6" fill="#3364ba"/><polygon points="469.8,520.4 470.0,520.2 471.6,522.1 471.4,522.2" fill="#334093"/><polygon points="454.7,502.7 458.2,500.6 459.8,502.4 456.2,504.6" fill="#7dba2a"/><polygon points="456.0,504.3 459.6,502.2 461.2,504.0 457.6,506.2" fill="#7dba2a"/><polygon points="457.4,505.9 461.0,503.8 462.5,505.6 459.0,507.8" fill="#7dba2a"/><polygon points="458.8,507.5 462.3,505.4 463.9,507.2 460.4,509.4" fill="#7dba2a"/><polygon points="460.2,509.1 463.7,507.0 465.3,508.8 461.7,511.0" fill="#7bba2b"/><polygon points="461.5,510.7 465.1,508.5 466.6,510.4 463.1,512.6" fill="#79bb2c"/><polygon points="462.9,512.3 466.4,510.1 468.0,512.0 464.5,514.2" fill="#77bb2d"/><polygon points="464.3,513.9 467.8,511.7 469.4,513.6 465.9,515.8" fill="#75bc2e"/><polygon points="465.7,515.6 469.2,513.3 470.7,515.2 467.2,517.4" fill="#4bbb4e"/><polygon points="467.0,517.2 470.5,514.9 472.1,516.8 468.6,519.0" fill="#11a390"/><polygon points="468.4,518.8 471.9,516.5 473.5,518.3 470.0,520.6" fill="#306fbd"/><polygon points="469.8,520.4 473.2,518.1 474.8,519.9 471.4,522.2" fill="#34489f"/><polygon points="457.9,500.8 459.1,500.1 460.7,501.9 459.5,502.6" fill="#87b727"/><polygon points="459.3,502.4 460.5,501.6 462.1,503.5 460.9,504.2" fill="#89b627"/><polygon points="460.7,504.0 461.9,503.2 463.4,505.1 462.2,505.8" fill="#89b627"/><polygon points="462.0,505.6 463.2,504.8 464.8,506.7 463.6,507.4" fill="#87b727"/><polygon points="463.4,507.1 464.6,506.4 466.2,508.2 465.0,509.0" fill="#85b828"/><polygon points="464.8,508.7 465.9,508.0 467.5,509.8 466.3,510.6" fill="#81b929"/><polygon points="466.1,510.3 467.3,509.6 468.9,511.4 467.7,512.2" fill="#7dba2a"/><polygon points="467.5,511.9 468.7,511.2 470.2,513.0 469.1,513.8" fill="#7bba2b"/><polygon points="468.9,513.5 470.0,512.8 471.6,514.6 470.4,515.4" fill="#57bc44"/><polygon points="470.2,515.1 471.4,514.4 473.0,516.2 471.8,516.9" fill="#14aa85"/><polygon points="471.6,516.7 472.8,516.0 474.3,517.8 473.2,518.5" fill="#2b79bb"/><polygon points="472.9,518.3 474.1,517.5 475.7,519.4 474.5,520.1" fill="#3451aa"/><polygon points="458.9,500.2 461.5,498.6 463.1,500.5 460.5,502.0" fill="#94b126"/><polygon points="460.3,501.8 462.9,500.2 464.4,502.0 461.8,503.6" fill="#96b026"/><polygon points="461.6,503.4 464.2,501.8 465.8,503.6 463.2,505.2" fill="#96b026"/><polygon points="463.0,505.0 465.6,503.4 467.1,505.2 464.5,506.8" fill="#94b126"/><polygon points="464.3,506.6 466.9,505.0 468.5,506.8 465.9,508.4" fill="#8fb326"/><polygon points="465.7,508.2 468.3,506.6 469.8,508.4 467.3,510.0" fill="#8bb527"/><polygon points="467.1,509.7 469.6,508.1 471.2,510.0 468.6,511.6" fill="#85b828"/><polygon points="468.4,511.3 471.0,509.7 472.5,511.5 470.0,513.2" fill="#7fb929"/><polygon points="469.8,512.9 472.3,511.3 473.9,513.1 471.4,514.8" fill="#5cbc40"/><polygon points="471.1,514.5 473.7,512.9 475.2,514.7 472.7,516.3" fill="#15ab83"/><polygon points="472.5,516.1 475.0,514.5 476.6,516.3 474.1,517.9" fill="#287cb9"/><polygon points="473.9,517.7 476.4,516.0 478.0,517.9 475.4,519.5" fill="#3453ac"/><polygon points="461.2,498.8 462.9,497.8 464.5,499.6 462.8,500.6" fill="#a4a628"/><polygon points="462.6,500.4 464.3,499.4 465.8,501.2 464.1,502.2" fill="#a7a329"/><polygon points="463.9,502.0 465.6,501.0 467.2,502.8 465.5,503.8" fill="#a7a329"/><polygon points="465.3,503.6 467.0,502.5 468.5,504.4 466.9,505.4" fill="#a4a628"/><polygon points="466.6,505.1 468.3,504.1 469.9,505.9 468.2,507.0" fill="#9faa27"/><polygon points="468.0,506.7 469.6,505.7 471.2,507.5 469.6,508.5" fill="#96b026"/><polygon points="469.4,508.3 471.0,507.3 472.5,509.1 470.9,510.1" fill="#8fb326"/><polygon points="470.7,509.9 472.3,508.9 473.9,510.7 472.3,511.7" fill="#87b727"/><polygon points="472.1,511.5 473.7,510.4 475.2,512.2 473.6,513.3" fill="#64bd3a"/><polygon points="473.4,513.1 475.0,512.0 476.6,513.8 475.0,514.9" fill="#18ad80"/><polygon points="474.8,514.6 476.4,513.6 477.9,515.4 476.3,516.5" fill="#287cb9"/><polygon points="476.1,516.2 477.7,515.2 479.3,517.0 477.7,518.0" fill="#3453ac"/><polygon points="462.7,498.0 464.9,496.8 466.4,498.6 464.2,499.8" fill="#b1982b"/><polygon points="464.0,499.5 466.2,498.4 467.8,500.2 465.6,501.3" fill="#b4932b"/><polygon points="465.4,501.1 467.6,500.0 469.1,501.8 466.9,502.9" fill="#b4932b"/><polygon points="466.7,502.7 468.9,501.5 470.4,503.3 468.3,504.5" fill="#b2962b"/><polygon points="468.1,504.3 470.2,503.1 471.8,504.9 469.6,506.1" fill="#ac9e2a"/><polygon points="469.4,505.8 471.6,504.6 473.1,506.4 471.0,507.7" fill="#a4a628"/><polygon points="470.8,507.4 472.9,506.2 474.4,508.0 472.3,509.2" fill="#98ae27"/><polygon points="472.1,509.0 474.2,507.7 475.8,509.5 473.7,510.8" fill="#8fb326"/><polygon points="473.4,510.6 475.6,509.3 477.1,511.1 475.0,512.4" fill="#6cbc34"/><polygon points="474.8,512.2 476.9,510.9 478.4,512.6 476.4,514.0" fill="#1baf7c"/><polygon points="476.1,513.7 478.2,512.4 479.8,514.2 477.7,515.6" fill="#277eb8"/><polygon points="477.5,515.3 479.6,514.0 481.1,515.8 479.0,517.1" fill="#3455ae"/><polygon points="464.5,497.1 468.5,495.1 470.0,496.8 466.0,498.8" fill="#bc7d26"/><polygon points="465.8,498.6 469.8,496.6 471.3,498.4 467.4,500.4" fill="#bc7322"/><polygon points="467.2,500.2 471.1,498.1 472.6,499.9 468.7,502.0" fill="#bc7322"/><polygon points="468.5,501.7 472.4,499.6 473.9,501.4 470.0,503.5" fill="#bc7924"/><polygon points="469.8,503.3 473.7,501.2 475.2,502.9 471.4,505.1" fill="#ba8629"/><polygon points="471.2,504.9 475.0,502.7 476.5,504.4 472.7,506.6" fill="#b3952b"/><polygon points="472.5,506.4 476.3,504.2 477.9,506.0 474.1,508.2" fill="#aaa12a"/><polygon points="473.9,508.0 477.7,505.7 479.2,507.5 475.4,509.8" fill="#9dab27"/><polygon points="475.2,509.5 479.0,507.3 480.5,509.0 476.7,511.3" fill="#77bb2d"/><polygon points="476.5,511.1 480.3,508.8 481.8,510.5 478.1,512.9" fill="#23b273"/><polygon points="477.9,512.7 481.6,510.3 483.1,512.1 479.4,514.4" fill="#2482b6"/><polygon points="479.2,514.2 482.9,511.8 484.4,513.6 480.7,516.0" fill="#3455ae"/><polygon points="468.1,495.2 469.3,494.7 470.8,496.4 469.7,497.0" fill="#bb661c"/><polygon points="469.5,496.8 470.6,496.2 472.1,497.9 471.0,498.5" fill="#b95916"/><polygon points="470.8,498.3 471.9,497.7 473.4,499.4 472.3,500.1" fill="#b85615"/><polygon points="472.1,499.8 473.2,499.2 474.7,501.0 473.6,501.6" fill="#ba5f19"/><polygon points="473.4,501.3 474.5,500.7 476.0,502.5 474.9,503.1" fill="#bc7121"/><polygon points="474.7,502.9 475.8,502.2 477.3,504.0 476.2,504.6" fill="#bb8328"/><polygon points="476.0,504.4 477.1,503.8 478.6,505.5 477.5,506.2" fill="#b3952b"/><polygon points="477.3,505.9 478.4,505.3 479.9,507.0 478.8,507.7" fill="#a8a229"/><polygon points="478.7,507.4 479.8,506.8 481.3,508.5 480.2,509.2" fill="#83b828"/><polygon points="480.0,509.0 481.1,508.3 482.6,510.0 481.5,510.7" fill="#2cb569"/><polygon points="481.3,510.5 482.4,509.8 483.9,511.6 482.8,512.3" fill="#2285b3"/><polygon points="482.6,512.0 483.7,511.3 485.2,513.1 484.1,513.8" fill="#3457b0"/><polygon points="469.1,494.8 470.8,493.9 472.3,495.7 470.6,496.5" fill="#ba5f19"/><polygon points="470.4,496.3 472.1,495.4 473.6,497.2 471.9,498.0" fill="#b65012"/><polygon points="471.7,497.8 473.4,496.9 474.9,498.7 473.2,499.5" fill="#b54b11"/><polygon points="473.0,499.3 474.7,498.4 476.2,500.2 474.5,501.1" fill="#b75414"/><polygon points="474.3,500.8 476.0,499.9 477.5,501.7 475.9,502.6" fill="#bb641b"/><polygon points="475.7,502.3 477.3,501.4 478.8,503.2 477.2,504.1" fill="#bc7924"/><polygon points="477.0,503.9 478.6,502.9 480.1,504.7 478.5,505.6" fill="#b88d2b"/><polygon points="478.3,505.4 479.9,504.4 481.4,506.2 479.8,507.1" fill="#ae9c2a"/><polygon points="479.6,506.9 481.2,505.9 482.7,507.7 481.1,508.6" fill="#8bb527"/><polygon points="480.9,508.4 482.5,507.4 484.0,509.2 482.4,510.1" fill="#31b764"/><polygon points="482.2,509.9 483.8,508.9 485.3,510.7 483.7,511.7" fill="#2087b1"/><polygon points="483.5,511.4 485.1,510.4 486.6,512.2 485.0,513.2" fill="#3457b0"/><polygon points="470.6,494.0 471.8,493.5 473.2,495.2 472.1,495.8" fill="#b95916"/><polygon points="471.9,495.5 473.1,494.9 474.5,496.7 473.4,497.3" fill="#b44910"/><polygon points="473.2,497.0 474.3,496.4 475.8,498.2 474.7,498.8" fill="#b2450e"/><polygon points="474.5,498.5 475.6,497.9 477.1,499.7 476.0,500.3" fill="#b54b11"/><polygon points="475.8,500.0 476.9,499.4 478.4,501.1 477.3,501.8" fill="#b95b17"/><polygon points="477.1,501.5 478.2,500.9 479.7,502.6 478.6,503.3" fill="#bc7121"/><polygon points="478.4,503.0 479.5,502.4 481.0,504.1 479.9,504.8" fill="#ba8629"/><polygon points="479.7,504.5 480.8,503.9 482.3,505.6 481.2,506.3" fill="#b2962b"/><polygon points="481.0,506.0 482.1,505.4 483.6,507.1 482.5,507.8" fill="#91b326"/><polygon points="482.3,507.5 483.4,506.9 484.9,508.6 483.8,509.3" fill="#3ab85c"/><polygon points="483.6,509.1 484.7,508.4 486.2,510.1 485.1,510.8" fill="#1e8bae"/><polygon points="484.9,510.6 486.0,509.9 487.5,511.6 486.4,512.3" fill="#3459b2"/><polygon points="471.4,493.6 475.4,491.6 476.9,493.3 472.9,495.3" fill="#b75414"/><polygon points="472.7,495.1 476.7,493.1 478.1,494.8 474.2,496.8" fill="#b2430d"/><polygon points="474.0,496.6 477.9,494.5 479.4,496.2 475.5,498.3" fill="#af3d0b"/><polygon points="475.3,498.1 479.2,496.0 480.7,497.7 476.8,499.8" fill="#b03f0c"/><polygon points="476.6,499.6 480.5,497.5 482.0,499.2 478.1,501.3" fill="#b54b11"/><polygon points="477.9,501.1 481.8,498.9 483.2,500.6 479.4,502.8" fill="#ba5f19"/><polygon points="479.2,502.6 483.0,500.4 484.5,502.1 480.7,504.3" fill="#bc7523"/><polygon points="480.5,504.1 484.3,501.9 485.8,503.6 482.0,505.8" fill="#b98a2a"/><polygon points="481.8,505.6 485.6,503.3 487.0,505.0 483.3,507.3" fill="#9dab27"/><polygon points="483.1,507.1 486.8,504.8 488.3,506.5 484.6,508.8" fill="#4bbb4e"/><polygon points="484.4,508.6 488.1,506.3 489.6,508.0 485.8,510.3" fill="#1b8eab"/><polygon points="485.7,510.1 489.4,507.7 490.9,509.4 487.1,511.8" fill="#345bb3"/><polygon points="474.9,491.9 478.7,489.9 480.1,491.6 476.4,493.6" fill="#b65012"/><polygon points="476.2,493.3 479.9,491.4 481.4,493.0 477.6,495.0" fill="#af3d0b"/><polygon points="477.4,494.8 481.2,492.8 482.6,494.5 478.9,496.5" fill="#a93308"/><polygon points="478.7,496.3 482.5,494.3 483.9,495.9 480.2,498.0" fill="#a63007"/><polygon points="480.0,497.7 483.7,495.7 485.1,497.4 481.5,499.4" fill="#aa3508"/><polygon points="481.3,499.2 485.0,497.2 486.4,498.8 482.7,500.9" fill="#b1410c"/><polygon points="482.5,500.7 486.2,498.6 487.7,500.3 484.0,502.4" fill="#b75414"/><polygon points="483.8,502.2 487.5,500.0 488.9,501.7 485.3,503.8" fill="#bc6d1f"/><polygon points="485.1,503.6 488.7,501.5 490.2,503.1 486.6,505.3" fill="#b1982b"/><polygon points="486.4,505.1 490.0,502.9 491.4,504.6 487.8,506.8" fill="#6abc36"/><polygon points="487.6,506.6 491.2,504.4 492.7,506.0 489.1,508.3" fill="#15989f"/><polygon points="488.9,508.0 492.5,505.8 493.9,507.5 490.4,509.7" fill="#345db5"/><polygon points="478.4,490.1 478.6,490.0 480.0,491.6 479.9,491.7" fill="#b44910"/><polygon points="479.7,491.5 479.9,491.4 481.3,493.1 481.1,493.2" fill="#aa3508"/><polygon points="480.9,493.0 481.1,492.9 482.5,494.5 482.4,494.6" fill="#a12a05"/><polygon points="482.2,494.4 482.4,494.3 483.8,496.0 483.6,496.1" fill="#9d2604"/><polygon points="483.5,495.9 483.6,495.7 485.0,497.4 484.9,497.5" fill="#a02805"/><polygon points="484.7,497.3 484.9,497.2 486.3,498.8 486.2,499.0" fill="#a73107"/><polygon points="486.0,498.7 486.1,498.6 487.6,500.3 487.4,500.4" fill="#b1410c"/><polygon points="487.2,500.2 487.4,500.1 488.8,501.7 488.7,501.8" fill="#b95916"/><polygon points="488.5,501.6 488.6,501.5 490.1,503.1 489.9,503.3" fill="#b88b2a"/><polygon points="489.7,503.1 489.9,502.9 491.3,504.6 491.2,504.7" fill="#77bb2d"/><polygon points="491.0,504.5 491.1,504.4 492.6,506.0 492.4,506.2" fill="#139d9a"/><polygon points="492.2,506.0 492.4,505.8 493.8,507.5 493.7,507.6" fill="#345fb6"/><polygon points="478.6,490.0 478.6,490.0 480.0,491.6 480.0,491.7" fill="#b44910"/><polygon points="479.8,491.4 479.9,491.4 481.3,493.1 481.3,493.1" fill="#aa3508"/><polygon points="481.1,492.9 481.1,492.9 482.5,494.5 482.5,494.5" fill="#a12a05"/><polygon points="482.3,494.3 482.4,494.3 483.8,496.0 483.8,496.0" fill="#9d2604"/><polygon points="483.6,495.8 483.6,495.7 485.0,497.4 485.0,497.4" fill="#9e2704"/><polygon points="484.9,497.2 484.9,497.2 486.3,498.8 486.3,498.8" fill="#a63007"/><polygon points="486.1,498.6 486.1,498.6 487.5,500.3 487.5,500.3" fill="#b03f0c"/><polygon points="487.4,500.1 487.4,500.1 488.8,501.7 488.8,501.7" fill="#b95916"/><polygon points="488.6,501.5 488.6,501.5 490.0,503.1 490.0,503.2" fill="#b88b2a"/><polygon points="489.9,502.9 489.9,502.9 491.3,504.6 491.3,504.6" fill="#77bb2d"/><polygon points="491.1,504.4 491.1,504.4 492.6,506.0 492.5,506.0" fill="#139d9a"/><polygon points="492.4,505.8 492.4,505.8 493.8,507.5 493.8,507.5" fill="#345fb6"/><polygon points="478.4,490.2 481.1,486.7 482.5,488.3 479.9,491.9" fill="#b2430d"/><polygon points="479.7,491.7 482.3,488.1 483.8,489.8 481.1,493.3" fill="#a52e06"/><polygon points="480.9,493.1 483.6,489.5 485.0,491.2 482.4,494.8" fill="#9a2303"/><polygon points="482.2,494.5 484.8,491.0 486.3,492.6 483.6,496.2" fill="#941e02"/><polygon points="483.4,496.0 486.1,492.4 487.5,494.1 484.9,497.6" fill="#951f03"/><polygon points="484.7,497.4 487.3,493.9 488.8,495.5 486.1,499.1" fill="#9d2604"/><polygon points="485.9,498.9 488.6,495.3 490.0,497.0 487.4,500.5" fill="#a93308"/><polygon points="487.2,500.3 489.8,496.8 491.3,498.4 488.6,501.9" fill="#b44910"/><polygon points="488.4,501.7 491.1,498.2 492.5,499.9 489.9,503.4" fill="#bb8127"/><polygon points="489.7,503.2 492.3,499.6 493.8,501.3 491.1,504.8" fill="#81b929"/><polygon points="490.9,504.6 493.6,501.1 495.0,502.7 492.4,506.3" fill="#12a194"/><polygon points="492.2,506.0 494.8,502.5 496.3,504.2 493.6,507.7" fill="#3460b8"/><polygon points="480.8,487.2 483.1,482.2 484.5,483.9 482.2,488.9" fill="#aa3508"/><polygon points="482.0,488.7 484.3,483.7 485.8,485.3 483.4,490.3" fill="#972003"/><polygon points="483.3,490.1 485.6,485.1 487.1,486.8 484.7,491.8" fill="#851401"/><polygon points="484.5,491.5 486.9,486.5 488.4,488.2 485.9,493.2" fill="#7b0f01"/><polygon points="485.7,493.0 488.2,488.0 489.7,489.6 487.2,494.6" fill="#790e01"/><polygon points="487.0,494.4 489.5,489.4 490.9,491.1 488.4,496.1" fill="#851401"/><polygon points="488.2,495.9 490.7,490.9 492.2,492.5 489.7,497.5" fill="#951f03"/><polygon points="489.5,497.3 492.0,492.3 493.5,494.0 490.9,499.0" fill="#a73107"/><polygon points="490.7,498.8 493.3,493.7 494.8,495.4 492.2,500.4" fill="#bc6a1e"/><polygon points="492.0,500.2 494.6,495.2 496.1,496.8 493.4,501.9" fill="#92b226"/><polygon points="493.2,501.6 495.9,496.6 497.3,498.3 494.7,503.3" fill="#12a68c"/><polygon points="494.5,503.1 497.2,498.1 498.6,499.7 495.9,504.7" fill="#3364ba"/><polygon points="482.8,482.9 485.1,477.9 486.6,479.5 484.2,484.5" fill="#9e2704"/><polygon points="484.0,484.3 486.4,479.3 487.9,481.0 485.5,486.0" fill="#851401"/><polygon points="485.3,485.8 487.7,480.7 489.2,482.4 486.8,487.4" fill="#6c0801"/><polygon points="486.6,487.2 489.0,482.2 490.5,483.8 488.1,488.9" fill="#690801"/><polygon points="487.9,488.6 490.3,483.6 491.8,485.3 489.3,490.3" fill="#690801"/><polygon points="489.1,490.1 491.6,485.1 493.1,486.7 490.6,491.7" fill="#690801"/><polygon points="490.4,491.5 492.9,486.5 494.4,488.2 491.9,493.2" fill="#7d1001"/><polygon points="491.7,493.0 494.2,488.0 495.7,489.6 493.2,494.6" fill="#972003"/><polygon points="493.0,494.4 495.5,489.4 497.0,491.1 494.4,496.1" fill="#b75414"/><polygon points="494.2,495.8 496.8,490.8 498.4,492.5 495.7,497.5" fill="#9faa27"/><polygon points="495.5,497.3 498.2,492.3 499.7,493.9 497.0,498.9" fill="#14aa85"/><polygon points="496.8,498.7 499.5,493.7 501.0,495.4 498.3,500.4" fill="#3366bb"/><polygon points="484.7,478.4 487.7,474.9 489.2,476.5 486.2,480.1" fill="#8f1a02"/><polygon points="486.0,479.9 489.0,476.3 490.5,478.0 487.5,481.5" fill="#6c0801"/><polygon points="487.3,481.3 490.3,477.8 491.8,479.4 488.8,483.0" fill="#690801"/><polygon points="488.6,482.7 491.6,479.2 493.1,480.8 490.1,484.4" fill="#690801"/><polygon points="489.9,484.2 492.9,480.6 494.4,482.3 491.4,485.8" fill="#690801"/><polygon points="491.3,485.6 494.2,482.1 495.7,483.7 492.8,487.3" fill="#690801"/><polygon points="492.6,487.1 495.5,483.5 497.0,485.1 494.1,488.7" fill="#690801"/><polygon points="493.9,488.5 496.8,484.9 498.3,486.6 495.4,490.2" fill="#831301"/><polygon points="495.2,490.0 498.1,486.4 499.6,488.0 496.7,491.6" fill="#b03f0c"/><polygon points="496.5,491.4 499.4,487.8 500.9,489.4 498.0,493.1" fill="#ab9f2a"/><polygon points="497.8,492.8 500.7,489.2 502.1,490.9 499.3,494.5" fill="#18ad80"/><polygon points="499.1,494.3 502.0,490.7 503.4,492.3 500.6,495.9" fill="#3368bb"/><polygon points="487.4,475.2 489.1,473.3 490.6,475.0 488.9,476.9" fill="#831301"/><polygon points="488.7,476.7 490.4,474.7 491.8,476.4 490.2,478.3" fill="#690801"/><polygon points="490.0,478.1 491.6,476.2 493.1,477.8 491.5,479.8" fill="#690801"/><polygon points="491.3,479.5 492.9,477.6 494.4,479.2 492.8,481.2" fill="#690801"/><polygon points="492.6,481.0 494.2,479.0 495.7,480.7 494.1,482.6" fill="#690801"/><polygon points="493.9,482.4 495.5,480.5 497.0,482.1 495.4,484.1" fill="#690801"/><polygon points="495.2,483.8 496.8,481.9 498.3,483.5 496.7,485.5" fill="#690801"/><polygon points="496.5,485.3 498.1,483.3 499.6,485.0 498.0,486.9" fill="#750c01"/><polygon points="497.8,486.7 499.4,484.7 500.8,486.4 499.3,488.4" fill="#aa3508"/><polygon points="499.1,488.1 500.6,486.2 502.1,487.8 500.6,489.8" fill="#b0992b"/><polygon points="500.4,489.6 501.9,487.6 503.4,489.2 501.9,491.2" fill="#1db079"/><polygon points="501.7,491.0 503.2,489.0 504.7,490.7 503.2,492.7" fill="#326abc"/><polygon points="488.9,473.5 489.7,472.6 491.1,474.3 490.4,475.1" fill="#7f1101"/><polygon points="490.2,474.9 490.9,474.1 492.4,475.7 491.7,476.6" fill="#690801"/><polygon points="491.5,476.4 492.2,475.5 493.7,477.2 493.0,478.0" fill="#690801"/><polygon points="492.8,477.8 493.5,477.0 495.0,478.6 494.3,479.4" fill="#690801"/><polygon points="494.1,479.2 494.8,478.4 496.3,480.1 495.5,480.9" fill="#690801"/><polygon points="495.3,480.6 496.1,479.8 497.6,481.5 496.8,482.3" fill="#690801"/><polygon points="496.6,482.1 497.4,481.3 498.9,482.9 498.1,483.7" fill="#690801"/><polygon points="497.9,483.5 498.7,482.7 500.2,484.4 499.4,485.1" fill="#6e0901"/><polygon points="499.2,484.9 500.0,484.2 501.5,485.8 500.7,486.6" fill="#a73107"/><polygon points="500.5,486.4 501.3,485.6 502.8,487.3 502.0,488.0" fill="#b2962b"/><polygon points="501.8,487.8 502.6,487.1 504.1,488.7 503.3,489.4" fill="#1db079"/><polygon points="503.1,489.2 503.9,488.5 505.4,490.2 504.5,490.9" fill="#326abc"/><polygon points="489.6,472.7 490.3,472.1 491.8,473.7 491.0,474.4" fill="#7d1001"/><polygon points="490.9,474.2 491.6,473.5 493.1,475.2 492.3,475.8" fill="#690801"/><polygon points="492.2,475.6 492.9,475.0 494.4,476.6 493.6,477.3" fill="#690801"/><polygon points="493.4,477.1 494.2,476.4 495.7,478.1 494.9,478.7" fill="#690801"/><polygon points="494.7,478.5 495.5,477.8 497.0,479.5 496.2,480.2" fill="#690801"/><polygon points="496.0,479.9 496.8,479.3 498.3,481.0 497.5,481.6" fill="#690801"/><polygon points="497.3,481.4 498.1,480.7 499.6,482.4 498.8,483.0" fill="#690801"/><polygon points="498.6,482.8 499.4,482.2 500.9,483.9 500.1,484.5" fill="#6c0801"/><polygon points="499.9,484.3 500.7,483.6 502.2,485.3 501.4,485.9" fill="#a63007"/><polygon points="501.2,485.7 502.0,485.1 503.5,486.7 502.7,487.4" fill="#b3952b"/><polygon points="502.5,487.1 503.3,486.5 504.8,488.2 504.0,488.8" fill="#1fb177"/><polygon points="503.8,488.6 504.6,488.0 506.1,489.6 505.3,490.2" fill="#326abc"/><polygon points="490.0,472.3 493.4,469.1 494.9,470.8 491.5,474.0" fill="#7b0f01"/><polygon points="491.3,473.8 494.7,470.6 496.2,472.3 492.8,475.4" fill="#690801"/><polygon points="492.6,475.2 496.0,472.0 497.5,473.7 494.1,476.9" fill="#690801"/><polygon points="493.9,476.6 497.3,473.5 498.8,475.2 495.4,478.3" fill="#690801"/><polygon points="495.2,478.1 498.7,475.0 500.2,476.7 496.7,479.8" fill="#690801"/><polygon points="496.5,479.5 500.0,476.5 501.5,478.2 498.0,481.2" fill="#690801"/><polygon points="497.8,481.0 501.3,477.9 502.8,479.6 499.3,482.6" fill="#690801"/><polygon points="499.1,482.4 502.6,479.4 504.1,481.1 500.6,484.1" fill="#690801"/><polygon points="500.4,483.9 503.9,480.9 505.5,482.6 501.9,485.5" fill="#a52e06"/><polygon points="501.7,485.3 505.3,482.4 506.8,484.1 503.2,487.0" fill="#b3952b"/><polygon points="503.0,486.8 506.6,483.9 508.1,485.5 504.5,488.4" fill="#1fb177"/><polygon points="504.3,488.2 507.9,485.3 509.4,487.0 505.8,489.9" fill="#326abc"/><polygon points="493.1,469.4 494.3,468.2 495.8,469.9 494.6,471.1" fill="#7f1101"/><polygon points="494.4,470.8 495.6,469.7 497.1,471.4 495.9,472.5" fill="#690801"/><polygon points="495.7,472.3 496.9,471.2 498.5,472.9 497.2,474.0" fill="#690801"/><polygon points="497.0,473.8 498.3,472.7 499.8,474.4 498.5,475.5" fill="#690801"/><polygon points="498.3,475.3 499.6,474.1 501.1,475.9 499.9,477.0" fill="#690801"/><polygon points="499.7,476.7 500.9,475.6 502.5,477.3 501.2,478.4" fill="#690801"/><polygon points="501.0,478.2 502.3,477.1 503.8,478.8 502.5,479.9" fill="#690801"/><polygon points="502.3,479.7 503.6,478.6 505.1,480.3 503.8,481.4" fill="#700a01"/><polygon points="503.6,481.2 504.9,480.1 506.4,481.8 505.1,482.9" fill="#a73107"/><polygon points="504.9,482.6 506.2,481.6 507.8,483.3 506.5,484.3" fill="#b2962b"/><polygon points="506.3,484.1 507.6,483.1 509.1,484.8 507.8,485.8" fill="#1db079"/><polygon points="507.6,485.6 508.9,484.5 510.4,486.2 509.1,487.3" fill="#326abc"/><polygon points="494.1,468.4 496.3,466.5 497.9,468.2 495.6,470.1" fill="#871501"/><polygon points="495.4,469.9 497.7,468.0 499.2,469.7 496.9,471.6" fill="#690801"/><polygon points="496.7,471.4 499.0,469.5 500.5,471.2 498.2,473.1" fill="#690801"/><polygon points="498.0,472.9 500.3,471.0 501.9,472.7 499.6,474.6" fill="#690801"/><polygon points="499.4,474.3 501.7,472.5 503.2,474.2 500.9,476.1" fill="#690801"/><polygon points="500.7,475.8 503.0,474.0 504.5,475.7 502.2,477.5" fill="#690801"/><polygon points="502.0,477.3 504.3,475.4 505.8,477.2 503.5,479.0" fill="#690801"/><polygon points="503.3,478.8 505.6,476.9 507.2,478.7 504.9,480.5" fill="#790e01"/><polygon points="504.7,480.3 507.0,478.4 508.5,480.1 506.2,482.0" fill="#ac3809"/><polygon points="506.0,481.8 508.3,479.9 509.8,481.6 507.5,483.5" fill="#af9b2b"/><polygon points="507.3,483.2 509.6,481.4 511.2,483.1 508.9,484.9" fill="#1baf7c"/><polygon points="508.7,484.7 511.0,482.9 512.5,484.6 510.2,486.4" fill="#3368bb"/><polygon points="496.0,466.8 498.8,464.5 500.3,466.2 497.5,468.5" fill="#972003"/><polygon points="497.3,468.3 500.1,466.0 501.6,467.7 498.9,470.0" fill="#790e01"/><polygon points="498.7,469.8 501.4,467.5 503.0,469.2 500.2,471.5" fill="#690801"/><polygon points="500.0,471.3 502.8,469.0 504.3,470.7 501.5,473.0" fill="#690801"/><polygon points="501.3,472.7 504.1,470.5 505.6,472.2 502.9,474.5" fill="#690801"/><polygon points="502.7,474.2 505.4,472.0 507.0,473.7 504.2,475.9" fill="#690801"/><polygon points="504.0,475.7 506.8,473.5 508.3,475.2 505.5,477.4" fill="#6e0901"/><polygon points="505.3,477.2 508.1,475.0 509.6,476.7 506.8,478.9" fill="#8d1902"/><polygon points="506.6,478.7 509.4,476.5 511.0,478.2 508.2,480.4" fill="#b3470f"/><polygon points="508.0,480.2 510.8,478.0 512.3,479.7 509.5,481.9" fill="#a7a329"/><polygon points="509.3,481.7 512.1,479.4 513.6,481.2 510.8,483.4" fill="#17ac82"/><polygon points="510.6,483.2 513.4,480.9 515.0,482.7 512.2,484.9" fill="#3366bb"/><polygon points="498.5,464.7 499.3,464.0 500.9,465.7 500.1,466.4" fill="#a22b05"/><polygon points="499.9,466.2 500.7,465.5 502.2,467.2 501.4,467.9" fill="#8d1902"/><polygon points="501.2,467.7 502.0,467.0 503.6,468.7 502.7,469.4" fill="#750c01"/><polygon points="502.5,469.2 503.4,468.5 504.9,470.2 504.1,470.9" fill="#690801"/><polygon points="503.9,470.7 504.7,470.0 506.2,471.7 505.4,472.4" fill="#690801"/><polygon points="505.2,472.1 506.0,471.5 507.6,473.3 506.7,473.9" fill="#6e0901"/><polygon points="506.5,473.6 507.4,473.0 508.9,474.8 508.1,475.4" fill="#831301"/><polygon points="507.9,475.1 508.7,474.5 510.3,476.3 509.4,476.9" fill="#9a2303"/><polygon points="509.2,476.6 510.1,476.0 511.6,477.8 510.7,478.4" fill="#b85615"/><polygon points="510.5,478.1 511.4,477.5 512.9,479.3 512.1,479.9" fill="#9dab27"/><polygon points="511.9,479.6 512.7,479.1 514.3,480.8 513.4,481.4" fill="#14a987"/><polygon points="513.2,481.1 514.1,480.6 515.6,482.3 514.7,482.8" fill="#3366bb"/><polygon points="499.2,464.1 500.4,463.1 501.9,464.9 500.7,465.8" fill="#a93308"/><polygon points="500.5,465.6 501.7,464.6 503.3,466.4 502.1,467.3" fill="#951f03"/><polygon points="501.9,467.1 503.1,466.2 504.6,467.9 503.4,468.8" fill="#831301"/><polygon points="503.2,468.6 504.4,467.7 506.0,469.4 504.8,470.3" fill="#750c01"/><polygon points="504.6,470.1 505.8,469.2 507.3,470.9 506.1,471.8" fill="#730b01"/><polygon points="505.9,471.6 507.1,470.7 508.7,472.5 507.4,473.4" fill="#7b0f01"/><polygon points="507.2,473.1 508.5,472.2 510.0,474.0 508.8,474.9" fill="#8f1a02"/><polygon points="508.6,474.6 509.8,473.7 511.4,475.5 510.1,476.4" fill="#a22b05"/><polygon points="509.9,476.1 511.2,475.3 512.7,477.0 511.5,477.9" fill="#ba5f19"/><polygon points="511.3,477.6 512.5,476.8 514.1,478.5 512.8,479.4" fill="#98ae27"/><polygon points="512.6,479.1 513.9,478.3 515.4,480.0 514.1,480.9" fill="#13a889"/><polygon points="513.9,480.6 515.2,479.8 516.7,481.6 515.5,482.4" fill="#3364ba"/><polygon points="500.1,463.3 502.7,461.6 504.3,463.3 501.7,465.0" fill="#b2450e"/><polygon points="501.5,464.8 504.1,463.1 505.6,464.8 503.0,466.6" fill="#a63007"/><polygon points="502.8,466.3 505.4,464.6 507.0,466.4 504.4,468.1" fill="#982103"/><polygon points="504.2,467.8 506.8,466.1 508.3,467.9 505.7,469.6" fill="#901b02"/><polygon points="505.5,469.4 508.1,467.7 509.7,469.4 507.1,471.1" fill="#8f1a02"/><polygon points="506.9,470.9 509.5,469.2 511.0,470.9 508.4,472.6" fill="#941e02"/><polygon points="508.2,472.4 510.8,470.7 512.4,472.4 509.8,474.1" fill="#a12a05"/><polygon points="509.6,473.9 512.2,472.2 513.7,474.0 511.1,475.7" fill="#ae3b0a"/><polygon points="510.9,475.4 513.5,473.7 515.1,475.5 512.5,477.2" fill="#bc7322"/><polygon points="512.3,477.0 514.9,475.3 516.4,477.0 513.8,478.7" fill="#8bb527"/><polygon points="513.6,478.5 516.2,476.8 517.8,478.5 515.1,480.2" fill="#11a390"/><polygon points="514.9,480.0 517.6,478.3 519.1,480.1 516.5,481.7" fill="#3462b9"/><polygon points="502.3,461.8 506.2,459.3 507.7,461.0 503.9,463.6" fill="#bc6d1f"/><polygon points="503.7,463.4 507.5,460.8 509.1,462.6 505.2,465.1" fill="#b85615"/><polygon points="505.0,464.9 508.9,462.3 510.4,464.1 506.6,466.6" fill="#b3470f"/><polygon points="506.4,466.4 510.2,463.9 511.8,465.6 507.9,468.2" fill="#af3d0b"/><polygon points="507.7,467.9 511.6,465.4 513.1,467.1 509.3,469.7" fill="#ae3b0a"/><polygon points="509.1,469.5 512.9,466.9 514.5,468.7 510.6,471.2" fill="#b1410c"/><polygon points="510.4,471.0 514.3,468.4 515.8,470.2 511.9,472.7" fill="#b65012"/><polygon points="511.7,472.5 515.6,470.0 517.2,471.7 513.3,474.2" fill="#bb641b"/><polygon points="513.1,474.0 517.0,471.5 518.5,473.3 514.6,475.8" fill="#b6902b"/><polygon points="514.4,475.5 518.3,473.0 519.9,474.8 516.0,477.3" fill="#73bc30"/><polygon points="515.8,477.1 519.7,474.6 521.2,476.3 517.3,478.8" fill="#139d9a"/><polygon points="517.1,478.6 521.0,476.1 522.6,477.8 518.7,480.3" fill="#345fb6"/><polygon points="505.7,459.6 508.9,457.5 510.5,459.2 507.3,461.3" fill="#b78f2b"/><polygon points="507.1,461.1 510.3,459.0 511.8,460.8 508.6,462.9" fill="#bb8328"/><polygon points="508.4,462.6 511.6,460.5 513.2,462.3 510.0,464.4" fill="#bc7924"/><polygon points="509.8,464.2 513.0,462.1 514.5,463.8 511.3,465.9" fill="#bc7121"/><polygon points="511.1,465.7 514.3,463.6 515.9,465.4 512.7,467.4" fill="#bc7121"/><polygon points="512.5,467.2 515.7,465.1 517.2,466.9 514.0,469.0" fill="#bc7523"/><polygon points="513.8,468.7 517.0,466.7 518.6,468.4 515.4,470.5" fill="#bc7d26"/><polygon points="515.2,470.3 518.4,468.2 519.9,470.0 516.7,472.0" fill="#b98a2a"/><polygon points="516.5,471.8 519.7,469.7 521.3,471.5 518.1,473.6" fill="#a2a728"/><polygon points="517.9,473.3 521.1,471.3 522.6,473.0 519.4,475.1" fill="#54bc46"/><polygon points="519.2,474.8 522.4,472.8 524.0,474.5 520.8,476.6" fill="#1893a5"/><polygon points="520.6,476.4 523.8,474.3 525.3,476.1 522.1,478.1" fill="#345bb3"/><polygon points="508.7,457.6 509.4,457.2 510.9,459.0 510.2,459.4" fill="#af9b2b"/><polygon points="510.0,459.2 510.7,458.7 512.3,460.5 511.6,460.9" fill="#b4932b"/><polygon points="511.4,460.7 512.1,460.3 513.6,462.0 512.9,462.5" fill="#b88b2a"/><polygon points="512.7,462.2 513.4,461.8 515.0,463.6 514.3,464.0" fill="#b98829"/><polygon points="514.1,463.8 514.8,463.4 516.3,465.1 515.6,465.5" fill="#b98829"/><polygon points="515.4,465.3 516.1,464.9 517.7,466.7 517.0,467.0" fill="#b98a2a"/><polygon points="516.8,466.8 517.5,466.5 519.0,468.2 518.3,468.6" fill="#b6902b"/><polygon points="518.1,468.3 518.8,468.0 520.4,469.8 519.7,470.1" fill="#b1982b"/><polygon points="519.5,469.9 520.2,469.5 521.8,471.3 521.0,471.6" fill="#94b126"/><polygon points="520.8,471.4 521.6,471.1 523.1,472.9 522.4,473.2" fill="#45ba52"/><polygon points="522.2,472.9 522.9,472.6 524.5,474.4 523.7,474.7" fill="#1b8eab"/><polygon points="523.5,474.5 524.3,474.2 525.8,476.0 525.1,476.2" fill="#3459b2"/><polygon points="509.3,457.2 509.5,457.1 511.1,458.9 510.9,459.0" fill="#ac9e2a"/><polygon points="510.7,458.8 510.9,458.6 512.4,460.4 512.2,460.5" fill="#b2962b"/><polygon points="512.0,460.3 512.2,460.2 513.8,462.0 513.6,462.1" fill="#b6902b"/><polygon points="513.4,461.9 513.6,461.7 515.1,463.5 514.9,463.6" fill="#b88b2a"/><polygon points="514.7,463.4 514.9,463.3 516.5,465.1 516.3,465.2" fill="#b88b2a"/><polygon points="516.1,464.9 516.3,464.8 517.9,466.6 517.6,466.7" fill="#b78f2b"/><polygon points="517.4,466.5 517.7,466.4 519.2,468.2 519.0,468.3" fill="#b4932b"/><polygon points="518.8,468.0 519.0,467.9 520.6,469.7 520.3,469.8" fill="#af9b2b"/><polygon points="520.1,469.6 520.4,469.5 521.9,471.3 521.7,471.4" fill="#92b226"/><polygon points="521.5,471.1 521.7,471.0 523.3,472.8 523.0,472.9" fill="#3fb957"/><polygon points="522.8,472.7 523.1,472.6 524.6,474.4 524.4,474.4" fill="#1d8dad"/><polygon points="524.2,474.2 524.4,474.1 526.0,475.9 525.8,476.0" fill="#3459b2"/><polygon points="509.2,457.2 513.5,456.1 515.0,457.8 510.8,458.9" fill="#a0a928"/><polygon points="510.6,458.7 514.8,457.6 516.4,459.3 512.1,460.5" fill="#a7a329"/><polygon points="511.9,460.3 516.2,459.1 517.7,460.9 513.5,462.0" fill="#ab9f2a"/><polygon points="513.3,461.8 517.5,460.6 519.1,462.4 514.9,463.6" fill="#ac9e2a"/><polygon points="514.7,463.4 518.9,462.2 520.4,463.9 516.2,465.1" fill="#ae9c2a"/><polygon points="516.0,464.9 520.2,463.7 521.8,465.4 517.6,466.7" fill="#ac9e2a"/><polygon points="517.4,466.5 521.5,465.2 523.1,466.9 518.9,468.2" fill="#a8a229"/><polygon points="518.7,468.0 522.9,466.7 524.4,468.5 520.3,469.8" fill="#a2a728"/><polygon points="520.1,469.6 524.2,468.2 525.8,470.0 521.6,471.3" fill="#83b828"/><polygon points="521.4,471.1 525.6,469.8 527.1,471.5 523.0,472.9" fill="#31b764"/><polygon points="522.8,472.7 526.9,471.3 528.5,473.0 524.4,474.4" fill="#1f89b0"/><polygon points="524.2,474.2 528.3,472.8 529.8,474.5 525.7,476.0" fill="#3457b0"/><polygon points="512.9,456.2 517.4,455.1 518.9,456.8 514.5,458.0" fill="#8bb527"/><polygon points="514.3,457.7 518.7,456.6 520.3,458.3 515.8,459.5" fill="#8fb326"/><polygon points="515.6,459.3 520.1,458.1 521.6,459.8 517.1,461.0" fill="#92b226"/><polygon points="516.9,460.8 521.4,459.5 523.0,461.3 518.5,462.5" fill="#94b126"/><polygon points="518.3,462.3 522.7,461.0 524.3,462.8 519.8,464.1" fill="#94b126"/><polygon points="519.6,463.8 524.1,462.5 525.6,464.3 521.2,465.6" fill="#92b226"/><polygon points="521.0,465.4 525.4,464.0 527.0,465.7 522.5,467.1" fill="#91b326"/><polygon points="522.3,466.9 526.8,465.5 528.3,467.2 523.9,468.6" fill="#8db427"/><polygon points="523.7,468.4 528.1,467.0 529.6,468.7 525.2,470.2" fill="#6fbc33"/><polygon points="525.0,469.9 529.4,468.5 531.0,470.2 526.6,471.7" fill="#1fb177"/><polygon points="526.4,471.5 530.8,470.0 532.3,471.7 527.9,473.2" fill="#2482b6"/><polygon points="527.7,473.0 532.1,471.5 533.6,473.2 529.3,474.7" fill="#3455ae"/><polygon points="517.0,455.2 519.3,454.6 520.8,456.3 518.5,456.9" fill="#7fb929"/><polygon points="518.3,456.7 520.6,456.1 522.2,457.8 519.8,458.4" fill="#83b828"/><polygon points="519.6,458.2 522.0,457.5 523.5,459.2 521.2,459.9" fill="#83b828"/><polygon points="521.0,459.7 523.3,459.0 524.8,460.7 522.5,461.4" fill="#85b828"/><polygon points="522.3,461.2 524.6,460.5 526.1,462.2 523.8,462.9" fill="#85b828"/><polygon points="523.6,462.7 526.0,462.0 527.5,463.7 525.2,464.4" fill="#85b828"/><polygon points="525.0,464.2 527.3,463.5 528.8,465.2 526.5,465.9" fill="#83b828"/><polygon points="526.3,465.7 528.6,464.9 530.1,466.6 527.8,467.4" fill="#81b929"/><polygon points="527.6,467.2 529.9,466.4 531.5,468.1 529.2,468.9" fill="#62bd3c"/><polygon points="529.0,468.6 531.3,467.9 532.8,469.6 530.5,470.4" fill="#18ad80"/><polygon points="530.3,470.1 532.6,469.4 534.1,471.1 531.9,471.9" fill="#277eb8"/><polygon points="531.7,471.6 533.9,470.9 535.4,472.6 533.2,473.4" fill="#3455ae"/><polygon points="519.1,454.6 519.7,454.5 521.3,456.2 520.6,456.3" fill="#7dba2a"/><polygon points="520.4,456.1 521.1,456.0 522.6,457.7 522.0,457.8" fill="#7fb929"/><polygon points="521.8,457.6 522.4,457.4 523.9,459.1 523.3,459.3" fill="#7fb929"/><polygon points="523.1,459.1 523.7,458.9 525.3,460.6 524.6,460.8" fill="#81b929"/><polygon points="524.4,460.6 525.1,460.4 526.6,462.1 526.0,462.3" fill="#81b929"/><polygon points="525.8,462.0 526.4,461.9 527.9,463.6 527.3,463.7" fill="#7fb929"/><polygon points="527.1,463.5 527.7,463.4 529.2,465.1 528.6,465.2" fill="#7fb929"/><polygon points="528.4,465.0 529.0,464.8 530.6,466.5 529.9,466.7" fill="#7dba2a"/><polygon points="529.7,466.5 530.4,466.3 531.9,468.0 531.3,468.2" fill="#5cbc40"/><polygon points="531.1,468.0 531.7,467.8 533.2,469.5 532.6,469.7" fill="#17ac82"/><polygon points="532.4,469.4 533.0,469.3 534.6,471.0 533.9,471.1" fill="#287cb9"/><polygon points="533.7,470.9 534.4,470.8 535.9,472.5 535.3,472.6" fill="#3453ac"/><polygon points="519.6,454.5 521.2,454.3 522.7,455.9 521.1,456.2" fill="#7bba2b"/><polygon points="520.9,456.0 522.5,455.7 524.0,457.4 522.5,457.7" fill="#7bba2b"/><polygon points="522.3,457.5 523.8,457.2 525.3,458.9 523.8,459.2" fill="#7dba2a"/><polygon points="523.6,458.9 525.1,458.7 526.7,460.4 525.1,460.7" fill="#7dba2a"/><polygon points="524.9,460.4 526.5,460.1 528.0,461.8 526.4,462.1" fill="#7dba2a"/><polygon points="526.2,461.9 527.8,461.6 529.3,463.3 527.8,463.6" fill="#7dba2a"/><polygon points="527.6,463.4 529.1,463.1 530.6,464.8 529.1,465.1" fill="#7dba2a"/><polygon points="528.9,464.9 530.4,464.5 532.0,466.2 530.4,466.6" fill="#7bba2b"/><polygon points="530.2,466.4 531.8,466.0 533.3,467.7 531.8,468.1" fill="#59bc42"/><polygon points="531.6,467.8 533.1,467.5 534.6,469.2 533.1,469.5" fill="#15ab83"/><polygon points="532.9,469.3 534.4,469.0 535.9,470.7 534.4,471.0" fill="#287cb9"/><polygon points="534.2,470.8 535.7,470.4 537.3,472.1 535.7,472.5" fill="#3453ac"/><polygon points="520.8,454.3 525.4,453.6 526.9,455.2 522.3,456.0" fill="#77bb2d"/><polygon points="522.1,455.8 526.7,455.0 528.2,456.7 523.6,457.5" fill="#77bb2d"/><polygon points="523.4,457.3 528.0,456.5 529.5,458.1 524.9,459.0" fill="#77bb2d"/><polygon points="524.7,458.7 529.3,457.9 530.8,459.6 526.3,460.4" fill="#77bb2d"/><polygon points="526.1,460.2 530.6,459.3 532.1,461.0 527.6,461.9" fill="#77bb2d"/><polygon points="527.4,461.7 531.9,460.8 533.5,462.5 528.9,463.4" fill="#77bb2d"/><polygon points="528.7,463.2 533.3,462.2 534.8,463.9 530.3,464.9" fill="#77bb2d"/><polygon points="530.1,464.6 534.6,463.7 536.1,465.3 531.6,466.3" fill="#77bb2d"/><polygon points="531.4,466.1 535.9,465.1 537.4,466.8 532.9,467.8" fill="#57bc44"/><polygon points="532.7,467.6 537.2,466.6 538.7,468.2 534.2,469.3" fill="#14aa85"/><polygon points="534.0,469.1 538.5,468.0 540.0,469.7 535.6,470.7" fill="#2a7aba"/><polygon points="535.4,470.5 539.8,469.5 541.4,471.1 536.9,472.2" fill="#3453ac"/><polygon points="524.8,453.7 529.4,452.9 530.9,454.6 526.3,455.3" fill="#73bc30"/><polygon points="526.1,455.1 530.7,454.3 532.2,456.0 527.6,456.8" fill="#73bc30"/><polygon points="527.4,456.6 532.0,455.8 533.5,457.4 528.9,458.2" fill="#73bc30"/><polygon points="528.7,458.0 533.3,457.2 534.8,458.8 530.2,459.7" fill="#73bc30"/><polygon points="530.0,459.5 534.6,458.6 536.1,460.2 531.6,461.1" fill="#73bc30"/><polygon points="531.4,460.9 535.9,460.0 537.4,461.7 532.9,462.6" fill="#73bc30"/><polygon points="532.7,462.4 537.2,461.4 538.7,463.1 534.2,464.0" fill="#73bc30"/><polygon points="534.0,463.8 538.5,462.9 540.0,464.5 535.5,465.5" fill="#73bc30"/><polygon points="535.3,465.3 539.8,464.3 541.3,465.9 536.8,466.9" fill="#51bc49"/><polygon points="536.6,466.7 541.1,465.7 542.6,467.3 538.1,468.4" fill="#14a987"/><polygon points="537.9,468.2 542.4,467.1 544.0,468.7 539.5,469.8" fill="#2a7aba"/><polygon points="539.3,469.6 543.8,468.5 545.3,470.2 540.8,471.3" fill="#3453ac"/><polygon points="529.0,453.0 529.6,452.9 531.1,454.5 530.5,454.6" fill="#73bc30"/><polygon points="530.3,454.4 530.9,454.3 532.5,455.9 531.8,456.0" fill="#73bc30"/><polygon points="531.6,455.8 532.3,455.7 533.8,457.3 533.1,457.5" fill="#73bc30"/><polygon points="532.9,457.2 533.6,457.1 535.1,458.8 534.5,458.9" fill="#73bc30"/><polygon points="534.3,458.7 534.9,458.5 536.4,460.2 535.8,460.3" fill="#73bc30"/><polygon points="535.6,460.1 536.2,460.0 537.7,461.6 537.1,461.7" fill="#73bc30"/><polygon points="536.9,461.5 537.5,461.4 539.0,463.0 538.4,463.1" fill="#73bc30"/><polygon points="538.2,462.9 538.8,462.8 540.3,464.4 539.7,464.6" fill="#73bc30"/><polygon points="539.5,464.3 540.1,464.2 541.6,465.8 541.0,466.0" fill="#51bc49"/><polygon points="540.8,465.8 541.4,465.6 542.9,467.3 542.3,467.4" fill="#14a987"/><polygon points="542.1,467.2 542.7,467.0 544.2,468.7 543.6,468.8" fill="#2a7aba"/><polygon points="543.4,468.6 544.0,468.5 545.5,470.1 544.9,470.2" fill="#3453ac"/><polygon points="529.3,452.9 533.3,452.3 534.8,453.9 530.8,454.6" fill="#73bc30"/><polygon points="530.6,454.3 534.6,453.7 536.1,455.3 532.2,456.0" fill="#73bc30"/><polygon points="532.0,455.8 535.9,455.1 537.4,456.7 533.5,457.4" fill="#73bc30"/><polygon points="533.3,457.2 537.2,456.5 538.7,458.1 534.8,458.8" fill="#73bc30"/><polygon points="534.6,458.6 538.5,457.9 540.0,459.5 536.1,460.2" fill="#73bc30"/><polygon points="535.9,460.0 539.8,459.3 541.3,460.9 537.4,461.6" fill="#73bc30"/><polygon points="537.2,461.4 541.1,460.7 542.6,462.4 538.7,463.1" fill="#73bc30"/><polygon points="538.5,462.9 542.4,462.1 543.9,463.8 540.0,464.5" fill="#71bc31"/><polygon points="539.8,464.3 543.7,463.5 545.2,465.2 541.3,465.9" fill="#51bc49"/><polygon points="541.1,465.7 545.0,465.0 546.5,466.6 542.6,467.3" fill="#13a889"/><polygon points="542.4,467.1 546.4,466.4 547.9,468.0 543.9,468.7" fill="#2b79bb"/><polygon points="543.7,468.5 547.7,467.8 549.2,469.4 545.2,470.2" fill="#3453ac"/><polygon points="532.9,452.4 535.3,452.0 536.8,453.6 534.4,454.0" fill="#71bc31"/><polygon points="534.2,453.8 536.6,453.4 538.1,455.0 535.7,455.4" fill="#71bc31"/><polygon points="535.5,455.2 537.9,454.8 539.4,456.4 537.0,456.8" fill="#71bc31"/><polygon points="536.8,456.6 539.2,456.2 540.7,457.8 538.3,458.2" fill="#71bc31"/><polygon points="538.1,458.0 540.5,457.6 542.0,459.2 539.6,459.6" fill="#71bc31"/><polygon points="539.4,459.4 541.8,459.0 543.3,460.6 540.9,461.0" fill="#71bc31"/><polygon points="540.7,460.8 543.1,460.4 544.6,462.0 542.2,462.4" fill="#71bc31"/><polygon points="542.0,462.2 544.4,461.8 545.9,463.4 543.5,463.8" fill="#71bc31"/><polygon points="543.3,463.6 545.7,463.2 547.2,464.8 544.8,465.2" fill="#51bc49"/><polygon points="544.6,465.0 547.0,464.6 548.5,466.2 546.1,466.7" fill="#13a889"/><polygon points="545.9,466.4 548.3,466.0 549.8,467.6 547.4,468.1" fill="#2b79bb"/><polygon points="547.2,467.8 549.6,467.4 551.1,469.0 548.7,469.5" fill="#3453ac"/><polygon points="535.0,452.0 537.2,451.6 538.7,453.2 536.5,453.6" fill="#71bc31"/><polygon points="536.3,453.4 538.5,453.0 540.0,454.6 537.8,455.0" fill="#71bc31"/><polygon points="537.6,454.8 539.8,454.4 541.3,456.0 539.1,456.4" fill="#71bc31"/><polygon points="538.9,456.2 541.1,455.8 542.6,457.4 540.4,457.8" fill="#71bc31"/><polygon points="540.2,457.6 542.4,457.2 543.9,458.8 541.7,459.2" fill="#71bc31"/><polygon points="541.5,459.0 543.7,458.6 545.2,460.2 543.0,460.7" fill="#71bc31"/><polygon points="542.8,460.4 545.0,460.0 546.5,461.6 544.3,462.1" fill="#71bc31"/><polygon points="544.1,461.8 546.3,461.4 547.8,463.0 545.6,463.5" fill="#71bc31"/><polygon points="545.4,463.2 547.6,462.8 549.1,464.4 546.9,464.9" fill="#51bc49"/><polygon points="546.7,464.7 548.9,464.2 550.4,465.8 548.2,466.3" fill="#13a889"/><polygon points="548.0,466.1 550.2,465.6 551.7,467.2 549.5,467.7" fill="#2b79bb"/><polygon points="549.3,467.5 551.5,467.0 553.0,468.6 550.8,469.1" fill="#3453ac"/><polygon points="536.8,451.6 540.1,451.0 541.6,452.6 538.3,453.3" fill="#71bc31"/><polygon points="538.1,453.0 541.4,452.4 542.9,454.0 539.6,454.7" fill="#71bc31"/><polygon points="539.4,454.5 542.7,453.8 544.2,455.4 540.9,456.1" fill="#71bc31"/><polygon points="540.7,455.9 544.0,455.2 545.5,456.8 542.2,457.5" fill="#71bc31"/><polygon points="542.0,457.3 545.3,456.6 546.8,458.2 543.5,458.9" fill="#71bc31"/><polygon points="543.3,458.7 546.6,458.0 548.1,459.6 544.8,460.3" fill="#71bc31"/><polygon points="544.6,460.1 547.9,459.4 549.4,461.0 546.1,461.7" fill="#71bc31"/><polygon points="545.9,461.5 549.2,460.8 550.7,462.4 547.4,463.1" fill="#71bc31"/><polygon points="547.2,462.9 550.5,462.2 552.0,463.8 548.7,464.5" fill="#4ebb4b"/><polygon points="548.5,464.3 551.8,463.6 553.3,465.2 550.0,465.9" fill="#13a889"/><polygon points="549.8,465.7 553.1,465.0 554.6,466.7 551.3,467.3" fill="#2b79bb"/><polygon points="551.1,467.1 554.4,466.4 555.9,468.1 552.6,468.7" fill="#3453ac"/><polygon points="539.8,451.0 541.1,450.8 542.6,452.4 541.3,452.6" fill="#71bc31"/><polygon points="541.1,452.4 542.4,452.2 543.9,453.8 542.6,454.0" fill="#71bc31"/><polygon points="542.4,453.8 543.7,453.6 545.2,455.2 543.9,455.5" fill="#71bc31"/><polygon points="543.7,455.2 545.0,455.0 546.5,456.6 545.2,456.9" fill="#71bc31"/><polygon points="545.0,456.7 546.3,456.4 547.8,458.0 546.5,458.3" fill="#71bc31"/><polygon points="546.3,458.1 547.6,457.8 549.1,459.4 547.8,459.7" fill="#71bc31"/><polygon points="547.6,459.5 548.9,459.2 550.4,460.8 549.1,461.1" fill="#71bc31"/><polygon points="548.9,460.9 550.2,460.6 551.7,462.2 550.4,462.5" fill="#71bc31"/><polygon points="550.2,462.3 551.5,462.0 553.0,463.6 551.7,463.9" fill="#4ebb4b"/><polygon points="551.5,463.7 552.8,463.4 554.3,465.0 553.0,465.3" fill="#13a889"/><polygon points="552.8,465.1 554.1,464.8 555.6,466.4 554.3,466.7" fill="#2b79bb"/><polygon points="554.1,466.5 555.4,466.2 556.8,467.8 555.6,468.1" fill="#3453ac"/><polygon points="540.7,450.8 545.2,449.9 546.7,451.5 542.2,452.5" fill="#73bc30"/><polygon points="542.0,452.2 546.5,451.3 548.0,452.9 543.5,453.9" fill="#73bc30"/><polygon points="543.3,453.7 547.8,452.7 549.3,454.3 544.8,455.3" fill="#73bc30"/><polygon points="544.6,455.1 549.1,454.1 550.6,455.7 546.1,456.7" fill="#73bc30"/><polygon points="545.9,456.5 550.4,455.5 551.9,457.1 547.4,458.1" fill="#71bc31"/><polygon points="547.2,457.9 551.7,456.9 553.2,458.5 548.7,459.5" fill="#71bc31"/><polygon points="548.5,459.3 553.0,458.3 554.5,459.9 550.0,460.9" fill="#71bc31"/><polygon points="549.8,460.7 554.3,459.7 555.8,461.3 551.3,462.3" fill="#71bc31"/><polygon points="551.1,462.1 555.6,461.1 557.1,462.7 552.6,463.7" fill="#51bc49"/><polygon points="552.4,463.5 556.9,462.5 558.4,464.1 553.9,465.1" fill="#13a889"/><polygon points="553.7,464.9 558.2,463.9 559.7,465.5 555.2,466.5" fill="#2b79bb"/><polygon points="555.0,466.3 559.5,465.3 561.0,466.9 556.5,467.9" fill="#3453ac"/><polygon points="544.9,450.0 545.3,449.9 546.8,451.5 546.4,451.6" fill="#73bc30"/><polygon points="546.2,451.4 546.6,451.3 548.1,452.9 547.7,453.0" fill="#73bc30"/><polygon points="547.5,452.8 547.9,452.7 549.4,454.3 549.0,454.4" fill="#73bc30"/><polygon points="548.8,454.2 549.2,454.1 550.7,455.7 550.3,455.8" fill="#73bc30"/><polygon points="550.1,455.6 550.5,455.5 552.0,457.1 551.6,457.2" fill="#73bc30"/><polygon points="551.4,457.0 551.8,456.9 553.3,458.5 552.9,458.6" fill="#73bc30"/><polygon points="552.7,458.4 553.1,458.3 554.6,459.9 554.2,460.0" fill="#73bc30"/><polygon points="554.0,459.8 554.4,459.7 555.9,461.3 555.5,461.4" fill="#73bc30"/><polygon points="555.3,461.2 555.7,461.1 557.2,462.7 556.8,462.8" fill="#51bc49"/><polygon points="556.6,462.6 557.0,462.5 558.5,464.1 558.1,464.2" fill="#13a889"/><polygon points="557.9,464.0 558.3,463.9 559.8,465.5 559.4,465.6" fill="#2a7aba"/><polygon points="559.2,465.4 559.6,465.3 561.1,466.9 560.7,467.0" fill="#3453ac"/><polygon points="545.1,450.0 548.9,448.8 550.4,450.4 546.5,451.6" fill="#75bc2e"/><polygon points="546.3,451.4 550.2,450.2 551.7,451.8 547.8,453.0" fill="#75bc2e"/><polygon points="547.6,452.8 551.5,451.6 553.0,453.2 549.1,454.4" fill="#75bc2e"/><polygon points="548.9,454.2 552.8,453.0 554.3,454.7 550.4,455.8" fill="#73bc30"/><polygon points="550.2,455.6 554.1,454.5 555.6,456.1 551.7,457.2" fill="#73bc30"/><polygon points="551.5,457.0 555.4,455.9 556.9,457.5 553.0,458.6" fill="#73bc30"/><polygon points="552.8,458.4 556.7,457.3 558.2,458.9 554.3,460.0" fill="#73bc30"/><polygon points="554.1,459.7 558.0,458.7 559.5,460.4 555.6,461.4" fill="#73bc30"/><polygon points="555.4,461.1 559.3,460.1 560.8,461.8 556.9,462.8" fill="#51bc49"/><polygon points="556.7,462.5 560.6,461.6 562.1,463.2 558.2,464.1" fill="#14a987"/><polygon points="558.0,463.9 561.9,463.0 563.4,464.6 559.5,465.5" fill="#2a7aba"/><polygon points="559.3,465.3 563.2,464.4 564.7,466.0 560.8,466.9" fill="#3453ac"/><polygon points="548.6,448.9 548.8,448.8 550.3,450.4 550.1,450.5" fill="#77bb2d"/><polygon points="549.9,450.3 550.1,450.2 551.6,451.8 551.4,451.9" fill="#77bb2d"/><polygon points="551.2,451.7 551.4,451.6 552.9,453.3 552.7,453.3" fill="#75bc2e"/><polygon points="552.5,453.1 552.7,453.0 554.2,454.7 554.0,454.7" fill="#75bc2e"/><polygon points="553.8,454.5 554.0,454.5 555.5,456.1 555.3,456.2" fill="#75bc2e"/><polygon points="555.1,456.0 555.3,455.9 556.8,457.5 556.6,457.6" fill="#75bc2e"/><polygon points="556.4,457.4 556.6,457.3 558.1,458.9 557.9,459.0" fill="#73bc30"/><polygon points="557.7,458.8 557.9,458.7 559.4,460.3 559.2,460.4" fill="#73bc30"/><polygon points="559.0,460.2 559.2,460.1 560.7,461.8 560.5,461.9" fill="#51bc49"/><polygon points="560.3,461.6 560.5,461.5 562.0,463.2 561.8,463.3" fill="#14a987"/><polygon points="561.6,463.1 561.8,463.0 563.3,464.6 563.1,464.7" fill="#2a7aba"/><polygon points="562.9,464.5 563.1,464.4 564.6,466.0 564.4,466.1" fill="#3453ac"/><polygon points="548.5,448.9 553.0,447.5 554.4,449.1 550.0,450.5" fill="#79bb2c"/><polygon points="549.8,450.3 554.2,448.9 555.7,450.4 551.3,451.9" fill="#79bb2c"/><polygon points="551.1,451.7 555.5,450.2 557.0,451.8 552.6,453.4" fill="#77bb2d"/><polygon points="552.4,453.1 556.8,451.6 558.3,453.2 553.9,454.8" fill="#77bb2d"/><polygon points="553.7,454.6 558.1,453.0 559.5,454.6 555.2,456.2" fill="#77bb2d"/><polygon points="555.0,456.0 559.3,454.4 560.8,455.9 556.5,457.6" fill="#75bc2e"/><polygon points="556.3,457.4 560.6,455.7 562.1,457.3 557.8,459.0" fill="#75bc2e"/><polygon points="557.6,458.8 561.9,457.1 563.4,458.7 559.1,460.5" fill="#75bc2e"/><polygon points="558.9,460.3 563.2,458.5 564.6,460.0 560.4,461.9" fill="#54bc46"/><polygon points="560.2,461.7 564.5,459.8 565.9,461.4 561.7,463.3" fill="#14a987"/><polygon points="561.5,463.1 565.7,461.2 567.2,462.8 563.0,464.7" fill="#2a7aba"/><polygon points="562.8,464.5 567.0,462.6 568.5,464.2 564.3,466.1" fill="#3453ac"/><polygon points="552.5,447.6 555.5,446.7 557.0,448.2 554.0,449.2" fill="#7dba2a"/><polygon points="553.8,449.0 556.8,448.0 558.3,449.6 555.2,450.6" fill="#7dba2a"/><polygon points="555.0,450.4 558.1,449.4 559.5,450.9 556.5,452.0" fill="#7bba2b"/><polygon points="556.3,451.8 559.3,450.7 560.8,452.3 557.8,453.4" fill="#7bba2b"/><polygon points="557.6,453.2 560.6,452.1 562.0,453.6 559.1,454.7" fill="#79bb2c"/><polygon points="558.9,454.5 561.9,453.4 563.3,455.0 560.3,456.1" fill="#79bb2c"/><polygon points="560.2,455.9 563.1,454.7 564.6,456.3 561.6,457.5" fill="#77bb2d"/><polygon points="561.4,457.3 564.4,456.1 565.8,457.6 562.9,458.9" fill="#77bb2d"/><polygon points="562.7,458.7 565.6,457.4 567.1,459.0 564.2,460.2" fill="#54bc46"/><polygon points="564.0,460.0 566.9,458.8 568.4,460.3 565.5,461.6" fill="#14aa85"/><polygon points="565.3,461.4 568.2,460.1 569.6,461.7 566.7,463.0" fill="#2a7aba"/><polygon points="566.5,462.8 569.4,461.5 570.9,463.0 568.0,464.4" fill="#3453ac"/><polygon points="555.3,446.8 555.5,446.7 557.0,448.2 556.8,448.3" fill="#7fb929"/><polygon points="556.6,448.1 556.8,448.0 558.2,449.6 558.0,449.6" fill="#7dba2a"/><polygon points="557.9,449.4 558.0,449.4 559.5,450.9 559.3,451.0" fill="#7dba2a"/><polygon points="559.1,450.8 559.3,450.7 560.8,452.3 560.6,452.3" fill="#7bba2b"/><polygon points="560.4,452.1 560.6,452.1 562.0,453.6 561.8,453.7" fill="#7bba2b"/><polygon points="561.7,453.5 561.8,453.4 563.3,455.0 563.1,455.0" fill="#79bb2c"/><polygon points="562.9,454.8 563.1,454.8 564.5,456.3 564.4,456.4" fill="#79bb2c"/><polygon points="564.2,456.2 564.4,456.1 565.8,457.6 565.6,457.7" fill="#77bb2d"/><polygon points="565.4,457.5 565.6,457.4 567.1,459.0 566.9,459.1" fill="#57bc44"/><polygon points="566.7,458.9 566.9,458.8 568.3,460.3 568.2,460.4" fill="#14aa85"/><polygon points="568.0,460.2 568.1,460.1 569.6,461.7 569.4,461.8" fill="#2a7aba"/><polygon points="569.2,461.6 569.4,461.5 570.9,463.0 570.7,463.1" fill="#3453ac"/><polygon points="555.4,446.7 556.6,446.3 558.0,447.8 556.9,448.3" fill="#7fb929"/><polygon points="556.7,448.1 557.9,447.6 559.3,449.2 558.1,449.6" fill="#7fb929"/><polygon points="558.0,449.4 559.1,449.0 560.6,450.5 559.4,451.0" fill="#7dba2a"/><polygon points="559.2,450.8 560.4,450.3 561.8,451.8 560.7,452.3" fill="#7dba2a"/><polygon points="560.5,452.1 561.6,451.6 563.1,453.1 561.9,453.6" fill="#7bba2b"/><polygon points="561.7,453.4 562.9,452.9 564.3,454.5 563.2,455.0" fill="#79bb2c"/><polygon points="563.0,454.8 564.1,454.3 565.6,455.8 564.5,456.3" fill="#79bb2c"/><polygon points="564.3,456.1 565.4,455.6 566.8,457.1 565.7,457.7" fill="#77bb2d"/><polygon points="565.5,457.5 566.6,456.9 568.1,458.5 567.0,459.0" fill="#57bc44"/><polygon points="566.8,458.8 567.9,458.3 569.3,459.8 568.2,460.4" fill="#14aa85"/><polygon points="568.1,460.2 569.2,459.6 570.6,461.1 569.5,461.7" fill="#2a7aba"/><polygon points="569.3,461.5 570.4,460.9 571.9,462.4 570.8,463.1" fill="#3453ac"/><polygon points="556.2,446.4 560.6,444.8 562.0,446.3 557.7,448.0" fill="#83b828"/><polygon points="557.5,447.8 561.8,446.1 563.3,447.6 558.9,449.3" fill="#83b828"/><polygon points="558.8,449.1 563.1,447.4 564.5,448.9 560.2,450.6" fill="#81b929"/><polygon points="560.0,450.4 564.3,448.7 565.7,450.1 561.5,452.0" fill="#7fb929"/><polygon points="561.3,451.8 565.5,449.9 566.9,451.4 562.7,453.3" fill="#7dba2a"/><polygon points="562.5,453.1 566.8,451.2 568.2,452.7 564.0,454.6" fill="#7dba2a"/><polygon points="563.8,454.4 568.0,452.5 569.4,454.0 565.2,456.0" fill="#7bba2b"/><polygon points="565.0,455.8 569.2,453.8 570.6,455.2 566.5,457.3" fill="#79bb2c"/><polygon points="566.3,457.1 570.4,455.1 571.9,456.5 567.7,458.6" fill="#57bc44"/><polygon points="567.6,458.4 571.7,456.3 573.1,457.8 569.0,460.0" fill="#14aa85"/><polygon points="568.8,459.8 572.9,457.6 574.3,459.1 570.3,461.3" fill="#287cb9"/><polygon points="570.1,461.1 574.1,458.9 575.5,460.4 571.5,462.6" fill="#3453ac"/><polygon points="560.0,445.0 564.4,443.4 565.8,444.9 561.5,446.5" fill="#89b627"/><polygon points="561.3,446.3 565.6,444.7 567.0,446.1 562.7,447.8" fill="#89b627"/><polygon points="562.5,447.6 566.8,445.9 568.2,447.3 563.9,449.1" fill="#87b727"/><polygon points="563.7,448.9 568.0,447.1 569.4,448.5 565.2,450.4" fill="#85b828"/><polygon points="565.0,450.2 569.2,448.4 570.6,449.8 566.4,451.7" fill="#83b828"/><polygon points="566.2,451.5 570.4,449.6 571.8,451.0 567.6,452.9" fill="#81b929"/><polygon points="567.4,452.8 571.6,450.8 573.0,452.2 568.8,454.2" fill="#7fb929"/><polygon points="568.7,454.0 572.8,452.0 574.2,453.5 570.1,455.5" fill="#7dba2a"/><polygon points="569.9,455.3 574.0,453.3 575.4,454.7 571.3,456.8" fill="#5cbc40"/><polygon points="571.1,456.6 575.2,454.5 576.6,455.9 572.5,458.1" fill="#15ab83"/><polygon points="572.4,457.9 576.4,455.7 577.8,457.2 573.8,459.4" fill="#287cb9"/><polygon points="573.6,459.2 577.6,457.0 579.0,458.4 575.0,460.7" fill="#3453ac"/><polygon points="564.1,443.5 564.2,443.5 565.6,444.9 565.5,445.0" fill="#8db427"/><polygon points="565.3,444.8 565.4,444.7 566.8,446.2 566.7,446.2" fill="#8bb527"/><polygon points="566.5,446.0 566.6,446.0 568.0,447.4 567.9,447.4" fill="#89b627"/><polygon points="567.7,447.2 567.8,447.2 569.2,448.6 569.1,448.7" fill="#87b727"/><polygon points="568.9,448.5 569.0,448.4 570.4,449.9 570.3,449.9" fill="#85b828"/><polygon points="570.1,449.7 570.2,449.7 571.6,451.1 571.5,451.1" fill="#83b828"/><polygon points="571.3,450.9 571.4,450.9 572.8,452.3 572.7,452.4" fill="#81b929"/><polygon points="572.6,452.2 572.6,452.1 574.0,453.6 573.9,453.6" fill="#7fb929"/><polygon points="573.8,453.4 573.9,453.4 575.2,454.8 575.1,454.8" fill="#5fbc3e"/><polygon points="575.0,454.6 575.1,454.6 576.4,456.0 576.3,456.1" fill="#17ac82"/><polygon points="576.2,455.9 576.3,455.8 577.6,457.3 577.6,457.3" fill="#277eb8"/><polygon points="577.4,457.1 577.5,457.1 578.8,458.5 578.8,458.5" fill="#3455ae"/><polygon points="564.0,443.7 567.7,441.1 569.1,442.5 565.4,445.1" fill="#91b326"/><polygon points="565.2,444.9 568.9,442.3 570.3,443.8 566.6,446.3" fill="#8fb326"/><polygon points="566.4,446.1 570.1,443.6 571.5,445.0 567.8,447.6" fill="#8db427"/><polygon points="567.6,447.4 571.4,444.9 572.8,446.3 569.0,448.8" fill="#8bb527"/><polygon points="568.8,448.6 572.6,446.1 574.0,447.6 570.2,450.0" fill="#89b627"/><polygon points="570.0,449.8 573.8,447.4 575.2,448.8 571.4,451.2" fill="#87b727"/><polygon points="571.2,451.1 575.0,448.6 576.4,450.1 572.6,452.5" fill="#83b828"/><polygon points="572.4,452.3 576.2,449.9 577.6,451.4 573.8,453.7" fill="#81b929"/><polygon points="573.6,453.5 577.5,451.2 578.9,452.6 575.0,454.9" fill="#62bd3c"/><polygon points="574.8,454.8 578.7,452.4 580.1,453.9 576.2,456.2" fill="#18ad80"/><polygon points="576.0,456.0 579.9,453.7 581.3,455.2 577.4,457.4" fill="#277eb8"/><polygon points="577.2,457.2 581.1,455.0 582.5,456.4 578.6,458.6" fill="#3455ae"/><polygon points="567.3,441.3 569.0,440.1 570.4,441.6 568.7,442.8" fill="#94b126"/><polygon points="568.6,442.6 570.2,441.4 571.6,442.9 570.0,444.0" fill="#94b126"/><polygon points="569.8,443.8 571.5,442.7 572.9,444.2 571.2,445.3" fill="#92b226"/><polygon points="571.0,445.1 572.7,444.0 574.1,445.4 572.4,446.5" fill="#91b326"/><polygon points="572.2,446.4 573.9,445.2 575.3,446.7 573.6,447.8" fill="#8fb326"/><polygon points="573.4,447.6 575.1,446.5 576.6,448.0 574.8,449.1" fill="#8bb527"/><polygon points="574.7,448.9 576.4,447.8 577.8,449.3 576.1,450.3" fill="#89b627"/><polygon points="575.9,450.1 577.6,449.1 579.0,450.5 577.3,451.6" fill="#85b828"/><polygon points="577.1,451.4 578.8,450.3 580.2,451.8 578.5,452.8" fill="#64bd3a"/><polygon points="578.3,452.7 580.0,451.6 581.5,453.1 579.7,454.1" fill="#1aae7e"/><polygon points="579.5,453.9 581.3,452.9 582.7,454.4 580.9,455.4" fill="#2680b7"/><polygon points="580.7,455.2 582.5,454.2 583.9,455.6 582.1,456.6" fill="#3455ae"/><polygon points="568.8,440.3 570.6,439.0 572.0,440.5 570.2,441.8" fill="#98ae27"/><polygon points="570.0,441.6 571.9,440.3 573.3,441.8 571.4,443.0" fill="#98ae27"/><polygon points="571.2,442.9 573.1,441.6 574.5,443.0 572.6,444.3" fill="#96b026"/><polygon points="572.5,444.1 574.3,442.8 575.7,444.3 573.9,445.6" fill="#94b126"/><polygon points="573.7,445.4 575.5,444.1 576.9,445.6 575.1,446.9" fill="#92b226"/><polygon points="574.9,446.7 576.7,445.4 578.2,446.9 576.3,448.1" fill="#8fb326"/><polygon points="576.1,447.9 578.0,446.7 579.4,448.1 577.5,449.4" fill="#8bb527"/><polygon points="577.4,449.2 579.2,447.9 580.6,449.4 578.8,450.7" fill="#87b727"/><polygon points="578.6,450.5 580.4,449.2 581.8,450.7 580.0,452.0" fill="#6abc36"/><polygon points="579.8,451.8 581.6,450.5 583.1,452.0 581.2,453.2" fill="#1baf7c"/><polygon points="581.0,453.0 582.9,451.8 584.3,453.2 582.4,454.5" fill="#2680b7"/><polygon points="582.3,454.3 584.1,453.0 585.5,454.5 583.7,455.8" fill="#3455ae"/><polygon points="570.5,439.1 570.8,438.9 572.2,440.4 571.9,440.6" fill="#9aad27"/><polygon points="571.7,440.4 572.0,440.2 573.4,441.6 573.1,441.9" fill="#9aad27"/><polygon points="572.9,441.7 573.2,441.4 574.6,442.9 574.3,443.1" fill="#98ae27"/><polygon points="574.2,442.9 574.4,442.7 575.9,444.2 575.6,444.4" fill="#96b026"/><polygon points="575.4,444.2 575.7,444.0 577.1,445.5 576.8,445.7" fill="#94b126"/><polygon points="576.6,445.5 576.9,445.3 578.3,446.7 578.0,447.0" fill="#92b226"/><polygon points="577.8,446.8 578.1,446.5 579.5,448.0 579.2,448.2" fill="#8fb326"/><polygon points="579.1,448.0 579.4,447.8 580.8,449.3 580.5,449.5" fill="#8bb527"/><polygon points="580.3,449.3 580.6,449.1 582.0,450.6 581.7,450.8" fill="#6cbc34"/><polygon points="581.5,450.6 581.8,450.4 583.2,451.8 582.9,452.1" fill="#1db079"/><polygon points="582.7,451.9 583.0,451.7 584.4,453.1 584.1,453.3" fill="#2482b6"/><polygon points="584.0,453.1 584.3,452.9 585.7,454.4 585.4,454.6" fill="#3455ae"/><polygon points="570.5,439.1 574.1,436.2 575.6,437.7 571.9,440.6" fill="#9faa27"/><polygon points="571.7,440.4 575.4,437.5 576.8,439.0 573.2,441.8" fill="#9faa27"/><polygon points="573.0,441.6 576.6,438.8 578.0,440.3 574.4,443.1" fill="#9dab27"/><polygon points="574.2,442.9 577.9,440.1 579.3,441.6 575.6,444.4" fill="#9bac27"/><polygon points="575.4,444.2 579.1,441.4 580.5,442.9 576.8,445.7" fill="#9aad27"/><polygon points="576.6,445.5 580.3,442.7 581.8,444.2 578.0,446.9" fill="#98ae27"/><polygon points="577.9,446.7 581.6,444.0 583.0,445.5 579.3,448.2" fill="#94b126"/><polygon points="579.1,448.0 582.8,445.3 584.2,446.8 580.5,449.5" fill="#8fb326"/><polygon points="580.3,449.3 584.0,446.6 585.5,448.1 581.7,450.8" fill="#71bc31"/><polygon points="581.5,450.6 585.3,447.9 586.7,449.4 582.9,452.0" fill="#21b175"/><polygon points="582.8,451.8 586.5,449.2 587.9,450.6 584.2,453.3" fill="#2482b6"/><polygon points="584.0,453.1 587.8,450.5 589.2,451.9 585.4,454.6" fill="#3457b0"/><polygon points="573.7,436.6 577.3,433.6 578.7,435.2 575.1,438.0" fill="#a8a229"/><polygon points="574.9,437.9 578.5,435.0 580.0,436.5 576.3,439.3" fill="#aaa12a"/><polygon points="576.1,439.1 579.8,436.3 581.2,437.8 577.6,440.6" fill="#aaa12a"/><polygon points="577.4,440.4 581.0,437.6 582.5,439.1 578.8,441.9" fill="#a8a229"/><polygon points="578.6,441.7 582.3,438.9 583.7,440.4 580.0,443.2" fill="#a7a329"/><polygon points="579.9,443.0 583.5,440.2 585.0,441.7 581.3,444.5" fill="#a4a628"/><polygon points="581.1,444.3 584.8,441.6 586.2,443.1 582.5,445.8" fill="#9faa27"/><polygon points="582.3,445.6 586.0,442.9 587.5,444.4 583.7,447.1" fill="#9aad27"/><polygon points="583.6,446.9 587.3,444.2 588.7,445.7 585.0,448.4" fill="#7bba2b"/><polygon points="584.8,448.2 588.5,445.5 590.0,447.0 586.2,449.7" fill="#2ab56b"/><polygon points="586.0,449.5 589.8,446.8 591.2,448.3 587.5,451.0" fill="#2087b1"/><polygon points="587.3,450.8 591.0,448.1 592.5,449.7 588.7,452.3" fill="#3457b0"/><polygon points="576.9,434.0 579.2,432.1 580.6,433.7 578.3,435.5" fill="#b1982b"/><polygon points="578.2,435.3 580.4,433.5 581.9,435.0 579.6,436.8" fill="#b2962b"/><polygon points="579.4,436.6 581.7,434.8 583.1,436.3 580.8,438.1" fill="#b3952b"/><polygon points="580.7,437.9 582.9,436.1 584.4,437.6 582.1,439.4" fill="#b3952b"/><polygon points="581.9,439.2 584.2,437.4 585.6,439.0 583.3,440.7" fill="#b2962b"/><polygon points="583.2,440.5 585.5,438.8 586.9,440.3 584.6,442.0" fill="#b0992b"/><polygon points="584.4,441.8 586.7,440.1 588.2,441.6 585.8,443.4" fill="#ab9f2a"/><polygon points="585.6,443.2 588.0,441.4 589.4,443.0 587.1,444.7" fill="#a5a529"/><polygon points="586.9,444.5 589.2,442.8 590.7,444.3 588.3,446.0" fill="#87b727"/><polygon points="588.1,445.8 590.5,444.1 591.9,445.6 589.6,447.3" fill="#37b85f"/><polygon points="589.4,447.1 591.7,445.4 593.2,447.0 590.8,448.6" fill="#1e8bae"/><polygon points="590.6,448.4 593.0,446.8 594.4,448.3 592.1,449.9" fill="#3459b2"/><polygon points="579.0,432.3 579.8,431.7 581.2,433.2 580.4,433.8" fill="#b5922b"/><polygon points="580.2,433.6 581.0,433.0 582.5,434.5 581.7,435.1" fill="#b78f2b"/><polygon points="581.5,434.9 582.3,434.3 583.7,435.8 582.9,436.5" fill="#b88d2b"/><polygon points="582.7,436.3 583.5,435.6 585.0,437.2 584.2,437.8" fill="#b88d2b"/><polygon points="584.0,437.6 584.8,437.0 586.2,438.5 585.4,439.1" fill="#b78f2b"/><polygon points="585.3,438.9 586.0,438.3 587.5,439.8 586.7,440.5" fill="#b5922b"/><polygon points="586.5,440.3 587.3,439.6 588.7,441.2 588.0,441.8" fill="#b1982b"/><polygon points="587.8,441.6 588.5,441.0 590.0,442.5 589.2,443.1" fill="#ac9e2a"/><polygon points="589.0,442.9 589.8,442.3 591.2,443.8 590.5,444.5" fill="#8fb326"/><polygon points="590.3,444.3 591.0,443.6 592.5,445.1 591.7,445.8" fill="#3fb957"/><polygon points="591.5,445.6 592.3,444.9 593.7,446.5 593.0,447.1" fill="#1b8eab"/><polygon points="592.8,446.9 593.6,446.3 595.0,447.8 594.2,448.4" fill="#345bb3"/><polygon points="579.7,431.7 580.2,431.2 581.7,432.7 581.1,433.3" fill="#b78f2b"/><polygon points="580.9,433.1 581.5,432.5 582.9,434.1 582.4,434.6" fill="#b88b2a"/><polygon points="582.2,434.4 582.7,433.9 584.2,435.4 583.6,435.9" fill="#b98829"/><polygon points="583.4,435.7 584.0,435.2 585.4,436.7 584.9,437.2" fill="#b98829"/><polygon points="584.7,437.0 585.2,436.5 586.7,438.1 586.1,438.6" fill="#b98a2a"/><polygon points="585.9,438.4 586.5,437.9 587.9,439.4 587.4,439.9" fill="#b78f2b"/><polygon points="587.2,439.7 587.7,439.2 589.2,440.7 588.6,441.2" fill="#b4932b"/><polygon points="588.5,441.0 589.0,440.5 590.4,442.1 589.9,442.6" fill="#af9b2b"/><polygon points="589.7,442.4 590.3,441.9 591.7,443.4 591.1,443.9" fill="#92b226"/><polygon points="591.0,443.7 591.5,443.2 593.0,444.7 592.4,445.2" fill="#42ba55"/><polygon points="592.2,445.0 592.8,444.5 594.2,446.1 593.7,446.5" fill="#1b8eab"/><polygon points="593.5,446.3 594.0,445.9 595.5,447.4 594.9,447.9" fill="#345bb3"/><polygon points="580.0,431.5 583.3,428.2 584.8,429.8 581.4,433.0" fill="#bb8328"/><polygon points="581.2,432.8 584.6,429.6 586.0,431.1 582.7,434.3" fill="#bc7d26"/><polygon points="582.5,434.1 585.8,430.9 587.3,432.5 583.9,435.7" fill="#bc7924"/><polygon points="583.7,435.4 587.1,432.3 588.6,433.8 585.2,437.0" fill="#bc7924"/><polygon points="585.0,436.8 588.4,433.6 589.8,435.2 586.4,438.3" fill="#bc7b25"/><polygon points="586.2,438.1 589.6,435.0 591.1,436.5 587.7,439.6" fill="#bb7f26"/><polygon points="587.5,439.4 590.9,436.3 592.4,437.9 588.9,441.0" fill="#b98829"/><polygon points="588.7,440.8 592.2,437.7 593.6,439.2 590.2,442.3" fill="#b6902b"/><polygon points="590.0,442.1 593.4,439.0 594.9,440.6 591.4,443.6" fill="#9dab27"/><polygon points="591.3,443.4 594.7,440.4 596.2,441.9 592.7,445.0" fill="#51bc49"/><polygon points="592.5,444.8 596.0,441.7 597.4,443.3 594.0,446.3" fill="#1893a5"/><polygon points="593.8,446.1 597.2,443.0 598.7,444.6 595.2,447.6" fill="#345db5"/><polygon points="582.9,428.6 585.6,426.0 587.1,427.6 584.4,430.2" fill="#bc6d1f"/><polygon points="584.2,430.0 586.9,427.4 588.3,429.0 585.6,431.5" fill="#ba611a"/><polygon points="585.4,431.3 588.1,428.8 589.6,430.3 586.9,432.9" fill="#b95b17"/><polygon points="586.7,432.6 589.4,430.1 590.9,431.7 588.2,434.2" fill="#b85615"/><polygon points="588.0,434.0 590.7,431.5 592.2,433.0 589.4,435.5" fill="#b95916"/><polygon points="589.2,435.3 592.0,432.8 593.4,434.4 590.7,436.9" fill="#ba5f19"/><polygon points="590.5,436.7 593.2,434.2 594.7,435.8 592.0,438.2" fill="#bc6d1f"/><polygon points="591.8,438.0 594.5,435.5 596.0,437.1 593.2,439.6" fill="#bc7924"/><polygon points="593.0,439.4 595.8,436.9 597.3,438.5 594.5,440.9" fill="#ae9c2a"/><polygon points="594.3,440.7 597.1,438.3 598.5,439.8 595.8,442.3" fill="#67bd38"/><polygon points="595.6,442.1 598.3,439.6 599.8,441.2 597.0,443.6" fill="#149a9e"/><polygon points="596.8,443.4 599.6,441.0 601.1,442.5 598.3,445.0" fill="#345fb6"/><polygon points="585.4,426.2 586.0,425.6 587.5,427.2 586.8,427.8" fill="#b95b17"/><polygon points="586.6,427.6 587.3,427.0 588.8,428.5 588.1,429.2" fill="#b65012"/><polygon points="587.9,429.0 588.6,428.3 590.1,429.9 589.4,430.5" fill="#b3470f"/><polygon points="589.2,430.3 589.9,429.7 591.3,431.3 590.7,431.9" fill="#b2430d"/><polygon points="590.5,431.7 591.2,431.0 592.6,432.6 591.9,433.2" fill="#b2450e"/><polygon points="591.7,433.0 592.4,432.4 593.9,434.0 593.2,434.6" fill="#b54b11"/><polygon points="593.0,434.4 593.7,433.8 595.2,435.3 594.5,436.0" fill="#b95916"/><polygon points="594.3,435.7 595.0,435.1 596.5,436.7 595.8,437.3" fill="#bc6a1e"/><polygon points="595.6,437.1 596.3,436.5 597.7,438.1 597.0,438.7" fill="#b5922b"/><polygon points="596.8,438.5 597.5,437.9 599.0,439.4 598.3,440.0" fill="#73bc30"/><polygon points="598.1,439.8 598.8,439.2 600.3,440.8 599.6,441.4" fill="#129e98"/><polygon points="599.4,441.2 600.1,440.6 601.6,442.2 600.8,442.7" fill="#3460b8"/><polygon points="585.9,425.8 587.7,424.0 589.2,425.6 587.3,427.3" fill="#b64e12"/><polygon points="587.2,427.1 589.0,425.4 590.5,426.9 588.6,428.7" fill="#b1410c"/><polygon points="588.4,428.5 590.3,426.7 591.8,428.3 589.9,430.0" fill="#ac3809"/><polygon points="589.7,429.8 591.6,428.1 593.1,429.7 591.2,431.4" fill="#aa3508"/><polygon points="591.0,431.2 592.9,429.5 594.4,431.1 592.5,432.8" fill="#ab3609"/><polygon points="592.3,432.6 594.2,430.9 595.6,432.4 593.7,434.1" fill="#af3d0b"/><polygon points="593.5,433.9 595.5,432.2 596.9,433.8 595.0,435.5" fill="#b44910"/><polygon points="594.8,435.3 596.7,433.6 598.2,435.2 596.3,436.9" fill="#b95b17"/><polygon points="596.1,436.6 598.0,435.0 599.5,436.6 597.6,438.2" fill="#b98a2a"/><polygon points="597.4,438.0 599.3,436.4 600.8,438.0 598.8,439.6" fill="#7dba2a"/><polygon points="598.7,439.4 600.6,437.8 602.1,439.3 600.1,440.9" fill="#12a194"/><polygon points="599.9,440.7 601.9,439.1 603.4,440.7 601.4,442.3" fill="#3462b9"/><polygon points="587.5,424.2 589.2,423.0 590.7,424.6 589.0,425.8" fill="#af3d0b"/><polygon points="588.8,425.5 590.5,424.4 592.0,426.0 590.3,427.1" fill="#a63007"/><polygon points="590.1,426.9 591.8,425.8 593.3,427.3 591.5,428.5" fill="#a02805"/><polygon points="591.4,428.3 593.1,427.1 594.5,428.7 592.8,429.9" fill="#9b2404"/><polygon points="592.6,429.7 594.4,428.5 595.8,430.1 594.1,431.3" fill="#9d2604"/><polygon points="593.9,431.1 595.6,429.8 597.1,431.4 595.4,432.6" fill="#a22b05"/><polygon points="595.2,432.4 596.9,431.2 598.4,432.8 596.7,434.0" fill="#ab3609"/><polygon points="596.5,433.8 598.2,432.6 599.7,434.1 598.0,435.4" fill="#b3470f"/><polygon points="597.8,435.2 599.5,433.9 600.9,435.5 599.3,436.8" fill="#bc7b25"/><polygon points="599.1,436.6 600.7,435.3 602.2,436.9 600.6,438.1" fill="#89b627"/><polygon points="600.4,437.9 602.0,436.7 603.5,438.2 601.9,439.5" fill="#12a58e"/><polygon points="601.7,439.3 603.3,438.0 604.8,439.6 603.1,440.9" fill="#3364ba"/><polygon points="588.9,423.3 592.4,420.9 593.9,422.5 590.4,424.8" fill="#a02805"/><polygon points="590.2,424.6 593.7,422.3 595.1,423.8 591.6,426.2" fill="#901b02"/><polygon points="591.5,426.0 594.9,423.6 596.4,425.2 592.9,427.6" fill="#851401"/><polygon points="592.7,427.4 596.2,425.0 597.7,426.5 594.2,428.9" fill="#7d1001"/><polygon points="594.0,428.7 597.5,426.3 598.9,427.9 595.5,430.3" fill="#7f1101"/><polygon points="595.3,430.1 598.7,427.6 600.2,429.2 596.8,431.7" fill="#871501"/><polygon points="596.6,431.5 600.0,429.0 601.4,430.5 598.0,433.0" fill="#951f03"/><polygon points="597.9,432.8 601.2,430.3 602.7,431.9 599.3,434.4" fill="#a63007"/><polygon points="599.1,434.2 602.5,431.7 603.9,433.2 600.6,435.8" fill="#ba611a"/><polygon points="600.4,435.6 603.7,433.0 605.2,434.6 601.9,437.1" fill="#9aad27"/><polygon points="601.7,436.9 605.0,434.3 606.5,435.9 603.2,438.5" fill="#14aa85"/><polygon points="603.0,438.3 606.3,435.7 607.7,437.2 604.4,439.9" fill="#3366bb"/><polygon points="592.2,421.1 592.5,420.9 594.0,422.4 593.6,422.7" fill="#901b02"/><polygon points="593.4,422.5 593.8,422.2 595.2,423.8 594.9,424.0" fill="#7d1001"/><polygon points="594.7,423.8 595.1,423.6 596.5,425.1 596.1,425.3" fill="#6c0801"/><polygon points="596.0,425.1 596.3,424.9 597.8,426.4 597.4,426.7" fill="#690801"/><polygon points="597.2,426.5 597.6,426.2 599.0,427.8 598.7,428.0" fill="#690801"/><polygon points="598.5,427.8 598.8,427.6 600.3,429.1 599.9,429.4" fill="#6e0901"/><polygon points="599.7,429.2 600.1,428.9 601.5,430.5 601.2,430.7" fill="#811201"/><polygon points="601.0,430.5 601.3,430.3 602.8,431.8 602.4,432.1" fill="#982103"/><polygon points="602.2,431.8 602.6,431.6 604.0,433.1 603.7,433.4" fill="#b65012"/><polygon points="603.5,433.2 603.9,432.9 605.3,434.5 605.0,434.7" fill="#a5a529"/><polygon points="604.8,434.5 605.1,434.3 606.6,435.8 606.2,436.1" fill="#18ad80"/><polygon points="606.0,435.9 606.4,435.6 607.8,437.2 607.5,437.4" fill="#3368bb"/><polygon points="592.3,421.1 596.2,418.5 597.6,420.0 593.7,422.6" fill="#7f1101"/><polygon points="593.5,422.4 597.4,419.8 598.8,421.4 595.0,423.9" fill="#690801"/><polygon points="594.8,423.7 598.6,421.2 600.1,422.7 596.2,425.3" fill="#690801"/><polygon points="596.0,425.1 599.9,422.5 601.3,424.0 597.5,426.6" fill="#690801"/><polygon points="597.3,426.4 601.1,423.8 602.5,425.3 598.7,428.0" fill="#690801"/><polygon points="598.6,427.8 602.4,425.1 603.8,426.6 600.0,429.3" fill="#690801"/><polygon points="599.8,429.1 603.6,426.4 605.0,428.0 601.3,430.7" fill="#690801"/><polygon points="601.1,430.5 604.8,427.8 606.3,429.3 602.5,432.0" fill="#851401"/><polygon points="602.3,431.8 606.1,429.1 607.5,430.6 603.8,433.3" fill="#af3d0b"/><polygon points="603.6,433.1 607.3,430.4 608.7,431.9 605.0,434.7" fill="#af9b2b"/><polygon points="604.8,434.5 608.5,431.7 610.0,433.2 606.3,436.0" fill="#1fb177"/><polygon points="606.1,435.8 609.8,433.0 611.2,434.5 607.5,437.4" fill="#326bbc"/><polygon points="595.8,418.7 596.9,418.1 598.3,419.6 597.3,420.2" fill="#690801"/><polygon points="597.1,420.1 598.1,419.4 599.5,420.9 598.5,421.6" fill="#690801"/><polygon points="598.3,421.4 599.3,420.7 600.8,422.2 599.7,422.9" fill="#690801"/><polygon points="599.6,422.7 600.6,422.0 602.0,423.5 601.0,424.2" fill="#690801"/><polygon points="600.8,424.0 601.8,423.3 603.2,424.8 602.2,425.5" fill="#690801"/><polygon points="602.0,425.3 603.0,424.6 604.5,426.1 603.5,426.9" fill="#690801"/><polygon points="603.3,426.7 604.3,425.9 605.7,427.5 604.7,428.2" fill="#690801"/><polygon points="604.5,428.0 605.5,427.3 606.9,428.8 605.9,429.5" fill="#700a01"/><polygon points="605.8,429.3 606.8,428.6 608.2,430.1 607.2,430.8" fill="#a52e06"/><polygon points="607.0,430.6 608.0,429.9 609.4,431.4 608.4,432.1" fill="#b6902b"/><polygon points="608.2,431.9 609.2,431.2 610.6,432.7 609.7,433.5" fill="#25b370"/><polygon points="609.5,433.3 610.5,432.5 611.9,434.0 610.9,434.8" fill="#316dbc"/><polygon points="596.6,418.2 599.3,416.0 600.7,417.6 598.1,419.8" fill="#690801"/><polygon points="597.9,419.6 600.5,417.4 601.9,418.9 599.3,421.1" fill="#690801"/><polygon points="599.1,420.9 601.7,418.7 603.2,420.2 600.5,422.4" fill="#690801"/><polygon points="600.3,422.2 603.0,420.0 604.4,421.5 601.8,423.7" fill="#690801"/><polygon points="601.6,423.5 604.2,421.3 605.6,422.9 603.0,425.0" fill="#690801"/><polygon points="602.8,424.8 605.5,422.7 606.9,424.2 604.2,426.3" fill="#690801"/><polygon points="604.0,426.1 606.7,424.0 608.1,425.5 605.5,427.6" fill="#690801"/><polygon points="605.3,427.4 607.9,425.3 609.4,426.8 606.7,429.0" fill="#690801"/><polygon points="606.5,428.8 609.2,426.6 610.6,428.2 607.9,430.3" fill="#9e2704"/><polygon points="607.7,430.1 610.4,428.0 611.8,429.5 609.2,431.6" fill="#b98a2a"/><polygon points="609.0,431.4 611.7,429.3 613.1,430.8 610.4,432.9" fill="#2ab56b"/><polygon points="610.2,432.7 612.9,430.6 614.3,432.1 611.6,434.2" fill="#316dbc"/><polygon points="599.1,416.2 599.3,416.0 600.8,417.5 600.5,417.7" fill="#690801"/><polygon points="600.3,417.5 600.6,417.3 602.0,418.8 601.7,419.1" fill="#690801"/><polygon points="601.5,418.9 601.8,418.6 603.2,420.2 603.0,420.4" fill="#690801"/><polygon points="602.8,420.2 603.1,420.0 604.5,421.5 604.2,421.7" fill="#690801"/><polygon points="604.0,421.5 604.3,421.3 605.7,422.8 605.5,423.0" fill="#690801"/><polygon points="605.3,422.8 605.5,422.6 607.0,424.1 606.7,424.4" fill="#690801"/><polygon points="606.5,424.2 606.8,423.9 608.2,425.5 607.9,425.7" fill="#690801"/><polygon points="607.7,425.5 608.0,425.3 609.4,426.8 609.2,427.0" fill="#690801"/><polygon points="609.0,426.8 609.3,426.6 610.7,428.1 610.4,428.3" fill="#9a2303"/><polygon points="610.2,428.1 610.5,427.9 611.9,429.4 611.7,429.6" fill="#ba8629"/><polygon points="611.5,429.5 611.7,429.2 613.2,430.8 612.9,431.0" fill="#2fb666"/><polygon points="612.7,430.8 613.0,430.6 614.4,432.1 614.1,432.3" fill="#306fbd"/><polygon points="599.1,416.2 602.4,413.4 603.8,415.0 600.5,417.7" fill="#690801"/><polygon points="600.3,417.5 603.7,414.8 605.1,416.3 601.8,419.0" fill="#690801"/><polygon points="601.6,418.8 604.9,416.1 606.3,417.6 603.0,420.3" fill="#690801"/><polygon points="602.8,420.1 606.2,417.4 607.6,419.0 604.3,421.7" fill="#690801"/><polygon points="604.1,421.5 607.4,418.8 608.9,420.3 605.5,423.0" fill="#690801"/><polygon points="605.3,422.8 608.7,420.1 610.1,421.7 606.7,424.3" fill="#690801"/><polygon points="606.5,424.1 609.9,421.5 611.4,423.0 608.0,425.6" fill="#690801"/><polygon points="607.8,425.4 611.2,422.8 612.6,424.4 609.2,427.0" fill="#690801"/><polygon points="609.0,426.8 612.4,424.2 613.9,425.7 610.4,428.3" fill="#951f03"/><polygon points="610.3,428.1 613.7,425.5 615.1,427.1 611.7,429.6" fill="#bb8328"/><polygon points="611.5,429.4 614.9,426.9 616.4,428.4 612.9,430.9" fill="#31b764"/><polygon points="612.7,430.7 616.2,428.2 617.6,429.8 614.2,432.3" fill="#306fbd"/><polygon points="602.0,413.7 604.4,411.8 605.8,413.3 603.5,415.3" fill="#690801"/><polygon points="603.3,415.1 605.6,413.1 607.1,414.7 604.7,416.6" fill="#690801"/><polygon points="604.5,416.4 606.9,414.5 608.3,416.0 606.0,417.9" fill="#690801"/><polygon points="605.8,417.7 608.1,415.8 609.6,417.4 607.2,419.3" fill="#690801"/><polygon points="607.0,419.1 609.4,417.2 610.8,418.8 608.5,420.6" fill="#690801"/><polygon points="608.3,420.4 610.7,418.6 612.1,420.1 609.7,422.0" fill="#690801"/><polygon points="609.5,421.8 611.9,419.9 613.4,421.5 611.0,423.3" fill="#690801"/><polygon points="610.8,423.1 613.2,421.3 614.6,422.8 612.2,424.7" fill="#690801"/><polygon points="612.0,424.5 614.4,422.6 615.9,424.2 613.5,426.0" fill="#941e02"/><polygon points="613.3,425.8 615.7,424.0 617.2,425.6 614.7,427.4" fill="#bb8127"/><polygon points="614.5,427.1 617.0,425.4 618.4,426.9 616.0,428.7" fill="#31b764"/><polygon points="615.8,428.5 618.2,426.7 619.7,428.3 617.2,430.0" fill="#306fbd"/><polygon points="604.1,412.0 605.4,410.9 606.8,412.5 605.6,413.5" fill="#690801"/><polygon points="605.4,413.3 606.6,412.3 608.1,413.8 606.8,414.9" fill="#690801"/><polygon points="606.6,414.7 607.9,413.6 609.3,415.2 608.1,416.2" fill="#690801"/><polygon points="607.9,416.0 609.2,415.0 610.6,416.6 609.4,417.6" fill="#690801"/><polygon points="609.2,417.4 610.4,416.4 611.9,417.9 610.6,419.0" fill="#690801"/><polygon points="610.4,418.8 611.7,417.7 613.1,419.3 611.9,420.3" fill="#690801"/><polygon points="611.7,420.1 613.0,419.1 614.4,420.7 613.1,421.7" fill="#690801"/><polygon points="612.9,421.5 614.2,420.5 615.7,422.0 614.4,423.0" fill="#690801"/><polygon points="614.2,422.8 615.5,421.8 616.9,423.4 615.7,424.4" fill="#951f03"/><polygon points="615.5,424.2 616.7,423.2 618.2,424.8 616.9,425.7" fill="#bb8328"/><polygon points="616.7,425.5 618.0,424.6 619.5,426.1 618.2,427.1" fill="#31b764"/><polygon points="618.0,426.9 619.3,425.9 620.7,427.5 619.4,428.5" fill="#306fbd"/><polygon points="605.0,411.2 608.6,408.2 610.1,409.8 606.5,412.7" fill="#690801"/><polygon points="606.3,412.5 609.9,409.5 611.3,411.1 607.8,414.1" fill="#690801"/><polygon points="607.6,413.9 611.1,410.9 612.6,412.5 609.0,415.5" fill="#690801"/><polygon points="608.8,415.3 612.4,412.3 613.9,413.9 610.3,416.8" fill="#690801"/><polygon points="610.1,416.6 613.7,413.7 615.2,415.3 611.6,418.2" fill="#690801"/><polygon points="611.4,418.0 615.0,415.1 616.5,416.7 612.8,419.6" fill="#690801"/><polygon points="612.6,419.4 616.3,416.5 617.7,418.1 614.1,420.9" fill="#690801"/><polygon points="613.9,420.7 617.5,417.9 619.0,419.5 615.3,422.3" fill="#690801"/><polygon points="615.2,422.1 618.8,419.3 620.3,420.9 616.6,423.7" fill="#9b2404"/><polygon points="616.4,423.4 620.1,420.7 621.6,422.3 617.9,425.0" fill="#b98829"/><polygon points="617.7,424.8 621.4,422.1 622.9,423.6 619.1,426.4" fill="#2cb569"/><polygon points="618.9,426.2 622.7,423.4 624.1,425.0 620.4,427.7" fill="#306fbd"/><polygon points="608.1,408.5 611.7,405.5 613.1,407.1 609.6,410.1" fill="#790e01"/><polygon points="609.4,409.9 613.0,406.9 614.4,408.6 610.9,411.5" fill="#690801"/><polygon points="610.7,411.3 614.2,408.4 615.7,410.0 612.1,412.9" fill="#690801"/><polygon points="612.0,412.7 615.5,409.8 617.0,411.4 613.4,414.3" fill="#690801"/><polygon points="613.2,414.1 616.8,411.2 618.3,412.8 614.7,415.7" fill="#690801"/><polygon points="614.5,415.5 618.1,412.6 619.6,414.2 616.0,417.1" fill="#690801"/><polygon points="615.8,416.9 619.4,414.0 620.9,415.6 617.3,418.5" fill="#690801"/><polygon points="617.1,418.3 620.7,415.4 622.2,417.0 618.5,419.8" fill="#7f1101"/><polygon points="618.3,419.6 622.0,416.8 623.5,418.4 619.8,421.2" fill="#ac3809"/><polygon points="619.6,421.0 623.3,418.2 624.8,419.9 621.1,422.6" fill="#b1982b"/><polygon points="620.9,422.4 624.6,419.6 626.1,421.3 622.4,424.0" fill="#21b175"/><polygon points="622.2,423.8 625.9,421.1 627.4,422.7 623.7,425.4" fill="#326bbc"/><polygon points="611.2,405.9 614.7,402.9 616.2,404.5 612.7,407.5" fill="#64bd3a"/><polygon points="612.5,407.3 616.0,404.3 617.5,406.0 614.0,408.9" fill="#71bc31"/><polygon points="613.8,408.7 617.4,405.8 618.9,407.4 615.3,410.4" fill="#79bb2c"/><polygon points="615.1,410.1 618.7,407.2 620.2,408.8 616.6,411.8" fill="#7dba2a"/><polygon points="616.4,411.6 620.0,408.6 621.5,410.3 617.9,413.2" fill="#7dba2a"/><polygon points="617.7,413.0 621.3,410.1 622.8,411.7 619.1,414.6" fill="#79bb2c"/><polygon points="619.0,414.4 622.6,411.5 624.1,413.2 620.4,416.0" fill="#6fbc33"/><polygon points="620.2,415.8 623.9,412.9 625.4,414.6 621.7,417.4" fill="#5fbc3e"/><polygon points="621.5,417.2 625.2,414.4 626.7,416.0 623.0,418.8" fill="#37b85f"/><polygon points="622.8,418.6 626.5,415.8 628.0,417.5 624.3,420.2" fill="#12a194"/><polygon points="624.1,420.0 627.8,417.2 629.3,418.9 625.6,421.6" fill="#326abc"/><polygon points="625.4,421.4 629.1,418.7 630.6,420.3 626.9,423.0" fill="#323e90"/></g><polyline points="614.6,403.2 630.3,420.4" fill="none" stroke="#30a8d8" stroke-width="2.6" opacity="0.95"/></g>
<g clip-path="url(#csed)"><use href="#ttsfd"/></g>
<rect x="604.9" y="487.2" width="10.6" height="60.5" fill="url(#gturbo)"/>
<line x1="615" y1="487.2" x2="620.5" y2="487.2" stroke="#333" stroke-width="1"/>
<text x="624.8" y="490.8" font-size="10" fill="#464672">8.</text>
<line x1="615" y1="547.7" x2="620.5" y2="547.7" stroke="#333" stroke-width="1"/>
<text x="624.8" y="551.3" font-size="10" fill="#464672">0.</text>
<text x="0" y="0" font-size="10.5" fill="#464672" text-anchor="middle" textLength="39" lengthAdjust="spacingAndGlyphs" transform="translate(659,516.2) rotate(-90)">Slip[m]</text>
</svg>
</body></html>
